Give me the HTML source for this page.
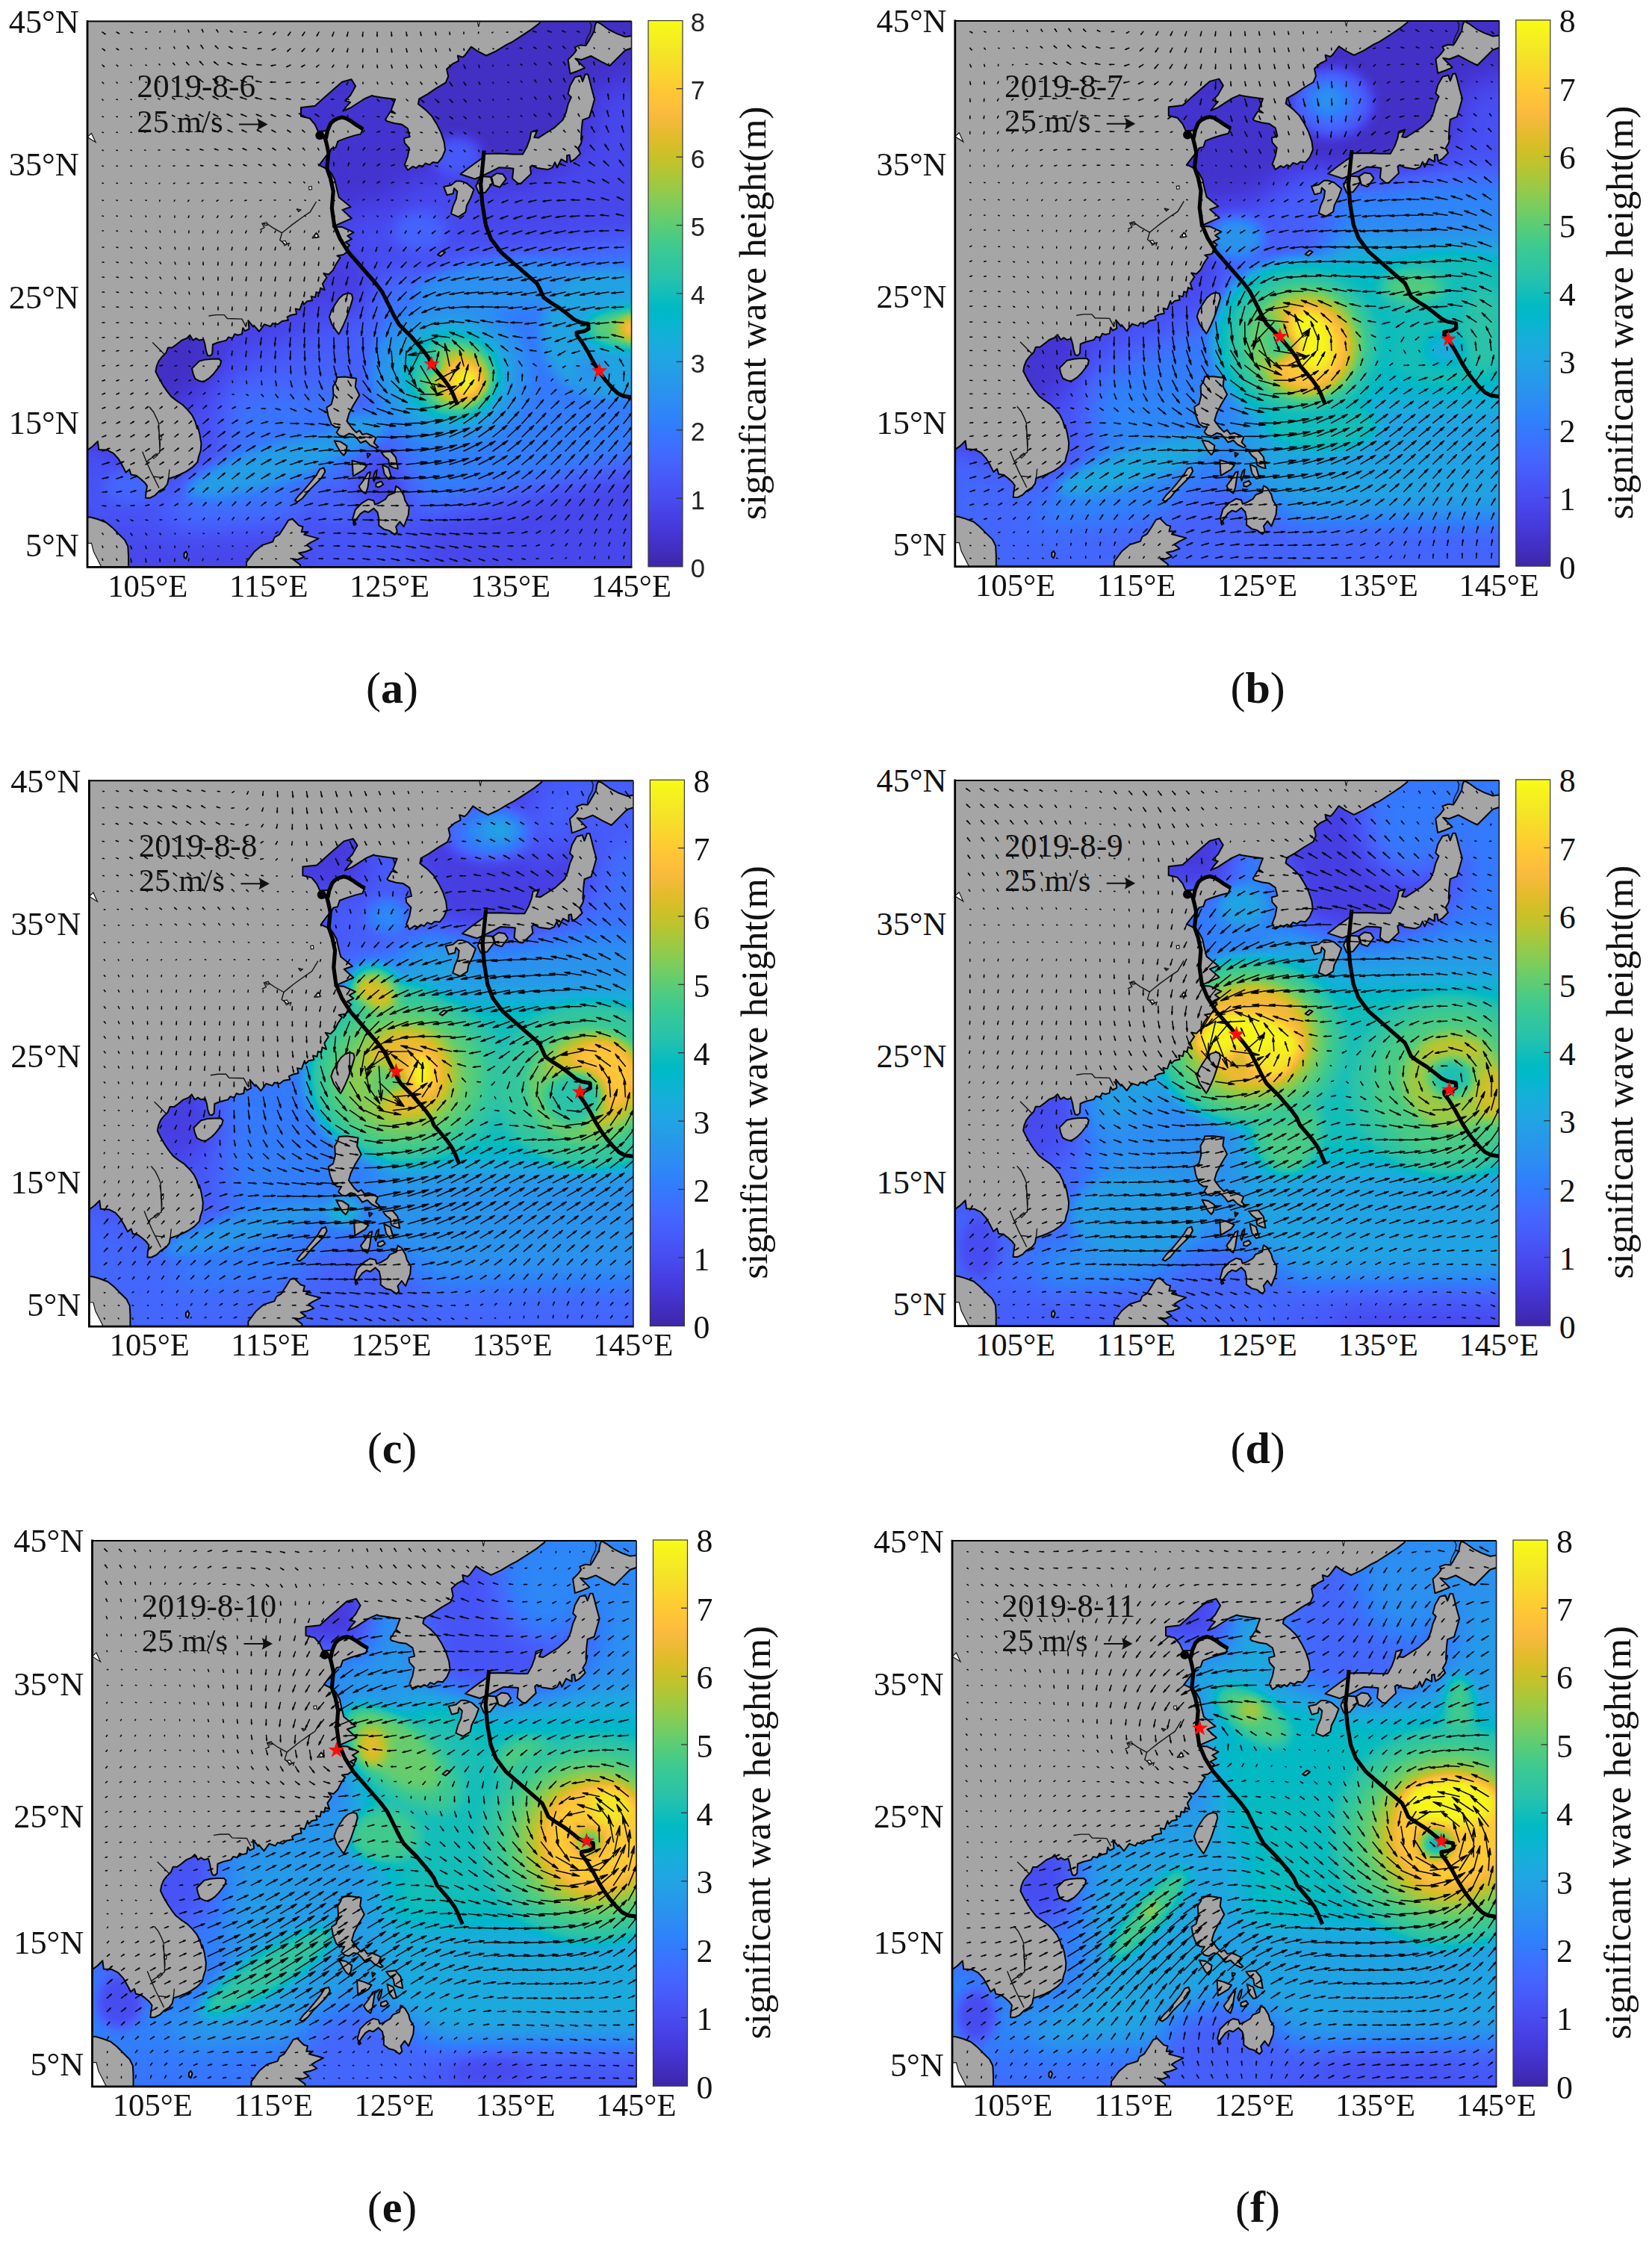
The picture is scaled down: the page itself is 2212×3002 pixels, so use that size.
<!DOCTYPE html><html><head><meta charset="utf-8"><title>Significant wave height</title>
<style>html,body{margin:0;padding:0;background:#fff}svg{display:block}.ser{font-family:"Liberation Serif","Times New Roman",serif;fill:#111}.san{font-family:"Liberation Sans",Arial,sans-serif;fill:#222}</style></head><body>
<svg width="2212" height="3002" viewBox="0 0 2212 3002">
<defs>
<filter id="cm" filterUnits="userSpaceOnUse" x="27" y="-61.4" width="908.6" height="910.8" color-interpolation-filters="sRGB">
<feComponentTransfer><feFuncR type="table" tableValues="0.2422 0.2504 0.2578 0.2647 0.2706 0.2751 0.2783 0.2803 0.2813 0.2810 0.2795 0.2760 0.2699 0.2602 0.2440 0.2206 0.1963 0.1834 0.1786 0.1764 0.1687 0.1540 0.1460 0.1380 0.1248 0.1113 0.0952 0.0689 0.0297 0.0036 0.0067 0.0433 0.0964 0.1408 0.1717 0.1938 0.2161 0.2470 0.2906 0.3406 0.3909 0.4456 0.5044 0.5616 0.6174 0.6720 0.7242 0.7738 0.8203 0.8634 0.9035 0.9393 0.9728 0.9956 0.9970 0.9952 0.9892 0.9786 0.9676 0.9610 0.9597 0.9628 0.9691 0.9769"/><feFuncG type="table" tableValues="0.1504 0.1650 0.1818 0.1978 0.2147 0.2342 0.2559 0.2782 0.3006 0.3228 0.3447 0.3667 0.3892 0.4123 0.4358 0.4603 0.4847 0.5074 0.5289 0.5499 0.5703 0.5902 0.6091 0.6276 0.6459 0.6635 0.6798 0.6948 0.7082 0.7203 0.7312 0.7411 0.7500 0.7584 0.7670 0.7758 0.7843 0.7918 0.7973 0.8008 0.8029 0.8024 0.7993 0.7942 0.7876 0.7793 0.7698 0.7598 0.7498 0.7406 0.7330 0.7288 0.7298 0.7434 0.7659 0.7893 0.8136 0.8386 0.8639 0.8890 0.9135 0.9373 0.9606 0.9839"/><feFuncB type="table" tableValues="0.6603 0.7076 0.7511 0.7952 0.8364 0.8710 0.8991 0.9221 0.9414 0.9579 0.9717 0.9829 0.9906 0.9952 0.9988 0.9973 0.9892 0.9798 0.9682 0.9520 0.9359 0.9218 0.9079 0.8973 0.8883 0.8763 0.8598 0.8394 0.8163 0.7917 0.7660 0.7394 0.7120 0.6842 0.6554 0.6251 0.5923 0.5567 0.5188 0.4789 0.4354 0.3909 0.3480 0.3045 0.2612 0.2227 0.1910 0.1646 0.1535 0.1596 0.1774 0.2100 0.2394 0.2371 0.2199 0.2028 0.1885 0.1766 0.1643 0.1537 0.1423 0.1265 0.1064 0.0805"/><feFuncA type="linear" slope="0" intercept="1"/></feComponentTransfer>
</filter>
<filter id="b0" filterUnits="userSpaceOnUse" x="27" y="-61.4" width="908.6" height="910.8" color-interpolation-filters="sRGB"><feGaussianBlur stdDeviation="20"/></filter>
<filter id="b1" filterUnits="userSpaceOnUse" x="27" y="-61.4" width="908.6" height="910.8" color-interpolation-filters="sRGB"><feGaussianBlur stdDeviation="8"/></filter>
<clipPath id="mc"><rect x="117" y="28.6" width="728.6" height="730.8"/></clipPath>
<linearGradient id="cb" x1="0" y1="1" x2="0" y2="0">
<stop offset="0.0000" stop-color="#3e26a8"/>
<stop offset="0.0159" stop-color="#402ab4"/>
<stop offset="0.0317" stop-color="#422ec0"/>
<stop offset="0.0476" stop-color="#4332cb"/>
<stop offset="0.0635" stop-color="#4537d5"/>
<stop offset="0.0794" stop-color="#463cde"/>
<stop offset="0.0952" stop-color="#4741e5"/>
<stop offset="0.1111" stop-color="#4747eb"/>
<stop offset="0.1270" stop-color="#484df0"/>
<stop offset="0.1429" stop-color="#4852f4"/>
<stop offset="0.1587" stop-color="#4758f8"/>
<stop offset="0.1746" stop-color="#465efb"/>
<stop offset="0.1905" stop-color="#4563fd"/>
<stop offset="0.2063" stop-color="#4269fe"/>
<stop offset="0.2222" stop-color="#3e6fff"/>
<stop offset="0.2381" stop-color="#3875fe"/>
<stop offset="0.2540" stop-color="#327cfc"/>
<stop offset="0.2698" stop-color="#2f81fa"/>
<stop offset="0.2857" stop-color="#2e87f7"/>
<stop offset="0.3016" stop-color="#2d8cf3"/>
<stop offset="0.3175" stop-color="#2b91ef"/>
<stop offset="0.3333" stop-color="#2797eb"/>
<stop offset="0.3492" stop-color="#259be8"/>
<stop offset="0.3651" stop-color="#23a0e5"/>
<stop offset="0.3810" stop-color="#20a5e3"/>
<stop offset="0.3968" stop-color="#1ca9df"/>
<stop offset="0.4127" stop-color="#18addb"/>
<stop offset="0.4286" stop-color="#12b1d6"/>
<stop offset="0.4444" stop-color="#08b5d0"/>
<stop offset="0.4603" stop-color="#01b8ca"/>
<stop offset="0.4762" stop-color="#02bac3"/>
<stop offset="0.4921" stop-color="#0bbdbd"/>
<stop offset="0.5079" stop-color="#19bfb6"/>
<stop offset="0.5238" stop-color="#24c1ae"/>
<stop offset="0.5397" stop-color="#2cc4a7"/>
<stop offset="0.5556" stop-color="#31c69f"/>
<stop offset="0.5714" stop-color="#37c897"/>
<stop offset="0.5873" stop-color="#3fca8e"/>
<stop offset="0.6032" stop-color="#4acb84"/>
<stop offset="0.6190" stop-color="#57cc7a"/>
<stop offset="0.6349" stop-color="#64cd6f"/>
<stop offset="0.6508" stop-color="#72cd64"/>
<stop offset="0.6667" stop-color="#81cc59"/>
<stop offset="0.6825" stop-color="#8fcb4e"/>
<stop offset="0.6984" stop-color="#9dc943"/>
<stop offset="0.7143" stop-color="#abc739"/>
<stop offset="0.7302" stop-color="#b9c431"/>
<stop offset="0.7460" stop-color="#c5c22a"/>
<stop offset="0.7619" stop-color="#d1bf27"/>
<stop offset="0.7778" stop-color="#dcbd29"/>
<stop offset="0.7937" stop-color="#e6bb2d"/>
<stop offset="0.8095" stop-color="#f0ba36"/>
<stop offset="0.8254" stop-color="#f8ba3d"/>
<stop offset="0.8413" stop-color="#febe3c"/>
<stop offset="0.8571" stop-color="#fec338"/>
<stop offset="0.8730" stop-color="#fec934"/>
<stop offset="0.8889" stop-color="#fccf30"/>
<stop offset="0.9048" stop-color="#fad62d"/>
<stop offset="0.9206" stop-color="#f7dc2a"/>
<stop offset="0.9365" stop-color="#f5e327"/>
<stop offset="0.9524" stop-color="#f5e924"/>
<stop offset="0.9683" stop-color="#f6ef20"/>
<stop offset="0.9841" stop-color="#f7f51b"/>
<stop offset="1.0000" stop-color="#f9fb15"/>
</linearGradient>
</defs>
<rect width="2212" height="3002" fill="#fff"/>
<g transform="translate(0,0)">
<g clip-path="url(#mc)">
<g filter="url(#cm)">
<rect x="27" y="-61.4" width="908.6" height="910.8" fill="#0e0e0e"/>
<g filter="url(#b0)">
<path d="M62.6,710.1 516.6,710.1 925.2,623.8 925.2,837.2 62.6,837.2Z" fill="#1d1d1d"/>
<path d="M493.9,542.1 925.2,542.1 925.2,610.2 562,691.9Z" fill="#434343"/>
<path d="M498.4,346.9 925.2,310.6 925.2,542.1 498.4,542.1Z" fill="#404040"/>
<path d="M607.4,233.4 925.2,210.7 925.2,319.6 516.6,356Z" fill="#1d1d1d"/>
<path d="M444,274.2 516.6,274.2 566.5,233.4 607.4,237.9 630.1,301.5 607.4,365 503,378.7 453,346.9Z" fill="#202020"/>
<path d="M289.6,496.7 380.4,458.1 471.2,415 507.5,428.6 507.5,542.1 289.6,551.2Z" fill="#2d2d2d"/>
<path d="M775.4,174.4 802.6,69.9 902.5,69.9 902.5,237.9 743.6,237.9Z" fill="#1d1d1d"/>
<path d="M244.2,542.1 471.2,510.3 507.5,610.2 425.8,701 198.8,710.1Z" fill="#3d3d3d"/>
<path d="M85.3,587.5 221.5,623.8 235.1,710.1 85.3,710.1Z" fill="#262626"/>
<path d="M403.1,664.7 480.3,646.5 562,678.3 562,791.8 403.1,791.8Z" fill="#262626"/>
<path d="M543.8,169.8 543.8,110.8 598.3,56.3 675.5,29.1 752.7,-7.2 902.5,-7.2 902.5,88.1 798.1,119.9 789,174.4 752.7,219.8 698.2,242.5 643.7,247 589.2,224.3Z" fill="#0a0a0a"/>
<path d="M380.4,92.6 525.7,92.6 566.5,169.8 566.5,233.4 516.6,278.8 444,278.8 421.3,201.6 380.4,169.8Z" fill="#0e0e0e"/>
<path d="M198.8,451.3 257.8,437.7 289.6,474 280.5,519.4 244.2,546.6 198.8,514.8Z" fill="#0a0a0a"/>
<path d="M280.5,442.2 362.2,396.8 453,351.4 471.2,419.5 380.4,462.6 298.7,501.2Z" fill="#1a1a1a"/>
<path d="M257.8,519.4 298.7,528.5 303.2,610.2 257.8,664.7 221.5,646.5Z" fill="#202020"/>
</g>
<g filter="url(#b1)">
<ellipse cx="362.2" cy="623.8" rx="118" ry="25" fill="#5c5c5c" transform="rotate(-17 362.2 623.8)"/>
<ellipse cx="480.3" cy="578.4" rx="40.9" ry="22.7" fill="#595959" transform="rotate(-20 480.3 578.4)"/>
<ellipse cx="176.1" cy="651" rx="36.3" ry="22.7" fill="#333333"/>
<ellipse cx="611.9" cy="208.4" rx="17.3" ry="13.6" fill="#4c4c4c"/>
<ellipse cx="611.9" cy="210.7" rx="34" ry="27.2" fill="#292929"/>
<ellipse cx="562" cy="310.6" rx="36.3" ry="27.2" fill="#303030"/>
<ellipse cx="675.5" cy="383.2" rx="118" ry="31.8" fill="#505050" transform="rotate(-5 675.5 383.2)"/>
<ellipse cx="816.2" cy="446.7" rx="90.8" ry="86.3" fill="#606060"/>
<ellipse cx="852.5" cy="439.9" rx="68.1" ry="27.2" fill="#9f9f9f"/>
<ellipse cx="866.2" cy="439.9" rx="38.6" ry="18.2" fill="#dcdcdc"/>
<ellipse cx="789" cy="496.7" rx="20.4" ry="18.2" fill="#535353"/>
<ellipse cx="602.8" cy="501.2" rx="106.7" ry="97.6" fill="#505050"/>
<ellipse cx="603.8" cy="501.7" rx="84" ry="77.2" fill="#606060"/>
<ellipse cx="605.1" cy="502.1" rx="67.2" ry="62.7" fill="#767676"/>
<ellipse cx="609.7" cy="504" rx="52.7" ry="49.9" fill="#9c9c9c"/>
<ellipse cx="615.6" cy="506.7" rx="39" ry="37.2" fill="#bfbfbf"/>
<ellipse cx="620.1" cy="508.5" rx="26.3" ry="25.4" fill="#e2e2e2"/>
<ellipse cx="624.6" cy="509.4" rx="13.6" ry="12.7" fill="#ffffff"/>
<ellipse cx="577.9" cy="489.9" rx="11.8" ry="10.9" fill="#737373"/>
<ellipse cx="453" cy="678.3" rx="27.2" ry="22.7" fill="#303030"/>
</g>
</g>
<path d="M108,20 723,20 722.7,30.7 713,38.4 700.5,46.7 685.2,56.5 678.2,59.9 664.3,68.3 651.1,74.5 639.2,68.3 630.9,62.7 623.2,73.2 619.7,76.6 612.8,74.5 614.2,81.5 605.8,85.7 598.1,92.6 600.2,102.4 596.8,110.7 584.9,117.7 572.4,126.1 561.3,132.3 559.9,139.3 569.6,146.9 578,155.3 584.9,166.4 590.5,177.6 594.7,190.1 596.1,201.2 591.9,211 586.3,217.9 579.4,217.2 575.2,220.7 569.6,218.6 565.4,223.5 561.3,221.4 557.1,224.9 552.9,222.8 545.9,227.7 541.8,220.7 545.9,209.6 548,198.5 541.8,191.5 541.1,185.2 548.7,183.1 545.9,172 537.6,166.4 527.8,165 518.1,162.3 516,160.2 522.3,149.7 529.2,151.8 523.7,147.6 529.2,133 513.9,130.9 500,128.8 498.3,127.8 488.6,132 477.5,139 469.1,144.5 459.4,148.7 463.5,143.2 469.1,136.9 462.1,134.8 469.1,127.8 476.1,115.3 470.5,106.3 458,109.7 446.8,119.5 435.7,129.2 421.8,141.8 403,143.9 403,155.7 414.8,158.5 421.8,166.8 425.9,175.9 438.5,175.2 445.4,162.6 455.2,157.8 464.9,159.2 476.1,166.1 485.8,172.4 483,179.4 474.7,181.4 463.5,184.9 452.4,189.1 449.6,197.5 444,198.8 441.3,203.7 435.7,210 427.3,221.1 438.5,226.7 443.3,231.6 448.2,240.6 451,253.1 453.8,264.3 469.5,277 458.3,281.1 470.9,292.3 445.8,303.4 458.3,304.1 473.6,311.1 465.3,315.9 470.9,320.1 462.5,324.3 468.1,328.5 462.5,332.6 465.3,336.8 459.7,341 451.4,342.4 455.6,345.2 450,353.5 445.8,361.9 440.2,367.5 433.3,366.1 437.5,371.6 431.9,380 434.7,388.3 429.1,385.6 427.7,392.5 423.5,391.1 422.1,398.1 416.6,396.7 418,402.3 411,403.6 406.8,407.8 405.4,403.6 401.3,414.8 395.7,413.4 397.1,420.4 390.1,421.7 384.5,424.5 385.9,428.7 377.6,430.1 372,434.3 365.1,432.9 362.3,437.1 353.9,434.3 347,444 340,435.7 339.2,437.6 332.3,429.2 333.6,440.4 328.1,443.2 325.3,439 323.9,447.3 318.3,448.7 314.2,447.3 311.4,452.9 305.8,451.5 303,455.7 297.5,457.1 291.9,458.5 284.9,461.3 284.2,473.8 281.4,476.6 278,475.9 275.9,469.6 274.5,461.3 272.4,454.3 266.8,455.7 262.6,452.9 258.5,455.7 254.3,448.7 250.1,452.9 243.2,455.7 236.2,461.3 230.6,465.4 225.1,465.4 222.3,472.4 216.7,478 212.5,483.5 209.7,490.5 208.4,497.5 212.5,505.8 218.1,515.6 223.7,523.9 229.2,530.9 236.2,536.4 244.5,542 251.5,549 257.1,555.9 261.3,564.3 264,574 264.5,570 267.3,581.1 269.4,593.7 268.7,603.4 265.9,611.8 264.5,618.7 257.6,625.7 249.2,631.3 240.9,635.4 233.9,638.2 225.6,641 224.2,648 220,653.5 213,657.7 207.5,663.3 200.5,666.8 194.9,666.8 195.6,659.1 197,650.7 193.5,645.9 188,641 182.4,636.8 175.4,635.4 173.3,628.5 168.5,632.6 164.3,624.3 158.7,614.5 151.8,606.9 143.4,602.7 132.3,602 130.9,590.9 123.9,597.8 117,602.7 108,602Z M108,690 117,692.5 121.1,692.5 130.9,695.3 142,699.5 150.4,706.4 158.7,714.8 167.1,723.1 171.3,731.5 172,744 172,767.7 108,768Z M330,752.7 340.5,738.7 351.1,729.9 365.1,725.5 367.7,719.4 373.9,715.9 380.9,705.3 386.2,696.5 391.4,694.8 394.9,698.3 400.2,703.6 405.5,705.3 403.7,712.3 412.5,712.3 407.2,715.9 426.5,721.1 416,726.4 410.7,729.9 417.8,735.2 409,738.7 400.2,740.4 407.2,745.7 398.5,749.2 391.4,748.3 402,756.2 402,768.5 330,768.5Z M394.9,670.2 400.2,663.2 407.2,656.2 416,645.6 423,636.9 428.3,628.1 433.6,626.3 435.3,631.6 430.1,640.4 421.3,649.1 412.5,657.9 405.5,666.7 398.5,672Z M472.2,694.8 475.7,682.5 484.5,673.7 493.2,668.5 500.3,670.2 502,675.5 507.3,673.7 516.1,668.5 519.6,663.2 528.4,659.7 530.1,650.9 535.4,654.4 540.6,663.2 542.4,670.2 547.7,679 546.8,689.5 540.6,705.3 535.4,698.3 530.1,705.3 531.9,712.3 528.4,715.9 521.3,710.6 514.3,708.8 507.3,703.6 507.3,694.8 505.5,686 500.3,680.7 493.2,686 488,684.3 482.7,687.8 477.4,694.8 473.9,700.1Z M473.1,700.9 475.7,699.7 476.6,701.8 474.3,703.2Z M246.5,741 249,738.5 251,742 249,748 246.5,746Z M586,341 592,336 596,338 590,343Z M257.1,493.3 261.3,489.1 266.8,483.5 275.2,481.4 283.5,480.7 293.3,480.5 296.1,483.5 294.7,489.1 290.5,494.7 286.3,500.2 280.7,505.8 272.4,511.4 266.8,510 261.3,507.2 258.5,500.2Z M466,392.5 470.9,393.9 472.3,399.5 469.5,409.2 466.7,417.6 463.9,425.9 459.7,435.7 455.6,444 453.5,447.5 450,442.6 444.4,434.3 440.9,424.5 443.7,416.2 448.6,407.8 454.2,399.5 459.7,394.6Z M451.3,505.3 461.8,504.6 477.1,506.7 475.7,517.8 481.3,529 472.9,542.9 467.3,554 464.5,563.8 471.5,573.5 477.1,579.1 481.3,576.3 485.4,581.9 491,580.5 498,583.3 503.5,586.1 500.7,593 506.3,598.6 503.5,600 495.2,595.8 489.6,590.2 482.6,593 478.5,587.5 472.9,581.9 467.3,580.5 460.4,584.7 454.8,583.3 450.6,579.1 454.8,572.1 449.2,572.1 443.7,568 439.5,556.8 437.4,545.7 443.7,541.5 446.5,530.4 445.8,517.8 449.9,510.9Z M447.8,590.2 456.2,591.6 464.5,597.2 463.2,605.6 460.4,609.7 456.2,605.6 452,598.6Z M471.5,616.7 481.3,619.5 491,623.6 486.8,629.2 479.9,633.4 472.9,637.6 472.2,626.4Z M491.7,606.9 495.9,608.3 492.4,612.5Z M510.5,605.6 523,604.2 530,612.5 532.8,627.8 527.2,626.4 521.6,623.6 520.2,615.3 514.7,611.1Z M511.9,622.3 520.2,626.4 524.4,640.4 520.2,641.7 514.7,634.8Z M492.4,633.4 495.9,632 493.8,643.1 492.4,652.9 489.6,661.2 484,657.1 480.6,651.5 486.8,643.1Z M502.1,632 504.9,629.2 503.5,637.6 500.7,644.5 499.4,640.4Z M503.5,647.3 510.5,644.5 513.3,648.7 507.7,652.2 503.5,651.5Z M616.5,233.3 626.2,225.7 635.9,218.7 645.7,211.8 649.2,205.9 668,205.6 687.5,206.5 700,206.5 705.6,196.5 709.7,185.3 711.1,177 719.5,174.2 715.3,183.9 720.9,184.6 730.6,178.4 741.7,171.4 753.6,160.6 757.8,150.9 760.6,139.7 764.8,130 760.6,125.8 763.4,114.7 769.7,103.5 777.3,101.4 780.1,109.1 783.6,99.4 787.1,99.4 789.1,106.3 792.6,120.2 796.1,132.8 792.6,145.3 789.1,157.1 780.1,160.6 778.7,173.1 778,187.1 780,182.5 777.9,192.3 773.8,199.2 777.2,205.5 769.6,213.2 764,216.6 762.6,207.6 759.1,208.3 759.1,217.3 751.5,213.2 745.9,224.3 743.1,217.3 739.7,224.3 733.4,227.1 719.5,225 712.5,221.5 709.7,223.6 711.1,232.6 697.2,245.9 693,245.2 686.1,238.9 687.5,225.7 681.9,225 668,224.3 656.8,230.1 645.7,235.4 635.9,239.6Z M642.9,236.1 656.8,237.1 659.6,245.2 649.9,257.7 641.5,259.1 637.3,249.4Z M658.2,236.8 665.2,232 673.5,233.3 677.7,239.6 669.4,250.7 661,248Z M616.5,242.4 624.8,245.2 634.5,253.5 630.4,264.7 624.8,275.8 623.4,284.2 613.7,290.4 603.9,286.2 606.7,275.8 610.9,266.1 612.3,256.3 608.1,252.1 606.7,259.1 598.4,261.2 595.6,253.5 594.2,250.1 603.9,248 610.9,242.4Z M798.9,29 805.2,32.5 814.9,39.5 826,45.1 837.2,49.2 853.9,47.1 853.9,61.8 837.2,67.3 828.8,75.7 820.5,84 816.3,88.2 805.2,82.6 791.2,75 778.7,79.9 770.4,78.5 782.9,91 773.1,95.2 763.4,98.7 760.6,79.9 767.6,72.9 771.7,67.3 769.7,63.2 777.3,60.4 784.3,61.1 787.1,56.9 795.4,42.3 796.8,33.9Z" fill="#a5a5a5" stroke="#050505" stroke-width="2" stroke-linejoin="round"/>
<path d="M108,727 117,727.3 122.5,727.3 125.3,738.5 130.9,749.6 136.5,760.7 108,768Z M637.5,20 644,20 640.8,36Z M117,183.5 122.5,178.5 128,190.5Z M378,323 382,322.5 384.5,327 381,329Z M353,298.5 357,297.5 358.5,301 355,302Z M421.5,314.5 425.5,313 426,318 422,318.5Z M413.5,250 417,249.5 417.5,253.5 414,254Z M213,582 216.5,583 216,589 213,588Z M204,611.5 209,607.5 211,609.5 206,614Z" fill="#fff" stroke="#111" stroke-width="1.2"/>
<path d="M789.1,27.7 791.9,33.9 790.5,42.3 786.4,49.9 784.3,56.2 784.3,60.4 M423.5,270 415.2,283.9 406.8,289.5 391.5,300.6 384.5,306.2 377.6,311.8 374.8,321.5 381.8,327.1 387.3,325.7 385.9,329.9 M377.6,311.8 365.1,304.8 358.1,299.9 351.1,299.2 353.9,304.8 348.4,307.6 M418,318.7 423.5,311.8 427,317.3 418,318.7 M397.1,279.7 402.6,281.1 399.9,283.2 397.1,279.7 M279.4,423 289.1,421.6 300.2,421.6 304.4,426.5 323.9,427.1 329.5,437.6 M204.2,458.5 220.9,475.2 M211.6,570 213.7,583.9 214.4,595.1 213.7,606.2 207.5,610.4 199.1,615.9 196.3,618.7 M190.7,604.8 196.3,618.7 201.9,631.3 207.5,642.4 213,653.5 M226.9,628.5 225.6,641 M206.1,638.2 218.6,639.6 M200,544.8 205.6,551.7 209.7,560.1 212.5,567.1 213.2,581 213.9,600.1" fill="none" stroke="#111" stroke-width="1.4"/>
<text class="ser" x="183.3" y="130.3" font-size="43.3" fill="#0b0b0b">2019-8-6</text>
<text class="ser" x="183.3" y="176.8" font-size="42.8" fill="#0b0b0b">25 m/s</text>
<path d="M320,166.5H356" stroke="#111" stroke-width="2" fill="none"/><path d="M358.5,166.5L344,158.5Q348,166.5 344,174.5Z" fill="#111"/>
<path d="M137,43l4.1,2.8m-1.1-1.1l1.1,1.1l-1.4-.6M156,43l3.5,1.9m-1-.8l1,.8l-1.2-.4M175,43l2.8,.9M195,43l1.8-.1M214,43l.8-1.1M234,43l-.2-2.1M253,43l-1.1-2.9M272,43l-1.6-3.6m.3,1.2l-.3-1.2l.7,1M292,43l-2.1-3.1m.5,1l-.5-1l.8,.8M311,43l-2.7-1.8m.7,.7l-.7-.7l.9,.4M330,43l-3.1-.2M350,43l-3.3,1.5m1.1-.3l-1.1,.3l.9-.7M369,43l-3.2,3.3m1.2-.8l-1.2,.8l.8-1.2M389,43l-3.3,4.5m1.2-1.2l-1.2,1.2l.7-1.5M408,43l-3.2,4.8m1.2-1.3l-1.2,1.3l.7-1.6M427,43l-2.8,5.1m1.1-1.4l-1.1,1.4l.5-1.7M447,43l-2.1,5.4m.9-1.5l-.9,1.5l.3-1.7M466,43l-1.4,5.6m.7-1.6l-.7,1.6l.1-1.8M486,43l-.6,5.7m.5-1.7l-.5,1.7l-.1-1.8M505,43l0,5.7m.3-1.7l-.3,1.7l-.3-1.7M524,43l.5,5.5m.2-1.7l-.2,1.7l-.5-1.6M544,43l.8,5.2m.1-1.6l-.1,1.6l-.5-1.5M563,43l.9,4.6m0-1.4l0,1.4l-.5-1.3M583,43l.7,4m0-1.2l0,1.2l-.5-1.2M602,43l.4,3.3m.1-1l-.1,1l-.3-1M621,43l0,2.4M641,43l-.5,1.6M660,43l-1.1,.9M680,43l-1.6,.2M699,43l-2-.4M718,43l-4.5-1.5m1.3,.7l-1.3-.7l1.4,.2M738,43l-4.6-1.8m1.3,.8l-1.3-.8l1.5,.3M757,43l-4.2-1.8m1.1,.8l-1.1-.8l1.3,.3M776,43l-3.3-1.3m.9,.6l-.9-.6l1.1,.2M796,43l1.2,.4M815,43l1.2,.4M835,43l1.6,2M137,65l3.3,2.6m-.8-1l.8,1l-1.1-.6M156,65l2.7,1.8m-.7-.7l.7,.7l-.9-.4M175,65l1.9,.9M195,65l1.2,.4M214,65l-.2-1.2M234,65l-1.2-2.4M253,65l-2.2-3.5m.5,1.2l-.5-1.2l.9,.9M272,65l-3-4.5m.7,1.5l-.7-1.5l1.2,1.2M292,65l-3.8-3.7m.9,1.3l-.9-1.3l1.4,.9M311,65l-4.4-2.5m1.2,1l-1.2-1l1.5,.5M330,65l-4.8-1.1m1.4,.6l-1.4-.6l1.5,.1M350,65l-4.8,.5m1.5,.1l-1.5-.1l1.4-.4M369,65l-4.7,2.2m1.5-.4l-1.5,.4l1.3-.9M389,65l-4.2,3.8m1.5-.9l-1.5,.9l1-1.4M408,65l-3.8,3.9m1.4-.9l-1.4,.9l.9-1.4M427,65l-3.1,4m1.2-1l-1.2,1l.7-1.4M447,65l-2.2,4.3m.9-1.2l-.9,1.2l.4-1.4M466,65l-1.4,4.6m.7-1.3l-.7,1.3l.1-1.4M486,65l-.5,4.8m.4-1.4l-.4,1.4l-.1-1.5M505,65l.2,4.9m.2-1.5l-.2,1.5l-.3-1.5M524,65l.8,4.9m0-1.5l0,1.5l-.5-1.4M544,65l1.1,4.7m-.1-1.5l.1,1.5l-.6-1.3M563,65l1.3,4.4m-.1-1.4l.1,1.4l-.6-1.2M583,65l1.2,3.9m-.1-1.2l.1,1.2l-.6-1.1M602,65l.9,3.2m-.1-1l.1,1l-.5-.9M621,65l.5,2.5M641,65l0,1.7M660,65l1.2,.4M680,65l-2,.4M699,65l-2.8-.9M718,65l-3.4-2m.9,.8l-.9-.8l1.1,.4M738,65l-3.5-2.7m.9,1l-.9-1l1.2,.6M757,65l-3.2-3m.8,1.1l-.8-1.1l1.1,.7M776,65l-1.3-1.5M796,65l-.7-1.2M815,65l1.2,.4M835,65l1.2,.4M137,87l2.5,2.3m-.6-.8l.6,.8l-.9-.5M156,87l1.9,1.6M175,87l1,.8M195,87l1.2,.4M214,87l-1-1.3M234,87l-2.2-2.5m.5,.9l-.5-.9l.8,.6M253,87l-3.4-3.6m.8,1.3l-.8-1.3l1.2,.9M272,87l-4.6-4.8m1.1,1.7l-1.1-1.7l1.7,1.2M292,87l-5.4-4.2m1.4,1.6l-1.4-1.6l1.9,.9M311,87l-6-3.2m1.6,1.3l-1.6-1.3l2,.6M330,87l-6.2-1.9m1.8,.9l-1.8-.9l2,.2M350,87l-6.2-.4m1.8,.5l-1.8-.5l1.9-.2M369,87l-5.9,1.1m1.8,0l-1.8,0l1.7-.7M389,87l-5.3,2.6m1.7-.5l-1.7,.5l1.4-1.1M408,87l-4.3,2.5m1.4-.5l-1.4,.5l1.1-1M427,87l-3.3,2.7m1.1-.6l-1.1,.6l.8-1M447,87l-2.2,3m.8-.8l-.8,.8l.5-1M466,87l-1.2,3.3m.6-.9l-.6,.9l.2-1.1M486,87l-.3,3.6m.3-1.1l-.3,1.1l-.1-1.1M505,87l.5,3.8m.1-1.2l-.1,1.2l-.4-1.1M524,87l1.1,4m-.1-1.3l.1,1.3l-.6-1.1M544,87l1.5,4m-.2-1.3l.2,1.3l-.7-1.1M563,87l1.7,3.8m-.3-1.2l.3,1.2l-.7-1M583,87l1.6,3.5m-.3-1.1l.3,1.1l-.7-.9M602,87l1.4,3m-.3-1l.3,1l-.6-.8M621,87l2,4.7m-.3-1.5l.3,1.5l-.9-1.3M641,87l1,3.3m-.1-1l.1,1l-.5-.9M660,87l-.1,1.8M680,87l1.2,.4M699,87l-2-1.2M718,87l-2.6-2.5m.6,.9l-.6-.9l.9,.6M738,87l-2.9-3.5m.7,1.2l-.7-1.2l1.1,.9M757,87l-2.7-4.1m.6,1.4l-.6-1.4l1,1.1M776,87l-1.1-2.2M796,87l-1.2-4.3m.1,1.4l-.1-1.4l.6,1.2M815,87l.1-1.9M835,87l1.6-3m-.7,.8l.7-.8l-.3,1M137,110l1.7,1.8M156,110l1.1,1.2M175,110l1.2,.4M195,110l1.2,.4M214,110l-1.8-1.3M234,110l-3-2.3m.8,.9l-.8-.9l1,.5M253,110l-4.3-3.4m1.1,1.3l-1.1-1.3l1.5,.8M272,110l-5.7-4.4m1.5,1.6l-1.5-1.6l2,1M292,110l-6.8-4.4m1.8,1.7l-1.8-1.7l2.3,.9M311,110l-7.3-3.6m2,1.5l-2-1.5l2.4,.7M330,110l-7.5-2.6m2.1,1.2l-2.1-1.2l2.4,.3M350,110l-7.4-1.4m2.1,.8l-2.1-.8l2.3,0M369,110l-7,0m2.1,.4l-2.1-.4l2.1-.4M389,110l-5.9,.7m1.8,.1l-1.8-.1l1.7-.5M408,110l-4.5,.8m1.4,0l-1.4,0l1.3-.5M427,110l-3.3,1m1-.1l-1,.1l.9-.5M447,110l-2.1,1.4M466,110l-1.9,3.5m.8-1l-.8,1l.4-1.2M486,110l0,2.2M505,110l.9,2.5M524,110l1.5,2.8m-.3-.9l.3,.9l-.6-.8M544,110l1.9,3m-.4-1l.4,1l-.7-.8M563,110l2.1,3m-.5-1l.5,1l-.8-.8M583,110l2.1,2.8m-.5-1l.5,1l-.8-.7M602,110l3.6,5m-.8-1.7l.8,1.7l-1.4-1.3M621,110l2.8,4.1m-.6-1.4l.6,1.4l-1.1-1.1M641,110l1.7,2.9m-.4-1l.4,1l-.7-.8M660,110l.6,1.5M680,110l1.2,.4M699,110l-1.5-1.5M718,110l-2.2-2.9m.5,1l-.5-1l.8,.7M738,110l-2.6-4.1m.5,1.4l-.5-1.4l1,1.1M757,110l-2.6-5.1m.5,1.7l-.5-1.7l1.1,1.4M776,110l-1.1-2.8M796,110l-1.4-6m.1,1.9l-.1-1.9l.8,1.7M815,110l-.3-5.8m-.2,1.8l.2-1.8l.4,1.7M835,110l1-5.4m-.6,1.6l.6-1.6l0,1.7M137,133l1,1.2M156,133l1.2,.4M175,133l1.2,.4M195,133l-1.2-.3M214,133l-2.2-1.1M234,133l-3.4-2m.9,.8l-.9-.8l1.1,.4M253,133l-4.6-2.9m1.2,1.1l-1.2-1.1l1.5,.6M272,133l-5.8-3.6m1.5,1.4l-1.5-1.4l2,.7M292,133l-7.1-4m1.9,1.6l-1.9-1.6l2.4,.8M311,133l-8.1-3.8m2.2,1.6l-2.2-1.6l2.7,.7M330,133l-8.4-3m2.3,1.4l-2.3-1.4l2.7,.4M350,133l-8.1-2.1m2.3,1.1l-2.3-1.1l2.5,.2M369,133l-6.9-1.4m2,.8l-2-.8l2.2,0M389,133l-5.6-1m1.6,.6l-1.6-.6l1.7,0M408,133l-4.3-.8m1.2,.5l-1.2-.5l1.3,0M427,133l-3-.5M447,133l-3.5-.2m1.1,.3l-1.1-.3l1.1-.2M466,133l1.2,.4M486,133l1.2,.4M505,133l2.5,2.6m-.6-.9l.6,.9l-.9-.6M524,133l3.7,3.4m-.9-1.2l.9,1.2l-1.3-.8M544,133l2.2,2M563,133l4.8,4.3m-1.2-1.6l1.2,1.6l-1.7-1M583,133l4.6,4.3m-1.1-1.6l1.1,1.6l-1.6-1M602,133l4.1,4m-1-1.4l1,1.4l-1.5-1M621,133l3.2,3.4m-.8-1.2l.8,1.2l-1.1-.8M641,133l2.1,2.4M660,133l.8,1.3M680,133l1.2,.4M699,133l-1.4-1.6M718,133l-2.3-3m.5,1l-.5-1l.9,.8M738,133l-2.8-4.4m.6,1.5l-.6-1.5l1.1,1.2M757,133l-2.9-5.6m.6,1.8l-.6-1.8l1.2,1.5M776,133l-1.3-3.2m.2,1l-.2-1l.6,.9M796,133l-1-3.5m.1,1.1l-.1-1.1l.5,1M815,133l-1.1-7.3m-.1,2.3l.1-2.3l.8,2.1M835,133l0-7.2m-.4,2.2l.4-2.2l.4,2.2M137,156l1.2,.4M156,156l1.2,.4M175,156l1.2,.4M195,156l-1.4-.3M214,156l-2.4-.9M234,156l-3.4-1.6m.9,.7l-.9-.7l1.1,.3M253,156l-4.4-2.3m1.2,.9l-1.2-.9l1.5,.4M272,156l-5.5-2.9m1.5,1.2l-1.5-1.2l1.8,.5M292,156l-6.4-3.2m1.7,1.3l-1.7-1.3l2.1,.6M311,156l-7-3.3m1.9,1.4l-1.9-1.4l2.3,.6M330,156l-7.2-3.1m2,1.3l-2-1.3l2.3,.5M350,156l-6.8-2.8m1.9,1.2l-1.9-1.2l2.2,.4M369,156l-6-2.4m1.7,1.1l-1.7-1.1l1.9,.4M389,156l-5-2.2m1.4,.9l-1.4-.9l1.6,.4M408,156l-7.5-3.9m2,1.6l-2-1.6l2.5,.7M427,156l-5.1-3.3m1.3,1.3l-1.3-1.3l1.7,.7M447,156l-2.7-2.5m.7,.9l-.7-.9l.9,.6M466,156l-.5-1.6M486,156l1.5-.6M505,156l3.1,.4M524,156l2.1,.7M544,156l2.5,1.1M563,156l2.6,1.4M583,156l4.9,3.1m-1.3-1.2l1.3,1.2l-1.6-.6M602,156l4.2,3.1m-1.1-1.2l1.1,1.2l-1.4-.7M621,156l3.2,2.7m-.8-1l.8,1l-1.1-.6M641,156l2,2.1M660,156l.6,1.1M680,156l1.2,.4M699,156l-1.8-1.4M718,156l-2.8-2.8m.7,1l-.7-1l1,.7M738,156l-3.4-4.3m.8,1.5l-.8-1.5l1.3,1.1M757,156l-1.8-2.8m.4,.9l-.4-.9l.7,.7M776,156l-1.8-3.4m.3,1.1l-.3-1.1l.7,.9M796,156l-3-7.6m.5,2.4l-.5-2.4l1.3,2.1M815,156l-2.3-8.1m.2,2.6l-.2-2.6l1.1,2.3M835,156l-1.2-8.3m-.1,2.6l.1-2.6l.8,2.4M137,177l1.2,.4M156,177l1.2,.4M175,177l1.2,.4M195,177l-1.4-.1M214,177l-2.2-.5M234,177l-3.1-1m.9,.5l-.9-.5l1,.1M253,177l-4-1.6m1.1,.7l-1.1-.7l1.3,.2M272,177l-4.9-2.1m1.3,.9l-1.3-.9l1.6,.4M292,177l-5.5-2.5m1.5,1.1l-1.5-1.1l1.8,.4M311,177l-6-2.8m1.6,1.2l-1.6-1.2l1.9,.5M330,177l-6-2.9m1.6,1.2l-1.6-1.2l2,.5M350,177l-5.7-2.9m1.5,1.2l-1.5-1.2l1.9,.5M369,177l-5.1-2.8m1.4,1.1l-1.4-1.1l1.7,.6M389,177l-4.2-2.7m1.1,1.1l-1.1-1.1l1.4,.6M408,177l-3.1-2.6m.8,.9l-.8-.9l1.1,.6M427,177l-2-2.3M447,177l-.9-2M466,177l.1-1.6M486,177l2.1-2.3M505,177l3.5-1.2m-1.1,.2l1.1-.2l-1,.6M524,177l4.5-.2m-1.4-.2l1.4,.2l-1.3,.3M544,177l5,.7m-1.5-.5l1.5,.5l-1.6,.1M563,177l2.5,.8M583,177l2.3,1M602,177l3.9,2.3m-1-.9l1,.9l-1.3-.5M621,177l2.8,2.3m-.7-.8l.7,.8l-1-.5M641,177l1.4,1.9M660,177l0,1.2M680,177l-1.4,.2M699,177l-2.6-1M718,177l-3.7-2.3m1,.9l-1-.9l1.2,.5M738,177l-2.2-1.9M757,177l-2.4-2.5m.6,.9l-.6-.9l.9,.6M776,177l-2.3-3.2m.5,1.1l-.5-1.1l.9,.8M796,177l-4.3-7.4m.9,2.5l-.9-2.5l1.7,2M815,177l-3.6-8.3m.6,2.7l-.6-2.7l1.5,2.3M835,177l-2.6-8.8m.3,2.8l-.3-2.8l1.3,2.5M137,201l1.2,.4M156,201l1.2,.4M175,201l1.2,.4M195,201l-1.2,.1M214,201l-1.9-.1M234,201l-2.7-.4M253,201l-3.4-.8m1,.4l-1-.4l1.1,.1M272,201l-4.1-1.2m1.1,.6l-1.1-.6l1.3,.1M292,201l-4.6-1.7m1.3,.8l-1.3-.8l1.5,.2M311,201l-4.9-2m1.3,.9l-1.3-.9l1.6,.3M330,201l-4.9-2.3m1.3,1l-1.3-1l1.6,.4M350,201l-4.6-2.5m1.2,1l-1.2-1l1.5,.5M369,201l-4-2.6m1.1,1l-1.1-1l1.4,.6M389,201l-3.3-2.7m.8,1l-.8-1l1.1,.6M408,201l-2.4-2.7m.6,.9l-.6-.9l.9,.7M427,201l-1.4-2.6M447,201l-.8-4.7m0,1.5l0-1.5l.5,1.4M466,201l1-4.1m-.5,1.2l.5-1.2l-.1,1.3M486,201l2.5-3.2m-.9,.8l.9-.8l-.6,1.1M505,201l3.7-2.3m-1.2,.5l1.2-.5l-1,.9M524,201l4.5-1.3m-1.4,.1l1.4-.1l-1.3,.6M544,201l4.8-.3m-1.4-.2l1.4,.2l-1.4,.3M563,201l2.3,.3M583,201l2,.7M602,201l3.1,1.9m-.8-.7l.8,.7l-1-.4M621,201l1.9,2.1M641,201l.4,2M660,201l-1.1,1.5M680,201l-2.6,.8M699,201l-3.9-.2m1.2,.3l-1.2-.3l1.2-.2M718,201l-2.5-.7M738,201l-2.9-1.3M757,201l-3.1-2m.8,.8l-.8-.8l1,.4M776,201l-6.2-5.4m1.6,2l-1.6-2l2.2,1.3M796,201l-5.8-6.6m1.4,2.3l-1.4-2.3l2.1,1.7M815,201l-5.2-7.7m1.1,2.6l-1.1-2.6l2,2M835,201l-4.3-8.5m.8,2.8l-.8-2.8l1.8,2.3M137,222l1.2,.4M156,222l1.2,.4M175,222l1.2,.4M195,222l1.2,.4M214,222l-1.5,.4M234,222l-2.1,.2M253,222l-2.7,0M272,222l-3.3-.4m1,.3l-1-.3l1-.1M292,222l-3.7-.7m1.1,.4l-1.1-.4l1.1,0M311,222l-3.9-1.1m1.1,.6l-1.1-.6l1.2,.1M330,222l-3.9-1.5m1.1,.7l-1.1-.7l1.3,.2M350,222l-3.7-1.8m1,.7l-1-.7l1.2,.3M369,222l-3.2-2m.8,.8l-.8-.8l1.1,.4M389,222l-2.5-2.2m.6,.8l-.6-.8l.9,.5M408,222l-1.8-2.3M427,222l-.9-2.3M447,222l-.2-4.4m-.2,1.3l.2-1.3l.3,1.3M466,222l1.3-4m-.6,1.1l.6-1.1l-.2,1.3M486,222l2.6-3.3m-1,.8l1-.8l-.6,1.1M505,222l3.5-2.5m-1.2,.5l1.2-.5l-.9,.9M524,222l4.1-1.5m-1.3,.2l1.3-.2l-1.1,.7M544,222l2.1-.3M563,222l3.8,.3m-1.1-.3l1.1,.3l-1.2,.1M583,222l3.1,1.1m-.9-.5l.9,.5l-1-.2M602,222l2,1.7M621,222l.6,2.1M641,222l-.5,1.1M660,222l-1.3,1M680,222l-2,.8M699,222l-2.7,.4M718,222l-3.3-.1m1,.2l-1-.2l1-.2M738,222l-3.7-.7m1.1,.4l-1.1-.4l1.1,0M757,222l-7.7-2.7m2.2,1.3l-2.2-1.3l2.5,.4M776,222l-7.8-4.1m2.1,1.7l-2.1-1.7l2.6,.8M796,222l-7.4-5.4m1.9,2l-1.9-2l2.5,1.2M815,222l-6.7-6.5m1.6,2.3l-1.6-2.3l2.4,1.6M835,222l-5.8-7.5m1.3,2.6l-1.3-2.6l2.2,1.9M137,245l1.2,.4M156,245l1.2,.4M175,245l1.2,.4M195,245l1.2,.4M214,245l-.9,.9M234,245l-1.5,.9M253,245l-2,.8M272,245l-2.5,.6M292,245l-2.8,.3M311,245l-3,0M330,245l-3-.4M350,245l-2.8-.7M369,245l-2.4-1.1M389,245l-1.9-1.3M408,245l-1.2-1.5M427,245l-.6-1.6M447,245l.1-1.6M466,245l1.5-3m-.6,.8l.6-.8l-.3,1M486,245l2.4-2.6m-.9,.6l.9-.6l-.6,.9M505,245l3.1-1.9m-1,.4l1-.4l-.8,.8M524,245l3.3-1.2m-1.1,.2l1.1-.2l-.9,.5M544,245l3.1-.3M563,245l2.6,.5M583,245l1.6,1.3M602,245l.4,2M621,245l-.5,1.2M641,245l-1.4,1.3M660,245l-4.3,2.7m1.5-.6l-1.5,.6l1.1-1.1M680,245l-5.9,2.4m1.9-.4l-1.9,.4l1.6-1.1M699,245l-7.3,1.9m2.3-.1l-2.3,.1l2.1-1M718,245l-8.4,1.1m2.6,.2l-2.6-.2l2.4-.8M738,245l-9.1,.1m2.7,.5l-2.7-.5l2.7-.5M757,245l-9.5-1.1m2.8,.9l-2.8-.9l2.9-.2M776,245l-9.5-2.4m2.7,1.3l-2.7-1.3l3,.2M796,245l-9.1-3.7m2.5,1.6l-2.5-1.6l2.9,.6M815,245l-8.3-4.9m2.2,2l-2.2-2l2.8,1M835,245l-7.3-6.1m1.8,2.2l-1.8-2.2l2.5,1.4M137,268l1.2,.4M156,268l1.2,.4M175,268l1.2,.4M195,268l1.2,.4M214,268l-.3,1.4M234,268l-.8,1.5M253,268l-1.3,1.6M272,268l-1.7,1.5M292,268l-2,1.3M311,268l-2.2,1.1M330,268l-2.2,.8M350,268l-2.1,.5M369,268l-1.8,.1M389,268l-1.4-.2M408,268l1.2,.4M427,268l1.2,.4M447,268l1.2,.4M466,268l1.3-1.3M486,268l1.9-1.1M505,268l2.2-.7M524,268l2.2-.1M544,268l1.7,.5M563,268l.9,1.2M583,268l-.2,1.9M602,268l-1.6,2.5M621,268l-1.6,1.5M641,268l-4.8,3.3m1.6-.7l-1.6,.7l1.3-1.3M660,268l-6.5,3.4m2.1-.7l-2.1,.7l1.7-1.4M680,268l-8,3.3m2.6-.5l-2.6,.5l2.2-1.4M699,268l-9.3,3m3-.4l-3,.4l2.6-1.4M718,268l-10.3,2.4m3.2-.1l-3.2,.1l3-1.3M738,268l-11,1.6m3.4,.2l-3.4-.2l3.2-1.1M757,268l-11.3,.6m3.4,.5l-3.4-.5l3.4-.8M776,268l-11.2-.6m3.3,.8l-3.3-.8l3.4-.5M796,268l-10.7-1.8m3.1,1.2l-3.1-1.2l3.3-.1M815,268l-9.9-3.1m2.8,1.5l-2.8-1.5l3.1,.4M835,268l-8.8-4.3m2.4,1.8l-2.4-1.8l2.9,.8M137,289l1.2,.4M156,289l1.2,.4M175,289l.9,.9M195,289l.6,1.4M214,289l.2,1.8M234,289l-.2,2.1M253,289l-.7,2.3M272,289l-1.1,2.3M292,289l-1.4,2.3M311,289l-1.6,2.2M330,289l-1.7,2M350,289l-1.6,1.7M369,289l-1.4,1.4M389,289l-1,1.1M408,289l1.2,.4M427,289l1.2,.4M447,289l1.2,.4M466,289l1.2,.4M486,289l1.1,.9M505,289l1.1,1.1M524,289l.8,1.4M544,289l0,1.8M563,289l-1,2.2M583,289l-2.3,2.7m.8-.7l-.8,.7l.5-.9M602,289l-3.8,3.2m1.3-.7l-1.3,.7l1-1.2M621,289l-5.4,3.6m1.8-.8l-1.8,.8l1.4-1.4M641,289l-7.1,3.9m2.3-.8l-2.3,.8l1.9-1.6M660,289l-8.7,4m2.8-.7l-2.8,.7l2.4-1.7M680,289l-10.1,4m3.3-.6l-3.3,.6l2.8-1.8M699,289l-11.4,3.9m3.6-.5l-3.6,.5l3.2-1.8M718,289l-12.3,3.5m3.9-.3l-3.9,.3l3.5-1.7M738,289l-12.9,2.9m4-.1l-4,.1l3.7-1.6M757,289l-13,2.1m4,.1l-4-.1l3.8-1.4M776,289l-12.8,1.1m3.9,.4l-3.9-.4l3.8-1M796,289l-12.2-.1m3.7,.7l-3.7-.7l3.7-.7M815,289l-11.2-1.3m3.3,1l-3.3-1l3.4-.3M835,289l-10-2.5m2.9,1.3l-2.9-1.3l3.1,.2M137,309l1.4,0M156,309l1.4,.5M175,309l1.3,1.1M195,309l1,1.6M214,309l.7,2.1M234,309l.2,2.5M253,309l-.2,2.8M272,309l-.6,3M292,309l-.9,3M311,309l-1.1,3m.5-.8l-.5,.8l.2-1M330,309l-1.2,2.9M350,309l-1.2,2.8M369,309l-1.1,2.5M389,309l-.9,2.3M408,309l-.6,2.1M427,309l-.3,1.9M447,309l-.1,1.7M466,309l.1,1.6M486,309l.1,3M505,309l-.2,3M524,309l-.8,3.1m.4-.9l-.4,.9l.1-1M544,309l-1.8,3.3m.7-.9l-.7,.9l.4-1.1M563,309l-3.1,3.5m1.1-.9l-1.1,.9l.7-1.2M583,309l-4.5,3.7m1.6-.8l-1.6,.8l1.2-1.4M602,309l-6.1,3.9m2.1-.8l-2.1,.8l1.6-1.5M621,309l-7.6,4m2.5-.8l-2.5,.8l2.1-1.6M641,309l-9.1,4.2m3-.7l-3,.7l2.5-1.8M660,309l-10.6,4.4m3.4-.7l-3.4,.7l2.9-1.9M680,309l-11.9,4.5m3.8-.7l-3.8,.7l3.3-2M699,309l-13,4.5m4.2-.6l-4.2,.6l3.6-2.1M718,309l-13.9,4.3m4.4-.5l-4.4,.5l3.9-2.1M738,309l-14.4,3.9m4.5-.3l-4.5,.3l4.1-2M757,309l-14.6,3.2m4.6-.1l-4.6,.1l4.2-1.8M776,309l-14.3,2.4m4.4,.1l-4.4-.1l4.2-1.5M796,309l-13.6,1.4m4.2,.4l-4.2-.4l4-1.2M815,309l-12.5,.2m3.8,.6l-3.8-.6l3.7-.8M835,309l-11.1-.9m3.3,.9l-3.3-.9l3.4-.3M137,331l1.8,.1M156,331l1.8,.6M175,331l1.7,1.1M195,331l1.4,1.7M214,331l1.1,2.2M234,331l.7,2.7M253,331l.2,3.1M272,331l-.2,3.5m.3-1l-.3,1l-.1-1M292,331l-.5,3.7m.4-1.1l-.4,1.1l-.1-1.1M311,331l-.8,3.8m.5-1.1l-.5,1.1l0-1.2M330,331l-.9,3.8m.5-1.1l-.5,1.1l.1-1.2M350,331l-1,3.8m.5-1.1l-.5,1.1l.1-1.2M369,331l-.9,3.7m.5-1.1l-.5,1.1l.1-1.2M389,331l-.8,3.5m.4-1l-.4,1l0-1.1M408,331l-.6,3.4m.4-1l-.4,1l0-1M427,331l-.5,3.2m.3-.9l-.3,.9l0-1M447,331l-.4,3M466,331l-.8,5.8m.6-1.7l-.6,1.7l-.1-1.8M486,331l-1.2,5.6m.7-1.6l-.7,1.6l0-1.8M505,331l-1.9,5.5m.9-1.5l-.9,1.5l.2-1.8M524,331l-2.9,5.3m1.2-1.4l-1.2,1.4l.6-1.8M544,331l-4.2,5.2m1.6-1.3l-1.6,1.3l1-1.8M563,331l-5.8,5m2-1.2l-2,1.2l1.5-1.8M583,331l-7.3,4.7m2.5-1l-2.5,1l1.9-1.8M602,331l-8.9,4.5m2.9-.8l-2.9,.8l2.4-1.8M621,331l-10.4,4.3m3.4-.7l-3.4,.7l2.9-1.9M641,331l-11.8,4.3m3.8-.6l-3.8,.6l3.3-2M660,331l-13,4.4m4.2-.6l-4.2,.6l3.7-2.1M680,331l-14.2,4.6m4.5-.6l-4.5,.6l4-2.2M699,331l-15.1,4.8m4.8-.6l-4.8,.6l4.3-2.3M718,331l-15.8,4.8m5-.5l-5,.5l4.5-2.3M738,331l-16.2,4.6m5.1-.5l-5.1,.5l4.6-2.3M757,331l-16.3,4.2m5.1-.3l-5.1,.3l4.6-2.2M776,331l-16,3.5m5-.1l-5,.1l4.6-2M796,331l-15.3,2.6m4.7,.1l-4.7-.1l4.5-1.6M815,331l-14.1,1.6m4.3,.3l-4.3-.3l4.1-1.3M835,331l-12.5,.4m3.8,.6l-3.8-.6l3.7-.8M137,351l2.1,.2M156,351l2.1,.6M175,351l2,1.1M195,351l1.7,1.7M214,351l1.4,2.2M234,351l1,2.8M253,351l.5,3.3m0-1l0,1l-.3-1M272,351l.1,3.7m.2-1.1l-.2,1.1l-.2-1.1M292,351l-.3,4.1m.3-1.2l-.3,1.2l-.1-1.2M311,351l-.6,4.3m.4-1.3l-.4,1.3l-.1-1.3M330,351l-.8,4.5m.5-1.3l-.5,1.3l0-1.4M350,351l-.9,4.6m.5-1.3l-.5,1.3l0-1.4M369,351l-.9,4.6m.5-1.3l-.5,1.3l0-1.4M389,351l-.8,4.5m.5-1.3l-.5,1.3l0-1.4M408,351l-.8,4.5m.5-1.3l-.5,1.3l0-1.4M427,351l-.7,4.4m.5-1.3l-.5,1.3l0-1.4M447,351l-.8,4.3m.5-1.2l-.5,1.2l0-1.3M466,351l-1.9,8.4m1.1-2.4l-1.1,2.4l.1-2.6M486,351l-2.6,8.2m1.3-2.3l-1.3,2.3l.3-2.6M505,351l-3.7,8m1.6-2.2l-1.6,2.2l.7-2.6M524,351l-5.2,7.7m2-2l-2,2l1.1-2.6M544,351l-6.9,7.2m2.5-1.8l-2.5,1.8l1.7-2.6M563,351l-8.7,6.4m3-1.4l-3,1.4l2.2-2.4M583,351l-10.4,5.6m3.5-1.1l-3.5,1.1l2.8-2.3M602,351l-12.1,4.9m3.9-.8l-3.9,.8l3.3-2.2M621,351l-13.5,4.4m4.3-.5l-4.3,.5l3.8-2.1M641,351l-14.8,4.2m4.7-.4l-4.7,.4l4.2-2.1M660,351l-15.8,4.2m5-.4l-5,.4l4.5-2.2M680,351l-16.7,4.4m5.3-.4l-5.3,.4l4.8-2.3M699,351l-17.5,4.7m5.5-.4l-5.5,.4l5-2.4M718,351l-18,5m5.7-.5l-5.7,.5l5.1-2.5M738,351l-18.3,5m5.8-.5l-5.8,.5l5.2-2.6M757,351l-18.3,4.8m5.8-.4l-5.8,.4l5.2-2.5M776,351l-17.9,4.3m5.6-.3l-5.6,.3l5.1-2.3M796,351l-17.1,3.5m5.3-.1l-5.3,.1l4.9-2M815,351l-15.9,2.4m4.9,.2l-4.9-.2l4.6-1.6M835,351l-14.1,1.3m4.3,.4l-4.3-.4l4.1-1.2M137,371l2.4,.2M156,371l2.4,.6M175,371l2.2,1M195,371l2,1.6M214,371l1.6,2.1M234,371l1.2,2.7M253,371l.7,3.2m0-1l0,1l-.4-.9M272,371l.3,3.8m.1-1.1l-.1,1.1l-.3-1.1M292,371l-.1,4.2m.3-1.3l-.3,1.3l-.2-1.3M311,371l-.4,4.6m.4-1.3l-.4,1.3l-.1-1.4M330,371l-.7,4.9m.5-1.4l-.5,1.4l-.1-1.5M350,371l-.8,5.1m.5-1.5l-.5,1.5l0-1.6M369,371l-.9,5.2m.6-1.5l-.6,1.5l0-1.6M389,371l-.9,5.3m.6-1.5l-.6,1.5l0-1.7M408,371l-.9,5.4m.6-1.6l-.6,1.6l0-1.7M427,371l-1,5.4m.6-1.6l-.6,1.6l0-1.7M447,371l-2.3,10.8m1.3-3.1l-1.3,3.1l.1-3.4M466,371l-2.9,10.8m1.5-3.1l-1.5,3.1l.2-3.4M486,371l-3.9,10.7m1.8-3l-1.8,3l.6-3.4M505,371l-5.4,10.5m2.2-2.9l-2.2,2.9l1-3.5M524,371l-7.3,10.2m2.8-2.6l-2.8,2.6l1.6-3.5M544,371l-9.5,9.2m3.4-2.2l-3.4,2.2l2.3-3.3M563,371l-11.7,7.9m4-1.7l-4,1.7l3-3M583,371l-13.7,6.5m4.5-1.2l-4.5,1.2l3.7-2.7M602,371l-15.4,5.1m4.9-.7l-4.9,.7l4.3-2.4M621,371l-16.7,4.1m5.2-.3l-5.2,.3l4.8-2.2M641,371l-17.7,3.6m5.5-.1l-5.5,.1l5.1-2.1M660,371l-18.4,3.5m5.7,0l-5.7,0l5.3-2.1M680,371l-19,3.7m5.9,0l-5.9,0l5.5-2.2M699,371l-19.5,4.2m6.1-.2l-6.1,.2l5.6-2.4M718,371l-19.9,4.7m6.2-.3l-6.2,.3l5.7-2.6M738,371l-20.1,5.1m6.3-.4l-6.3,.4l5.7-2.7M757,371l-20,5.1m6.3-.4l-6.3,.4l5.7-2.7M776,371l-19.6,4.8m6.2-.3l-6.2,.3l5.6-2.6M796,371l-18.7,4.1m5.9-.1l-5.9,.1l5.4-2.3M815,371l-17.4,3m5.4,.1l-5.4-.1l5.1-1.9M835,371l-15.6,1.7m4.8,.4l-4.8-.4l4.6-1.4M137,391l2.6,.2M156,391l2.6,.5M175,391l2.4,.9M195,391l2.1,1.3M214,391l1.7,1.9M234,391l1.3,2.4M253,391l.8,3M272,391l.3,3.6m.1-1.1l-.1,1.1l-.3-1.1M292,391l-.1,4.1m.3-1.2l-.3,1.2l-.2-1.2M311,391l-.4,4.6m.4-1.4l-.4,1.4l-.1-1.4M330,391l-.6,5m.5-1.5l-.5,1.5l-.1-1.5M350,391l-.8,5.4m.5-1.6l-.5,1.6l-.1-1.7M369,391l-.9,5.7m.6-1.7l-.6,1.7l-.1-1.8M389,391l-.9,5.9m.6-1.7l-.6,1.7l-.1-1.8M408,391l-1,6.1m.6-1.8l-.6,1.8l-.1-1.9M427,391l-1,6.2m.7-1.8l-.7,1.8l0-1.9M447,391l-2.5,12.8m1.5-3.7l-1.5,3.7l0-4M466,391l-3.2,13m1.7-3.7l-1.7,3.7l.2-4.1M486,391l-4.4,13.2m2.1-3.7l-2.1,3.7l.6-4.2M505,391l-6.2,13.2m2.6-3.6l-2.6,3.6l1.1-4.3M524,391l-8.5,12.6m3.3-3.3l-3.3,3.3l1.8-4.3M544,391l-11.2,11.4m4-2.8l-4,2.8l2.7-4.1M563,391l-13.9,9.5m4.7-2.1l-4.7,2.1l3.6-3.6M583,391l-16.3,7.2m5.3-1.2l-5.3,1.2l4.5-3.1M602,391l-17.9,4.9m5.6-.5l-5.6,.5l5.1-2.5M621,391l-18.8,3.2m5.8,.1l-5.8-.1l5.5-2M641,391l-19.2,2.3m5.9,.4l-5.9-.4l5.6-1.8M660,391l-19.5,2.1m6,.5l-6-.5l5.7-1.7M680,391l-19.7,2.5m6,.4l-6-.4l5.8-1.9M699,391l-19.9,3.2m6.2,.2l-6.2-.2l5.8-2.1M718,391l-20.1,4m6.3-.1l-6.3,.1l5.8-2.4M738,391l-20.3,4.7m6.4-.3l-6.4,.3l5.8-2.6M757,391l-20.3,5.1m6.4-.4l-6.4,.4l5.8-2.7M776,391l-20.1,4.9m6.3-.3l-6.3,.3l5.8-2.6M796,391l-19.4,4.2m6.1-.1l-6.1,.1l5.6-2.4M815,391l-18.1,3m5.6,.1l-5.6-.1l5.3-1.9M835,391l-16.2,1.6m4.9,.4l-4.9-.4l4.8-1.4M137,411l2.7,.1M156,411l2.6,.3M175,411l2.4,.6M195,411l2.1,1M214,411l1.7,1.5M234,411l1.3,2.1M253,411l.8,2.7M272,411l.4,3.3m.1-1l-.1,1l-.3-1M292,411l0,3.9m.2-1.2l-.2,1.2l-.2-1.2M311,411l-.4,4.4m.4-1.3l-.4,1.3l-.1-1.3M330,411l-.6,4.9m.5-1.4l-.5,1.4l-.1-1.5M350,411l-.7,5.4m.5-1.6l-.5,1.6l-.1-1.7M369,411l-.8,5.8m.6-1.7l-.6,1.7l-.1-1.8M389,411l-.8,6.2m.6-1.8l-.6,1.8l-.1-1.9M408,411l-1.7,13.1m1.2-3.8l-1.2,3.8l-.2-4M427,411l-1.7,13.7m1.3-4l-1.3,4l-.3-4.2M447,411l-1,7.1m.7-2.1l-.7,2.1l-.1-2.2M466,411l-1.3,7.4m.8-2.2l-.8,2.2l0-2.3M486,411l-3.8,15.4m2-4.4l-2,4.4l.3-4.8M505,411l-5.7,15.7m2.6-4.4l-2.6,4.4l.8-5M524,411l-8.4,15.3m3.4-4.1l-3.4,4.1l1.6-5.1M544,411l-11.8,14m4.3-3.5l-4.3,3.5l2.7-4.9M563,411l-15.3,11.4m5.2-2.5l-5.2,2.5l3.9-4.3M583,411l-18.1,7.7m5.9-1.3l-5.9,1.3l5-3.4M602,411l-19.4,4m6.1-.1l-6.1,.1l5.6-2.3M621,411l-19.5,1.4m5.9,.7l-5.9-.7l5.8-1.5M641,411l-19,.1m5.7,1.1l-5.7-1.1l5.7-1.1M660,411l-18.6-.1m5.6,1.1l-5.6-1.1l5.6-1M680,411l-18.3,.6m5.5,.9l-5.5-.9l5.4-1.2M699,411l-18.2,1.7m5.5,.5l-5.5-.5l5.4-1.5M718,411l-18.3,3m5.7,.1l-5.7-.1l5.3-1.9M738,411l-18.5,4.1m5.8-.2l-5.8,.2l5.3-2.3M757,411l-18.9,4.9m5.9-.4l-5.9,.4l5.4-2.5M776,411l-19.2,4.8m6-.4l-6,.4l5.5-2.5M796,411l-19,4m5.9-.1l-5.9,.1l5.5-2.3M815,411l-17.9,2.4m5.5,.3l-5.5-.3l5.2-1.7M835,411l-15.9,.7m4.8,.7l-4.8-.7l4.7-1.1M137,432l2.8-.1M156,432l2.7,0M175,432l2.5,.3M195,432l2.2,.6M214,432l1.7,1.1M234,432l1.3,1.6M253,432l.8,2.2M272,432l.4,2.8M292,432l0,3.5m.2-1l-.2,1l-.2-1M311,432l-.4,4.1m.3-1.2l-.3,1.2l-.1-1.3M330,432l-.6,4.7m.4-1.4l-.4,1.4l-.1-1.4M350,432l-.7,5.3m.5-1.5l-.5,1.5l-.1-1.6M369,432l-.7,5.8m.5-1.7l-.5,1.7l-.1-1.8M389,432l-1.3,12.6m1.1-3.7l-1.1,3.7l-.3-3.9M408,432l-1.2,13.5m1.1-4l-1.1,4l-.4-4.1M427,432l-1,14.4m1.1-4.3l-1.1,4.3l-.5-4.4M447,432l-.5,7.7m.6-2.3l-.6,2.3l-.3-2.3M466,432l-1.4,16.3m1.3-4.8l-1.3,4.8l-.5-5M486,432l-2.2,17.3m1.7-5.1l-1.7,5.1l-.3-5.3M505,432l-4,18.1m2.2-5.2l-2.2,5.2l.2-5.7M524,432l-6.9,18.4m3.1-5.1l-3.1,5.1l1-5.9M544,432l-11.3,17.5m4.4-4.6l-4.4,4.6l2.4-5.9M563,432l-16.6,14.2m5.8-3.3l-5.8,3.3l4.2-5.2M583,432l-20.4,8.1m6.6-1.3l-6.6,1.3l5.7-3.6M602,432l-21,1.9m6.4,.6l-6.4-.6l6.2-1.8M621,432l-19.5-1.9m5.8,1.7l-5.8-1.7l6-.5M641,432l-17.8-3.2m5.1,2l-5.1-2l5.5,0M660,432l-16.4-3m4.8,1.8l-4.8-1.8l5.1,0M680,432l-15.7-1.8m4.6,1.4l-4.6-1.4l4.8-.4M699,432l-15.3-.1m4.6,.9l-4.6-.9l4.6-.8M718,432l-15.3,1.8m4.7,.3l-4.7-.3l4.5-1.4M738,432l-15.8,3.6m4.9-.2l-4.9,.2l4.5-2M757,432l-16.6,4.9m5.3-.5l-5.3,.5l4.7-2.4M776,432l-17.8,5.2m5.6-.6l-5.6,.6l5-2.6M796,432l-18.6,4m5.8-.1l-5.8,.1l5.4-2.2M815,432l-18,1.5m5.5,.6l-5.5-.6l5.3-1.5M835,432l-15.6-.9m4.6,1.2l-4.6-1.2l4.7-.6M137,452l2.9-.3M156,452l2.8-.3M175,452l2.5-.1M195,452l2.2,.2M214,452l1.7,.6M234,452l1.3,1.1M253,452l1.5,3.3m-.3-1.1l.3,1.1l-.6-.9M272,452l.3,2.3M292,452l-.1,2.9M311,452l-.4,3.6m.3-1.1l-.3,1.1l-.1-1.1M330,452l-1.2,8.6m.8-2.5l-.8,2.5l-.1-2.7M350,452l-1.3,9.9m1-2.9l-1,2.9l-.2-3.1M369,452l-1.2,11.2m1-3.3l-1,3.3l-.3-3.4M389,452l-1,12.4m1-3.7l-1,3.7l-.4-3.8M408,452l-.6,13.6m.9-4l-.9,4l-.6-4.1M427,452l-.1,14.7m.9-4.4l-.9,4.4l-.8-4.4M447,452l.3,15.9m.8-4.8l-.8,4.8l-1-4.7M466,452l.4,17.2m.9-5.2l-.9,5.2l-1.1-5.1M486,452l.1,18.7m1-5.6l-1,5.6l-1.1-5.6M505,452l-1,20.2m1.4-6l-1.4,6l-.9-6.1M524,452l-3.6,21.7m2.3-6.3l-2.3,6.3l-.2-6.7M544,452l-8.9,22.6m3.9-6.3l-3.9,6.3l1.4-7.3M563,452l-17.9,19.5m6.5-4.8l-6.5,4.8l4.3-6.9M583,452l-25.2,8.2m8-1l-8,1l7.1-3.9M602,452l-23.5-3m6.9,2.3l-6.9-2.3l7.2-.4M621,452l-18.8-7.3m5.2,3.3l-5.2-3.3l6.1,1.1M641,452l-15.6-7.7m4.2,3.2l-4.2-3.2l5.1,1.4M660,452l-13.6-6.5m3.7,2.7l-3.7-2.7l4.5,1.2M680,452l-12.6-4.5m3.5,2.1l-3.5-2.1l4,.6M699,452l-12.1-2.1m3.5,1.3l-3.5-1.3l3.7,0M718,452l-12,.5m3.6,.5l-3.6-.5l3.6-.8M738,452l-12.5,3.2m3.9-.2l-3.9,.2l3.6-1.7M757,452l-13.9,5.6m4.5-.9l-4.5,.9l3.8-2.5M776,452l-15.8,6m5.1-.9l-5.1,.9l4.4-2.7M796,452l-16.2,2.9m5,0l-5,0l4.7-1.8M815,452l-16.3-.4m4.9,1.1l-4.9-1.1l4.9-.8M835,452l-16-3.9m4.6,2.1l-4.6-2.1l5,.3M137,470l3-.5M156,470l2.8-.6M175,470l2.6-.5M195,470l2.2-.3M214,470l1.7,.1M234,470l2.5,1M253,470l1.5,2.1M272,470l.6,3.3m0-1l0,1l-.4-1M292,470l-.2,4.6m.3-1.4l-.3,1.4l-.2-1.4M311,470l-.8,6m.6-1.8l-.6,1.8l-.1-1.9M330,470l-1.1,7.5m.7-2.2l-.7,2.2l-.1-2.3M350,470l-1.1,8.9m.8-2.6l-.8,2.6l-.2-2.7M369,470l-.9,10.3m.9-3l-.9,3l-.3-3.1M389,470l-.5,11.7m.8-3.5l-.8,3.5l-.5-3.5M408,470l.2,13m.7-3.9l-.7,3.9l-.8-3.9M427,470l.9,14.3m.5-4.3l-.5,4.3l-1.1-4.2M447,470l1.7,15.7m.4-4.8l-.4,4.8l-1.4-4.6M466,470l2.4,17.2m.2-5.3l-.2,5.3l-1.7-5M486,470l3,19m.2-5.9l-.2,5.9l-2-5.5M505,470l3,20.9m.3-6.5l-.3,6.5l-2.1-6.1M524,470l2,23.7m.8-7.2l-.8,7.2l-1.9-7M544,470l-1.8,27.9m2.1-8.3l-2.1,8.3l-1-8.5M563,470l-15.5,31.2m6.4-8.5l-6.4,8.5l2.9-10.2M583,470l-36.5,5.4m11.3,.5l-11.3-.5l10.6-3.7M602,470l-23.6-14.1m6.3,5.6l-6.3-5.6l7.9,2.9M621,470l-15.4-14.5m3.8,5.2l-3.8-5.2l5.4,3.5M641,470l-11.8-12.3m2.8,4.4l-2.8-4.4l4.2,3M660,470l-10.1-9.8m2.5,3.5l-2.5-3.5l3.6,2.4M680,470l-9.2-7.1m2.4,2.6l-2.4-2.6l3.2,1.6M699,470l-8.7-4.2m2.4,1.7l-2.4-1.7l2.9,.8M718,470l-8.5-1m2.5,.8l-2.5-.8l2.6-.2M738,470l-8.7,2.5m2.7-.3l-2.7,.3l2.5-1.3M757,470l-9.7,5.7m3.2-1.2l-3.2,1.2l2.6-2.3M776,470l-10.3,3.1m3.3-.4l-3.3,.4l2.9-1.5M796,470l-10.8,.2m3.3,.6l-3.3-.6l3.2-.7M815,470l-11.1-3.1m3.1,1.5l-3.1-1.5l3.5,.3M835,470l-11.1-6.5m3,2.6l-3-2.6l3.7,1.3M137,490l3.1-.8M156,490l2.9-.9M175,490l2.6-.9M195,490l2.3-.8M214,490l3.6-1.2m-1.1,.1l1.1-.1l-1,.6M234,490l2.6-.4M253,490l1.6,.5M272,490l1.2,.4M292,490l0,1.5M311,490l-.4,4.4m.4-1.3l-.4,1.3l-.1-1.3M330,490l-.6,5.8m.5-1.7l-.5,1.7l-.1-1.8M350,490l-.6,7.4m.6-2.2l-.6,2.2l-.2-2.2M369,490l-.2,8.9m.6-2.6l-.6,2.6l-.4-2.7M389,490l.5,10.3m.4-3.1l-.4,3.1l-.7-3.1M408,490l1.4,11.8m.3-3.6l-.3,3.6l-1.1-3.5M427,490l2.5,13.2m0-4.1l0,4.1l-1.5-3.8M447,490l3.7,14.6m-.3-4.6l.3,4.6l-2-4.2M466,490l5.1,16.1m-.6-5.1l.6,5.1l-2.5-4.5M486,490l6.6,17.9m-1-5.7l1,5.7l-3-5M505,490l8.2,19.7m-1.3-6.4l1.3,6.4l-3.6-5.4M524,490l10.1,22.3m-1.8-7.3l1.8,7.3l-4.3-6.1M544,490l13.2,27m-2.4-8.8l2.4,8.8l-5.5-7.3M563,490l22.7,38.3m-4.6-12.8l4.6,12.8l-9-10.2M583,490l4.5-18.9m-2.4,5.4l2.4-5.4l-.3,5.9M602,490l-6.4-30m.2,9.4l-.2-9.4l3.6,8.6M621,490l-5.7-21.1m.5,6.7l-.5-6.7l2.9,6M641,490l-5.2-16.4m.6,5.2l-.6-5.2l2.5,4.6M660,490l-5-12.8m.8,4.1l-.8-4.1l2.2,3.6M680,490l-4.8-9.7m.9,3.2l-.9-3.2l2,2.6M699,490l-4.5-6.5m1,2.2l-1-2.2l1.7,1.7M718,490l-4-3.1m1,1.2l-1-1.2l1.4,.7M738,490l-3.4,.8m1.1-.1l-1.1,.1l1-.4M757,490l-3.4,2.3m1.1-.5l-1.1,.5l.9-.9M776,490l-4.1-.2m1.2,.3l-1.2-.3l1.2-.2M796,490l-4.7-3m1.3,1.2l-1.3-1.2l1.6,.6M815,490l-5.2-6.1m1.2,2.1l-1.2-2.1l1.9,1.5M835,490l-5.4-9.4m1.1,3.1l-1.1-3.1l2.2,2.5M137,510l3.3-1.1m-1,.1l1-.1l-.9,.5M156,510l3.1-1.3m-1,.2l1-.2l-.9,.6M175,510l2.8-1.4M195,510l2.5-1.4M214,510l2-1.3M234,510l3.2-2m-1.1,.4l1.1-.4l-.8,.8M253,510l2.3-1.2M272,510l1.2,.4M292,510l.9,1M311,510l.5,2.3M330,510l.4,3.8m.1-1.1l-.1,1.1l-.3-1.1M350,510l.7,5.3m.1-1.6l-.1,1.6l-.5-1.5M369,510l1.2,6.8m0-2.1l0,2.1l-.8-2M389,510l2.1,8.3m-.2-2.6l.2,2.6l-1.1-2.4M408,510l3.3,9.8m-.4-3.1l.4,3.1l-1.5-2.8M427,510l4.7,11.2m-.8-3.6l.8,3.6l-2.1-3.1M447,510l6.4,12.6m-1.2-4.1l1.2,4.1l-2.6-3.4M466,510l4.2,7m-.9-2.3l.9,2.3l-1.6-1.8M486,510l10.6,15.2m-2.3-5.2l2.3,5.2l-4.1-4M505,510l13.4,16.2m-3.1-5.6l3.1,5.6l-5-4.1M524,510l17.2,16.9m-4.2-6.1l4.2,6.1l-6.1-4.1M544,510l23.5,16.2m-6.1-6.2l6.1,6.2l-8-3.5M563,510l33.8,8.1m-9.7-4.3l9.7,4.3l-10.6-.5M583,510l32.1-16.9m-10.6,3.2l10.6-3.2l-8.7,6.9M602,510l14.3-24.9m-5.7,6.7l5.7-6.7l-2.9,8.3M621,510l6-21.7m-3,6.2l3-6.2l-.6,6.8M641,510l2.6-18m-1.8,5.2l1.8-5.2l.2,5.6M660,510l1.1-14.8m-1.2,4.4l1.2-4.4l.5,4.5M680,510l.4-11.9m-.8,3.5l.8-3.5l.5,3.6M699,510l.4-9m-.6,2.7l.6-2.7l.4,2.7M718,510l.9-5.9m-.6,1.7l.6-1.7l.1,1.8M738,510l2.3-2.6m-.8,.6l.8-.6l-.5,.9M757,510l3.4-1.2m-1.1,.2l1.1-.2l-.9,.6M776,510l2.5-3.7m-1,1l1-1l-.5,1.2M796,510l1.7-6.4m-.9,1.8l.9-1.8l-.1,2M815,510l1.1-9.4m-.9,2.8l.9-2.8l.2,2.9M835,510l.6-12.4m-.9,3.7l.9-3.7l.5,3.8M137,528l3.5-1.4m-1.1,.2l1.1-.2l-1,.6M156,528l3.4-1.6m-1.1,.3l1.1-.3l-.9,.7M175,528l3.2-1.8m-1.1,.4l1.1-.4l-.9,.7M195,528l2.9-1.9m-1,.4l1-.4l-.8,.7M214,528l2.5-1.9M234,528l4.2-3.5m-1.5,.8l1.5-.8l-1.1,1.3M253,528l3.4-3m-1.2,.7l1.2-.7l-.9,1.1M272,528l2.8-2.1m-1,.5l1-.5l-.7,.8M292,528l2.3-1.1M311,528l2.1,.1M330,528l2.2,1.5M350,528l2.6,2.9m-.6-1l.6,1l-.9-.7M369,528l3.3,4.5m-.7-1.5l.7,1.5l-1.2-1.1M389,528l4.4,5.9m-1-2l1,2l-1.7-1.5M408,528l5.8,7.4m-1.3-2.5l1.3,2.5l-2.2-1.9M427,528l7.5,8.8m-1.7-3.1l1.7,3.1l-2.7-2.2M447,528l4.7,5m-1.1-1.8l1.1,1.8l-1.7-1.2M466,528l5.9,5.5m-1.4-2l1.4,2l-2.1-1.3M486,528l14.4,11.8m-3.7-4.4l3.7,4.4l-5-2.7M505,528l17.6,12m-4.6-4.6l4.6,4.6l-6-2.6M524,528l21.4,11m-5.8-4.5l5.8,4.5l-7-2.1M544,528l26.1,7.7m-7.4-3.8l7.4,3.8l-8.3-.8M563,528l30,0m-9-1.7l9,1.7l-9,1.7M583,528l28-11.3m-9.1,1.8l9.1-1.8l-7.8,5M602,528l20.3-18.2m-7.1,4.3l7.1-4.3l-5.1,6.6M621,528l13.5-19.2m-5.1,5l5.1-5l-3,6.5M641,528l9.2-17.8m-3.8,4.8l3.8-4.8l-1.8,5.9M660,528l6.8-15.8m-2.9,4.3l2.9-4.3l-1.1,5.1M680,528l5.5-13.6m-2.4,3.8l2.4-3.8l-.9,4.4M699,528l5-11.2m-2.2,3.1l2.2-3.1l-.9,3.7M718,528l5.4-8.8m-2.1,2.3l2.1-2.3l-1.1,3M738,528l6.8-6.5m-2.4,1.6l2.4-1.6l-1.7,2.3M757,528l9.7-4.7m-3.2,.8l3.2-.8l-2.6,2M776,528l8.8-7m-3,1.6l3-1.6l-2.2,2.6M796,528l7.8-9.7m-2.9,2.5l2.9-2.5l-1.8,3.3M815,528l7-12.5m-2.8,3.3l2.8-3.3l-1.4,4.1M835,528l6.3-15.3m-2.7,4.2l2.7-4.2l-1,4.9M137,547l3.9-1.6m-1.3,.3l1.3-.3l-1.1,.7M156,547l3.9-2m-1.3,.4l1.3-.4l-1.1,.8M175,547l3.7-2.3m-1.2,.5l1.2-.5l-1,.9M195,547l3.5-2.5m-1.2,.5l1.2-.5l-.9,.9M214,547l3.2-2.6m-1.1,.6l1.1-.6l-.8,1M234,547l2.9-2.5m-1,.6l1-.6l-.7,.9M253,547l5.2-4.7m-1.8,1.1l1.8-1.1l-1.3,1.7M272,547l4.7-4.1m-1.6,1l1.6-1l-1.2,1.5M292,547l4.4-3.3m-1.5,.7l1.5-.7l-1.1,1.2M311,547l4.4-2.2m-1.4,.4l1.4-.4l-1.2,.9M330,547l4.6-1m-1.5,0l1.5,0l-1.3,.6M350,547l5.2,.3m-1.6-.4l1.6,.4l-1.6,.2M369,547l6.2,1.8m-1.7-.9l1.7,.9l-1.9-.2M389,547l7.4,3.2m-2-1.4l2,1.4l-2.4-.5M408,547l9,4.6m-2.4-1.9l2.4,1.9l-3-.9M427,547l10.9,5.8m-2.9-2.4l2.9,2.4l-3.6-1.1M447,547l6.5,3.5m-1.8-1.4l1.8,1.4l-2.1-.7M466,547l7.7,3.9m-2.1-1.6l2.1,1.6l-2.5-.7M486,547l18.2,8.1m-5-3.5l5,3.5l-5.9-1.4M505,547l21.2,7.7m-5.9-3.5l5.9,3.5l-6.8-1.1M524,547l24.3,6m-7-3.2l7,3.2l-7.6-.4M544,547l27.3,2.5m-8-2.3l8,2.3l-8.3,.8M563,547l28.8-3.3m-8.8-.7l8.8,.7l-8.5,2.6M583,547l27.4-9.9m-8.8,1.4l8.8-1.4l-7.6,4.5M602,547l23.2-14.9m-7.8,3.1l7.8-3.1l-6.1,5.8M621,547l18.5-17m-6.5,4.1l6.5-4.1l-4.6,6.2M641,547l14.7-17.1m-5.4,4.3l5.4-4.3l-3.4,6M660,547l12-16.2m-4.5,4.2l4.5-4.2l-2.7,5.6M680,547l10.3-14.9m-3.9,3.9l3.9-3.9l-2.3,5M699,547l9.5-13.3m-3.6,3.4l3.6-3.4l-2.1,4.5M718,547l9.6-11.6m-3.5,2.9l3.5-2.9l-2.2,4M738,547l10.5-10.2m-3.7,2.5l3.7-2.5l-2.6,3.7M757,547l12.2-9.5m-4.2,2.1l4.2-2.1l-3.1,3.5M776,547l14.5-10.3m-4.9,2.3l4.9-2.3l-3.8,3.9M796,547l13.9-12.8m-4.9,3l4.9-3l-3.5,4.6M815,547l12.9-15.4m-4.7,3.9l4.7-3.9l-3,5.4M835,547l10.8-16.7m-4.2,4.4l4.2-4.4l-2.3,5.6M137,567l4.4-1.9m-1.4,.3l1.4-.3l-1.2,.8M156,567l4.5-2.3m-1.5,.4l1.5-.4l-1.2,.9M175,567l4.4-2.7m-1.5,.5l1.5-.5l-1.2,1.1M195,567l4.3-3m-1.5,.7l1.5-.7l-1.1,1.1M214,567l4.1-3.2m-1.4,.7l1.4-.7l-1,1.2M234,567l3.9-3.3m-1.4,.8l1.4-.8l-1,1.2M253,567l3.7-3.3m-1.3,.8l1.3-.8l-.9,1.2M272,567l7.2-6.2m-2.5,1.5l2.5-1.5l-1.8,2.3M292,567l7.1-5.6m-2.5,1.3l2.5-1.3l-1.8,2.1M311,567l7.3-4.8m-2.5,1l2.5-1l-1.9,1.9M330,567l7.8-3.7m-2.5,.7l2.5-.7l-2.1,1.6M350,567l8.6-2.6m-2.7,.3l2.7-.3l-2.4,1.3M369,567l9.7-1.3m-3-.2l3,.2l-2.8,.9M389,567l11.1,.1m-3.3-.7l3.3,.7l-3.3,.6M408,567l12.8,1.4m-3.8-1.1l3.8,1.1l-3.9,.3M427,567l14.8,2.5m-4.3-1.6l4.3,1.6l-4.6,.1M447,567l8.5,1.7m-2.4-1l2.4,1l-2.6,0M466,567l9.7,2m-2.8-1.2l2.8,1.2l-3-.1M486,567l21.9,4.2m-6.3-2.5l6.3,2.5l-6.8,0M505,567l24.5,3.6m-7.2-2.5l7.2,2.5l-7.6,.3M524,567l26.9,1.9m-8-2.1l8,2.1l-8.2,1M544,567l28.7-1.1m-8.7-1.3l8.7,1.3l-8.5,2M563,567l29.2-5.2m-9.1-.1l9.1,.1l-8.5,3.2M583,567l28.1-9.5m-9,1.3l9-1.3l-7.9,4.5M602,567l25.5-13.1m-8.4,2.5l8.4-2.5l-6.9,5.4M621,567l22.2-15.3m-7.5,3.3l7.5-3.3l-5.8,5.9M641,567l19.1-16.2m-6.6,3.8l6.6-3.8l-4.8,6M660,567l16.5-16.2m-5.9,3.9l5.9-3.9l-4,5.8M680,567l14.7-15.6m-5.3,3.9l5.3-3.9l-3.5,5.5M699,567l13.5-14.8m-4.9,3.7l4.9-3.7l-3.2,5.2M718,567l13-13.8m-4.7,3.4l4.7-3.4l-3.1,4.9M738,567l13.2-13.1m-4.7,3.2l4.7-3.2l-3.2,4.7M757,567l13.9-12.8m-4.9,3l4.9-3l-3.4,4.6M776,567l14.6-13.2m-5.1,3.1l5.1-3.1l-3.6,4.8M796,567l14.7-14.3m-5.2,3.5l5.2-3.5l-3.6,5.1M815,567l13.7-15.4m-5,3.8l5-3.8l-3.2,5.4M835,567l12.1-15.4m-4.5,3.9l4.5-3.9l-2.7,5.3M137,585l4.8-1.9m-1.6,.3l1.6-.3l-1.3,.9M156,585l4.9-2.4m-1.6,.4l1.6-.4l-1.3,1M175,585l4.9-2.9m-1.6,.6l1.6-.6l-1.3,1.1M195,585l4.9-3.3m-1.7,.7l1.7-.7l-1.3,1.3M214,585l4.8-3.6m-1.6,.8l1.6-.8l-1.2,1.3M234,585l4.7-3.8m-1.6,.9l1.6-.9l-1.2,1.4M253,585l4.6-3.9m-1.6,.9l1.6-.9l-1.2,1.4M272,585l9.2-7.7m-3.2,1.8l3.2-1.8l-2.3,2.8M292,585l9.4-7.3m-3.2,1.7l3.2-1.7l-2.4,2.7M311,585l9.7-6.7m-3.3,1.5l3.3-1.5l-2.5,2.6M330,585l10.4-5.9m-3.4,1.2l3.4-1.2l-2.8,2.4M350,585l11.3-4.9m-3.7,.8l3.7-.8l-3.1,2.1M369,585l12.5-3.7m-4,.4l4-.4l-3.5,1.8M389,585l14-2.5m-4.3-.1l4.3,.1l-4.1,1.5M408,585l15.8-1.3m-4.8-.5l4.8,.5l-4.7,1.3M427,585l17.7-.2m-5.3-1l5.3,1l-5.3,1.1M447,585l19.9,.7m-5.9-1.3l5.9,1.3l-6,.9M466,585l22.1,1.2m-6.6-1.6l6.6,1.6l-6.7,.9M486,585l12.2,.7m-3.6-.9l3.6,.9l-3.7,.5M505,585l26.6,.8m-7.9-1.7l7.9,1.7l-8,1.3M524,585l28.5-.6m-8.6-1.4l8.6,1.4l-8.5,1.8M544,585l29.5-2.9m-9-.8l9,.8l-8.7,2.6M563,585l29.7-5.9m-9.2,.1l9.2-.1l-8.6,3.5M583,585l28.7-9.1m-9.1,1.1l9.1-1.1l-8.1,4.4M602,585l26.7-11.9m-8.7,2l8.7-2l-7.3,5.1M621,585l24.1-13.9m-8,2.8l8-2.8l-6.4,5.5M641,585l21.4-15m-7.3,3.3l7.3-3.3l-5.6,5.7M660,585l19-15.5m-6.6,3.6l6.6-3.6l-4.8,5.7M680,585l17.1-15.5m-6,3.7l6-3.7l-4.3,5.6M699,585l15.7-15.2m-5.6,3.7l5.6-3.7l-3.8,5.4M718,585l14.8-14.7m-5.3,3.6l5.3-3.6l-3.6,5.3M738,585l14.4-14.3m-5.1,3.5l5.1-3.5l-3.5,5.1M757,585l14.4-14.2m-5.1,3.4l5.1-3.4l-3.5,5.1M776,585l14.4-14.3m-5.1,3.5l5.1-3.5l-3.5,5.1M796,585l14.1-14.7m-5.1,3.6l5.1-3.6l-3.4,5.2M815,585l13.3-14.9m-4.8,3.7l4.8-3.7l-3.1,5.2M835,585l12.2-14.6m-4.5,3.7l4.5-3.7l-2.8,5.1M137,604l9.9-3.7m-3.2,.5l3.2-.5l-2.7,1.7M156,604l5.1-2.3m-1.7,.4l1.7-.4l-1.4,1M175,604l5.2-2.8m-1.7,.6l1.7-.6l-1.4,1.1M195,604l5.2-3.3m-1.7,.7l1.7-.7l-1.4,1.3M214,604l5.2-3.7m-1.8,.8l1.8-.8l-1.3,1.4M234,604l5.2-4m-1.8,.9l1.8-.9l-1.3,1.5M253,604l5.2-4.2m-1.8,1l1.8-1l-1.3,1.5M272,604l10.4-8.5m-3.6,2l3.6-2l-2.6,3.1M292,604l10.7-8.4m-3.7,1.9l3.7-1.9l-2.7,3.1M311,604l11.2-8m-3.8,1.8l3.8-1.8l-2.9,3M330,604l11.9-7.3m-4,1.5l4-1.5l-3.2,2.9M350,604l12.9-6.5m-4.2,1.2l4.2-1.2l-3.5,2.7M369,604l14.2-5.4m-4.6,.8l4.6-.8l-4,2.4M389,604l15.8-4.3m-5,.4l5-.4l-4.5,2.2M408,604l17.5-3.2m-5.4,0l5.4,0l-5.1,2M427,604l19.4-2.2m-5.9-.5l5.9,.5l-5.7,1.8M447,604l21.4-1.3m-6.5-.8l6.5,.8l-6.4,1.6M466,604l23.5-.8m-7.1-1.1l7.1,1.1l-7,1.6M486,604l25.4-.6m-7.7-1.3l7.7,1.3l-7.6,1.6M505,604l27.2-1m-8.2-1.3l8.2,1.3l-8.1,1.8M524,604l28.6-1.9m-8.7-1l8.7,1l-8.5,2.2M544,604l29.4-3.6m-9-.6l9,.6l-8.6,2.8M563,604l29.3-5.8m-9.1,.1l9.1-.1l-8.5,3.4M583,604l28.3-8.1m-9,.8l9-.8l-8,4.1M602,604l26.6-10.3m-8.6,1.6l8.6-1.6l-7.4,4.6M621,604l24.4-12m-8,2.2l8-2.2l-6.6,5M641,604l22.1-13.3m-7.4,2.7l7.4-2.7l-5.9,5.2M660,604l19.8-14m-6.7,3.1l6.7-3.1l-5.1,5.3M680,604l17.9-14.4m-6.2,3.3l6.2-3.3l-4.5,5.3M699,604l16.3-14.4m-5.7,3.4l5.7-3.4l-4.1,5.3M718,604l15.1-14.4m-5.4,3.5l5.4-3.5l-3.7,5.2M738,604l14.3-14.3m-5.1,3.5l5.1-3.5l-3.5,5.1M757,604l13.8-14.2m-5,3.5l5-3.5l-3.3,5.1M776,604l13.4-14.3m-4.8,3.5l4.8-3.5l-3.2,5M796,604l12.9-14.3m-4.7,3.6l4.7-3.6l-3.1,5M815,604l12.3-14.2m-4.5,3.5l4.5-3.5l-2.9,4.9M835,604l11.4-13.5m-4.2,3.4l4.2-3.4l-2.6,4.7M137,622l9.4-3m-3,.4l3-.4l-2.6,1.4M156,622l9.8-4m-3.2,.6l3.2-.6l-2.7,1.8M175,622l5-2.5m-1.6,.5l1.6-.5l-1.4,1M195,622l5-3m-1.7,.6l1.7-.6l-1.3,1.2M214,622l5.1-3.4m-1.7,.7l1.7-.7l-1.3,1.3M234,622l5.1-3.8m-1.7,.8l1.7-.8l-1.3,1.4M253,622l5.1-4.1m-1.8,.9l1.8-.9l-1.3,1.5M272,622l10.3-8.5m-3.6,1.9l3.6-1.9l-2.6,3.1M292,622l10.7-8.5m-3.7,1.9l3.7-1.9l-2.7,3.2M311,622l11.2-8.3m-3.8,1.9l3.8-1.9l-2.9,3.1M330,622l12-7.9m-4,1.7l4-1.7l-3.2,3M350,622l13-7.2m-4.3,1.4l4.3-1.4l-3.5,2.9M369,622l14.3-6.3m-4.7,1.1l4.7-1.1l-3.9,2.7M389,622l15.9-5.3m-5.1,.7l5.1-.7l-4.5,2.5M408,622l17.6-4.3m-5.5,.3l5.5-.3l-5,2.3M427,622l19.4-3.3m-6-.1l6,.1l-5.6,2.1M447,622l21.3-2.4m-6.5-.5l6.5,.5l-6.2,1.9M466,622l23.1-1.8m-7-.8l7,.8l-6.8,1.9M486,622l12.4-.8m-3.8-.5l3.8,.5l-3.7,.9M505,622l26.3-1.6m-8-1l8,1l-7.8,2M524,622l13.7-1.1m-4.2-.4l4.2,.4l-4,1.1M544,622l28-3.3m-8.6-.6l8.6,.6l-8.2,2.6M563,622l27.8-4.8m-8.6-.1l8.6,.1l-8.1,3M583,622l26.9-6.6m-8.4,.4l8.4-.4l-7.7,3.5M602,622l25.3-8.3m-8.1,1l8.1-1l-7.1,3.9M621,622l23.4-9.8m-7.6,1.6l7.6-1.6l-6.5,4.3M641,622l21.3-11m-7,2.1l7-2.1l-5.8,4.5M660,622l19.2-11.9m-6.4,2.5l6.4-2.5l-5.1,4.7M680,622l17.2-12.5m-5.9,2.8l5.9-2.8l-4.5,4.7M699,622l15.6-12.9m-5.4,3l5.4-3l-3.9,4.8M718,622l14.2-13.1m-5,3.1l5-3.1l-3.5,4.7M738,622l13.2-13.3m-4.7,3.2l4.7-3.2l-3.2,4.7M757,622l12.5-13.4m-4.5,3.3l4.5-3.3l-3,4.7M776,622l11.9-13.4m-4.3,3.3l4.3-3.3l-2.8,4.7M796,622l11.3-13.3m-4.2,3.4l4.2-3.4l-2.6,4.6M815,622l10.7-13m-3.9,3.3l3.9-3.3l-2.5,4.5M835,622l10-12.2m-3.7,3.1l3.7-3.1l-2.3,4.2M137,641l8.2-2m-2.6,.1l2.6-.1l-2.3,1.1M156,641l8.5-2.8m-2.7,.4l2.7-.4l-2.4,1.3M175,641l8.7-3.7m-2.8,.6l2.8-.6l-2.4,1.6M195,641l4.4-2.4m-1.5,.5l1.5-.5l-1.2,1M214,641l4.4-2.8m-1.5,.6l1.5-.6l-1.2,1.1M234,641l8.8-6.4m-3,1.4l3-1.4l-2.3,2.4M253,641l8.8-7.1m-3,1.6l3-1.6l-2.2,2.6M272,641l8.9-7.6m-3.1,1.8l3.1-1.8l-2.3,2.8M292,641l9.3-7.8m-3.2,1.8l3.2-1.8l-2.3,2.9M311,641l9.8-7.8m-3.4,1.8l3.4-1.8l-2.5,2.9M330,641l10.6-7.5m-3.6,1.6l3.6-1.6l-2.7,2.9M350,641l11.6-7m-3.9,1.4l3.9-1.4l-3.1,2.8M369,641l12.9-6.3m-4.2,1.1l4.2-1.1l-3.5,2.6M389,641l14.4-5.4m-4.6,.8l4.6-.8l-4,2.4M408,641l16-4.4m-5.1,.4l5.1-.4l-4.6,2.2M427,641l8.9-1.7m-2.8,0l2.8,0l-2.6,1M447,641l19.6-2.6m-6-.3l6,.3l-5.7,1.9M466,641l21.3-2m-6.5-.6l6.5,.6l-6.3,1.8M486,641l22.9-1.6m-6.9-.8l6.9,.8l-6.8,1.8M505,641l24.1-1.5m-7.3-.9l7.3,.9l-7.2,1.8M524,641l25-1.8m-7.6-.9l7.6,.9l-7.4,2M544,641l25.4-2.5m-7.8-.7l7.8,.7l-7.5,2.2M563,641l25.3-3.5m-7.8-.4l7.8,.4l-7.4,2.5M583,641l24.6-4.7m-7.7,0l7.7,0l-7.1,2.8M602,641l23.2-6.1m-7.3,.5l7.3-.5l-6.6,3.1M621,641l21.5-7.4m-6.9,1l6.9-1l-6,3.4M641,641l19.6-8.5m-6.4,1.4l6.4-1.4l-5.4,3.7M660,641l17.6-9.5m-5.8,1.8l5.8-1.8l-4.8,3.8M680,641l15.8-10.3m-5.3,2.2l5.3-2.2l-4.2,4M699,641l14.1-10.9m-4.9,2.5l4.9-2.5l-3.6,4.1M718,641l12.7-11.4m-4.5,2.7l4.5-2.7l-3.2,4.1M738,641l11.6-11.7m-4.2,2.9l4.2-2.9l-2.8,4.2M757,641l10.8-12m-3.9,3l3.9-3l-2.5,4.2M776,641l10.1-12.1m-3.7,3.1l3.7-3.1l-2.3,4.2M796,641l9.4-11.9m-3.5,3l3.5-3l-2.1,4.1M815,641l8.8-11.5m-3.3,2.9l3.3-2.9l-2,4M835,641l8.3-10.8m-3.1,2.8l3.1-2.8l-1.9,3.7M137,659l6.5-.6m-2-.2l2,.2l-1.9,.6M156,659l6.8-1.3m-2.1,0l2.1,0l-2,.8M175,659l6.9-2.1m-2.2,.2l2.2-.2l-1.9,1M195,659l6.8-3m-2.2,.5l2.2-.5l-1.9,1.3M214,659l6.7-3.9m-2.2,.8l2.2-.8l-1.8,1.6M234,659l6.6-4.7m-2.3,1l2.3-1l-1.7,1.8M253,659l6.6-5.5m-2.3,1.3l2.3-1.3l-1.7,2M272,659l6.7-6m-2.3,1.4l2.3-1.4l-1.7,2.2M292,659l6.9-6.4m-2.4,1.5l2.4-1.5l-1.7,2.3M311,659l7.4-6.5m-2.6,1.5l2.6-1.5l-1.8,2.4M330,659l8.1-6.4m-2.8,1.5l2.8-1.5l-2.1,2.4M350,659l9.1-6.1m-3.1,1.3l3.1-1.3l-2.4,2.3M369,659l10.4-5.5m-3.4,1.1l3.4-1.1l-2.8,2.2M389,659l11.8-4.8m-3.8,.8l3.8-.8l-3.3,2.1M408,659l6.7-2m-2.1,.2l2.1-.2l-1.9,1M427,659l15.1-3.1m-4.7,.1l4.7-.1l-4.4,1.8M447,659l16.9-2.3m-5.2-.3l5.2,.3l-4.9,1.6M466,659l18.5-1.6m-5.6-.6l5.6,.6l-5.5,1.5M486,659l20-1.1m-6.1-.8l6.1,.8l-5.9,1.5M505,659l21.2-.8m-6.4-1l6.4,1l-6.3,1.5M524,659l22-.9m-6.7-1l6.7,1l-6.5,1.5M544,659l22.4-1.3m-6.8-.9l6.8,.9l-6.6,1.7M563,659l22.3-1.9m-6.8-.7l6.8,.7l-6.6,1.9M583,659l21.7-2.8m-6.7-.4l6.7,.4l-6.3,2.1M602,659l20.7-3.8m-6.4,0l6.4,0l-6,2.3M621,659l19.3-4.9m-6.1,.4l6.1-.4l-5.5,2.6M641,659l17.5-6m-5.6,.8l5.6-.8l-4.9,2.8M660,659l15.8-7m-5.1,1.2l5.1-1.2l-4.3,3M680,659l14-7.9m-4.7,1.6l4.7-1.6l-3.8,3.2M699,659l12.5-8.7m-4.2,1.9l4.2-1.9l-3.2,3.3M718,659l11.1-9.4m-3.9,2.2l3.9-2.2l-2.8,3.4M738,659l10-9.9m-3.6,2.4l3.6-2.4l-2.4,3.5M757,659l9-10.3m-3.3,2.6l3.3-2.6l-2.1,3.6M776,659l8.2-10.4m-3.1,2.7l3.1-2.7l-1.9,3.6M796,659l7.6-10.4m-2.9,2.7l2.9-2.7l-1.7,3.5M815,659l7.1-10m-2.7,2.6l2.7-2.6l-1.6,3.4M835,659l6.7-9.5m-2.6,2.5l2.6-2.5l-1.5,3.2M137,677l4.8,.8m-1.4-.5l1.4,.5l-1.5,0M156,677l4.9,.3m-1.4-.4l1.4,.4l-1.5,.2M175,677l4.9-.3m-1.5-.2l1.5,.2l-1.4,.4M195,677l4.7-1.1m-1.5,.1l1.5-.1l-1.4,.6M214,677l4.5-1.9m-1.5,.3l1.5-.3l-1.2,.8M234,677l4.3-2.7m-1.4,.6l1.4-.6l-1.1,1.1M253,677l4.1-3.5m-1.4,.8l1.4-.8l-1,1.3M272,677l4.1-4.1m-1.5,1l1.5-1l-1,1.5M292,677l4.3-4.6m-1.5,1.1l1.5-1.1l-1,1.6M311,677l4.7-4.9m-1.7,1.2l1.7-1.2l-1.1,1.7M330,677l5.3-4.9m-1.9,1.2l1.9-1.2l-1.3,1.8M350,677l6.3-4.8m-2.2,1.1l2.2-1.1l-1.6,1.8M369,677l7.5-4.4m-2.5,.9l2.5-.9l-2,1.7M389,677l8.9-3.8m-2.9,.6l2.9-.6l-2.4,1.7M408,677l10.5-3.1m-3.3,.3l3.3-.3l-3,1.5M427,677l12.1-2.4m-3.8,0l3.8,0l-3.5,1.4M447,677l13.8-1.6m-4.2-.3l4.2,.3l-4.1,1.3M466,677l15.4-.9m-4.7-.6l4.7,.6l-4.6,1.1M486,677l8.4-.2m-2.5-.4l2.5,.4l-2.5,.5M505,677l9,0m-2.7-.5l2.7,.5l-2.7,.5M524,677l9.4,.1m-2.8-.6l2.8,.6l-2.8,.5M544,677l9.6,0m-2.9-.6l2.9,.6l-2.9,.5M563,677l19.2-.4m-5.8-1l5.8,1l-5.7,1.2M583,677l18.7-1m-5.7-.8l5.7,.8l-5.6,1.4M602,677l17.9-1.8m-5.5-.5l5.5,.5l-5.3,1.5M621,677l16.7-2.7m-5.1-.2l5.1,.2l-4.8,1.7M641,677l15.2-3.6m-4.8,.2l4.8-.2l-4.4,2M660,677l13.7-4.6m-4.4,.6l4.4-.6l-3.8,2.2M680,677l12.1-5.6m-3.9,1l3.9-1l-3.3,2.4M699,677l10.6-6.4m-3.5,1.3l3.5-1.3l-2.8,2.5M718,677l9.3-7.2m-3.2,1.6l3.2-1.6l-2.4,2.7M738,677l8.1-7.9m-2.9,1.9l2.9-1.9l-2,2.8M757,677l7.1-8.4m-2.6,2.1l2.6-2.1l-1.7,2.9M776,677l6.4-8.7m-2.4,2.2l2.4-2.2l-1.4,3M796,677l5.9-8.8m-2.3,2.3l2.3-2.3l-1.3,3M815,677l5.5-8.6m-2.1,2.3l2.1-2.3l-1.2,2.9M835,677l5.3-8.2m-2,2.2l2-2.2l-1.1,2.8M137,696l3.2,2.2m-.8-.8l.8,.8l-1.1-.5M156,696l3.2,1.9m-.9-.8l.9,.8l-1.1-.4M175,696l3.1,1.4m-.9-.6l.9,.6l-1-.2M195,696l2.9,.8M214,696l2.6,0M234,696l2.2-.7M253,696l2-1.5M272,696l1.9-2.2M292,696l2-2.7m-.7,.7l.7-.7l-.4,.9M311,696l2.3-3.1m-.9,.8l.9-.8l-.5,1.1M330,696l2.9-3.3m-1,.8l1-.8l-.7,1.2M350,696l3.7-3.3m-1.3,.8l1.3-.8l-.9,1.2M369,696l4.9-3.1m-1.6,.7l1.6-.7l-1.3,1.2M389,696l3.1-1.4m-1,.2l1-.2l-.9,.6M408,696l7.8-2.2m-2.5,.2l2.5-.2l-2.2,1.1M427,696l9.4-1.5m-2.9-.1l2.9,.1l-2.7,1M447,696l11.1-.9m-3.4-.4l3.4,.4l-3.3,.9M466,696l12.6-.2m-3.8-.7l3.8,.7l-3.8,.8M486,696l14.1,.4m-4.2-.9l4.2,.9l-4.2,.7M505,696l15.2,.9m-4.5-1.1l4.5,1.1l-4.6,.6M524,696l8,.6m-2.4-.6l2.4,.6l-2.4,.3M544,696l8.2,.6m-2.4-.6l2.4,.6l-2.5,.3M563,696l16.5,1m-4.9-1.2l4.9,1.2l-5,.6M583,696l16.1,.6m-4.8-1.1l4.8,1.1l-4.9,.7M602,696l15.3,.1m-4.6-.9l4.6,.9l-4.6,.9M621,696l14.2-.7m-4.3-.6l4.3,.6l-4.2,1M641,696l13-1.5m-4-.3l4,.3l-3.8,1.2M660,696l11.5-2.4m-3.6,.1l3.6-.1l-3.3,1.4M680,696l10.1-3.3m-3.2,.4l3.2-.4l-2.8,1.6M699,696l8.7-4.2m-2.8,.8l2.8-.8l-2.4,1.8M718,696l7.4-5.1m-2.5,1.1l2.5-1.1l-1.9,2M738,696l6.3-5.9m-2.2,1.4l2.2-1.4l-1.6,2.1M757,696l5.5-6.5m-2,1.6l2-1.6l-1.3,2.3M776,696l4.8-6.9m-1.8,1.8l1.8-1.8l-1,2.4M796,696l4.3-7.2m-1.7,1.9l1.7-1.9l-.9,2.4M815,696l4.1-7.2m-1.6,1.9l1.6-1.9l-.8,2.4M835,696l3.9-6.9m-1.6,1.8l1.6-1.8l-.8,2.3M137,714l1.1,1.7M156,714l1,1.6M175,714l1.9,2.9m-.4-1l.4,1l-.7-.8M195,714l1.6,2.4M214,714l1.2,1.8M234,714l.8,1.1M253,714l1.2,.4M272,714l1.2,.4M292,714l1.2,.4M311,714l.6-1.5M330,714l1.1-1.8M350,714l1.9-2M369,714l3-2m-1,.4l1-.4l-.8,.8M389,714l2.1-.9M408,714l2.9-.7M427,714l7.3-.9m-2.2-.2l2.2,.2l-2.1,.7M447,714l8.9-.3m-2.7-.4l2.7,.4l-2.7,.6M466,714l10.5,.4m-3.1-.7l3.1,.7l-3.2,.5M486,714l11.8,1m-3.5-1l3.5,1l-3.6,.4M505,714l12.9,1.5m-3.8-1.2l3.8,1.2l-4,.3M524,714l13.7,1.9m-4-1.3l4,1.3l-4.2,.2M544,714l14.2,2.1m-4.1-1.4l4.1,1.4l-4.4,.2M563,714l14.2,2.1m-4.1-1.4l4.1,1.4l-4.4,.2M583,714l13.9,1.9m-4-1.4l4,1.4l-4.3,.2M602,714l13.2,1.6m-3.9-1.2l3.9,1.2l-4,.3M621,714l12.2,1.1m-3.6-1l3.6,1l-3.7,.4M641,714l11,.4m-3.3-.7l3.3,.7l-3.3,.5M660,714l9.6-.4m-2.9-.4l2.9,.4l-2.9,.7M680,714l8.3-1.3m-2.6-.1l2.6,.1l-2.4,.9M699,714l6.9-2.2m-2.2,.3l2.2-.3l-2,1.1M718,714l5.7-3.1m-1.9,.6l1.9-.6l-1.5,1.3M738,714l4.7-3.9m-1.6,.9l1.6-.9l-1.2,1.4M757,714l3.9-4.7m-1.4,1.2l1.4-1.2l-.9,1.6M776,714l3.3-5.2m-1.3,1.4l1.3-1.4l-.7,1.8M796,714l2.9-5.6m-1.2,1.5l1.2-1.5l-.6,1.9M815,714l2.8-5.8m-1.2,1.6l1.2-1.6l-.5,1.9M835,714l2.7-5.7m-1.1,1.5l1.1-1.5l-.5,1.9M137,731l.8,2.1M156,731l.7,2.1M175,731l1.3,4m-.2-1.3l.2,1.3l-.6-1.1M195,731l.9,3.6m-.1-1.1l.1,1.1l-.5-1M214,731l.5,3.1M234,731l.1,2.5M253,731l-.3,1.8M272,731l-.5,1.1M292,731l1.2,.4M311,731l1.2,.4M330,731l1.2,.4M350,731l1.2,.4M369,731l1.2,.4M389,731l1.6-.5M408,731l2.3-.4M427,731l6-.4m-1.8-.2l1.8,.2l-1.8,.5M447,731l7.6,.1m-2.3-.5l2.3,.5l-2.3,.4M466,731l9,.7m-2.7-.7l2.7,.7l-2.7,.3M486,731l10.3,1.2m-3-1l3,1l-3.2,.2M505,731l11.4,1.8m-3.3-1.2l3.3,1.2l-3.5,.1M524,731l12.1,2.3m-3.5-1.4l3.5,1.4l-3.8,0M544,731l12.5,2.6m-3.6-1.5l3.6,1.5l-3.9-.1M563,731l12.6,2.8m-3.6-1.6l3.6,1.6l-3.9-.1M583,731l12.2,2.8m-3.5-1.5l3.5,1.5l-3.8-.2M602,731l11.5,2.6m-3.3-1.5l3.3,1.5l-3.6-.1M621,731l10.6,2.3m-3-1.3l3,1.3l-3.3-.1M641,731l9.4,1.8m-2.7-1.1l2.7,1.1l-2.9,0M660,731l8.1,1.1m-2.4-.8l2.4,.8l-2.5,.1M680,731l6.8,.3m-2-.5l2,.5l-2.1,.3M699,731l5.5-.5m-1.7-.2l1.7,.2l-1.6,.5M718,731l4.3-1.4m-1.4,.2l1.4-.2l-1.2,.7M738,731l3.4-2.3m-1.1,.5l1.1-.5l-.9,.9M757,731l2.6-3.1m-1,.8l1-.8l-.6,1.1M776,731l2.1-3.7m-.8,1l.8-1l-.4,1.2M796,731l1.8-4.2m-.8,1.2l.8-1.2l-.3,1.4M815,731l1.6-4.5m-.7,1.3l.7-1.3l-.2,1.5M835,731l1.7-4.6m-.8,1.3l.8-1.3l-.2,1.5M137,748l.6,2.3M156,748l.6,2.4M175,748l1,4.8m0-1.5l0,1.5l-.6-1.4M195,748l.7,4.6m.1-1.4l-.1,1.4l-.5-1.3M214,748l.3,4.2m.2-1.3l-.2,1.3l-.3-1.3M234,748l-.2,3.7m.3-1.1l-.3,1.1l-.2-1.1M253,748l-.6,3.1M272,748l-.8,2.4M292,748l-.9,1.7M311,748l-.8,1M330,748l1.2,.4M350,748l1.2,.4M369,748l1.2,.4M389,748l1.2-.2M408,748l3.8-.3m-1.2-.1l1.2,.1l-1.1,.3M427,748l5.2-.1m-1.6-.3l1.6,.3l-1.6,.3M447,748l6.6,.3m-2-.5l2,.5l-2,.3M466,748l8,.8m-2.4-.7l2.4,.7l-2.4,.2M486,748l9.2,1.3m-2.7-.9l2.7,.9l-2.8,.1M505,748l10.2,1.9m-3-1.1l3,1.1l-3.2,0M524,748l10.9,2.4m-3.1-1.3l3.1,1.3l-3.4-.1M544,748l11.2,2.9m-3.2-1.5l3.2,1.5l-3.5-.2M563,748l11.2,3.2m-3.2-1.6l3.2,1.6l-3.5-.3M583,748l10.8,3.4m-3-1.6l3,1.6l-3.4-.4M602,748l10.1,3.4m-2.8-1.6l2.8,1.6l-3.2-.5M621,748l9.1,3.3m-2.6-1.5l2.6,1.5l-2.9-.5M641,748l8,2.9m-2.2-1.3l2.2,1.3l-2.6-.4M660,748l6.7,2.4m-1.9-1.1l1.9,1.1l-2.1-.3M680,748l5.4,1.7m-1.5-.8l1.5,.8l-1.7-.2M699,748l4.1,1m-1.2-.5l1.2,.5l-1.3-.1M718,748l3,.1M738,748l2.1-.7M757,748l1.4-1.5M776,748l.9-2.3M796,748l.6-2.9M815,748l.6-3.3m-.4,1l.4-1l0,1M835,748l.7-3.5m-.4,1l.4-1l0,1.1" fill="none" stroke="#050505" stroke-width="1.55" stroke-linecap="round" stroke-linejoin="round"/>
<path d="M612.7,542.1 609.4,534.6 606.6,527.6 602.4,519.2 595.4,509.5 587.1,499.7 578.7,490 574.6,480.3 567.6,470.5 559.2,460.8 550.9,451 542.5,442.7 534.2,434.3 528.6,424.6 523,413.4 517.5,402.3 511.9,391.1 503.5,380 466.7,337.8 455.3,319.6 447.6,301.5 444.4,278.8 446.2,256.1 442.6,239.2 437.8,225.3 439.2,211.4 439.9,204.4 437.8,194.7 435.7,186.3 433.6,182.4 428,181.4" fill="none" stroke="#000" stroke-width="5.2" stroke-linejoin="round" stroke-linecap="butt"/>
<path d="M436.4,185.6 438.5,175.2 442.6,165.4 446.8,161.3 452.4,158.5 458,157.1 463.5,158.5 470.5,162.6 477.5,167.5 486.1,172.7" fill="none" stroke="#000" stroke-width="5.2" stroke-linejoin="round" stroke-linecap="butt"/>
<path d="M846.1,531.8 834.9,530.4 826.6,526.2 818.2,517.8 809.9,508.1 802.9,498.4 795.9,487.2 787.6,471.9 779.2,458 772.3,448.8 772,445.2 782,443.5 788.1,440.2 787.6,433.5 776.4,431.5 768.1,427.3 759.7,420.4 748.6,412 737.5,405.1 727.7,398.1 723.5,388.4 719.4,380 670.9,337.8 657.3,319.6 650.5,301.5 646,274.2 643.7,247 646,224.3 648.2,201.6" fill="none" stroke="#000" stroke-width="5.2" stroke-linejoin="round" stroke-linecap="butt"/>
<circle cx="428.3" cy="181.3" r="6" fill="#000"/>
<path d="M577.9,476.3 580.5,484 588.6,484.1 582.2,489 584.5,496.7 577.9,492.1 571.2,496.7 573.6,489 567.1,484.1 575.2,484Z" fill="#ff0d0d"/>
<path d="M802.6,485.4 805.2,493 813.3,493.2 806.9,498.1 809.2,505.8 802.6,501.2 796,505.8 798.3,498.1 791.9,493.2 800,493Z" fill="#ff0d0d"/>
</g>
<path d="M117,27.2V759.4H846.4" fill="none" stroke="#000" stroke-width="2.8"/>
<path d="M117,28.6H845.6" fill="none" stroke="#000" stroke-width="2"/>
<path d="M845.6,28.6V759.4" fill="none" stroke="#1a1a30" stroke-width="1.6"/>
<text class="ser" x="105.8" y="44.1" font-size="44.3" text-anchor="end">45°N</text>
<text class="ser" x="105.8" y="235.3" font-size="44.3" text-anchor="end">35°N</text>
<text class="ser" x="105.8" y="412.7" font-size="44.3" text-anchor="end">25°N</text>
<text class="ser" x="105.8" y="581.3" font-size="44.3" text-anchor="end">15°N</text>
<text class="ser" x="105.8" y="745.0" font-size="44.3" text-anchor="end">5°N</text>
<text class="ser" x="197.8" y="798.8" font-size="42.7" text-anchor="middle">105°E</text>
<text class="ser" x="359.7" y="798.8" font-size="42.7" text-anchor="middle">115°E</text>
<text class="ser" x="521.6" y="798.8" font-size="42.7" text-anchor="middle">125°E</text>
<text class="ser" x="683.5" y="798.8" font-size="42.7" text-anchor="middle">135°E</text>
<text class="ser" x="845.4" y="798.8" font-size="42.7" text-anchor="middle">145°E</text>
<rect x="868" y="27.6" width="46" height="731.2" fill="url(#cb)" stroke="#3a3a3a" stroke-width="1.2"/>
<text class="san" x="924.8" y="772.9" font-size="34.6">0</text>
<path d="M905.5,667.2H914" stroke="#333" stroke-width="1.3"/>
<text class="san" x="924.8" y="681.5" font-size="34.6">1</text>
<path d="M905.5,575.8H914" stroke="#333" stroke-width="1.3"/>
<text class="san" x="924.8" y="590.1" font-size="34.6">2</text>
<path d="M905.5,484.4H914" stroke="#333" stroke-width="1.3"/>
<text class="san" x="924.8" y="498.7" font-size="34.6">3</text>
<path d="M905.5,393.0H914" stroke="#333" stroke-width="1.3"/>
<text class="san" x="924.8" y="407.3" font-size="34.6">4</text>
<path d="M905.5,301.6H914" stroke="#333" stroke-width="1.3"/>
<text class="san" x="924.8" y="315.9" font-size="34.6">5</text>
<path d="M905.5,210.2H914" stroke="#333" stroke-width="1.3"/>
<text class="san" x="924.8" y="224.5" font-size="34.6">6</text>
<path d="M905.5,118.8H914" stroke="#333" stroke-width="1.3"/>
<text class="san" x="924.8" y="133.1" font-size="34.6">7</text>
<text class="san" x="924.8" y="41.7" font-size="34.6">8</text>
<text class="ser" transform="translate(1024.6,419.3) rotate(-90)" font-size="51.4" text-anchor="middle">significant wave height(m)</text>
</g>
<g transform="translate(1161.8,-0.7)">
<g clip-path="url(#mc)">
<g filter="url(#cm)">
<rect x="27" y="-61.4" width="908.6" height="910.8" fill="#0e0e0e"/>
<g filter="url(#b0)">
<path d="M62.6,710.1 925.2,710.1 925.2,837.2 62.6,837.2Z" fill="#333333"/>
<path d="M493.9,519.4 925.2,519.4 925.2,701 493.9,701Z" fill="#606060"/>
<path d="M484.8,310.6 925.2,310.6 925.2,542.1 484.8,542.1Z" fill="#767676"/>
<path d="M584.7,233.4 925.2,233.4 925.2,328.7 584.7,328.7Z" fill="#494949"/>
<path d="M444,274.2 516.6,274.2 566.5,233.4 607.4,237.9 630.1,301.5 607.4,365 503,378.7 453,346.9Z" fill="#2d2d2d"/>
<path d="M289.6,496.7 380.4,458.1 471.2,415 507.5,428.6 507.5,542.1 289.6,551.2Z" fill="#404040"/>
<path d="M775.4,174.4 802.6,69.9 902.5,69.9 902.5,237.9 743.6,237.9Z" fill="#232323"/>
<path d="M244.2,542.1 471.2,510.3 507.5,610.2 425.8,701 198.8,710.1Z" fill="#494949"/>
<path d="M85.3,587.5 221.5,623.8 235.1,710.1 85.3,710.1Z" fill="#333333"/>
<path d="M403.1,664.7 480.3,646.5 562,678.3 562,791.8 403.1,791.8Z" fill="#303030"/>
<path d="M543.8,169.8 543.8,110.8 598.3,56.3 675.5,29.1 752.7,-7.2 902.5,-7.2 902.5,88.1 798.1,119.9 789,174.4 752.7,219.8 698.2,242.5 643.7,247 589.2,224.3Z" fill="#0b0b0b"/>
<path d="M380.4,92.6 525.7,92.6 566.5,169.8 566.5,233.4 516.6,278.8 444,278.8 421.3,201.6 380.4,169.8Z" fill="#0d0d0d"/>
<path d="M198.8,451.3 257.8,437.7 289.6,474 280.5,519.4 244.2,546.6 198.8,514.8Z" fill="#101010"/>
<path d="M280.5,442.2 362.2,396.8 453,351.4 471.2,419.5 380.4,462.6 298.7,501.2Z" fill="#232323"/>
<path d="M257.8,519.4 298.7,528.5 303.2,610.2 257.8,664.7 221.5,646.5Z" fill="#262626"/>
</g>
<g filter="url(#b1)">
<ellipse cx="621" cy="138" rx="54.5" ry="45.4" fill="#303030"/>
<ellipse cx="618.7" cy="135.8" rx="31.8" ry="27.2" fill="#434343"/>
<ellipse cx="616.5" cy="133.5" rx="17.3" ry="15.4" fill="#535353"/>
<ellipse cx="493.9" cy="319.6" rx="36.3" ry="27.2" fill="#535353"/>
<ellipse cx="362.2" cy="623.8" rx="113.5" ry="22.7" fill="#666666" transform="rotate(-17 362.2 623.8)"/>
<ellipse cx="607.4" cy="569.3" rx="77.2" ry="36.3" fill="#808080"/>
<ellipse cx="779.9" cy="428.6" rx="118" ry="90.8" fill="#808080"/>
<ellipse cx="730" cy="385.5" rx="40" ry="20.9" fill="#9c9c9c"/>
<ellipse cx="825.3" cy="442.2" rx="27.2" ry="54.5" fill="#898989"/>
<ellipse cx="773.5" cy="469.4" rx="23.6" ry="18.2" fill="#666666"/>
<ellipse cx="582.4" cy="458.1" rx="120.3" ry="111.2" fill="#7c7c7c"/>
<ellipse cx="583.3" cy="458.6" rx="99" ry="91.7" fill="#8c8c8c"/>
<ellipse cx="584.7" cy="459.5" rx="81.7" ry="78.1" fill="#9f9f9f"/>
<ellipse cx="587.4" cy="462.6" rx="66.3" ry="68.1" fill="#bfbfbf"/>
<ellipse cx="589.7" cy="467.2" rx="52.7" ry="55.4" fill="#dcdcdc"/>
<ellipse cx="595.1" cy="456.7" rx="27.2" ry="42.7" fill="#fcfcfc" transform="rotate(-15 595.1 456.7)"/>
<ellipse cx="543.8" cy="455.8" rx="18.2" ry="31.8" fill="#999999"/>
<ellipse cx="564.3" cy="464.9" rx="9.1" ry="8.2" fill="#6c6c6c"/>
</g>
</g>
<path d="M108,20 723,20 722.7,30.7 713,38.4 700.5,46.7 685.2,56.5 678.2,59.9 664.3,68.3 651.1,74.5 639.2,68.3 630.9,62.7 623.2,73.2 619.7,76.6 612.8,74.5 614.2,81.5 605.8,85.7 598.1,92.6 600.2,102.4 596.8,110.7 584.9,117.7 572.4,126.1 561.3,132.3 559.9,139.3 569.6,146.9 578,155.3 584.9,166.4 590.5,177.6 594.7,190.1 596.1,201.2 591.9,211 586.3,217.9 579.4,217.2 575.2,220.7 569.6,218.6 565.4,223.5 561.3,221.4 557.1,224.9 552.9,222.8 545.9,227.7 541.8,220.7 545.9,209.6 548,198.5 541.8,191.5 541.1,185.2 548.7,183.1 545.9,172 537.6,166.4 527.8,165 518.1,162.3 516,160.2 522.3,149.7 529.2,151.8 523.7,147.6 529.2,133 513.9,130.9 500,128.8 498.3,127.8 488.6,132 477.5,139 469.1,144.5 459.4,148.7 463.5,143.2 469.1,136.9 462.1,134.8 469.1,127.8 476.1,115.3 470.5,106.3 458,109.7 446.8,119.5 435.7,129.2 421.8,141.8 403,143.9 403,155.7 414.8,158.5 421.8,166.8 425.9,175.9 438.5,175.2 445.4,162.6 455.2,157.8 464.9,159.2 476.1,166.1 485.8,172.4 483,179.4 474.7,181.4 463.5,184.9 452.4,189.1 449.6,197.5 444,198.8 441.3,203.7 435.7,210 427.3,221.1 438.5,226.7 443.3,231.6 448.2,240.6 451,253.1 453.8,264.3 469.5,277 458.3,281.1 470.9,292.3 445.8,303.4 458.3,304.1 473.6,311.1 465.3,315.9 470.9,320.1 462.5,324.3 468.1,328.5 462.5,332.6 465.3,336.8 459.7,341 451.4,342.4 455.6,345.2 450,353.5 445.8,361.9 440.2,367.5 433.3,366.1 437.5,371.6 431.9,380 434.7,388.3 429.1,385.6 427.7,392.5 423.5,391.1 422.1,398.1 416.6,396.7 418,402.3 411,403.6 406.8,407.8 405.4,403.6 401.3,414.8 395.7,413.4 397.1,420.4 390.1,421.7 384.5,424.5 385.9,428.7 377.6,430.1 372,434.3 365.1,432.9 362.3,437.1 353.9,434.3 347,444 340,435.7 339.2,437.6 332.3,429.2 333.6,440.4 328.1,443.2 325.3,439 323.9,447.3 318.3,448.7 314.2,447.3 311.4,452.9 305.8,451.5 303,455.7 297.5,457.1 291.9,458.5 284.9,461.3 284.2,473.8 281.4,476.6 278,475.9 275.9,469.6 274.5,461.3 272.4,454.3 266.8,455.7 262.6,452.9 258.5,455.7 254.3,448.7 250.1,452.9 243.2,455.7 236.2,461.3 230.6,465.4 225.1,465.4 222.3,472.4 216.7,478 212.5,483.5 209.7,490.5 208.4,497.5 212.5,505.8 218.1,515.6 223.7,523.9 229.2,530.9 236.2,536.4 244.5,542 251.5,549 257.1,555.9 261.3,564.3 264,574 264.5,570 267.3,581.1 269.4,593.7 268.7,603.4 265.9,611.8 264.5,618.7 257.6,625.7 249.2,631.3 240.9,635.4 233.9,638.2 225.6,641 224.2,648 220,653.5 213,657.7 207.5,663.3 200.5,666.8 194.9,666.8 195.6,659.1 197,650.7 193.5,645.9 188,641 182.4,636.8 175.4,635.4 173.3,628.5 168.5,632.6 164.3,624.3 158.7,614.5 151.8,606.9 143.4,602.7 132.3,602 130.9,590.9 123.9,597.8 117,602.7 108,602Z M108,690 117,692.5 121.1,692.5 130.9,695.3 142,699.5 150.4,706.4 158.7,714.8 167.1,723.1 171.3,731.5 172,744 172,767.7 108,768Z M330,752.7 340.5,738.7 351.1,729.9 365.1,725.5 367.7,719.4 373.9,715.9 380.9,705.3 386.2,696.5 391.4,694.8 394.9,698.3 400.2,703.6 405.5,705.3 403.7,712.3 412.5,712.3 407.2,715.9 426.5,721.1 416,726.4 410.7,729.9 417.8,735.2 409,738.7 400.2,740.4 407.2,745.7 398.5,749.2 391.4,748.3 402,756.2 402,768.5 330,768.5Z M394.9,670.2 400.2,663.2 407.2,656.2 416,645.6 423,636.9 428.3,628.1 433.6,626.3 435.3,631.6 430.1,640.4 421.3,649.1 412.5,657.9 405.5,666.7 398.5,672Z M472.2,694.8 475.7,682.5 484.5,673.7 493.2,668.5 500.3,670.2 502,675.5 507.3,673.7 516.1,668.5 519.6,663.2 528.4,659.7 530.1,650.9 535.4,654.4 540.6,663.2 542.4,670.2 547.7,679 546.8,689.5 540.6,705.3 535.4,698.3 530.1,705.3 531.9,712.3 528.4,715.9 521.3,710.6 514.3,708.8 507.3,703.6 507.3,694.8 505.5,686 500.3,680.7 493.2,686 488,684.3 482.7,687.8 477.4,694.8 473.9,700.1Z M473.1,700.9 475.7,699.7 476.6,701.8 474.3,703.2Z M246.5,741 249,738.5 251,742 249,748 246.5,746Z M586,341 592,336 596,338 590,343Z M257.1,493.3 261.3,489.1 266.8,483.5 275.2,481.4 283.5,480.7 293.3,480.5 296.1,483.5 294.7,489.1 290.5,494.7 286.3,500.2 280.7,505.8 272.4,511.4 266.8,510 261.3,507.2 258.5,500.2Z M466,392.5 470.9,393.9 472.3,399.5 469.5,409.2 466.7,417.6 463.9,425.9 459.7,435.7 455.6,444 453.5,447.5 450,442.6 444.4,434.3 440.9,424.5 443.7,416.2 448.6,407.8 454.2,399.5 459.7,394.6Z M451.3,505.3 461.8,504.6 477.1,506.7 475.7,517.8 481.3,529 472.9,542.9 467.3,554 464.5,563.8 471.5,573.5 477.1,579.1 481.3,576.3 485.4,581.9 491,580.5 498,583.3 503.5,586.1 500.7,593 506.3,598.6 503.5,600 495.2,595.8 489.6,590.2 482.6,593 478.5,587.5 472.9,581.9 467.3,580.5 460.4,584.7 454.8,583.3 450.6,579.1 454.8,572.1 449.2,572.1 443.7,568 439.5,556.8 437.4,545.7 443.7,541.5 446.5,530.4 445.8,517.8 449.9,510.9Z M447.8,590.2 456.2,591.6 464.5,597.2 463.2,605.6 460.4,609.7 456.2,605.6 452,598.6Z M471.5,616.7 481.3,619.5 491,623.6 486.8,629.2 479.9,633.4 472.9,637.6 472.2,626.4Z M491.7,606.9 495.9,608.3 492.4,612.5Z M510.5,605.6 523,604.2 530,612.5 532.8,627.8 527.2,626.4 521.6,623.6 520.2,615.3 514.7,611.1Z M511.9,622.3 520.2,626.4 524.4,640.4 520.2,641.7 514.7,634.8Z M492.4,633.4 495.9,632 493.8,643.1 492.4,652.9 489.6,661.2 484,657.1 480.6,651.5 486.8,643.1Z M502.1,632 504.9,629.2 503.5,637.6 500.7,644.5 499.4,640.4Z M503.5,647.3 510.5,644.5 513.3,648.7 507.7,652.2 503.5,651.5Z M616.5,233.3 626.2,225.7 635.9,218.7 645.7,211.8 649.2,205.9 668,205.6 687.5,206.5 700,206.5 705.6,196.5 709.7,185.3 711.1,177 719.5,174.2 715.3,183.9 720.9,184.6 730.6,178.4 741.7,171.4 753.6,160.6 757.8,150.9 760.6,139.7 764.8,130 760.6,125.8 763.4,114.7 769.7,103.5 777.3,101.4 780.1,109.1 783.6,99.4 787.1,99.4 789.1,106.3 792.6,120.2 796.1,132.8 792.6,145.3 789.1,157.1 780.1,160.6 778.7,173.1 778,187.1 780,182.5 777.9,192.3 773.8,199.2 777.2,205.5 769.6,213.2 764,216.6 762.6,207.6 759.1,208.3 759.1,217.3 751.5,213.2 745.9,224.3 743.1,217.3 739.7,224.3 733.4,227.1 719.5,225 712.5,221.5 709.7,223.6 711.1,232.6 697.2,245.9 693,245.2 686.1,238.9 687.5,225.7 681.9,225 668,224.3 656.8,230.1 645.7,235.4 635.9,239.6Z M642.9,236.1 656.8,237.1 659.6,245.2 649.9,257.7 641.5,259.1 637.3,249.4Z M658.2,236.8 665.2,232 673.5,233.3 677.7,239.6 669.4,250.7 661,248Z M616.5,242.4 624.8,245.2 634.5,253.5 630.4,264.7 624.8,275.8 623.4,284.2 613.7,290.4 603.9,286.2 606.7,275.8 610.9,266.1 612.3,256.3 608.1,252.1 606.7,259.1 598.4,261.2 595.6,253.5 594.2,250.1 603.9,248 610.9,242.4Z M798.9,29 805.2,32.5 814.9,39.5 826,45.1 837.2,49.2 853.9,47.1 853.9,61.8 837.2,67.3 828.8,75.7 820.5,84 816.3,88.2 805.2,82.6 791.2,75 778.7,79.9 770.4,78.5 782.9,91 773.1,95.2 763.4,98.7 760.6,79.9 767.6,72.9 771.7,67.3 769.7,63.2 777.3,60.4 784.3,61.1 787.1,56.9 795.4,42.3 796.8,33.9Z" fill="#a5a5a5" stroke="#050505" stroke-width="2" stroke-linejoin="round"/>
<path d="M108,727 117,727.3 122.5,727.3 125.3,738.5 130.9,749.6 136.5,760.7 108,768Z M637.5,20 644,20 640.8,36Z M117,183.5 122.5,178.5 128,190.5Z M378,323 382,322.5 384.5,327 381,329Z M353,298.5 357,297.5 358.5,301 355,302Z M421.5,314.5 425.5,313 426,318 422,318.5Z M413.5,250 417,249.5 417.5,253.5 414,254Z M213,582 216.5,583 216,589 213,588Z M204,611.5 209,607.5 211,609.5 206,614Z" fill="#fff" stroke="#111" stroke-width="1.2"/>
<path d="M789.1,27.7 791.9,33.9 790.5,42.3 786.4,49.9 784.3,56.2 784.3,60.4 M423.5,270 415.2,283.9 406.8,289.5 391.5,300.6 384.5,306.2 377.6,311.8 374.8,321.5 381.8,327.1 387.3,325.7 385.9,329.9 M377.6,311.8 365.1,304.8 358.1,299.9 351.1,299.2 353.9,304.8 348.4,307.6 M418,318.7 423.5,311.8 427,317.3 418,318.7 M397.1,279.7 402.6,281.1 399.9,283.2 397.1,279.7 M279.4,423 289.1,421.6 300.2,421.6 304.4,426.5 323.9,427.1 329.5,437.6 M204.2,458.5 220.9,475.2 M211.6,570 213.7,583.9 214.4,595.1 213.7,606.2 207.5,610.4 199.1,615.9 196.3,618.7 M190.7,604.8 196.3,618.7 201.9,631.3 207.5,642.4 213,653.5 M226.9,628.5 225.6,641 M206.1,638.2 218.6,639.6 M200,544.8 205.6,551.7 209.7,560.1 212.5,567.1 213.2,581 213.9,600.1" fill="none" stroke="#111" stroke-width="1.4"/>
<text class="ser" x="183.3" y="130.3" font-size="43.3" fill="#0b0b0b">2019-8-7</text>
<text class="ser" x="183.3" y="176.8" font-size="42.8" fill="#0b0b0b">25 m/s</text>
<path d="M320,166.5H356" stroke="#111" stroke-width="2" fill="none"/><path d="M358.5,166.5L344,158.5Q348,166.5 344,174.5Z" fill="#111"/>
<path d="M137,43l3.1,1.6m-.8-.7l.8,.7l-1-.3M156,43l2.3,.6M175,43l1.3-.3M195,43l.3-1.2M214,43l-.8-2.1M234,43l-1.8-2.9m.4,1l-.4-1l.7,.8M253,43l-2.5-3.5m.6,1.2l-.6-1.2l1,.9M272,43l-2.8-3.9m.6,1.3l-.6-1.3l1.1,1M292,43l-3.1-3.2m.8,1.1l-.8-1.1l1.1,.8M311,43l-3.5-1.7m.9,.7l-.9-.7l1.1,.3M330,43l-3.6,.1m1.1,.2l-1.1-.2l1.1-.2M350,43l-3.4,2m1.1-.4l-1.1,.4l.9-.8M369,43l-3.1,3.8m1.1-1l-1.1,1l.7-1.3M389,43l-2.9,5m1.1-1.3l-1.1,1.3l.6-1.7M408,43l-2.6,5.3m1.1-1.4l-1.1,1.4l.5-1.7M427,43l-2.1,5.6m.9-1.6l-.9,1.6l.3-1.8M447,43l-1.4,5.7m.7-1.6l-.7,1.6l.1-1.8M466,43l-.7,5.8m.5-1.7l-.5,1.7l-.1-1.8M486,43l0,5.7m.3-1.7l-.3,1.7l-.3-1.7M505,43l.5,5.4m.2-1.7l-.2,1.7l-.4-1.6M524,43l.8,5m.1-1.5l-.1,1.5l-.5-1.5M544,43l.9,4.5m0-1.4l0,1.4l-.5-1.3M563,43l.8,3.8m0-1.2l0,1.2l-.4-1.1M583,43l.5,3M602,43l0,2.1M621,43l-.5,1.3M641,43l1.2,.4M660,43l-1.6-.2M680,43l-2-.7M699,43l-2.2-1.1M718,43l-4.6-2.6m1.2,1l-1.2-1l1.5,.5M738,43l-4.2-2.6m1.1,1l-1.1-1l1.4,.5M757,43l-3.4-2.1m.9,.8l-.9-.8l1.1,.4M776,43l-2.2-1.3M796,43l1.2,.4M815,43l1.2,.4M835,43l3.2,2.7m-.8-1l.8,1l-1.1-.6M137,65l2.3,2.7m-.5-.9l.5,.9l-.8-.7M156,65l1.5,1.8M175,65l1.2,.4M195,65l1.2,.4M214,65l-1.7-1.1M234,65l-2.7-2.1m.7,.8l-.7-.8l.9,.5M253,65l-3.6-3m.9,1.1l-.9-1.1l1.2,.7M272,65l-4.1-3.8m1,1.4l-1-1.4l1.5,.9M292,65l-4.7-2.8m1.2,1.1l-1.2-1.1l1.6,.6M311,65l-5-1.5m1.4,.7l-1.4-.7l1.6,.2M330,65l-5,.2m1.5,.2l-1.5-.2l1.5-.3M350,65l-4.8,2m1.6-.3l-1.6,.3l1.3-.9M369,65l-4.4,3.8m1.5-.9l-1.5,.9l1.1-1.4M389,65l-3.7,5.5m1.4-1.5l-1.4,1.5l.8-1.9M408,65l-3.1,5.6m1.2-1.5l-1.2,1.5l.6-1.9M427,65l-2.3,5.7m1-1.6l-1,1.6l.4-1.9M447,65l-1.4,5.9m.8-1.7l-.8,1.7l.1-1.9M466,65l-.6,6.1m.5-1.8l-.5,1.8l-.2-1.9M486,65l.2,6.1m.3-1.8l-.3,1.8l-.4-1.8M505,65l.7,6m.1-1.8l-.1,1.8l-.6-1.8M524,65l1.1,5.8m0-1.8l0,1.8l-.7-1.7M544,65l1.2,5.4m-.1-1.7l.1,1.7l-.7-1.5M563,65l1.2,4.8m-.1-1.5l.1,1.5l-.6-1.4M583,65l.9,4.1m0-1.3l0,1.3l-.5-1.2M602,65l.5,3.4m.1-1l-.1,1l-.3-1M621,65l0,2.6M641,65l-.6,1.7M660,65l-1.1,1M680,65l-3.1,.6M699,65l-3.7-.4m1.1,.3l-1.1-.3l1.1-.1M718,65l-3.9-1.2m1.1,.6l-1.1-.6l1.2,.1M738,65l-3.6-1.5m1,.7l-1-.7l1.2,.2M757,65l-3-1.4m.8,.6l-.8-.6l1,.3M776,65l1.2,.4M796,65l1.2,.4M815,65l1.2,.4M835,65l1.4,1.1M137,87l1.5,3.5m-.3-1.1l.3,1.1l-.7-1M156,87l.7,2.7M175,87l-.2,1.8M195,87l-1.3,.8M214,87l-2.4-.3M234,87l-3.5-1.3m1,.6l-1-.6l1.1,.2M253,87l-4.5-2.4m1.2,1l-1.2-1l1.5,.4M272,87l-5.5-3.3m1.5,1.3l-1.5-1.3l1.9,.7M292,87l-6.1-2.5m1.7,1.1l-1.7-1.1l2,.4M311,87l-6.4-1.3m1.8,.7l-1.8-.7l2,0M330,87l-6.3,.2m1.9,.3l-1.9-.3l1.9-.4M350,87l-6,1.9m1.9-.2l-1.9,.2l1.7-.9M369,87l-5.5,3.6m1.8-.8l-1.8,.8l1.4-1.4M389,87l-4.7,5.3m1.7-1.3l-1.7,1.3l1.1-1.8M408,87l-3.5,5.3m1.4-1.4l-1.4,1.4l.8-1.8M427,87l-2.4,5.4m1-1.5l-1,1.5l.4-1.8M447,87l-1.4,5.7m.7-1.6l-.7,1.6l.1-1.8M466,87l-.4,5.9m.5-1.8l-.5,1.8l-.2-1.8M486,87l.4,6.1m.2-1.8l-.2,1.8l-.5-1.8M505,87l1,6.2m.1-1.9l-.1,1.9l-.6-1.8M524,87l1.4,6.1m-.1-1.9l.1,1.9l-.8-1.7M544,87l1.5,5.8m-.1-1.8l.1,1.8l-.8-1.7M563,87l1.5,5.5m-.1-1.7l.1,1.7l-.8-1.6M583,87l1.2,4.9m-.1-1.5l.1,1.5l-.6-1.4M602,87l.8,4.2m0-1.3l0,1.3l-.5-1.2M621,87l.5,7m.2-2.1l-.2,2.1l-.6-2.1M641,87l-.6,5.4m.5-1.6l-.5,1.6l-.1-1.6M660,87l-1.7,3.8m.7-1l-.7,1l.3-1.2M680,87l-2.6,2.3m.9-.5l-.9,.5l.7-.8M699,87l-3.3,1m1-.1l-1,.1l.9-.5M718,87l-3.6,0m1.1,.2l-1.1-.2l1.1-.2M738,87l-3.5-.7m1,.4l-1-.4l1.1,0M757,87l-3-1M776,87l1.2,.4M796,87l1.2,.4M815,87l1.2,.4M835,87l2.2,1.5M137,110l.8,3.9m0-1.2l0,1.2l-.5-1.1M156,110l.1,3.2m.2-1l-.2,1l-.2-1M175,110l-.8,2.4M195,110l-1.8,1.5M214,110l-2.9,.6M234,110l-4.1-.4m1.2,.4l-1.2-.4l1.2-.1M253,110l-5.2-1.4m1.5,.7l-1.5-.7l1.6,.1M272,110l-6.4-2.2m1.8,1l-1.8-1l2.1,.3M292,110l-7.3-2.1m2.1,1.1l-2.1-1.1l2.3,.2M311,110l-7.5-1.1m2.2,.8l-2.2-.8l2.3-.1M330,110l-7.5,.2m2.3,.4l-2.3-.4l2.2-.5M350,110l-7.1,1.6m2.2-.1l-2.2,.1l2-.9M369,110l-6.4,3.1m2.1-.6l-2.1,.6l1.7-1.3M389,110l-5.2,4m1.8-.9l-1.8,.9l1.3-1.5M408,110l-3.7,4.3m1.4-1.1l-1.4,1.1l.9-1.5M427,110l-2.4,4.6m1-1.2l-1,1.2l.5-1.5M447,110l-1.2,5m.6-1.4l-.6,1.4l.1-1.6M466,110l-.4,10.6m.7-3.2l-.7,3.2l-.5-3.2M486,110l.6,5.6m.1-1.7l-.1,1.7l-.5-1.6M505,110l1.3,5.8m0-1.8l0,1.8l-.7-1.7M524,110l1.7,5.9m-.2-1.9l.2,1.9l-.8-1.7M544,110l1.8,5.9m-.2-1.9l.2,1.9l-.9-1.7M563,110l1.7,5.7m-.2-1.8l.2,1.8l-.8-1.6M583,110l1.4,5.3m-.1-1.7l.1,1.7l-.7-1.5M602,110l2,9.5m-.1-3l.1,3l-1.1-2.7M621,110l.9,8.2m.2-2.5l-.2,2.5l-.7-2.4M641,110l-.4,6.7m.5-2l-.5,2l-.3-2M660,110l-1.5,5.2m.8-1.5l-.8,1.5l.2-1.6M680,110l-2.6,3.6m1-.9l-1,.9l.6-1.2M699,110l-3.4,2.1m1.1-.5l-1.1,.5l.9-.8M718,110l-3.8,.9m1.2,0l-1.2,0l1.1-.5M738,110l-3.8-.1m1.1,.3l-1.1-.3l1.2-.2M757,110l-3.5-.8m1,.4l-1-.4l1.1,0M776,110l-1.4-.5M796,110l-1.7-1M815,110l1.2,.4M835,110l1.2,.4M137,133l.3,3.9m.1-1.2l-.1,1.2l-.3-1.1M156,133l-.3,3.4m.3-1l-.3,1l-.1-1M175,133l-1.2,2.8M195,133l-2.1,2M214,133l-3.2,1.2m1-.2l-1,.2l.9-.5M234,133l-4.2,.3m1.3,.2l-1.3-.2l1.3-.3M253,133l-5.3-.5m1.6,.5l-1.6-.5l1.6-.2M272,133l-6.4-1.1m1.9,.7l-1.9-.7l2,0M292,133l-7.4-1.4m2.1,.8l-2.1-.8l2.3,0M311,133l-8.2-1m2.4,.8l-2.4-.8l2.5-.2M330,133l-8.2,0m2.5,.5l-2.5-.5l2.5-.5M350,133l-7.7,1.2m2.4,.1l-2.4-.1l2.2-.8M369,133l-6.3,2.1m2-.3l-2,.3l1.8-1M389,133l-4.9,2.6m1.6-.5l-1.6,.5l1.3-1.1M408,133l-3.5,3.1m1.2-.7l-1.2,.7l.9-1.1M427,133l-2.2,3.5m.8-.9l-.8,.9l.4-1.2M447,133l-1.9,7.9m1-2.2l-1,2.2l.1-2.5M466,133l0,4.4m.2-1.3l-.2,1.3l-.3-1.3M486,133l.9,4.8m0-1.5l0,1.5l-.5-1.4M505,133l2.9,10.3m-.3-3.3l.3,3.3l-1.5-2.9M524,133l3.6,10.8m-.5-3.4l.5,3.4l-1.7-3M544,133l1.9,5.5m-.3-1.8l.3,1.8l-.9-1.5M563,133l3.6,10.9m-.5-3.5l.5,3.5l-1.7-3.1M583,133l2.9,10.5m-.3-3.3l.3,3.3l-1.5-3M602,133l1.9,9.7m0-3l0,3l-1.1-2.8M621,133l.7,8.6m.3-2.6l-.3,2.6l-.7-2.6M641,133l-.6,7.3m.6-2.2l-.6,2.2l-.2-2.2M660,133l-1.9,5.9m.9-1.7l-.9,1.7l.2-1.9M680,133l-3,4.3m1.2-1.1l-1.2,1.1l.7-1.5M699,133l-3.9,2.8m1.3-.6l-1.3,.6l1-1.1M718,133l-4.5,1.4m1.4-.2l-1.4,.2l1.3-.7M738,133l-4.7,.1m1.4,.2l-1.4-.2l1.4-.3M757,133l-4.4-.8m1.3,.5l-1.3-.5l1.4,0M776,133l-1.9-.7M796,133l-1.5-.9M815,133l-1.8-1.7M835,133l-.5-1.2M137,156l0,3.5m.2-1.1l-.2,1.1l-.2-1.1M156,156l-.6,3.3m.4-.9l-.4,.9l0-1M175,156l-1.3,2.8M195,156l-2.2,2.2M214,156l-3.1,1.5m1-.3l-1,.3l.8-.6M234,156l-4.1,.8m1.3,0l-1.3,0l1.2-.5M253,156l-5,.1m1.5,.2l-1.5-.2l1.5-.3M272,156l-5.9-.4m1.7,.5l-1.7-.5l1.8-.2M292,156l-6.6-.7m1.9,.6l-1.9-.6l2-.2M311,156l-7-.6m2.1,.6l-2.1-.6l2.1-.2M330,156l-6.9-.2m2.1,.4l-2.1-.4l2.1-.3M350,156l-6.4,.4m1.9,.2l-1.9-.2l1.9-.5M369,156l-5.4,.9m1.7,0l-1.7,0l1.6-.6M389,156l-4.2,1.4m1.3-.2l-1.3,.2l1.2-.7M408,156l-6,3.7m2-.8l-2,.8l1.6-1.5M427,156l-3.5,4.6m1.3-1.2l-1.3,1.2l.8-1.6M447,156l-1.3,5.6m.7-1.6l-.7,1.6l.1-1.8M466,156l.5,6.6m.2-2l-.2,2l-.5-1.9M486,156l2,7.5m-.2-2.4l.2,2.4l-1-2.1M505,156l3.1,8.4m-.4-2.7l.4,2.7l-1.4-2.4M524,156l1.8,4.6m-.3-1.5l.3,1.5l-.8-1.3M544,156l1.9,4.8m-.3-1.5l.3,1.5l-.8-1.3M563,156l1.7,4.9m-.2-1.6l.2,1.6l-.8-1.4M583,156l2.5,9.7m-.2-3l.2,3l-1.3-2.8M602,156l1.4,9.2m.1-2.8l-.1,2.8l-1-2.7M621,156l.1,8.4m.4-2.5l-.4,2.5l-.5-2.5M641,156l-1.3,7.3m.8-2.1l-.8,2.1l0-2.3M660,156l-2.7,6m1.2-1.6l-1.2,1.6l.5-2M680,156l-4,4.5m1.4-1.1l-1.4,1.1l.9-1.6M699,156l-4.9,3m1.7-.6l-1.7,.6l1.3-1.2M718,156l-5.6,1.5m1.8-.1l-1.8,.1l1.6-.8M738,156l-5.9,.1m1.8,.3l-1.8-.3l1.8-.4M757,156l-2.9-.6M776,156l-2.6-1M796,156l-4.4-2.6m1.2,1l-1.2-1l1.5,.5M815,156l-3.4-2.9m.8,1.1l-.8-1.1l1.2,.7M835,156l-2.2-2.8m.5,1l-.5-1l.8,.7M137,177l-.1,2.9M156,177l-.6,2.9M175,177l-1.2,2.6M195,177l-2,2.2M214,177l-2.8,1.7m.9-.3l-.9,.3l.8-.7M234,177l-3.7,1.1m1.2-.1l-1.2,.1l1-.5M253,177l-4.5,.5m1.4,.1l-1.4-.1l1.3-.4M272,177l-5.1,.1m1.5,.3l-1.5-.3l1.5-.3M292,177l-5.6-.3m1.7,.4l-1.7-.4l1.7-.2M311,177l-5.8-.4m1.7,.4l-1.7-.4l1.8-.2M330,177l-5.7-.3m1.7,.4l-1.7-.4l1.7-.2M350,177l-5.2-.1m1.6,.3l-1.6-.3l1.6-.3M369,177l-4.5,.2m1.3,.2l-1.3-.2l1.3-.3M389,177l-3.5,.5m1.1,0l-1.1,0l1-.3M408,177l-2.4,.9M427,177l-1.4,1.3M447,177l-.4,1.7M466,177l.4,2.2M486,177l2.2,5.4m-.3-1.8l.3,1.8l-1-1.5M505,177l3,6.4m-.5-2.1l.5,2.1l-1.3-1.8M524,177l3.3,7.3m-.6-2.4l.6,2.4l-1.4-2M544,177l3.2,7.9m-.5-2.6l.5,2.6l-1.4-2.2M563,177l1.3,4.2m-.2-1.3l.2,1.3l-.6-1.2M583,177l.9,4.2m0-1.3l0,1.3l-.5-1.2M602,177l.5,8.2m.3-2.5l-.3,2.5l-.6-2.4M621,177l-1,7.7m.7-2.2l-.7,2.2l-.1-2.4M641,177l-2.5,6.8m1.1-1.9l-1.1,1.9l.4-2.2M660,177l-4,5.7m1.5-1.5l-1.5,1.5l.9-1.9M680,177l-5.3,4.4m1.8-1l-1.8,1l1.3-1.6M699,177l-6.3,2.9m2.1-.5l-2.1,.5l1.7-1.2M718,177l-7.1,1.4m2.2,0l-2.2,0l2-.8M738,177l-3.7,0m1.1,.2l-1.1-.2l1.1-.2M757,177l-3.7-.7m1.1,.4l-1.1-.4l1.1,0M776,177l-3.5-1.3m1,.6l-1-.6l1.1,.2M796,177l-6.1-3.5m1.6,1.4l-1.6-1.4l2,.7M815,177l-5.1-4.1m1.3,1.5l-1.3-1.5l1.8,.9M835,177l-3.9-4.3m.9,1.5l-.9-1.5l1.4,1.1M137,201l0,2.1M156,201l-.4,2.2M175,201l-1,2.2M195,201l-1.6,2M214,201l-2.3,1.7M234,201l-3,1.2m1-.2l-1,.2l.8-.5M253,201l-3.7,.8m1.2,0l-1.2,0l1.1-.5M272,201l-4.2,.4m1.3,.1l-1.3-.1l1.2-.4M292,201l-4.6,0m1.4,.3l-1.4-.3l1.4-.3M311,201l-4.7-.2m1.4,.3l-1.4-.3l1.4-.2M330,201l-4.6-.4m1.3,.4l-1.3-.4l1.4-.1M350,201l-4.1-.4m1.2,.4l-1.2-.4l1.3-.1M369,201l-3.5-.3m1,.3l-1-.3l1.1-.1M389,201l-2.7-.2M408,201l-1.8,.1M427,201l1.2,.4M447,201l-.3,1.5M466,201l1,2.4M486,201l2,3.4m-.4-1.1l.4,1.1l-.8-.9M505,201l2.5,4.3m-.5-1.4l.5,1.4l-1-1.2M524,201l2.6,5.2m-.5-1.7l.5,1.7l-1.1-1.4M544,201l2.2,6m-.3-1.9l.3,1.9l-1-1.7M563,201l.7,3.3m0-1l0,1l-.4-.9M583,201l.2,3.4m.1-1l-.1,1l-.2-1M602,201l-1,6.9m.7-2l-.7,2l-.1-2.1M621,201l-2.6,6.6m1.2-1.8l-1.2,1.8l.4-2.1M641,201l-4.2,6m1.6-1.5l-1.6,1.5l.9-2M660,201l-5.8,5.1m2-1.2l-2,1.2l1.4-1.8M680,201l-7.1,3.9m2.4-.8l-2.4,.8l1.9-1.6M699,201l-8.3,2.6m2.6-.3l-2.6,.3l2.3-1.2M718,201l-4.5,.6m1.4,.1l-1.4-.1l1.3-.4M738,201l-4.7-.2m1.4,.3l-1.4-.3l1.4-.2M757,201l-4.7-.9m1.4,.5l-1.4-.5l1.5,0M776,201l-8.9-3.2m2.5,1.5l-2.5-1.5l2.9,.4M796,201l-8.1-4.3m2.2,1.8l-2.2-1.8l2.7,.8M815,201l-7.1-5.2m1.8,2l-1.8-2l2.4,1.2M835,201l-5.8-5.7m1.4,2l-1.4-2l2.1,1.4M137,222l.2,1.3M156,222l-.1,1.5M175,222l-.6,1.7M195,222l-1.2,1.7M214,222l-1.8,1.5M234,222l-2.4,1.3M253,222l-2.9,1M272,222l-3.4,.6m1,0l-1,0l1-.4M292,222l-3.7,.3m1.1,.1l-1.1-.1l1.1-.3M311,222l-3.7,0m1.1,.2l-1.1-.2l1.1-.2M330,222l-3.6-.3m1.1,.3l-1.1-.3l1.1-.1M350,222l-3.3-.4m1,.3l-1-.3l1-.1M369,222l-2.7-.5M389,222l-2.1-.5M408,222l-1.4-.3M427,222l1.2,.4M447,222l1.2,.4M466,222l.8,1M486,222l1.5,1.9M505,222l1.7,2.7m-.3-.9l.3,.9l-.7-.7M524,222l1.5,3.6m-.2-1.2l.2,1.2l-.6-1M544,222l.4,2.2M563,222l-.1,4.9m.3-1.5l-.3,1.5l-.2-1.5M583,222l-1.4,5.3m.7-1.5l-.7,1.5l.1-1.7M602,222l-2.9,5.5m1.2-1.5l-1.2,1.5l.6-1.8M621,222l-4.6,5.4m1.7-1.4l-1.7,1.4l1.1-1.9M641,222l-3.1,2.5m1.1-.6l-1.1,.6l.8-.9M660,222l-3.9,2.2m1.3-.4l-1.3,.4l1-.9M680,222l-4.6,1.7m1.5-.2l-1.5,.2l1.3-.8M699,222l-5.2,1.1m1.6,0l-1.6,0l1.5-.6M718,222l-5.5,.4m1.7,.2l-1.7-.2l1.6-.4M738,222l-5.7-.3m1.7,.4l-1.7-.4l1.7-.2M757,222l-11.4-2.1m3.3,1.3l-3.3-1.3l3.5,0M776,222l-10.9-3.6m3.1,1.7l-3.1-1.7l3.5,.4M796,222l-10.1-4.9m2.7,2l-2.7-2l3.3,.9M815,222l-8.9-6m2.3,2.3l-2.3-2.3l3,1.3M835,222l-7.6-6.8m1.9,2.5l-1.9-2.5l2.7,1.6M137,245l1.2,.4M156,245l1.2,.4M175,245l1.2,.4M195,245l-.6,1.3M214,245l-1.1,1.3M234,245l-1.7,1.3M253,245l-2.2,1.1M272,245l-2.5,.8M292,245l-2.8,.6M311,245l-2.9,.3M330,245l-2.8,0M350,245l-2.5-.2M369,245l-2.1-.3M389,245l-1.6-.4M408,245l1.2,.4M427,245l1.2,.4M447,245l1.2,.4M466,245l1.2,.4M486,245l1.2,.4M505,245l.4,1.7M524,245l-.1,2.4M544,245l-1,3.1m.5-.9l-.5,.9l.1-1M563,245l-2.3,3.6m.9-1l-.9,1l.5-1.2M583,245l-3.7,4m1.3-1l-1.3,1l.9-1.4M602,245l-5.4,4.2m1.9-1l-1.9,1l1.4-1.6M621,245l-3.5,2.1m1.2-.4l-1.2,.4l.9-.8M641,245l-4.4,2m1.4-.4l-1.4,.4l1.2-.9M660,245l-10.4,3.5m3.3-.5l-3.3,.5l2.9-1.6M680,245l-11.7,2.8m3.7-.2l-3.7,.2l3.4-1.5M699,245l-12.8,1.8m3.9,.2l-3.9-.2l3.7-1.3M718,245l-13.5,.6m4.1,.6l-4.1-.6l4-1M738,245l-13.8-.8m4.1,1l-4.1-1l4.2-.6M757,245l-13.7-2.2m4,1.4l-4-1.4l4.2-.1M776,245l-13.1-3.7m3.7,1.9l-3.7-1.9l4.2,.4M796,245l-12.2-5.1m3.4,2.2l-3.4-2.2l4,.8M815,245l-10.9-6.4m2.9,2.5l-2.9-2.5l3.6,1.3M835,245l-9.5-7.4m2.4,2.8l-2.4-2.8l3.3,1.7M137,268l1.2,.4M156,268l1.2,.4M175,268l1.2,.4M195,268l1.2,.4M214,268l-.5,1.2M234,268l-1,1.3M253,268l-1.4,1.2M272,268l-1.8,1.1M292,268l-2,1M311,268l-2.1,.8M330,268l-2.1,.5M350,268l-1.9,.3M369,268l-1.6,.2M389,268l-1.3,0M408,268l1.2,.4M427,268l1.2,.4M447,268l1.2,.4M466,268l1.2,.4M486,268l-.9,1.1M505,268l-1.5,1.5M524,268l-2.4,2M544,268l-3.7,2.4m1.2-.5l-1.2,.5l1-.9M563,268l-5.2,2.8m1.7-.5l-1.7,.5l1.4-1.1M583,268l-6.8,3.1m2.2-.5l-2.2,.5l1.9-1.3M602,268l-8.6,3.2m2.7-.5l-2.7,.5l2.4-1.5M621,268l-5.1,1.6m1.6-.2l-1.6,.2l1.4-.8M641,268l-11.8,3m3.7-.2l-3.7,.2l3.4-1.6M660,268l-13.3,2.7m4.1-.1l-4.1,.1l3.8-1.6M680,268l-14.6,2.2m4.5,.2l-4.5-.2l4.2-1.5M699,268l-15.6,1.5m4.8,.4l-4.8-.4l4.6-1.3M718,268l-16.3,.5m4.9,.8l-4.9-.8l4.9-1.1M738,268l-16.6-.7m5,1.2l-5-1.2l5-.7M757,268l-16.5-2.1m4.8,1.6l-4.8-1.6l5.1-.3M776,268l-15.9-3.6m4.6,2l-4.6-2l5,.2M796,268l-14.8-5m4.1,2.4l-4.1-2.4l4.7,.7M815,268l-13.3-6.4m3.6,2.7l-3.6-2.7l4.4,1.2M835,268l-11.6-7.7m3,3l-3-3l3.9,1.6M137,289l1.4-.8M156,289l1.2-.2M175,289l1.2,.4M195,289l1.2,.4M214,289l1.2,.4M234,289l-.4,1.3M253,289l-.8,1.5M272,289l-1.2,1.5M292,289l-1.4,1.5M311,289l-1.6,1.3M330,289l-1.6,1.2M350,289l-1.5,1.1M369,289l-1.3,.9M389,289l-1.1,.8M408,289l1.2,.4M427,289l1.2,.4M447,289l1.2,.4M466,289l-1,.9M486,289l-2.7,2.1m.9-.5l-.9,.5l.7-.8M505,289l-3.7,2.3m1.3-.5l-1.3,.5l1-.9M524,289l-5.2,2.5m1.7-.4l-1.7,.4l1.4-1M544,289l-6.8,2.6m2.2-.4l-2.2,.4l1.9-1.2M563,289l-8.6,2.6m2.7-.3l-2.7,.3l2.4-1.3M583,289l-10.3,2.5m3.2-.2l-3.2,.2l3-1.3M602,289l-12,2.4m3.7,0l-3.7,0l3.5-1.4M621,289l-13.6,2.3m4.2,.1l-4.2-.1l4-1.5M641,289l-15.2,2.2m4.7,.2l-4.7-.2l4.4-1.5M660,289l-16.6,2.1m5.1,.3l-5.1-.3l4.8-1.6M680,289l-17.8,1.9m5.4,.5l-5.4-.5l5.2-1.6M699,289l-18.8,1.4m5.7,.6l-5.7-.6l5.5-1.5M718,289l-19.4,.7m5.9,.9l-5.9-.9l5.8-1.3M738,289l-19.7-.3m5.9,1.2l-5.9-1.2l5.9-1M757,289l-19.5-1.5m5.8,1.6l-5.8-1.6l5.9-.7M776,289l-18.9-3m5.5,2l-5.5-2l5.8-.2M796,289l-17.7-4.6m5.1,2.4l-5.1-2.4l5.6,.4M815,289l-16-6.1m4.5,2.8l-4.5-2.8l5.2,.9M835,289l-14-7.5m3.8,3l-3.8-3l4.6,1.4M137,309l1.7-1.1M156,309l1.6-.5M175,309l1.3,.1M195,309l1.2,.4M214,309l1.2,.4M234,309l.1,1.4M253,309l-.3,1.7M272,309l-.7,1.9M292,309l-1,2M311,309l-1.2,2M330,309l-1.2,1.9M350,309l-1.2,1.9M369,309l-1.1,1.8M389,309l-1.1,1.8M408,309l-1,1.7M427,309l-1,1.7M447,309l-1.2,1.8M466,309l-1.6,1.9M486,309l-4.5,3.8m1.6-.9l-1.6,.9l1.1-1.4M505,309l-6.1,3.8m2-.8l-2,.8l1.6-1.5M524,309l-8,3.7m2.6-.6l-2.6,.6l2.2-1.6M544,309l-10.1,3.3m3.2-.4l-3.2,.4l2.8-1.6M563,309l-12,2.7m3.8-.1l-3.8,.1l3.4-1.5M583,309l-13.8,2.2m4.3,.1l-4.3-.1l4-1.4M602,309l-15.5,1.8m4.7,.3l-4.7-.3l4.5-1.4M621,309l-17,1.6m5.2,.5l-5.2-.5l5-1.4M641,309l-18.4,1.6m5.6,.6l-5.6-.6l5.4-1.5M660,309l-19.7,1.6m6,.6l-6-.6l5.8-1.6M680,309l-20.8,1.6m6.3,.7l-6.3-.7l6.1-1.7M699,309l-21.7,1.5m6.6,.8l-6.6-.8l6.4-1.7M718,309l-22.3,1.1m6.7,.9l-6.7-.9l6.6-1.6M738,309l-22.5,.3m6.8,1.2l-6.8-1.2l6.7-1.4M757,309l-22.3-.8m6.6,1.5l-6.6-1.5l6.7-1M776,309l-21.6-2.2m6.3,1.9l-6.3-1.9l6.6-.6M796,309l-20.3-3.9m5.9,2.3l-5.9-2.3l6.3,0M815,309l-18.5-5.6m5.2,2.7l-5.2-2.7l5.9,.6M835,309l-16.3-7.1m4.5,3.1l-4.5-3.1l5.3,1.2M137,331l2.1-1.2M156,331l2-.6M175,331l1.7,0M195,331l1.4,.6M214,331l.9,1.1M234,331l.5,1.6M253,331l0,2M272,331l-.3,2.3M292,331l-.6,2.6M311,331l-.8,2.7M330,331l-1,2.8M350,331l-1,2.9M369,331l-1,2.9M389,331l-1,3M408,331l-1,3M427,331l-1.2,3.1m.5-.9l-.5,.9l.2-1M447,331l-1.6,3.2m.6-.9l-.6,.9l.3-1M466,331l-4.3,6.6m1.7-1.7l-1.7,1.7l.9-2.2M486,331l-6,6.6m2.2-1.6l-2.2,1.6l1.4-2.3M505,331l-8.2,6.4m2.8-1.4l-2.8,1.4l2.1-2.4M524,331l-10.7,5.8m3.5-1.1l-3.5,1.1l2.9-2.3M544,331l-13.1,4.6m4.2-.6l-4.2,.6l3.7-2.1M563,331l-15.3,3.3m4.8-.1l-4.8,.1l4.4-1.9M583,331l-17.1,2m5.2,.4l-5.2-.4l5-1.6M602,331l-18.5,1.2m5.6,.7l-5.6-.7l5.5-1.4M621,331l-19.7,.8m6,.9l-6-.9l5.9-1.4M641,331l-20.7,.8m6.3,1l-6.3-1l6.2-1.4M660,331l-21.7,1m6.6,.9l-6.6-.9l6.4-1.5M680,331l-22.6,1.4m6.9,.9l-6.9-.9l6.7-1.7M699,331l-23.4,1.6m7.1,.8l-7.1-.8l6.9-1.8M718,331l-24,1.6m7.3,.9l-7.3-.9l7.1-1.8M738,331l-24.3,1.1m7.4,1l-7.4-1l7.2-1.7M757,331l-24.2,.2m7.3,1.3l-7.3-1.3l7.2-1.4M776,331l-23.5-1.3m7,1.7l-7-1.7l7.1-1M796,331l-22.1-3m6.5,2.2l-6.5-2.2l6.8-.4M815,331l-20.1-4.9m5.8,2.6l-5.8-2.6l6.3,.3M835,331l-17.7-6.6m4.9,3l-4.9-3l5.7,1M137,351l2.4-1.2M156,351l2.3-.6M175,351l2,0M195,351l1.6,.6M214,351l1.2,1.2M234,351l.7,1.8M253,351l.3,2.3M272,351l-.1,2.7M292,351l-.4,3.1M311,351l-.6,3.4m.4-1l-.4,1l0-1.1M330,351l-.7,3.6m.4-1.1l-.4,1.1l0-1.1M350,351l-.8,3.8m.5-1.1l-.5,1.1l0-1.2M369,351l-.8,4m.5-1.2l-.5,1.2l0-1.2M389,351l-.8,4.2m.5-1.2l-.5,1.2l0-1.3M408,351l-.9,4.3m.5-1.2l-.5,1.2l0-1.4M427,351l-1.1,4.5m.6-1.3l-.6,1.3l.1-1.4M447,351l-1.6,4.7m.7-1.3l-.7,1.3l.2-1.5M466,351l-4.6,9.8m1.9-2.7l-1.9,2.7l.8-3.2M486,351l-6.7,9.9m2.6-2.6l-2.6,2.6l1.5-3.4M505,351l-9.5,9.6m3.4-2.4l-3.4,2.4l2.3-3.4M524,351l-12.5,8.4m4.2-1.8l-4.2,1.8l3.3-3.2M544,351l-15.4,6.4m5-1l-5,1l4.3-2.8M563,351l-17.8,4m5.6-.2l-5.6,.2l5.1-2.2M583,351l-19.3,1.9m5.9,.5l-5.9-.5l5.7-1.7M602,351l-20.2,.4m6.1,1l-6.1-1l6-1.3M621,351l-20.7-.3m6.2,1.3l-6.2-1.3l6.2-1.1M641,351l-21.1-.3m6.3,1.3l-6.3-1.3l6.3-1.1M660,351l-21.6,.3m6.5,1.1l-6.5-1.1l6.5-1.3M680,351l-22.2,1.1m6.7,.9l-6.7-.9l6.6-1.6M699,351l-22.9,1.8m7,.8l-7-.8l6.8-1.8M718,351l-23.5,2.2m7.2,.7l-7.2-.7l6.9-2M738,351l-24.1,2m7.3,.8l-7.3-.8l7.1-2M757,351l-24.2,1.2m7.3,1l-7.3-1l7.2-1.7M776,351l-23.7-.4m7.1,1.5l-7.1-1.5l7.1-1.2M796,351l-22.4-2.3m6.6,2l-6.6-2l6.8-.6M815,351l-20.3-4.4m5.8,2.5l-5.8-2.5l6.3,.2M835,351l-17.6-6.2m4.9,2.9l-4.9-2.9l5.6,.9M137,371l2.6-1M156,371l2.5-.5M175,371l2.2,.1M195,371l1.8,.7M214,371l1.4,1.3M234,371l.9,2M253,371l.5,2.6M272,371l.1,3.1M292,371l-.2,3.6m.3-1.1l-.3,1.1l-.1-1.1M311,371l-.4,4m.4-1.2l-.4,1.2l-.1-1.2M330,371l-.6,4.4m.4-1.3l-.4,1.3l-.1-1.4M350,371l-.6,4.7m.5-1.4l-.5,1.4l-.1-1.5M369,371l-.6,5m.5-1.5l-.5,1.5l-.1-1.5M389,371l-.6,5.3m.5-1.6l-.5,1.6l-.1-1.6M408,371l-.7,5.7m.5-1.7l-.5,1.7l-.1-1.7M427,371l-.9,6m.6-1.8l-.6,1.8l-.1-1.9M447,371l-2.6,12.8m1.5-3.7l-1.5,3.7l0-4M466,371l-4.1,13.5m2-3.8l-2,3.8l.5-4.3M486,371l-6.6,14m2.8-3.8l-2.8,3.8l1.2-4.6M505,371l-9.9,13.7m3.8-3.5l-3.8,3.5l2.2-4.7M524,371l-13.9,12m4.9-2.8l-4.9,2.8l3.5-4.4M544,371l-17.7,8.9m5.8-1.7l-5.8,1.7l4.8-3.7M563,371l-20.2,4.9m6.4-.3l-6.4,.3l5.8-2.6M583,371l-21.2,1.3m6.4,.8l-6.4-.8l6.3-1.6M602,371l-21-1.1m6.2,1.5l-6.2-1.5l6.4-.9M621,371l-20.5-2m6,1.8l-6-1.8l6.3-.6M641,371l-20.1-1.7m5.9,1.7l-5.9-1.7l6.1-.6M660,371l-20-.7m6,1.4l-6-1.4l6-.9M680,371l-20.2,.6m6.1,1l-6.1-1l6-1.3M699,371l-20.7,2m6.3,.6l-6.3-.6l6.1-1.8M718,371l-21.6,3m6.6,.3l-6.6-.3l6.3-2.1M738,371l-22.5,3.3m6.9,.3l-6.9-.3l6.6-2.3M757,371l-23.3,2.5m7.1,.6l-7.1-.6l6.8-2.1M776,371l-23.3,.7m7,1.1l-7-1.1l7-1.5M796,371l-22.2-1.9m6.5,1.8l-6.5-1.8l6.8-.7M815,371l-19.8-4.3m5.7,2.4l-5.7-2.4l6.2,.2M835,371l-16.8-6.3m4.7,2.9l-4.7-2.9l5.4,.9M137,391l2.8-.8M156,391l2.6-.3M175,391l2.3,.2M195,391l1.9,.8M214,391l1.5,1.5M234,391l1,2.1M253,391l.6,2.8M272,391l.2,3.4m.1-1l-.1,1l-.2-1M292,391l-.1,4m.3-1.2l-.3,1.2l-.2-1.2M311,391l-.3,4.5m.4-1.3l-.4,1.3l-.2-1.4M330,391l-.4,5m.4-1.5l-.4,1.5l-.2-1.5M350,391l-.4,5.5m.4-1.6l-.4,1.6l-.2-1.7M369,391l-.4,5.9m.4-1.8l-.4,1.8l-.2-1.8M389,391l-.3,6.4m.5-1.9l-.5,1.9l-.3-1.9M408,391l-.3,6.9m.5-2l-.5,2l-.3-2.1M427,391l-.4,7.4m.5-2.2l-.5,2.2l-.3-2.2M447,391l-1.4,16m1.3-4.7l-1.3,4.7l-.5-4.9M466,391l-2.8,17.3m1.8-5l-1.8,5l-.1-5.4M486,391l-5.4,18.5m2.7-5.3l-2.7,5.3l.6-5.9M505,391l-9.4,18.8m3.9-5.1l-3.9,5.1l1.8-6.2M524,391l-15,17.2m5.5-4.3l-5.5,4.3l3.5-6M544,391l-20.7,12.5m6.9-2.6l-6.9,2.6l5.5-4.9M563,391l-23.9,5.5m7.5-.3l-7.5,.3l6.8-3M583,391l-23.6-.5m7,1.5l-7-1.5l7.1-1.2M602,391l-21.6-3.7m6.3,2.3l-6.3-2.3l6.7-.1M621,391l-19.6-4.5m5.6,2.5l-5.6-2.5l6.1,.2M641,391l-18.3-3.7m5.3,2.1l-5.3-2.1l5.7,.1M660,391l-17.6-2m5.2,1.6l-5.2-1.6l5.4-.4M680,391l-17.4,.1m5.2,1l-5.2-1l5.2-1M699,391l-17.8,2.3m5.5,.3l-5.5-.3l5.2-1.7M718,391l-18.8,4.2m5.9-.2l-5.9,.2l5.4-2.3M738,391l-20.5,5.2m6.5-.4l-6.5,.4l5.9-2.7M757,391l-22.6,4.7m7-.1l-7,.1l6.5-2.7M776,391l-23.7,1.9m7.2,.8l-7.2-.8l7-1.9M796,391l-22.7-1.9m6.7,1.9l-6.7-1.9l6.9-.7M815,391l-19.6-5.2m5.6,2.7l-5.6-2.7l6.2,.4M835,391l-15.8-7.2m4.3,3.1l-4.3-3.1l5.2,1.2M137,411l2.8-.5M156,411l2.6-.1M175,411l2.3,.4M195,411l1.9,.9M214,411l1.4,1.5M234,411l1,2.2M253,411l.6,2.9M272,411l.2,3.6m.1-1.1l-.1,1.1l-.3-1.1M292,411l-.1,4.2m.3-1.3l-.3,1.3l-.2-1.3M311,411l-.2,4.9m.3-1.4l-.3,1.4l-.2-1.5M330,411l-.3,5.5m.4-1.6l-.4,1.6l-.2-1.7M350,411l-.2,6.1m.4-1.8l-.4,1.8l-.3-1.8M369,411l-.1,6.6m.4-2l-.4,2l-.3-2M389,411l.1,7.2m.4-2.2l-.4,2.2l-.4-2.2M408,411l.5,15.7m.8-4.7l-.8,4.7l-1-4.7M427,411l.7,17.1m.8-5.2l-.8,5.2l-1.2-5.1M447,411l.2,9.4m.5-2.8l-.5,2.8l-.6-2.8M466,411l-.2,10.4m.6-3.1l-.6,3.1l-.5-3.1M486,411l-2.5,23m2.1-6.8l-2.1,6.8l-.6-7.1M505,411l-6.8,24.9m3.5-7.1l-3.5,7.1l.6-7.9M524,411l-14.7,24.9m5.8-6.6l-5.8,6.6l3-8.3M544,411l-25.3,18.4m8.6-4.1l-8.6,4.1l6.5-7M563,411l-30,4.8m9.3,.3l-9.3-.3l8.7-3.2M583,411l-26.3-5.1m7.6,3l-7.6-3l8.2,0M602,411l-21.3-8.3m5.9,3.7l-5.9-3.7l6.9,1.3M621,411l-17.8-8m4.9,3.4l-4.9-3.4l5.8,1.4M641,411l-15.7-6.1m4.4,2.7l-4.4-2.7l5,.9M660,411l-14.5-3.6m4.2,1.9l-4.2-1.9l4.6,.2M680,411l-14.1-.6m4.2,1l-4.2-1l4.3-.6M699,411l-14.3,2.5m4.4,.1l-4.4-.1l4.1-1.6M718,411l-15.3,5.7m4.9-.8l-4.9,.8l4.3-2.6M738,411l-17.6,7.9m5.7-1.4l-5.7,1.4l4.8-3.4M757,411l-18.3,4.7m5.8-.4l-5.8,.4l5.2-2.4M776,411l-18.8,.9m5.7,.8l-5.7-.8l5.6-1.4M796,411l-19-3.1m5.5,2l-5.5-2l5.9-.1M815,411l-18.9-7.4m5.3,3.3l-5.3-3.3l6.1,1.1M835,411l-14.8-9.2m3.9,3.6l-3.9-3.6l5,1.9M137,432l2.8-.2M156,432l2.6,.1M175,432l2.3,.5M195,432l1.9,1M214,432l1.4,1.6M234,432l.9,2.2M253,432l.5,2.9M272,432l.2,3.6m.2-1.1l-.2,1.1l-.3-1.1M292,432l-.1,4.4m.3-1.3l-.3,1.3l-.2-1.3M311,432l-.2,5.1m.4-1.5l-.4,1.5l-.2-1.5M330,432l-.2,5.8m.4-1.7l-.4,1.7l-.3-1.7M350,432l-.1,6.5m.4-1.9l-.4,1.9l-.3-1.9M369,432l.1,7.1m.4-2.1l-.4,2.1l-.4-2.1M389,432l.9,15.6m.6-4.7l-.6,4.7l-1.2-4.6M408,432l1.7,17m.5-5.2l-.5,5.2l-1.5-5M427,432l2.4,18.6m.3-5.7l-.3,5.7l-1.8-5.5M447,432l1.5,10.3m.1-3.2l-.1,3.2l-1-3M466,432l3.2,23m.4-7.1l-.4,7.1l-2.3-6.7M486,432l2.6,26.3m.7-8l-.7,8l-2.3-7.7M505,432l.2,30.6m1.7-9.2l-1.7,9.2l-1.8-9.2M524,432l-7.7,36.4m4.4-10.5l-4.4,10.5l.2-11.4M544,432l-30.2,32.1m10.9-7.9l-10.9,7.9l7.2-11.4M563,432l-41.7-3.8m12.3,3.5l-12.3-3.5l12.7-1.2M583,432l-26-16.2m6.9,6.3l-6.9-6.3l8.7,3.4M602,432l-17.8-15.2m4.5,5.6l-4.5-5.6l6.2,3.5M621,432l-13.9-12.1m3.5,4.4l-3.5-4.4l4.9,2.9M641,432l-11.9-8.8m3.1,3.3l-3.1-3.3l4.1,2M660,432l-10.8-5.3m2.9,2.2l-2.9-2.2l3.5,1M680,432l-10.1-1.6m3,1l-3-1l3.1-.1M699,432l-9.9,2.5m3.1-.2l-3.1,.2l2.8-1.3M718,432l-10.3,7m3.5-1.5l-3.5,1.5l2.7-2.7M738,432l-11.2,6m3.7-1.2l-3.7,1.2l3-2.4M757,432l-12,2.8m3.8-.2l-3.8,.2l3.4-1.5M776,432l-12.6-.8m3.7,.9l-3.7-.9l3.8-.5M796,432l-12.9-4.7m3.6,2.1l-3.6-2.1l4.1,.7M815,432l-13-8.7m3.4,3.4l-3.4-3.4l4.4,1.9M835,432l-12.4-12.3m3,4.4l-3-4.4l4.4,3M137,452l2.8,0M156,452l2.6,.2M175,452l2.2,.5M195,452l1.8,1M214,452l1.3,1.5M234,452l.9,2.2M253,452l.9,5.7m.1-1.8l-.1,1.8l-.6-1.7M272,452l.1,3.6m.2-1.1l-.2,1.1l-.2-1.1M292,452l-.1,4.4m.3-1.3l-.3,1.3l-.2-1.3M311,452l-.2,5.1m.4-1.5l-.4,1.5l-.2-1.5M330,452l-.3,11.8m.8-3.5l-.8,3.5l-.6-3.5M350,452l.1,13.2m.7-4l-.7,4l-.8-4M369,452l.8,14.7m.6-4.5l-.6,4.5l-1.1-4.4M389,452l1.8,16.1m.4-4.9l-.4,4.9l-1.4-4.7M408,452l2.9,17.6m.1-5.5l-.1,5.5l-1.9-5.1M427,452l4.3,19.3m-.2-6l.2,6l-2.4-5.5M447,452l5.8,21.2m-.5-6.7l.5,6.7l-2.9-6M466,452l7.4,23.5m-.9-7.5l.9,7.5l-3.6-6.6M486,452l9.2,26.7m-1.2-8.5l1.2,8.5l-4.3-7.5M505,452l11.5,31.3m-1.7-10.1l1.7,10.1l-5.2-8.7M524,452l15.4,40.5m-2.3-13l2.3,13l-6.9-11.3M544,452l7.9,19.3m-1.3-6.2l1.3,6.2l-3.5-5.3M563,452l-5.7-17.3m.7,5.5l-.7-5.5l2.7,4.9M583,452l-11.1-30.3m1.6,9.7l-1.6-9.7l5.1,8.4M602,452l-8.7-21.1m1.4,6.8l-1.4-6.8l3.8,5.8M621,452l-7.5-15.4m1.4,5.1l-1.4-5.1l3.1,4.2M641,452l-6.8-10.9m1.4,3.7l-1.4-3.7l2.7,2.9M660,452l-6.2-6.9m1.5,2.4l-1.5-2.4l2.3,1.7M680,452l-5.6-2.8m1.5,1.2l-1.5-1.2l1.8,.5M699,452l-4.8,1.5m1.5-.2l-1.5,.2l1.4-.7M718,452l-3.7,6.3m1.5-1.7l-1.5,1.7l.8-2.1M738,452l-4.7,3.9m1.6-.9l-1.6,.9l1.2-1.4M757,452l-5.5,.9m1.7,.1l-1.7-.1l1.6-.6M776,452l-6.2-2.6m1.7,1.1l-1.7-1.1l2,.4M796,452l-6.7-6.3m1.6,2.3l-1.6-2.3l2.4,1.5M815,452l-7-10.1m1.5,3.4l-1.5-3.4l2.7,2.6M835,452l-7.1-14m1.3,4.6l-1.3-4.6l2.9,3.8M137,470l2.8,.2M156,470l2.6,.3M175,470l2.2,.5M195,470l1.7,.9M214,470l1.3,1.4M234,470l1.6,4m-.3-1.3l.3,1.3l-.7-1.1M253,470l.8,5.3m.1-1.6l-.1,1.6l-.5-1.5M272,470l.1,6.8m.3-2l-.3,2l-.4-2M292,470l-.2,8.3m.5-2.5l-.5,2.5l-.4-2.5M311,470l-.3,9.9m.7-3l-.7,3l-.5-3M330,470l-.1,11.5m.7-3.4l-.7,3.4l-.6-3.4M350,470l.5,13m.6-3.9l-.6,3.9l-.9-3.9M369,470l1.4,14.5m.4-4.4l-.4,4.4l-1.2-4.3M389,470l2.6,16m.1-4.9l-.1,4.9l-1.7-4.7M408,470l4.2,17.5m-.3-5.5l.3,5.5l-2.2-5M427,470l6,18.9m-.7-6l.7,6l-2.9-5.3M447,470l8.2,20.5m-1.3-6.6l1.3,6.6l-3.6-5.7M466,470l10.9,22.3m-2-7.3l2,7.3l-4.6-6.1M486,470l14.5,24.2m-3-8.1l3,8.1l-5.7-6.4M505,470l20,25.8m-4.5-8.9l4.5,8.9l-7.5-6.6M524,470l30.3,25.3m-7.7-9.3l7.7,9.3l-10.5-5.9M544,470l43,7.2m-12.5-4.6l12.5,4.6l-13.3,.3M563,470l29.6-29.4m-10.6,7.1l10.6-7.1l-7.2,10.5M583,470l8.5-28.2m-4.2,8l4.2-8l-.9,8.9M602,470l1.8-21.5m-1.8,6.4l1.8-6.4l.7,6.6M621,470l-.6-16.3m-.7,4.9l.7-4.9l1.1,4.9M641,470l-1.6-12m-.2,3.7l.2-3.7l1.2,3.5M660,470l-1.8-8m.1,2.5l-.1-2.5l1,2.3M680,470l-1.3-4.2m.2,1.3l-.2-1.3l.6,1.2M699,470l1.2,.4M718,470l2.2,3.8m-.4-1.3l.4,1.3l-.9-1M738,470l1.5,1.8M757,470l.5-1.1M776,470l-.3-4.4m-.2,1.3l.2-1.3l.3,1.3M796,470l-.9-7.9m-.2,2.4l.2-2.4l.7,2.3M815,470l-1.4-11.6m-.2,3.5l.2-3.5l1.1,3.4M835,470l-1.7-15.1m-.4,4.6l.4-4.6l1.4,4.4M137,490l2.8,.3M156,490l2.5,.3M175,490l2.2,.5M195,490l1.7,.7M214,490l2.5,2.3m-.6-.8l.6,.8l-.9-.5M234,490l1.6,3.3m-.3-1.1l.3,1.1l-.7-.9M253,490l.8,4.5m0-1.4l0,1.4l-.5-1.3M272,490l.1,3M292,490l0,3.7m.2-1.1l-.2,1.1l-.2-1.1M311,490l0,9m.5-2.7l-.5,2.7l-.5-2.7M330,490l.3,10.6m.5-3.2l-.5,3.2l-.7-3.2M350,490l1.1,12.2m.4-3.7l-.4,3.7l-1-3.6M369,490l2.2,13.7m.1-4.2l-.1,4.2l-1.4-4M389,490l3.7,15.1m-.3-4.7l.3,4.7l-2-4.3M408,490l5.6,16.4m-.7-5.2l.7,5.2l-2.6-4.6M427,490l7.8,17.7m-1.3-5.7l1.3,5.7l-3.4-4.8M447,490l10.6,18.7m-2.1-6.2l2.1,6.2l-4.2-5M466,490l13.9,19.6m-3.1-6.7l3.1,6.7l-5.3-5.1M486,490l18.1,19.8m-4.3-7l4.3,7l-6.6-4.9M505,490l23.5,18.3m-6-6.8l6,6.8l-8.1-4.1M524,490l30.2,13m-8.3-5.6l8.3,5.6l-9.8-2.2M544,490l34.3,.6m-10.3-2.1l10.3,2.1l-10.3,1.8M563,490l28.3-13.7m-9.3,2.5l9.3-2.5l-7.7,5.7M583,490l17.5-19m-6.3,4.7l6.3-4.7l-4.2,6.7M602,490l10.1-18m-4.1,4.8l4.1-4.8l-2,6M621,490l6-15.2m-2.7,4.2l2.7-4.2l-.9,4.9M641,490l3.8-12.1m-1.8,3.4l1.8-3.4l-.5,3.8M660,490l2.9-9m-1.4,2.5l1.4-2.5l-.4,2.9M680,490l3-5.9m-1.2,1.6l1.2-1.6l-.6,1.9M699,490l4.1-3m-1.4,.7l1.4-.7l-1.1,1.1M718,490l6.5-.4m-2-.2l2,.2l-1.9,.5M738,490l8.1-.6m-2.5-.3l2.5,.3l-2.4,.6M757,490l7-3.4m-2.3,.6l2.3-.6l-1.9,1.4M776,490l6.1-6.5m-2.2,1.6l2.2-1.6l-1.5,2.3M796,490l5.3-9.9m-2.2,2.7l2.2-2.7l-1,3.3M815,490l4.7-13.2m-2.2,3.7l2.2-3.7l-.6,4.2M835,490l3.5-13.8m-1.9,4l1.9-4l-.3,4.4M137,510l2.9,.3M156,510l2.6,.2M175,510l2.2,.2M195,510l1.8,.4M214,510l1.4,.7M234,510l2,2.3M253,510l1.3,3.3m-.2-1.1l.2,1.1l-.6-.9M272,510l.4,2.3M292,510l.6,6m.1-1.8l-.1,1.8l-.5-1.8M311,510l.8,7.5m.2-2.3l-.2,2.3l-.7-2.2M330,510l1.3,9m.1-2.8l-.1,2.8l-.9-2.6M350,510l2.2,10.6m-.1-3.3l.1,3.3l-1.3-3M369,510l3.5,12m-.4-3.8l.4,3.8l-1.7-3.4M389,510l5.2,13.4m-.8-4.3l.8,4.3l-2.3-3.7M408,510l7.3,14.6m-1.4-4.8l1.4,4.8l-3-3.9M427,510l9.8,15.5m-2.1-5.2l2.1,5.2l-3.8-4.1M447,510l12.7,16.1m-2.9-5.6l2.9,5.6l-4.7-4.1M466,510l8,8.1m-2-2.9l2,2.9l-2.9-2M486,510l20,15.3m-5.1-5.7l5.1,5.7l-6.9-3.5M505,510l24.1,12.7m-6.5-5.2l6.5,5.2l-7.9-2.4M524,510l27.7,7.5m-7.9-3.8l7.9,3.8l-8.7-.7M544,510l28.8-.3m-8.7-1.6l8.7,1.6l-8.6,1.7M563,510l25.9-8.2m-8.2,1l8.2-1l-7.3,3.9M583,510l20.3-12.9m-6.8,2.7l6.8-2.7l-5.4,5M602,510l14.9-14.1m-5.3,3.4l5.3-3.4l-3.7,5.1M621,510l11-13.4m-4.1,3.4l4.1-3.4l-2.5,4.6M641,510l8.5-11.7m-3.2,3l3.2-3l-1.9,4M660,510l7.2-9.6m-2.7,2.5l2.7-2.5l-1.6,3.3M680,510l6.8-7.5m-2.5,1.9l2.5-1.9l-1.6,2.6M699,510l7.5-5.6m-2.6,1.2l2.6-1.2l-1.9,2.1M718,510l9.1-4.2m-3,.7l3-.7l-2.5,1.8M738,510l11.5-4m-3.7,.5l3.7-.5l-3.2,1.9M757,510l13.5-5.9m-4.4,1l4.4-1l-3.7,2.5M776,510l12.4-8.9m-4.2,2l4.2-2l-3.2,3.4M796,510l11.4-12m-4.1,2.9l4.1-2.9l-2.7,4.2M815,510l9-12.9m-3.4,3.4l3.4-3.4l-2,4.4M835,510l6.9-11.6m-2.7,3.1l2.7-3.1l-1.4,3.9M137,528l3.1,.1M156,528l2.8,0M175,528l2.5-.1M195,528l2.1,0M214,528l1.8,.2M234,528l2.8,.9M253,528l2.3,1.8M272,528l2,2.9m-.4-1l.4,1l-.8-.8M292,528l1.9,4.2m-.3-1.4l.3,1.4l-.8-1.1M311,528l2.2,5.6m-.4-1.8l.4,1.8l-1-1.5M330,528l2.9,7m-.5-2.3l.5,2.3l-1.3-1.9M350,528l4,8.4m-.7-2.8l.7,2.8l-1.7-2.3M369,528l5.4,9.8m-1.1-3.3l1.1,3.3l-2.2-2.6M389,528l7.3,11.1m-1.6-3.7l1.6,3.7l-2.8-2.9M408,528l9.5,12.1m-2.2-4.2l2.2,4.2l-3.5-3.1M427,528l12,12.8m-2.9-4.5l2.9,4.5l-4.3-3.2M447,528l7.4,6.6m-1.9-2.4l1.9,2.4l-2.6-1.5M466,528l9,6.4m-2.3-2.4l2.3,2.4l-3.1-1.4M486,528l21.3,11.6m-5.7-4.7l5.7,4.7l-7.1-2.3M505,528l24.4,9m-6.8-4.1l6.8,4.1l-7.8-1.3M524,528l26.6,4.7m-7.7-2.9l7.7,2.9l-8.2,.1M544,528l27-.8m-8.1-1.3l8.1,1.3l-8.1,1.8M563,528l25.2-6.1m-7.9,.4l7.9-.4l-7.2,3.3M583,528l21.8-9.9m-7.1,1.7l7.1-1.7l-6,4.2M602,528l18-11.7m-6.1,2.5l6.1-2.5l-4.7,4.5M621,528l14.7-12m-5.1,2.8l5.1-2.8l-3.7,4.5M641,528l12.3-11.4m-4.3,2.7l4.3-2.7l-3,4.1M660,528l10.7-10.3m-3.8,2.5l3.8-2.5l-2.6,3.7M680,528l10-8.9m-3.5,2.1l3.5-2.1l-2.5,3.3M699,528l10.1-7.7m-3.5,1.7l3.5-1.7l-2.6,2.9M718,528l10.9-6.9m-3.7,1.5l3.7-1.5l-2.9,2.7M738,528l12.1-6.9m-4,1.4l4-1.4l-3.2,2.8M757,528l13.1-7.9m-4.4,1.6l4.4-1.6l-3.5,3.1M776,528l13.1-9.5m-4.5,2.1l4.5-2.1l-3.4,3.6M796,528l11.9-10.8m-4.2,2.6l4.2-2.6l-3,3.9M815,528l10.2-11m-3.7,2.7l3.7-2.7l-2.4,3.9M835,528l8.8-10.2m-3.2,2.6l3.2-2.6l-2,3.6M137,547l3.4-.1m-1-.2l1,.2l-1,.2M156,547l3.2-.4m-1-.1l1,.1l-.9,.3M175,547l3-.5M195,547l2.7-.6M214,547l2.4-.5M234,547l2.1-.3M253,547l3.9,0m-1.2-.2l1.2,.2l-1.2,.2M272,547l3.8,.8m-1.1-.5l1.1,.5l-1.2,0M292,547l3.9,1.9m-1.1-.8l1.1,.8l-1.3-.3M311,547l4.4,3.1m-1.1-1.2l1.1,1.2l-1.5-.7M330,547l5.3,4.4m-1.3-1.6l1.3,1.6l-1.8-1M350,547l6.5,5.8m-1.6-2.1l1.6,2.1l-2.3-1.4M369,547l8.1,7m-2-2.6l2,2.6l-2.8-1.6M389,547l10,8.2m-2.5-3l2.5,3l-3.5-1.9M408,547l12.3,9.1m-3.2-3.4l3.2,3.4l-4.2-2M427,547l14.8,9.7m-3.9-3.7l3.9,3.7l-5-2.1M447,547l8.8,4.9m-2.3-2l2.3,2l-2.9-1M466,547l10.2,4.7m-2.8-2l2.8,2l-3.3-.8M486,547l23.1,8.1m-6.5-3.7l6.5,3.7l-7.4-1.1M505,547l25.5,5.9m-7.3-3.2l7.3,3.2l-8-.3M524,547l27,2.4m-7.9-2.3l7.9,2.3l-8.2,.8M544,547l27.1-1.6m-8.2-1.1l8.2,1.1l-8,2M563,547l25.9-5.5m-8.1,.2l8.1-.2l-7.5,3.1M583,547l23.5-8.6m-7.6,1.2l7.6-1.2l-6.6,3.9M602,547l20.7-10.6m-6.8,2l6.8-2l-5.6,4.3M621,547l18-11.4m-6.1,2.4l6.1-2.4l-4.8,4.5M641,547l15.8-11.5m-5.4,2.5l5.4-2.5l-4.1,4.3M660,547l14.2-11.1m-4.9,2.5l4.9-2.5l-3.6,4.1M680,547l13.1-10.4m-4.5,2.4l4.5-2.4l-3.4,3.9M699,547l12.7-9.7m-4.4,2.2l4.4-2.2l-3.3,3.6M718,547l12.8-9.2m-4.4,2l4.4-2l-3.3,3.5M738,547l13.1-9.2m-4.5,2l4.5-2l-3.4,3.5M757,547l13.3-9.5m-4.5,2.1l4.5-2.1l-3.5,3.6M776,547l13.1-10.1m-4.5,2.3l4.5-2.3l-3.4,3.8M796,547l12.3-10.5m-4.3,2.5l4.3-2.5l-3.1,3.9M815,547l11.3-10.4m-4,2.5l4-2.5l-2.8,3.8M835,547l10.2-9.6m-3.6,2.3l3.6-2.3l-2.5,3.5M137,567l3.8-.5m-1.2-.1l1.2,.1l-1.1,.4M156,567l3.8-.8m-1.2,0l1.2,0l-1.1,.5M175,567l3.6-1.1m-1.2,.1l1.2-.1l-1,.5M195,567l3.5-1.3m-1.1,.2l1.1-.2l-1,.6M214,567l3.3-1.4m-1.1,.2l1.1-.2l-.9,.6M234,567l3.2-1.3m-1,.2l1-.2l-.9,.6M253,567l3.1-1.2m-1,.2l1-.2l-.9,.5M272,567l6.3-1.7m-2,.2l2-.2l-1.8,.9M292,567l6.7-.9m-2.1-.1l2.1,.1l-2,.6M311,567l7.4,.1m-2.2-.4l2.2,.4l-2.2,.4M330,567l8.4,1.2m-2.5-.8l2.5,.8l-2.6,.1M350,567l9.8,2.4m-2.8-1.3l2.8,1.3l-3.1-.2M369,567l11.5,3.5m-3.2-1.7l3.2,1.7l-3.6-.4M389,567l13.5,4.6m-3.8-2.1l3.8,2.1l-4.3-.6M408,567l15.8,5.4m-4.4-2.5l4.4,2.5l-5-.7M427,567l18.2,5.9m-5.1-2.8l5.1,2.8l-5.8-.7M447,567l10.4,3m-2.9-1.5l2.9,1.5l-3.3-.3M466,567l11.6,2.8m-3.3-1.5l3.3,1.5l-3.6-.2M486,567l25.5,4.4m-7.4-2.8l7.4,2.8l-7.9,.1M505,567l27.4,2.6m-8.1-2.4l8.1,2.4l-8.4,.8M524,567l28.5,.2m-8.5-1.7l8.5,1.7l-8.6,1.6M544,567l28.5-2.8m-8.7-.8l8.7,.8l-8.4,2.5M563,567l27.6-5.8m-8.6,.2l8.6-.2l-7.9,3.3M583,567l25.9-8.3m-8.2,1l8.2-1l-7.3,4M602,567l23.7-10.2m-7.7,1.7l7.7-1.7l-6.5,4.4M621,567l21.4-11.4m-7.1,2.2l7.1-2.2l-5.8,4.6M641,567l19.3-11.9m-6.5,2.5l6.5-2.5l-5.1,4.7M660,567l17.6-12m-6,2.6l6-2.6l-4.6,4.6M680,567l16.3-11.8m-5.6,2.6l5.6-2.6l-4.2,4.5M699,567l15.4-11.6m-5.3,2.6l5.3-2.6l-4,4.3M718,567l14.9-11.3m-5.1,2.5l5.1-2.5l-3.8,4.2M738,567l14.6-11.2m-5,2.5l5-2.5l-3.7,4.2M757,567l14.2-11.2m-4.9,2.5l4.9-2.5l-3.6,4.2M776,567l13.8-11.2m-4.8,2.6l4.8-2.6l-3.5,4.1M796,567l13.1-11m-4.6,2.6l4.6-2.6l-3.3,4.1M815,567l12.3-10.5m-4.3,2.5l4.3-2.5l-3.1,3.9M835,567l11.4-9.7m-4,2.3l4-2.3l-2.9,3.6M137,585l4.3-.8m-1.3,0l1.3,0l-1.2,.5M156,585l4.3-1.3m-1.4,.1l1.4-.1l-1.2,.6M175,585l4.2-1.6m-1.4,.2l1.4-.2l-1.2,.7M195,585l4.2-1.9m-1.4,.3l1.4-.3l-1.1,.8M214,585l4.1-2.1m-1.4,.4l1.4-.4l-1.1,.9M234,585l4.1-2.2m-1.4,.4l1.4-.4l-1.1,.9M253,585l4.1-2.2m-1.4,.4l1.4-.4l-1.1,.9M272,585l8.6-4m-2.8,.7l2.8-.7l-2.3,1.7M292,585l9.2-3.4m-2.9,.5l2.9-.5l-2.6,1.5M311,585l10-2.7m-3.2,.2l3.2-.2l-2.9,1.4M330,585l11.2-1.7m-3.5-.1l3.5,.1l-3.3,1.2M350,585l12.7-.7m-3.9-.5l3.9,.5l-3.8,.9M369,585l14.5,.3m-4.3-.9l4.3,.9l-4.4,.7M389,585l16.5,1.2m-4.9-1.3l4.9,1.3l-5,.6M408,585l18.7,2m-5.5-1.7l5.5,1.7l-5.7,.5M427,585l21.1,2.5m-6.2-2l6.2,2l-6.5,.4M447,585l23.4,2.7m-6.9-2.1l6.9,2.1l-7.2,.5M466,585l25.6,2.3m-7.5-2.2l7.5,2.2l-7.8,.8M486,585l13.8,.7m-4.1-1l4.1,1l-4.2,.6M505,585l29,.1m-8.7-1.7l8.7,1.7l-8.7,1.6M524,585l29.9-1.7m-9.1-1.2l9.1,1.2l-8.9,2.2M544,585l30-4m-9.2-.5l9.2,.5l-8.8,2.9M563,585l29.1-6.3m-9.1,.2l9.1-.2l-8.4,3.6M583,585l27.7-8.4m-8.8,1l8.8-1l-7.8,4.1M602,585l25.8-10.2m-8.3,1.6l8.3-1.6l-7.2,4.5M621,585l23.7-11.4m-7.8,2.1l7.8-2.1l-6.5,4.8M641,585l21.7-12.2m-7.2,2.4l7.2-2.4l-5.8,4.9M660,585l19.9-12.6m-6.7,2.7l6.7-2.7l-5.2,4.9M680,585l18.4-12.8m-6.2,2.8l6.2-2.8l-4.8,4.9M699,585l17.2-12.8m-5.9,2.9l5.9-2.9l-4.4,4.8M718,585l16.2-12.7m-5.6,2.9l5.6-2.9l-4.1,4.7M738,585l15.5-12.6m-5.4,2.9l5.4-2.9l-3.9,4.7M757,585l14.9-12.4m-5.2,2.9l5.2-2.9l-3.7,4.6M776,585l14.2-12.1m-4.9,2.8l4.9-2.8l-3.6,4.4M796,585l13.5-11.7m-4.7,2.7l4.7-2.7l-3.4,4.3M815,585l12.7-11m-4.4,2.6l4.4-2.6l-3.2,4M835,585l11.9-9.9m-4.1,2.3l4.1-2.3l-3,3.7M137,604l8.9-2.2m-2.8,.2l2.8-.2l-2.6,1.2M156,604l4.6-1.6m-1.5,.2l1.5-.2l-1.3,.7M175,604l4.6-2m-1.5,.3l1.5-.3l-1.3,.9M195,604l4.6-2.4m-1.5,.5l1.5-.5l-1.3,1M214,604l4.7-2.7m-1.6,.5l1.6-.5l-1.2,1.1M234,604l4.7-2.9m-1.6,.6l1.6-.6l-1.3,1.1M253,604l4.9-3m-1.6,.6l1.6-.6l-1.3,1.2M272,604l10.2-5.9m-3.4,1.2l3.4-1.2l-2.7,2.3M292,604l10.9-5.6m-3.6,1l3.6-1l-3,2.3M311,604l11.9-5m-3.9,.8l3.9-.8l-3.3,2.2M330,604l13.2-4.3m-4.2,.5l4.2-.5l-3.7,2M350,604l14.7-3.4m-4.6,.2l4.6-.2l-4.2,1.9M369,604l16.5-2.5m-5.1-.2l5.1,.2l-4.8,1.7M389,604l18.5-1.6m-5.7-.6l5.7,.6l-5.5,1.5M408,604l20.7-.9m-6.3-.9l6.3,.9l-6.2,1.4M427,604l22.9-.3m-6.9-1.2l6.9,1.2l-6.8,1.4M447,604l25-.1m-7.5-1.4l7.5,1.4l-7.5,1.4M466,604l26.9-.2m-8.1-1.5l8.1,1.5l-8.1,1.6M486,604l28.5-.8m-8.6-1.4l8.6,1.4l-8.5,1.9M505,604l29.7-1.8m-9-1.2l9,1.2l-8.8,2.2M524,604l30.4-3.1m-9.3-.8l9.3,.8l-8.9,2.7M544,604l30.4-4.7m-9.4-.3l9.4,.3l-8.9,3.2M563,604l29.7-6.5m-9.3,.3l9.3-.3l-8.5,3.6M583,604l28.3-8.3m-9,.9l9-.9l-8,4.1M602,604l26.6-9.8m-8.5,1.4l8.5-1.4l-7.4,4.5M621,604l24.6-11m-8,1.9l8-1.9l-6.8,4.7M641,604l22.7-12m-7.5,2.3l7.5-2.3l-6.1,4.9M660,604l20.8-12.6m-7,2.6l7-2.6l-5.5,5M680,604l19.1-13m-6.5,2.8l6.5-2.8l-5,5M699,604l17.7-13.2m-6.1,3l6.1-3l-4.5,5M718,604l16.5-13.3m-5.7,3l5.7-3l-4.2,4.9M738,604l15.5-13.2m-5.4,3.1l5.4-3.1l-3.9,4.8M757,604l14.6-13m-5.1,3.1l5.1-3.1l-3.6,4.7M776,604l13.8-12.6m-4.9,3l4.9-3l-3.4,4.6M796,604l13.1-12.1m-4.6,2.9l4.6-2.9l-3.2,4.4M815,604l12.3-11.2m-4.3,2.7l4.3-2.7l-3.1,4.1M835,604l11.5-10m-4,2.3l4-2.3l-2.9,3.7M137,622l8.7-2.5m-2.8,.2l2.8-.2l-2.5,1.2M156,622l9-3.5m-2.9,.5l2.9-.5l-2.5,1.6M175,622l4.6-2.2m-1.5,.4l1.5-.4l-1.3,.9M195,622l4.7-2.7m-1.6,.5l1.6-.5l-1.2,1.1M214,622l4.7-3m-1.6,.6l1.6-.6l-1.2,1.2M234,622l4.8-3.3m-1.6,.7l1.6-.7l-1.3,1.3M253,622l5-3.5m-1.7,.8l1.7-.8l-1.3,1.3M272,622l10.6-7.1m-3.6,1.5l3.6-1.5l-2.8,2.7M292,622l11.4-7m-3.8,1.5l3.8-1.5l-3,2.7M311,622l12.4-6.6m-4.1,1.3l4.1-1.3l-3.3,2.7M330,622l13.7-6.1m-4.5,1l4.5-1l-3.8,2.6M350,622l15.3-5.4m-4.9,.7l4.9-.7l-4.3,2.5M369,622l17-4.6m-5.4,.4l5.4-.4l-4.8,2.3M389,622l19-3.7m-5.9,0l5.9,0l-5.5,2.2M408,622l21-3m-6.5-.3l6.5,.3l-6.1,2.1M427,622l23-2.4m-7-.6l7,.6l-6.8,2M447,622l24.9-2m-7.6-.8l7.6,.8l-7.4,2M466,622l26.6-1.9m-8.1-.9l8.1,.9l-7.9,2.1M486,622l14-1.1m-4.3-.5l4.3,.5l-4.1,1.1M505,622l29-2.8m-8.8-.8l8.8,.8l-8.5,2.5M524,622l14.7-1.9m-4.5-.3l4.5,.3l-4.3,1.4M544,622l29.3-4.9m-9.1-.2l9.1,.2l-8.5,3.1M563,622l28.7-6.2m-9,.2l9-.2l-8.2,3.5M583,622l27.5-7.6m-8.7,.7l8.7-.7l-7.8,3.8M602,622l25.8-8.9m-8.3,1.2l8.3-1.2l-7.2,4.1M621,622l24-10.1m-7.8,1.7l7.8-1.7l-6.6,4.4M641,622l22-11.1m-7.2,2.1l7.2-2.1l-6,4.6M660,622l20.1-11.8m-6.7,2.4l6.7-2.4l-5.4,4.7M680,622l18.3-12.4m-6.2,2.7l6.2-2.7l-4.8,4.8M699,622l16.8-12.8m-5.8,2.9l5.8-2.9l-4.3,4.8M718,622l15.4-13m-5.4,3l5.4-3l-3.9,4.8M738,622l14.3-13m-5,3.1l5-3.1l-3.5,4.7M757,622l13.4-12.9m-4.7,3.1l4.7-3.1l-3.3,4.6M776,622l12.6-12.6m-4.5,3.1l4.5-3.1l-3.1,4.5M796,622l11.7-11.9m-4.2,2.9l4.2-2.9l-2.8,4.2M815,622l11-11m-3.9,2.7l3.9-2.7l-2.7,3.9M835,622l10.3-9.9m-3.7,2.4l3.7-2.4l-2.5,3.5M137,641l7.9-2.4m-2.5,.3l2.5-.3l-2.2,1.2M156,641l8.1-3.3m-2.6,.5l2.6-.5l-2.2,1.5M175,641l8.3-4.3m-2.7,.8l2.7-.8l-2.2,1.8M195,641l4.2-2.6m-1.4,.5l1.4-.5l-1.1,1M214,641l4.3-3m-1.5,.7l1.5-.7l-1.1,1.2M234,641l8.7-6.8m-3,1.5l3-1.5l-2.2,2.5M253,641l9.1-7.3m-3.1,1.7l3.1-1.7l-2.3,2.7M272,641l9.6-7.6m-3.3,1.7l3.3-1.7l-2.5,2.8M292,641l10.4-7.6m-3.5,1.7l3.5-1.7l-2.7,2.9M311,641l11.4-7.4m-3.8,1.6l3.8-1.6l-3,2.9M330,641l12.6-7m-4.2,1.4l4.2-1.4l-3.4,2.8M350,641l14.2-6.5m-4.6,1.1l4.6-1.1l-3.9,2.7M369,641l15.9-5.8m-5.1,.8l5.1-.8l-4.4,2.6M389,641l17.7-5m-5.6,.5l5.6-.5l-5,2.5M408,641l19.6-4.2m-6.1,.2l6.1-.2l-5.6,2.4M427,641l10.7-1.8m-3.3-.1l3.3,.1l-3.1,1.1M447,641l23.2-3.1m-7.1-.4l7.1,.4l-6.8,2.2M466,641l24.8-2.8m-7.6-.6l7.6,.6l-7.3,2.3M486,641l26-2.8m-7.9-.6l7.9,.6l-7.6,2.3M505,641l26.7-3.1m-8.2-.6l8.2,.6l-7.8,2.5M524,641l27.1-3.7m-8.3-.4l8.3,.4l-7.9,2.6M544,641l26.9-4.5m-8.3-.2l8.3,.2l-7.8,2.9M563,641l26.2-5.4m-8.2,.1l8.2-.1l-7.6,3.1M583,641l25.1-6.5m-7.9,.5l7.9-.5l-7.2,3.4M602,641l23.7-7.6m-7.5,.9l7.5-.9l-6.7,3.6M621,641l22-8.7m-7.1,1.3l7.1-1.3l-6.1,3.9M641,641l20.1-9.6m-6.6,1.7l6.6-1.7l-5.5,4M660,641l18.2-10.5m-6.1,2.1l6.1-2.1l-4.9,4.2M680,641l16.5-11.2m-5.6,2.4l5.6-2.4l-4.3,4.3M699,641l14.9-11.8m-5.1,2.7l5.1-2.7l-3.8,4.4M718,641l13.5-12.1m-4.7,2.9l4.7-2.9l-3.4,4.4M738,641l12.4-12.3m-4.4,3l4.4-3l-3,4.4M757,641l11.3-12.3m-4.1,3l4.1-3l-2.7,4.3M776,641l10.4-12m-3.8,3l3.8-3l-2.5,4.2M796,641l9.7-11.4m-3.6,2.9l3.6-2.9l-2.3,4M815,641l9.1-10.6m-3.3,2.7l3.3-2.7l-2.1,3.7M835,641l8.6-9.6m-3.1,2.4l3.1-2.4l-2,3.4M137,659l6.4-2m-2,.2l2-.2l-1.8,1M156,659l6.6-2.8m-2.1,.5l2.1-.5l-1.8,1.2M175,659l6.7-3.7m-2.2,.7l2.2-.7l-1.8,1.5M195,659l6.7-4.6m-2.3,1l2.3-1l-1.8,1.8M214,659l6.8-5.5m-2.4,1.3l2.4-1.3l-1.7,2M234,659l6.9-6.3m-2.4,1.5l2.4-1.5l-1.7,2.3M253,659l7.2-6.9m-2.5,1.7l2.5-1.7l-1.8,2.5M272,659l7.6-7.3m-2.7,1.8l2.7-1.8l-1.9,2.6M292,659l8.3-7.5m-2.9,1.8l2.9-1.8l-2.1,2.7M311,659l9.2-7.5m-3.2,1.7l3.2-1.7l-2.3,2.8M330,659l10.4-7.2m-3.5,1.6l3.5-1.6l-2.7,2.8M350,659l11.8-6.8m-3.9,1.4l3.9-1.4l-3.2,2.7M369,659l13.4-6.2m-4.4,1.1l4.4-1.1l-3.7,2.6M389,659l15.1-5.5m-4.9,.8l4.9-.8l-4.2,2.5M408,659l8.5-2.4m-2.7,.2l2.7-.2l-2.4,1.2M427,659l18.7-4.1m-5.8,.2l5.8-.2l-5.4,2.3M447,659l20.3-3.5m-6.3-.1l6.3,.1l-5.9,2.2M466,659l21.8-3.1m-6.7-.3l6.7,.3l-6.4,2.2M486,659l22.9-2.9m-7-.4l7,.4l-6.7,2.2M505,659l23.6-2.9m-7.2-.5l7.2,.5l-6.9,2.2M524,659l23.8-3.2m-7.3-.4l7.3,.4l-7,2.3M544,659l23.6-3.7m-7.3-.3l7.3,.3l-6.9,2.4M563,659l23-4.3m-7.2,0l7.2,0l-6.7,2.6M583,659l22-5.2m-6.9,.3l6.9-.3l-6.3,2.8M602,659l20.6-6.1m-6.5,.7l6.5-.7l-5.8,3M621,659l19.1-7.1m-6.1,1l6.1-1l-5.3,3.2M641,659l17.4-8m-5.7,1.4l5.7-1.4l-4.8,3.4M660,659l15.6-8.9m-5.2,1.8l5.2-1.8l-4.2,3.6M680,659l14-9.7m-4.7,2.1l4.7-2.1l-3.6,3.7M699,659l12.4-10.4m-4.3,2.4l4.3-2.4l-3.1,3.8M718,659l11-10.9m-3.9,2.6l3.9-2.6l-2.7,3.9M738,659l9.9-11.2m-3.6,2.8l3.6-2.8l-2.3,3.9M757,659l8.9-11.3m-3.3,2.9l3.3-2.9l-2,3.9M776,659l8.2-11.2m-3.1,2.9l3.1-2.9l-1.8,3.8M796,659l7.6-10.7m-2.9,2.8l2.9-2.8l-1.7,3.7M815,659l7.1-10.1m-2.7,2.6l2.7-2.6l-1.6,3.4M835,659l6.8-9.2m-2.6,2.4l2.6-2.4l-1.5,3.2M137,677l4.8-1.3m-1.5,.1l1.5-.1l-1.4,.7M156,677l4.9-2m-1.6,.3l1.6-.3l-1.4,.9M175,677l4.9-2.8m-1.6,.6l1.6-.6l-1.3,1.1M195,677l4.8-3.7m-1.6,.8l1.6-.8l-1.2,1.4M214,677l4.7-4.5m-1.7,1.1l1.7-1.1l-1.2,1.6M234,677l4.7-5.3m-1.7,1.3l1.7-1.3l-1.1,1.9M253,677l4.8-6m-1.8,1.5l1.8-1.5l-1.1,2.1M272,677l5.2-6.5m-1.9,1.7l1.9-1.7l-1.2,2.2M292,677l5.7-6.8m-2.1,1.7l2.1-1.7l-1.3,2.4M311,677l6.5-7m-2.4,1.7l2.4-1.7l-1.6,2.5M330,677l7.6-6.9m-2.7,1.6l2.7-1.6l-1.9,2.5M350,677l8.9-6.6m-3,1.5l3-1.5l-2.3,2.5M369,677l10.4-6.1m-3.5,1.2l3.5-1.2l-2.8,2.4M389,677l12-5.5m-3.9,1l3.9-1l-3.3,2.3M408,677l13.7-4.8m-4.4,.7l4.4-.7l-3.8,2.2M427,677l15.4-4.1m-4.9,.4l4.9-.4l-4.4,2.1M447,677l17-3.5m-5.3,.1l5.3-.1l-4.9,2M466,677l18.3-3m-5.7-.2l5.7,.2l-5.3,1.9M486,677l9.7-1.3m-3-.2l3,.2l-2.8,.9M505,677l10-1.2m-3.1-.2l3.1,.2l-2.9,.9M524,677l10.2-1.2m-3.1-.2l3.1,.2l-3,1M544,677l10.1-1.4m-3.1-.2l3.1,.2l-3,1M563,677l19.7-3.2m-6.1-.2l6.1,.2l-5.7,2.1M583,677l18.7-3.8m-5.8,.1l5.8-.1l-5.4,2.2M602,677l17.5-4.6m-5.5,.4l5.5-.4l-5,2.4M621,677l16-5.5m-5.1,.7l5.1-.7l-4.5,2.6M641,677l14.5-6.4m-4.7,1.1l4.7-1.1l-4,2.7M660,677l12.9-7.3m-4.3,1.5l4.3-1.5l-3.4,2.9M680,677l11.3-8.2m-3.9,1.8l3.9-1.8l-2.9,3.1M699,677l9.8-8.9m-3.5,2.1l3.5-2.1l-2.4,3.2M718,677l8.6-9.6m-3.1,2.4l3.1-2.4l-2,3.4M738,677l7.5-10m-2.8,2.6l2.8-2.6l-1.7,3.4M757,677l6.7-10.3m-2.6,2.7l2.6-2.7l-1.4,3.5M776,677l6.1-10.3m-2.4,2.7l2.4-2.7l-1.2,3.4M796,677l5.6-10.1m-2.3,2.7l2.3-2.7l-1.1,3.3M815,677l5.3-9.6m-2.1,2.6l2.1-2.6l-1.1,3.2M835,677l5.2-8.9m-2.1,2.4l2.1-2.4l-1,3M137,696l3.4-.6m-1,0l1,0l-1,.4M156,696l3.3-1.1m-1.1,.1l1.1-.1l-.9,.5M175,696l3.2-1.7m-1.1,.3l1.1-.3l-.9,.7M195,696l3-2.5m-1,.6l1-.6l-.8,.9M214,696l2.8-3.3m-1,.8l1-.8l-.6,1.1M234,696l2.7-4.1m-1,1.1l1-1.1l-.6,1.4M253,696l2.7-4.8m-1.1,1.3l1.1-1.3l-.5,1.6M272,696l2.9-5.4m-1.2,1.5l1.2-1.5l-.5,1.8M292,696l3.3-5.9m-1.3,1.6l1.3-1.6l-.7,1.9M311,696l4-6.1m-1.5,1.6l1.5-1.6l-.8,2.1M330,696l4.9-6.2m-1.8,1.6l1.8-1.6l-1.1,2.1M350,696l6.1-6m-2.2,1.5l2.2-1.5l-1.5,2.2M369,696l7.5-5.7m-2.6,1.3l2.6-1.3l-1.9,2.1M389,696l4.5-2.6m-1.5,.5l1.5-.5l-1.2,1M408,696l10.7-4.6m-3.5,.8l3.5-.8l-2.9,2M427,696l12.3-4m-3.9,.5l3.9-.5l-3.5,1.9M447,696l13.8-3.4m-4.3,.2l4.3-.2l-4,1.8M466,696l15.1-2.8m-4.7,0l4.7,0l-4.4,1.7M486,696l16.2-2.3m-5-.2l5,.2l-4.7,1.6M505,696l16.8-2m-5.2-.4l5.2,.4l-4.9,1.6M524,696l8.6-.9m-2.6-.2l2.6,.2l-2.5,.8M544,696l8.5-.9m-2.6-.2l2.6,.2l-2.5,.8M563,696l16.6-2.2m-5.1-.3l5.1,.3l-4.9,1.6M583,696l15.8-2.6m-4.9-.1l4.9,.1l-4.6,1.7M602,696l14.6-3.2m-4.6,.1l4.6-.1l-4.2,1.8M621,696l13.3-4m-4.2,.4l4.2-.4l-3.8,1.9M641,696l11.8-4.8m-3.8,.8l3.8-.8l-3.3,2.1M660,696l10.3-5.7m-3.4,1.1l3.4-1.1l-2.8,2.3M680,696l8.9-6.6m-3,1.5l3-1.5l-2.3,2.5M699,696l7.6-7.4m-2.7,1.8l2.7-1.8l-1.8,2.7M718,696l6.4-8.2m-2.4,2.1l2.4-2.1l-1.5,2.8M738,696l5.4-8.8m-2.1,2.3l2.1-2.3l-1.1,2.9M757,696l4.7-9.2m-1.9,2.5l1.9-2.5l-.9,3M776,696l4.2-9.4m-1.8,2.6l1.8-2.6l-.7,3.1M796,696l3.9-9.4m-1.7,2.6l1.7-2.6l-.6,3M815,696l3.8-9.1m-1.6,2.5l1.6-2.5l-.6,2.9M835,696l3.7-8.6m-1.6,2.4l1.6-2.4l-.6,2.8M137,714l1.2,.4M156,714l1.2,.4M175,714l2-.7M195,714l1.7-1.3M214,714l1.4-2M234,714l1.2-2.8M253,714l1.1-3.5m-.5,1l.5-1l-.1,1.1M272,714l1.1-4.2m-.6,1.2l.6-1.2l-.1,1.3M292,714l1.4-4.7m-.7,1.3l.7-1.3l-.2,1.5M311,714l2-5.1m-.9,1.4l.9-1.4l-.3,1.7M330,714l2.9-5.3m-1.2,1.4l1.2-1.4l-.6,1.8M350,714l4-5.3m-1.5,1.4l1.5-1.4l-.9,1.8M369,714l5.3-5.2m-1.9,1.3l1.9-1.3l-1.3,1.9M389,714l3.4-2.4m-1.1,.5l1.1-.5l-.9,.9M408,714l4.1-2.2m-1.4,.4l1.4-.4l-1.1,.9M427,714l9.8-3.8m-3.2,.6l3.2-.6l-2.7,1.7M447,714l11.2-3.2m-3.5,.3l3.5-.3l-3.2,1.6M466,714l12.5-2.6m-3.9,.1l3.9-.1l-3.6,1.5M486,714l13.5-2m-4.2-.2l4.2,.2l-3.9,1.4M505,714l14.2-1.6m-4.3-.3l4.3,.3l-4.2,1.3M524,714l14.5-1.3m-4.4-.4l4.4,.4l-4.3,1.2M544,714l14.4-1.2m-4.4-.5l4.4,.5l-4.3,1.2M563,714l14-1.3m-4.3-.4l4.3,.4l-4.1,1.2M583,714l13.2-1.5m-4.1-.3l4.1,.3l-3.9,1.2M602,714l12.2-2m-3.8-.1l3.8,.1l-3.5,1.3M621,714l10.9-2.6m-3.4,.2l3.4-.2l-3.1,1.4M641,714l9.6-3.3m-3.1,.5l3.1-.5l-2.7,1.5M660,714l8.2-4.2m-2.7,.8l2.7-.8l-2.2,1.7M680,714l6.8-5.1m-2.3,1.1l2.3-1.1l-1.8,1.9M699,714l5.6-5.9m-2,1.5l2-1.5l-1.3,2.1M718,714l4.5-6.7m-1.7,1.8l1.7-1.8l-1,2.3M738,714l3.6-7.5m-1.5,2l1.5-2l-.7,2.4M757,714l3-8m-1.4,2.2l1.4-2.2l-.4,2.6M776,714l2.6-8.4m-1.3,2.4l1.3-2.4l-.3,2.7M796,714l2.4-8.5m-1.2,2.4l1.2-2.4l-.2,2.7M815,714l2.4-8.4m-1.2,2.4l1.2-2.4l-.2,2.7M835,714l2.5-8.1m-1.2,2.3l1.2-2.3l-.3,2.6M137,731l1.2,.4M156,731l1.2,.4M175,731l1.4,.3M195,731l1.2,.4M214,731l1.2,.4M234,731l.3-1.6M253,731l.2-2.3M272,731l.2-3.1M292,731l.4-3.7m-.3,1.1l.3-1.1l.1,1.1M311,731l.9-4.2m-.5,1.2l.5-1.2l0,1.3M330,731l1.6-4.5m-.7,1.3l.7-1.3l-.2,1.4M350,731l1.3-2.3M369,731l1.9-2.3M389,731l2.6-2.2m-.9,.5l.9-.5l-.7,.8M408,731l3.3-2m-1.1,.4l1.1-.4l-.9,.8M427,731l8.1-3.6m-2.6,.6l2.6-.6l-2.2,1.5M447,731l9.5-3m-3,.4l3-.4l-2.7,1.4M466,731l10.7-2.4m-3.3,.1l3.3-.1l-3.1,1.3M486,731l11.6-1.8m-3.6-.1l3.6,.1l-3.4,1.2M505,731l12.3-1.3m-3.8-.3l3.8,.3l-3.6,1.1M524,731l12.6-.9m-3.8-.4l3.8,.4l-3.7,1M544,731l12.5-.6m-3.8-.5l3.8,.5l-3.7,.9M563,731l12.1-.6m-3.7-.5l3.7,.5l-3.6,.9M583,731l11.3-.7m-3.4-.4l3.4,.4l-3.4,.8M602,731l10.3-1m-3.2-.3l3.2,.3l-3,.9M621,731l9.1-1.4m-2.8-.1l2.8,.1l-2.7,.9M641,731l7.8-2.1m-2.5,.2l2.5-.2l-2.2,1.1M660,731l6.4-2.8m-2.1,.5l2.1-.5l-1.8,1.2M680,731l5.1-3.6m-1.8,.8l1.8-.8l-1.3,1.4M699,731l4-4.5m-1.4,1.1l1.4-1.1l-.9,1.6M718,731l3-5.4m-1.2,1.4l1.2-1.4l-.6,1.8M738,731l2.2-6.1m-1,1.7l1-1.7l-.3,2M757,731l1.7-6.8m-.9,1.9l.9-1.9l-.1,2.1M776,731l1.3-7.3m-.8,2.1l.8-2.1l0,2.3M796,731l1.2-7.6m-.8,2.2l.8-2.2l.1,2.3M815,731l1.3-7.6m-.8,2.2l.8-2.2l0,2.4M835,731l1.5-7.4m-.9,2.1l.9-2.1l0,2.3M137,748l1.2,.4M156,748l1.2,.4M175,748l1.1,1.2M195,748l1.2,.4M214,748l1.2,.4M234,748l1.2,.4M253,748l1.2,.4M272,748l-.3-1.8M292,748l-.1-2.5M311,748l.3-3.1M330,748l.9-3.6m-.5,1l.5-1l-.1,1.1M350,748l.9-1.9M369,748l1.5-2M389,748l2.1-2M408,748l5.6-3.7m-1.9,.8l1.9-.8l-1.5,1.4M427,748l6.9-3.3m-2.3,.6l2.3-.6l-1.9,1.4M447,748l8.2-2.8m-2.6,.4l2.6-.4l-2.3,1.3M466,748l9.3-2.3m-2.9,.2l2.9-.2l-2.7,1.2M486,748l10.2-1.7m-3.2-.1l3.2,.1l-3,1.1M505,748l10.8-1.1m-3.3-.3l3.3,.3l-3.2,.9M524,748l11-.6m-3.3-.5l3.3,.5l-3.3,.8M544,748l10.9-.2m-3.3-.6l3.3,.6l-3.3,.7M563,748l10.5,0m-3.1-.6l3.1,.6l-3.1,.6M583,748l9.7,.1m-2.9-.6l2.9,.6l-2.9,.5M602,748l8.7,0m-2.6-.5l2.6,.5l-2.6,.5M621,748l7.5-.3m-2.3-.3l2.3,.3l-2.2,.5M641,748l6.2-.8m-1.9-.1l1.9,.1l-1.8,.6M660,748l4.9-1.4m-1.6,.2l1.6-.2l-1.4,.7M680,748l3.6-2.2m-1.2,.4l1.2-.4l-1,.9M699,748l2.5-3m-.9,.8l.9-.8l-.6,1M718,748l1.6-3.9m-.7,1.1l.7-1.1l-.3,1.3M738,748l.9-4.7m-.5,1.4l.5-1.4l0,1.5M757,748l.4-5.4m-.4,1.6l.4-1.6l.2,1.6M776,748l.2-6m-.4,1.8l.4-1.8l.3,1.8M796,748l.2-6.4m-.4,1.9l.4-1.9l.3,1.9M815,748l.3-6.7m-.5,2l.5-2l.3,2M835,748l.6-6.6m-.6,2l.6-2l.2,2" fill="none" stroke="#050505" stroke-width="1.55" stroke-linecap="round" stroke-linejoin="round"/>
<path d="M612.7,542.1 609.4,534.6 606.6,527.6 602.4,519.2 595.4,509.5 587.1,499.7 578.7,490 574.6,480.3 567.6,470.5 559.2,460.8 550.9,451 542.5,442.7 534.2,434.3 528.6,424.6 523,413.4 517.5,402.3 511.9,391.1 503.5,380 466.7,337.8 455.3,319.6 447.6,301.5 444.4,278.8 446.2,256.1 442.6,239.2 437.8,225.3 439.2,211.4 439.9,204.4 437.8,194.7 435.7,186.3 433.6,182.4 428,181.4" fill="none" stroke="#000" stroke-width="5.2" stroke-linejoin="round" stroke-linecap="butt"/>
<path d="M436.4,185.6 438.5,175.2 442.6,165.4 446.8,161.3 452.4,158.5 458,157.1 463.5,158.5 470.5,162.6 477.5,167.5 486.1,172.7" fill="none" stroke="#000" stroke-width="5.2" stroke-linejoin="round" stroke-linecap="butt"/>
<path d="M846.1,531.8 834.9,530.4 826.6,526.2 818.2,517.8 809.9,508.1 802.9,498.4 795.9,487.2 787.6,471.9 779.2,458 772.3,448.8 772,445.2 782,443.5 788.1,440.2 787.6,433.5 776.4,431.5 768.1,427.3 759.7,420.4 748.6,412 737.5,405.1 727.7,398.1 723.5,388.4 719.4,380 670.9,337.8 657.3,319.6 650.5,301.5 646,274.2 643.7,247 646,224.3 648.2,201.6" fill="none" stroke="#000" stroke-width="5.2" stroke-linejoin="round" stroke-linecap="butt"/>
<circle cx="428.3" cy="181.3" r="6" fill="#000"/>
<path d="M552,440 554.6,447.6 562.7,447.8 556.3,452.7 558.6,460.4 552,455.8 545.4,460.4 547.7,452.7 541.3,447.8 549.4,447.6Z" fill="#ff0d0d"/>
<path d="M777.6,443.6 780.3,451.3 788.4,451.4 781.9,456.3 784.3,464.1 777.6,459.4 771,464.1 773.4,456.3 766.9,451.4 775,451.3Z" fill="#ff0d0d"/>
</g>
<path d="M117,27.2V759.4H846.4" fill="none" stroke="#000" stroke-width="2.8"/>
<path d="M117,28.6H845.6" fill="none" stroke="#000" stroke-width="2"/>
<path d="M845.6,28.6V759.4" fill="none" stroke="#1a1a30" stroke-width="1.6"/>
<text class="ser" x="105.8" y="44.1" font-size="44.3" text-anchor="end">45°N</text>
<text class="ser" x="105.8" y="235.3" font-size="44.3" text-anchor="end">35°N</text>
<text class="ser" x="105.8" y="412.7" font-size="44.3" text-anchor="end">25°N</text>
<text class="ser" x="105.8" y="581.3" font-size="44.3" text-anchor="end">15°N</text>
<text class="ser" x="105.8" y="745.0" font-size="44.3" text-anchor="end">5°N</text>
<text class="ser" x="197.8" y="798.8" font-size="42.7" text-anchor="middle">105°E</text>
<text class="ser" x="359.7" y="798.8" font-size="42.7" text-anchor="middle">115°E</text>
<text class="ser" x="521.6" y="798.8" font-size="42.7" text-anchor="middle">125°E</text>
<text class="ser" x="683.5" y="798.8" font-size="42.7" text-anchor="middle">135°E</text>
<text class="ser" x="845.4" y="798.8" font-size="42.7" text-anchor="middle">145°E</text>
<rect x="868" y="27.6" width="46" height="731.2" fill="url(#cb)" stroke="#3a3a3a" stroke-width="1.2"/>
<text class="ser" x="926" y="775.3" font-size="43.8">0</text>
<path d="M905.5,667.2H914" stroke="#333" stroke-width="1.3"/>
<text class="ser" x="926" y="683.9" font-size="43.8">1</text>
<path d="M905.5,575.8H914" stroke="#333" stroke-width="1.3"/>
<text class="ser" x="926" y="592.5" font-size="43.8">2</text>
<path d="M905.5,484.4H914" stroke="#333" stroke-width="1.3"/>
<text class="ser" x="926" y="501.1" font-size="43.8">3</text>
<path d="M905.5,393.0H914" stroke="#333" stroke-width="1.3"/>
<text class="ser" x="926" y="409.7" font-size="43.8">4</text>
<path d="M905.5,301.6H914" stroke="#333" stroke-width="1.3"/>
<text class="ser" x="926" y="318.3" font-size="43.8">5</text>
<path d="M905.5,210.2H914" stroke="#333" stroke-width="1.3"/>
<text class="ser" x="926" y="226.9" font-size="43.8">6</text>
<path d="M905.5,118.8H914" stroke="#333" stroke-width="1.3"/>
<text class="ser" x="926" y="135.5" font-size="43.8">7</text>
<text class="ser" x="926" y="44.1" font-size="43.8">8</text>
<text class="ser" transform="translate(1024.6,419.3) rotate(-90)" font-size="51.4" text-anchor="middle">significant wave height(m)</text>
</g>
<g transform="translate(2.4,1016.7)">
<g clip-path="url(#mc)">
<g filter="url(#cm)">
<rect x="27" y="-61.4" width="908.6" height="910.8" fill="#1d1d1d"/>
<g filter="url(#b0)">
<path d="M62.6,701 925.2,701 925.2,837.2 62.6,837.2Z" fill="#333333"/>
<path d="M493.9,519.4 925.2,519.4 925.2,701 493.9,701Z" fill="#535353"/>
<path d="M471.2,301.5 925.2,301.5 925.2,542.1 471.2,542.1Z" fill="#808080"/>
<path d="M584.7,233.4 925.2,233.4 925.2,319.6 584.7,319.6Z" fill="#535353"/>
<path d="M444,274.2 516.6,274.2 566.5,233.4 607.4,237.9 630.1,301.5 607.4,365 503,378.7 453,346.9Z" fill="#606060"/>
<path d="M289.6,496.7 380.4,458.1 471.2,415 507.5,428.6 507.5,542.1 289.6,551.2Z" fill="#404040"/>
<path d="M775.4,174.4 802.6,69.9 902.5,69.9 902.5,237.9 743.6,237.9Z" fill="#393939"/>
<path d="M244.2,542.1 471.2,510.3 507.5,610.2 425.8,701 198.8,710.1Z" fill="#434343"/>
<path d="M85.3,587.5 221.5,623.8 235.1,710.1 85.3,710.1Z" fill="#333333"/>
<path d="M403.1,664.7 480.3,646.5 562,678.3 562,791.8 403.1,791.8Z" fill="#303030"/>
<path d="M543.8,169.8 543.8,110.8 598.3,56.3 675.5,29.1 752.7,-7.2 902.5,-7.2 902.5,88.1 798.1,119.9 789,174.4 752.7,219.8 698.2,242.5 643.7,247 589.2,224.3Z" fill="#161616"/>
<path d="M698.2,47.2 752.7,-7.2 902.5,-7.2 902.5,88.1 789,110.8 698.2,138Z" fill="#2d2d2d"/>
<path d="M380.4,92.6 525.7,92.6 566.5,169.8 566.5,233.4 516.6,278.8 444,278.8 421.3,201.6 380.4,169.8Z" fill="#2d2d2d"/>
<path d="M380.4,92.6 489.4,92.6 489.4,169.8 457.6,183.4 425.8,174.4 380.4,169.8Z" fill="#131313"/>
<path d="M198.8,451.3 257.8,437.7 289.6,474 280.5,519.4 244.2,546.6 198.8,514.8Z" fill="#161616"/>
<path d="M280.5,442.2 362.2,396.8 453,351.4 471.2,419.5 380.4,462.6 298.7,501.2Z" fill="#404040"/>
<path d="M257.8,519.4 298.7,528.5 303.2,610.2 257.8,664.7 221.5,646.5Z" fill="#292929"/>
</g>
<g filter="url(#b1)">
<ellipse cx="652.8" cy="97.2" rx="59" ry="38.6" fill="#393939"/>
<ellipse cx="659.6" cy="96.3" rx="38.6" ry="25" fill="#4c4c4c"/>
<ellipse cx="666.4" cy="94.9" rx="21.8" ry="13.6" fill="#606060"/>
<ellipse cx="516.6" cy="210.7" rx="27.2" ry="22.7" fill="#494949"/>
<ellipse cx="538.4" cy="346.9" rx="68.1" ry="45.4" fill="#acacac"/>
<ellipse cx="498.4" cy="315.1" rx="34" ry="38.6" fill="#a6a6a6"/>
<ellipse cx="491.6" cy="315.1" rx="17.3" ry="21.8" fill="#cfcfcf"/>
<ellipse cx="325.9" cy="628.3" rx="113.5" ry="20.4" fill="#565656" transform="rotate(-15 325.9 628.3)"/>
<ellipse cx="457.6" cy="605.6" rx="22.7" ry="18.2" fill="#707070"/>
<ellipse cx="434.9" cy="428.6" rx="18.2" ry="27.2" fill="#595959"/>
<ellipse cx="789" cy="437.7" rx="124.8" ry="111.2" fill="#8f8f8f"/>
<ellipse cx="785.4" cy="437.7" rx="81.7" ry="77.2" fill="#a6a6a6"/>
<ellipse cx="794.4" cy="430.9" rx="62.7" ry="59.9" fill="#c6c6c6"/>
<ellipse cx="804.9" cy="421.8" rx="43.1" ry="44.5" fill="#dcdcdc"/>
<ellipse cx="766.3" cy="452.2" rx="40" ry="36.3" fill="#898989"/>
<ellipse cx="539.3" cy="424" rx="131.7" ry="118" fill="#8c8c8c"/>
<ellipse cx="539.3" cy="424" rx="108" ry="97.6" fill="#9c9c9c"/>
<ellipse cx="537.9" cy="425" rx="81.7" ry="76.3" fill="#acacac"/>
<ellipse cx="542.9" cy="420.4" rx="58.1" ry="58.1" fill="#cccccc"/>
<ellipse cx="562" cy="419.5" rx="16.3" ry="24.5" fill="#fcfcfc"/>
<ellipse cx="506.6" cy="430.9" rx="19.1" ry="28.1" fill="#a3a3a3"/>
<ellipse cx="529.3" cy="432.2" rx="10.9" ry="10" fill="#939393"/>
<ellipse cx="506.1" cy="316.9" rx="21.8" ry="18.2" fill="#c6c6c6"/>
</g>
</g>
<path d="M108,20 723,20 722.7,30.7 713,38.4 700.5,46.7 685.2,56.5 678.2,59.9 664.3,68.3 651.1,74.5 639.2,68.3 630.9,62.7 623.2,73.2 619.7,76.6 612.8,74.5 614.2,81.5 605.8,85.7 598.1,92.6 600.2,102.4 596.8,110.7 584.9,117.7 572.4,126.1 561.3,132.3 559.9,139.3 569.6,146.9 578,155.3 584.9,166.4 590.5,177.6 594.7,190.1 596.1,201.2 591.9,211 586.3,217.9 579.4,217.2 575.2,220.7 569.6,218.6 565.4,223.5 561.3,221.4 557.1,224.9 552.9,222.8 545.9,227.7 541.8,220.7 545.9,209.6 548,198.5 541.8,191.5 541.1,185.2 548.7,183.1 545.9,172 537.6,166.4 527.8,165 518.1,162.3 516,160.2 522.3,149.7 529.2,151.8 523.7,147.6 529.2,133 513.9,130.9 500,128.8 498.3,127.8 488.6,132 477.5,139 469.1,144.5 459.4,148.7 463.5,143.2 469.1,136.9 462.1,134.8 469.1,127.8 476.1,115.3 470.5,106.3 458,109.7 446.8,119.5 435.7,129.2 421.8,141.8 403,143.9 403,155.7 414.8,158.5 421.8,166.8 425.9,175.9 438.5,175.2 445.4,162.6 455.2,157.8 464.9,159.2 476.1,166.1 485.8,172.4 483,179.4 474.7,181.4 463.5,184.9 452.4,189.1 449.6,197.5 444,198.8 441.3,203.7 435.7,210 427.3,221.1 438.5,226.7 443.3,231.6 448.2,240.6 451,253.1 453.8,264.3 469.5,277 458.3,281.1 470.9,292.3 445.8,303.4 458.3,304.1 473.6,311.1 465.3,315.9 470.9,320.1 462.5,324.3 468.1,328.5 462.5,332.6 465.3,336.8 459.7,341 451.4,342.4 455.6,345.2 450,353.5 445.8,361.9 440.2,367.5 433.3,366.1 437.5,371.6 431.9,380 434.7,388.3 429.1,385.6 427.7,392.5 423.5,391.1 422.1,398.1 416.6,396.7 418,402.3 411,403.6 406.8,407.8 405.4,403.6 401.3,414.8 395.7,413.4 397.1,420.4 390.1,421.7 384.5,424.5 385.9,428.7 377.6,430.1 372,434.3 365.1,432.9 362.3,437.1 353.9,434.3 347,444 340,435.7 339.2,437.6 332.3,429.2 333.6,440.4 328.1,443.2 325.3,439 323.9,447.3 318.3,448.7 314.2,447.3 311.4,452.9 305.8,451.5 303,455.7 297.5,457.1 291.9,458.5 284.9,461.3 284.2,473.8 281.4,476.6 278,475.9 275.9,469.6 274.5,461.3 272.4,454.3 266.8,455.7 262.6,452.9 258.5,455.7 254.3,448.7 250.1,452.9 243.2,455.7 236.2,461.3 230.6,465.4 225.1,465.4 222.3,472.4 216.7,478 212.5,483.5 209.7,490.5 208.4,497.5 212.5,505.8 218.1,515.6 223.7,523.9 229.2,530.9 236.2,536.4 244.5,542 251.5,549 257.1,555.9 261.3,564.3 264,574 264.5,570 267.3,581.1 269.4,593.7 268.7,603.4 265.9,611.8 264.5,618.7 257.6,625.7 249.2,631.3 240.9,635.4 233.9,638.2 225.6,641 224.2,648 220,653.5 213,657.7 207.5,663.3 200.5,666.8 194.9,666.8 195.6,659.1 197,650.7 193.5,645.9 188,641 182.4,636.8 175.4,635.4 173.3,628.5 168.5,632.6 164.3,624.3 158.7,614.5 151.8,606.9 143.4,602.7 132.3,602 130.9,590.9 123.9,597.8 117,602.7 108,602Z M108,690 117,692.5 121.1,692.5 130.9,695.3 142,699.5 150.4,706.4 158.7,714.8 167.1,723.1 171.3,731.5 172,744 172,767.7 108,768Z M330,752.7 340.5,738.7 351.1,729.9 365.1,725.5 367.7,719.4 373.9,715.9 380.9,705.3 386.2,696.5 391.4,694.8 394.9,698.3 400.2,703.6 405.5,705.3 403.7,712.3 412.5,712.3 407.2,715.9 426.5,721.1 416,726.4 410.7,729.9 417.8,735.2 409,738.7 400.2,740.4 407.2,745.7 398.5,749.2 391.4,748.3 402,756.2 402,768.5 330,768.5Z M394.9,670.2 400.2,663.2 407.2,656.2 416,645.6 423,636.9 428.3,628.1 433.6,626.3 435.3,631.6 430.1,640.4 421.3,649.1 412.5,657.9 405.5,666.7 398.5,672Z M472.2,694.8 475.7,682.5 484.5,673.7 493.2,668.5 500.3,670.2 502,675.5 507.3,673.7 516.1,668.5 519.6,663.2 528.4,659.7 530.1,650.9 535.4,654.4 540.6,663.2 542.4,670.2 547.7,679 546.8,689.5 540.6,705.3 535.4,698.3 530.1,705.3 531.9,712.3 528.4,715.9 521.3,710.6 514.3,708.8 507.3,703.6 507.3,694.8 505.5,686 500.3,680.7 493.2,686 488,684.3 482.7,687.8 477.4,694.8 473.9,700.1Z M473.1,700.9 475.7,699.7 476.6,701.8 474.3,703.2Z M246.5,741 249,738.5 251,742 249,748 246.5,746Z M586,341 592,336 596,338 590,343Z M257.1,493.3 261.3,489.1 266.8,483.5 275.2,481.4 283.5,480.7 293.3,480.5 296.1,483.5 294.7,489.1 290.5,494.7 286.3,500.2 280.7,505.8 272.4,511.4 266.8,510 261.3,507.2 258.5,500.2Z M466,392.5 470.9,393.9 472.3,399.5 469.5,409.2 466.7,417.6 463.9,425.9 459.7,435.7 455.6,444 453.5,447.5 450,442.6 444.4,434.3 440.9,424.5 443.7,416.2 448.6,407.8 454.2,399.5 459.7,394.6Z M451.3,505.3 461.8,504.6 477.1,506.7 475.7,517.8 481.3,529 472.9,542.9 467.3,554 464.5,563.8 471.5,573.5 477.1,579.1 481.3,576.3 485.4,581.9 491,580.5 498,583.3 503.5,586.1 500.7,593 506.3,598.6 503.5,600 495.2,595.8 489.6,590.2 482.6,593 478.5,587.5 472.9,581.9 467.3,580.5 460.4,584.7 454.8,583.3 450.6,579.1 454.8,572.1 449.2,572.1 443.7,568 439.5,556.8 437.4,545.7 443.7,541.5 446.5,530.4 445.8,517.8 449.9,510.9Z M447.8,590.2 456.2,591.6 464.5,597.2 463.2,605.6 460.4,609.7 456.2,605.6 452,598.6Z M471.5,616.7 481.3,619.5 491,623.6 486.8,629.2 479.9,633.4 472.9,637.6 472.2,626.4Z M491.7,606.9 495.9,608.3 492.4,612.5Z M510.5,605.6 523,604.2 530,612.5 532.8,627.8 527.2,626.4 521.6,623.6 520.2,615.3 514.7,611.1Z M511.9,622.3 520.2,626.4 524.4,640.4 520.2,641.7 514.7,634.8Z M492.4,633.4 495.9,632 493.8,643.1 492.4,652.9 489.6,661.2 484,657.1 480.6,651.5 486.8,643.1Z M502.1,632 504.9,629.2 503.5,637.6 500.7,644.5 499.4,640.4Z M503.5,647.3 510.5,644.5 513.3,648.7 507.7,652.2 503.5,651.5Z M616.5,233.3 626.2,225.7 635.9,218.7 645.7,211.8 649.2,205.9 668,205.6 687.5,206.5 700,206.5 705.6,196.5 709.7,185.3 711.1,177 719.5,174.2 715.3,183.9 720.9,184.6 730.6,178.4 741.7,171.4 753.6,160.6 757.8,150.9 760.6,139.7 764.8,130 760.6,125.8 763.4,114.7 769.7,103.5 777.3,101.4 780.1,109.1 783.6,99.4 787.1,99.4 789.1,106.3 792.6,120.2 796.1,132.8 792.6,145.3 789.1,157.1 780.1,160.6 778.7,173.1 778,187.1 780,182.5 777.9,192.3 773.8,199.2 777.2,205.5 769.6,213.2 764,216.6 762.6,207.6 759.1,208.3 759.1,217.3 751.5,213.2 745.9,224.3 743.1,217.3 739.7,224.3 733.4,227.1 719.5,225 712.5,221.5 709.7,223.6 711.1,232.6 697.2,245.9 693,245.2 686.1,238.9 687.5,225.7 681.9,225 668,224.3 656.8,230.1 645.7,235.4 635.9,239.6Z M642.9,236.1 656.8,237.1 659.6,245.2 649.9,257.7 641.5,259.1 637.3,249.4Z M658.2,236.8 665.2,232 673.5,233.3 677.7,239.6 669.4,250.7 661,248Z M616.5,242.4 624.8,245.2 634.5,253.5 630.4,264.7 624.8,275.8 623.4,284.2 613.7,290.4 603.9,286.2 606.7,275.8 610.9,266.1 612.3,256.3 608.1,252.1 606.7,259.1 598.4,261.2 595.6,253.5 594.2,250.1 603.9,248 610.9,242.4Z M798.9,29 805.2,32.5 814.9,39.5 826,45.1 837.2,49.2 853.9,47.1 853.9,61.8 837.2,67.3 828.8,75.7 820.5,84 816.3,88.2 805.2,82.6 791.2,75 778.7,79.9 770.4,78.5 782.9,91 773.1,95.2 763.4,98.7 760.6,79.9 767.6,72.9 771.7,67.3 769.7,63.2 777.3,60.4 784.3,61.1 787.1,56.9 795.4,42.3 796.8,33.9Z" fill="#a5a5a5" stroke="#050505" stroke-width="2" stroke-linejoin="round"/>
<path d="M108,727 117,727.3 122.5,727.3 125.3,738.5 130.9,749.6 136.5,760.7 108,768Z M637.5,20 644,20 640.8,36Z M117,183.5 122.5,178.5 128,190.5Z M378,323 382,322.5 384.5,327 381,329Z M353,298.5 357,297.5 358.5,301 355,302Z M421.5,314.5 425.5,313 426,318 422,318.5Z M413.5,250 417,249.5 417.5,253.5 414,254Z M213,582 216.5,583 216,589 213,588Z M204,611.5 209,607.5 211,609.5 206,614Z" fill="#fff" stroke="#111" stroke-width="1.2"/>
<path d="M789.1,27.7 791.9,33.9 790.5,42.3 786.4,49.9 784.3,56.2 784.3,60.4 M423.5,270 415.2,283.9 406.8,289.5 391.5,300.6 384.5,306.2 377.6,311.8 374.8,321.5 381.8,327.1 387.3,325.7 385.9,329.9 M377.6,311.8 365.1,304.8 358.1,299.9 351.1,299.2 353.9,304.8 348.4,307.6 M418,318.7 423.5,311.8 427,317.3 418,318.7 M397.1,279.7 402.6,281.1 399.9,283.2 397.1,279.7 M279.4,423 289.1,421.6 300.2,421.6 304.4,426.5 323.9,427.1 329.5,437.6 M204.2,458.5 220.9,475.2 M211.6,570 213.7,583.9 214.4,595.1 213.7,606.2 207.5,610.4 199.1,615.9 196.3,618.7 M190.7,604.8 196.3,618.7 201.9,631.3 207.5,642.4 213,653.5 M226.9,628.5 225.6,641 M206.1,638.2 218.6,639.6 M200,544.8 205.6,551.7 209.7,560.1 212.5,567.1 213.2,581 213.9,600.1" fill="none" stroke="#111" stroke-width="1.4"/>
<text class="ser" x="183.3" y="130.3" font-size="43.3" fill="#0b0b0b">2019-8-8</text>
<text class="ser" x="183.3" y="176.8" font-size="42.8" fill="#0b0b0b">25 m/s</text>
<path d="M320,166.5H356" stroke="#111" stroke-width="2" fill="none"/><path d="M358.5,166.5L344,158.5Q348,166.5 344,174.5Z" fill="#111"/>
<path d="M137,43l-1.6-.3M156,43l-2.7-.9M175,43l-3.6-1.4m1,.6l-1-.6l1.2,.2M195,43l-4.4-1.7m1.2,.7l-1.2-.7l1.4,.2M214,43l-4.9-1.8m1.4,.8l-1.4-.8l1.6,.3M234,43l-5.1-1.8m1.4,.8l-1.4-.8l1.6,.3M253,43l-4.8-1.7m1.4,.8l-1.4-.8l1.6,.2M272,43l-4.1-1.5m1.1,.7l-1.1-.7l1.3,.2M292,43l-3.2-.2m1,.3l-1-.3l1-.1M311,43l-2.5,1.7M330,43l-1.6,3.7m.7-1l-.7,1l.3-1.2M350,43l-.6,5.6m.5-1.6l-.5,1.6l-.1-1.7M369,43l.4,7.3m.3-2.2l-.3,2.2l-.5-2.2M389,43l1,8.1m.2-2.5l-.2,2.5l-.8-2.4M408,43l1.3,7.9m0-2.5l0,2.5l-.9-2.3M427,43l1.8,7.5m-.1-2.4l.1,2.4l-1-2.2M447,43l2.1,7m-.2-2.2l.2,2.2l-1-2M466,43l2.2,6.3m-.3-2l.3,2l-1-1.8M486,43l2.2,5.5m-.3-1.8l.3,1.8l-1-1.5M505,43l1.9,4.6m-.3-1.5l.3,1.5l-.8-1.3M524,43l1.5,3.7m-.2-1.2l.2,1.2l-.7-1M544,43l1,2.7M563,43l.3,1.8M583,43l1.2,.4M602,43l1.2,.4M621,43l-1.4,0M641,43l-1.7-.3M660,43l-1.8-.4M680,43l-1.7-.2M699,43l-1.4,.1M718,43l-1.7,1.3M738,43l-.4,2.6M757,43l1.2,4m-.1-1.3l.1,1.3l-.6-1.1M776,43l2.8,5.4m-.5-1.8l.5,1.8l-1.1-1.5M796,43l2.2,3.4m-.5-1.1l.5,1.1l-.8-.9M815,43l2.8,4m-.6-1.4l.6,1.4l-1.1-1M835,43l6.6,9m-1.5-3.1l1.5,3.1l-2.5-2.3M137,65l-2-.2M156,65l-3-1M175,65l-3.9-1.6m1.1,.7l-1.1-.7l1.2,.3M195,65l-4.6-2.1m1.3,.9l-1.3-.9l1.5,.4M214,65l-5.1-2.5m1.4,1l-1.4-1l1.7,.5M234,65l-5.3-2.7m1.4,1.1l-1.4-1.1l1.7,.5M253,65l-5.2-2.9m1.4,1.2l-1.4-1.2l1.7,.6M272,65l-4.7-3m1.2,1.2l-1.2-1.2l1.6,.6M292,65l-4.2-1.4m1.2,.7l-1.2-.7l1.3,.2M311,65l-3.4,.5m1,0l-1,0l1-.3M330,65l-2.5,2.6m.9-.6l-.9,.6l.6-.9M350,65l-1.5,4.6m.7-1.3l-.7,1.3l.2-1.5M369,65l-.4,6.4m.5-1.9l-.5,1.9l-.2-1.9M389,65l.5,7.9m.3-2.4l-.3,2.4l-.6-2.4M408,65l1.2,7.6m.1-2.4l-.1,2.4l-.8-2.2M427,65l1.8,7.3m-.1-2.3l.1,2.3l-1-2.1M447,65l2.2,6.8m-.3-2.2l.3,2.2l-1.1-1.9M466,65l2.5,6.3m-.4-2l.4,2l-1.1-1.7M486,65l2.4,5.6m-.4-1.8l.4,1.8l-1-1.5M505,65l2.2,4.8m-.4-1.6l.4,1.6l-.9-1.3M524,65l1.8,4m-.3-1.3l.3,1.3l-.8-1.1M544,65l1.2,3m-.2-1l.2,1l-.5-.8M563,65l.5,2.1M583,65l-.2,1.3M602,65l1.2,.4M621,65l-1.4-.1M641,65l-1.8-.5M660,65l-2-.8M680,65l-3.9-1.6m1.1,.7l-1.1-.7l1.3,.3M699,65l-3.4-1.3m1,.6l-1-.6l1.1,.2M718,65l-2.6-.6M738,65l-1.4,.4M757,65l0,1.6M776,65l.7,1.5M796,65l1.4,2.2M815,65l2,2.9m-.4-1l.4,1l-.8-.7M835,65l2.4,3.4m-.5-1.2l.5,1.2l-.9-.9M137,87l-2.2-.3M156,87l-3.1-1.1m.9,.5l-.9-.5l1,.1M175,87l-3.9-1.8m1.1,.8l-1.1-.8l1.3,.3M195,87l-4.6-2.4m1.2,1l-1.2-1l1.5,.5M214,87l-5.1-3m1.4,1.2l-1.4-1.2l1.7,.6M234,87l-5.4-3.4m1.4,1.3l-1.4-1.3l1.8,.7M253,87l-5.5-3.8m1.4,1.4l-1.4-1.4l1.9,.8M272,87l-5.5-4m1.4,1.5l-1.4-1.5l1.9,.9M292,87l-5-2.5m1.4,1l-1.4-1l1.6,.5M311,87l-4.2-.6m1.2,.4l-1.2-.4l1.3-.1M330,87l-3.3,1.4m1.1-.2l-1.1,.2l.9-.6M350,87l-2.3,3.4m.9-.9l-.9,.9l.5-1.1M369,87l-1.2,5.3m.7-1.5l-.7,1.5l.1-1.7M389,87l-.2,6.9m.5-2.1l-.5,2.1l-.3-2.1M408,87l.9,6.7m.1-2.1l-.1,2.1l-.7-2M427,87l1.7,6.5m-.1-2.1l.1,2.1l-.9-1.9M447,87l2.3,6.3m-.3-2l.3,2l-1-1.8M466,87l2.5,5.9m-.4-1.9l.4,1.9l-1.1-1.6M486,87l2.5,5.4m-.4-1.8l.4,1.8l-1.1-1.5M505,87l2.3,4.7m-.4-1.5l.4,1.5l-.9-1.3M524,87l1.8,4m-.3-1.3l.3,1.3l-.8-1.1M544,87l1.2,3.2m-.2-1l.2,1l-.5-.9M563,87l.4,2.3M583,87l-.3,1.4M602,87l1.2,.4M621,87l-3.2-.3m1,.3l-1-.3l1-.1M641,87l-4.2-1.4m1.2,.7l-1.2-.7l1.3,.2M660,87l-4.7-2.3m1.3,.9l-1.3-.9l1.5,.4M680,87l-4.8-2.7m1.3,1.1l-1.3-1.1l1.6,.5M699,87l-4.5-2.8m1.2,1.1l-1.2-1.1l1.5,.6M718,87l-3.8-2.5m1,1l-1-1l1.3,.5M738,87l-2.8-1.8m.7,.7l-.7-.7l.9,.4M757,87l-1.5-.8M776,87l1.2,.4M796,87l1,1.7M815,87l1.1,1.5M835,87l2.9,4.3m-.6-1.5l.6,1.5l-1.1-1.1M137,110l-2.2-.3M156,110l-3-1.1m.8,.5l-.8-.5l1,.2M175,110l-3.8-1.9m1,.8l-1-.8l1.2,.4M195,110l-4.4-2.7m1.2,1l-1.2-1l1.5,.5M214,110l-4.9-3.3m1.3,1.3l-1.3-1.3l1.7,.7M234,110l-5.3-3.8m1.4,1.4l-1.4-1.4l1.8,.8M253,110l-5.6-4.1m1.4,1.6l-1.4-1.6l1.9,.9M272,110l-5.8-4.3m1.5,1.6l-1.5-1.6l2,1M292,110l-5.7-3.5m1.5,1.4l-1.5-1.4l1.9,.7M311,110l-5-1.8m1.4,.8l-1.4-.8l1.6,.3M330,110l-4.1,.1m1.2,.2l-1.2-.2l1.2-.3M350,110l-3.1,2m1.1-.4l-1.1,.4l.8-.8M369,110l-2.1,3.9m.8-1.1l-.8,1.1l.4-1.3M389,110l-.7,4.9m.5-1.4l-.5,1.4l-.1-1.5M408,110l.7,5.2m.1-1.6l-.1,1.6l-.5-1.5M427,110l1.6,5.3m-.2-1.7l.2,1.7l-.8-1.5M447,110l2.2,5.3m-.4-1.7l.4,1.7l-1-1.5M466,110l4.9,10.3m-.9-3.4l.9,3.4l-2.1-2.8M486,110l2.4,4.9m-.5-1.6l.5,1.6l-1-1.3M505,110l2.1,4.4m-.4-1.4l.4,1.4l-.9-1.2M524,110l1.6,3.8m-.3-1.2l.3,1.2l-.7-1.1M544,110l.9,3.1m-.1-1l.1,1l-.5-.9M563,110l.1,2.3M583,110l-.7,1.4M602,110l-2.9,1.2M621,110l-4.3-.4m1.3,.4l-1.3-.4l1.3-.1M641,110l-5.3-1.8m1.5,.8l-1.5-.8l1.7,.2M660,110l-6-2.9m1.6,1.2l-1.6-1.2l2,.5M680,110l-6.2-3.8m1.7,1.5l-1.7-1.5l2.1,.8M699,110l-6.1-4.2m1.6,1.6l-1.6-1.6l2.1,.9M718,110l-5.5-4.3m1.4,1.6l-1.4-1.6l1.9,1M738,110l-4.6-4m1.2,1.5l-1.2-1.5l1.6,.9M757,110l-3.5-3.4m.9,1.2l-.9-1.2l1.2,.8M776,110l-1.1-1.2M796,110l-1.1-1.3M815,110l1.2,.4M835,110l.8,1.2M137,133l-2-.4M156,133l-2.7-1.1M175,133l-3.4-1.9m.9,.8l-.9-.8l1.1,.4M195,133l-4-2.7m1.1,1l-1.1-1l1.4,.6M214,133l-4.5-3.3m1.2,1.2l-1.2-1.2l1.5,.7M234,133l-4.9-3.8m1.2,1.4l-1.2-1.4l1.7,.9M253,133l-5.1-4.1m1.3,1.5l-1.3-1.5l1.8,.9M272,133l-5.3-4.1m1.4,1.5l-1.4-1.5l1.8,.9M292,133l-5.5-3.7m1.4,1.4l-1.4-1.4l1.8,.8M311,133l-5.4-2.7m1.5,1.1l-1.5-1.1l1.8,.5M330,133l-4.7-1m1.4,.6l-1.4-.6l1.5,0M350,133l-3.6,.8m1.1,0l-1.1,0l1-.4M369,133l-2,2.1M389,133l-.5,3M408,133l.7,3.6m0-1.1l0,1.1l-.4-1M427,133l1.6,4m-.2-1.3l.2,1.3l-.7-1.1M447,133l4.1,8.4m-.8-2.8l.8,2.8l-1.7-2.3M466,133l2.3,4.3m-.4-1.4l.4,1.4l-.9-1.2M486,133l2.2,4.2m-.4-1.4l.4,1.4l-.9-1.1M505,133l3.6,7.9m-.6-2.6l.6,2.6l-1.5-2.2M524,133l2.4,7m-.3-2.2l.3,2.2l-1.1-2M544,133l.4,2.9M563,133l-.9,4.5m.5-1.3l-.5,1.3l0-1.4M583,133l-2.6,2.9m1-.7l-1,.7l.6-1M602,133l-4.3,1.3m1.4-.1l-1.4,.1l1.2-.6M621,133l-5.8-.4m1.7,.4l-1.7-.4l1.7-.2M641,133l-6.9-1.9m2,1l-2-1l2.2,.2M660,133l-7.7-3.3m2.1,1.4l-2.1-1.4l2.5,.6M680,133l-8-4.4m2.2,1.8l-2.2-1.8l2.7,.9M699,133l-8-5.2m2.1,2l-2.1-2l2.7,1.1M718,133l-7.5-5.7m1.9,2.1l-1.9-2.1l2.6,1.3M738,133l-6.7-5.8m1.7,2.1l-1.7-2.1l2.3,1.4M757,133l-5.6-5.5m1.4,2l-1.4-2l2,1.3M776,133l-2.2-2.5m.5,.9l-.5-.9l.8,.6M796,133l-1.6-2M815,133l-2.2-3m.5,1l-.5-1l.8,.8M835,133l-1.3-1.8M137,156l-1.7-.3M156,156l-2.3-1M175,156l-2.9-1.7m.8,.7l-.8-.7l1,.4M195,156l-3.5-2.4m.9,.9l-.9-.9l1.2,.5M214,156l-3.9-3.1m1,1.1l-1-1.1l1.4,.7M234,156l-4.3-3.6m1.1,1.3l-1.1-1.3l1.5,.8M253,156l-4.5-3.9m1.1,1.4l-1.1-1.4l1.6,.9M272,156l-4.5-3.9m1.1,1.4l-1.1-1.4l1.6,.9M292,156l-4.4-3.6m1.1,1.3l-1.1-1.3l1.5,.8M311,156l-4.1-2.9m1.1,1.1l-1.1-1.1l1.4,.6M330,156l-3.5-1.8m.9,.7l-.9-.7l1.1,.3M350,156l-2.5-.6M369,156l-1.3,.5M389,156l-.2,1.4M408,156l1.6,4.4m-.2-1.4l.2,1.4l-.7-1.2M427,156l2.9,5.5m-.6-1.8l.6,1.8l-1.2-1.5M447,156l3.7,6.4m-.7-2.1l.7,2.1l-1.5-1.7M466,156l3.8,6.9m-.8-2.3l.8,2.3l-1.5-1.9M486,156l3.4,7.1m-.6-2.3l.6,2.3l-1.4-1.9M505,156l2.4,7m-.3-2.2l.3,2.2l-1.1-2M524,156l.5,3.2m0-1l0,1l-.3-.9M544,156l-.3,2.8M563,156l-1.2,2.2M583,156l-4.3,3.1m1.5-.7l-1.5,.7l1.1-1.2M602,156l-6.1,1.6m1.9-.1l-1.9,.1l1.7-.8M621,156l-7.6-.1m2.3,.5l-2.3-.5l2.3-.4M641,156l-8.9-1.7m2.6,1l-2.6-1l2.8,0M660,156l-9.7-3.2m2.7,1.5l-2.7-1.5l3.1,.4M680,156l-10.1-4.6m2.8,2l-2.8-2l3.3,.8M699,156l-10.1-5.7m2.7,2.3l-2.7-2.3l3.4,1.1M718,156l-9.7-6.5m2.5,2.5l-2.5-2.5l3.3,1.4M738,156l-8.9-7m2.3,2.6l-2.3-2.6l3.1,1.6M757,156l-3.9-3.5m1,1.3l-1-1.3l1.4,.8M776,156l-3.3-3.4m.8,1.2l-.8-1.2l1.2,.8M796,156l-5.4-6.3m1.3,2.2l-1.3-2.2l2,1.6M815,156l-4.2-5.4m1,1.9l-1-1.9l1.6,1.4M835,156l-3.3-4.4m.7,1.5l-.7-1.5l1.2,1.1M137,177l-1.2-.2M156,177l-1.8-.7M175,177l-2.4-1.4M195,177l-2.9-2m.7,.8l-.7-.8l1,.4M214,177l-3.3-2.6m.8,1l-.8-1l1.1,.6M234,177l-3.5-3.1m.9,1.1l-.9-1.1l1.2,.7M253,177l-3.7-3.5m.9,1.2l-.9-1.2l1.3,.8M272,177l-3.6-3.6m.9,1.3l-.9-1.3l1.3,.9M292,177l-3.4-3.4m.8,1.2l-.8-1.2l1.2,.8M311,177l-3-2.9m.7,1l-.7-1l1.1,.7M330,177l-2.4-2.2m.6,.8l-.6-.8l.8,.5M350,177l-1.6-1.3M369,177l1.2,.4M389,177l1.2,.4M408,177l.8,1.2M427,177l1.3,1.9M447,177l1.5,2.4M466,177l1.4,2.8M486,177l2.2,6.2m-.3-2l.3,2l-1-1.7M505,177l1,6.3m.1-2l-.1,2l-.7-1.8M524,177l-.6,6.1m.5-1.8l-.5,1.8l-.2-1.9M544,177l-2.4,5.5m1-1.5l-1,1.5l.4-1.8M563,177l-2.2,2.3M583,177l-3.2,1.7m1.1-.3l-1.1,.3l.9-.7M602,177l-8.2,2m2.6-.1l-2.6,.1l2.3-1.1M621,177l-9.8,.5m3,.4l-3-.4l2.9-.7M641,177l-11.1-1.1m3.3,1l-3.3-1l3.4-.3M660,177l-11.9-2.7m3.4,1.5l-3.4-1.5l3.7,.1M680,177l-12.4-4.2m3.5,2l-3.5-2l4,.6M699,177l-12.4-5.6m3.4,2.4l-3.4-2.4l4,1M718,177l-11.9-6.7m3.2,2.7l-3.2-2.7l4,1.3M738,177l-5.6-3.7m1.5,1.4l-1.5-1.4l1.9,.8M757,177l-5-4m1.3,1.5l-1.3-1.5l1.7,.9M776,177l-4.4-4m1.1,1.5l-1.1-1.5l1.5,1M796,177l-7.5-7.8m1.8,2.8l-1.8-2.8l2.7,1.9M815,177l-6.2-7.3m1.4,2.5l-1.4-2.5l2.3,1.8M835,177l-5.1-6.5m1.1,2.2l-1.1-2.2l1.9,1.7M137,201l1.2,.4M156,201l-1.2-.3M175,201l-1.7-.8M195,201l-2.1-1.4M214,201l-2.5-1.9M234,201l-2.7-2.4m.7,.9l-.7-.9l1,.6M253,201l-2.8-2.7m.7,1l-.7-1l1,.7M272,201l-2.8-2.9m.7,1l-.7-1l1,.7M292,201l-2.5-2.9m.6,1l-.6-1l.9,.7M311,201l-2.1-2.6m.5,.9l-.5-.9l.8,.7M330,201l-1.6-2.2M350,201l-.9-1.6M369,201l1.2,.4M389,201l1.2,.4M408,201l1.2,.4M427,201l1,1.3M447,201l2,3.9m-.4-1.3l.4,1.3l-.8-1M466,201l1.5,4.9m-.2-1.5l.2,1.5l-.7-1.4M486,201l.4,5.6m.2-1.7l-.2,1.7l-.5-1.7M505,201l-1,6m.7-1.7l-.7,1.7l0-1.9M524,201l-2.9,6m1.2-1.6l-1.2,1.6l.5-2M544,201l-4.9,5.7m1.8-1.4l-1.8,1.4l1.1-2M563,201l-3.5,2.5m1.2-.6l-1.2,.6l.9-1M583,201l-4.5,2m1.5-.4l-1.5,.4l1.2-.9M602,201l-10.9,2.9m3.4-.2l-3.4,.2l3.1-1.5M621,201l-12.5,1.5m3.8,.3l-3.8-.3l3.7-1.1M641,201l-13.8-.1m4.1,.8l-4.1-.8l4.1-.8M660,201l-14.6-1.7m4.3,1.3l-4.3-1.3l4.5-.3M680,201l-15-3.3m4.3,1.8l-4.3-1.8l4.7,.1M699,201l-15-4.8m4.2,2.3l-4.2-2.3l4.8,.6M718,201l-7.3-3.1m2,1.3l-2-1.3l2.4,.5M738,201l-6.8-3.6m1.8,1.5l-1.8-1.5l2.3,.7M757,201l-6.3-4m1.6,1.6l-1.6-1.6l2.1,.9M776,201l-11.2-8.6m2.9,3.2l-2.9-3.2l3.8,1.9M796,201l-9.7-8.7m2.4,3.2l-2.4-3.2l3.4,2.1M815,201l-8.2-8.6m2,3l-2-3l3,2.1M835,201l-6.9-8.1m1.6,2.8l-1.6-2.8l2.5,2M137,222l1.2,.4M156,222l1.2,.4M175,222l1.2,.4M195,222l-1.5-.6M214,222l-1.8-1.1M234,222l-2.1-1.5M253,222l-2.1-1.9M272,222l-2.1-2.1M292,222l-1.8-2.2M311,222l-1.5-2M330,222l-1-1.8M350,222l-.5-1.3M369,222l1.2,.4M389,222l1.2,.4M408,222l1.2,.4M427,222l.6,1.2M447,222l.8,3.8m0-1.2l0,1.2l-.4-1.1M466,222l-.2,4.8m.3-1.4l-.3,1.4l-.2-1.5M486,222l-1.6,5.7m.8-1.6l-.8,1.6l.2-1.8M505,222l-3.4,6.2m1.4-1.7l-1.4,1.7l.7-2.1M524,222l-5.4,6.4m2-1.6l-2,1.6l1.3-2.2M544,222l-3.8,3.1m1.3-.7l-1.3,.7l1-1.2M563,222l-9.8,5.7m3.3-1.2l-3.3,1.2l2.6-2.3M583,222l-11.9,4.9m3.9-.8l-3.9,.8l3.3-2.2M602,222l-13.8,3.9m4.4-.4l-4.4,.4l3.9-2M621,222l-15.4,2.6m4.8,.1l-4.8-.1l4.5-1.7M641,222l-8.3,.6m2.5,.3l-2.5-.3l2.5-.7M660,222l-8.7-.2m2.6,.5l-2.6-.5l2.6-.5M680,222l-8.9-.9m2.6,.8l-2.6-.8l2.7-.2M699,222l-8.9-1.7m2.6,1l-2.6-1l2.8,0M718,222l-8.6-2.5m2.4,1.2l-2.4-1.2l2.7,.3M738,222l-8.2-3.2m2.3,1.4l-2.3-1.4l2.6,.5M757,222l-15.1-7.4m4.1,3.1l-4.1-3.1l4.9,1.4M776,222l-13.6-8.3m3.6,3.3l-3.6-3.3l4.5,1.7M796,222l-11.9-8.8m3.1,3.3l-3.1-3.3l4.1,2M815,222l-10.3-9.1m2.6,3.3l-2.6-3.3l3.6,2.1M835,222l-8.7-8.9m2.1,3.2l-2.1-3.2l3.1,2.2M137,245l1.2,.4M156,245l1.2,.4M175,245l1.2,.4M195,245l1.2,.4M214,245l-1.2-.1M234,245l-1.5-.4M253,245l-1.5-.7M272,245l-1.5-1M292,245l-1.3-1.1M311,245l-1-1.1M330,245l1.2,.4M350,245l1.2,.4M369,245l1.2,.4M389,245l1.2,.4M408,245l1.2,.4M427,245l0,1.6M447,245l-.4,2.2M466,245l-2.3,5.6m1-1.5l-1,1.5l.4-1.8M486,245l-4.1,6.4m1.6-1.7l-1.6,1.7l.9-2.2M505,245l-6.3,7m2.3-1.7l-2.3,1.7l1.5-2.4M524,245l-8.6,7.2m3-1.7l-3,1.7l2.2-2.6M544,245l-11.1,7.1m3.7-1.5l-3.7,1.5l2.9-2.8M563,245l-13.4,6.7m4.4-1.2l-4.4,1.2l3.6-2.8M583,245l-15.5,6m5-.9l-5,.9l4.3-2.7M602,245l-17.4,5.1m5.5-.5l-5.5,.5l4.9-2.5M621,245l-9.4,2m2.9-.1l-2.9,.1l2.7-1.1M641,245l-10,1.4m3.1,.2l-3.1-.2l2.9-1M660,245l-20.6,1.4m6.3,.8l-6.3-.8l6.1-1.6M680,245l-20.9-.1m6.3,1.2l-6.3-1.2l6.3-1.2M699,245l-20.8-1.6m6.2,1.7l-6.2-1.7l6.3-.7M718,245l-20.3-3.2m5.9,2.1l-5.9-2.1l6.3-.2M738,245l-19.4-4.7m5.6,2.5l-5.6-2.5l6.1,.3M757,245l-18.2-6.1m5.1,2.9l-5.1-2.9l5.8,.8M776,245l-16.6-7.4m4.6,3.2l-4.6-3.2l5.4,1.3M796,245l-14.7-8.3m3.9,3.3l-3.9-3.3l4.9,1.6M815,245l-12.8-8.9m3.3,3.4l-3.3-3.4l4.4,1.9M835,245l-11-9.1m2.8,3.4l-2.8-3.4l3.8,2.1M137,268l1,1.4M156,268l.5,1.4M175,268l0,1.4M195,268l-.4,1.2M214,268l-.7,1M234,268l-1,.8M253,268l-1.1,.5M272,268l1.2,.4M292,268l1.2,.4M311,268l1.2,.4M330,268l1.2,.4M350,268l1.2,.4M369,268l1.2,.4M389,268l-.1,1.3M408,268l-.3,1.9M427,268l-.7,2.5M447,268l-1.4,3.1m.6-.8l-.6,.8l.2-1M466,268l-4.7,7.1m1.8-1.9l-1.8,1.9l1-2.4M486,268l-7,7.9m2.6-2l-2.6,2l1.7-2.8M505,268l-9.6,8.4m3.4-2l-3.4,2l2.4-3.1M524,268l-12.4,8.4m4.2-1.8l-4.2,1.8l3.2-3.2M544,268l-15,8.2m5-1.6l-5,1.6l4-3.3M563,268l-17.5,7.8m5.7-1.3l-5.7,1.3l4.8-3.3M583,268l-19.5,7m6.2-1l-6.2,1l5.4-3.2M602,268l-21.1,6.1m6.7-.6l-6.7,.6l6-3M621,268l-11.2,2.6m3.5-.1l-3.5,.1l3.2-1.4M641,268l-23.3,4.3m7.2,.1l-7.2-.1l6.8-2.6M660,268l-23.9,3.2m7.4,.4l-7.4-.4l7-2.3M680,268l-24.2,2m7.4,.8l-7.4-.8l7.1-2M699,268l-24,.6m7.2,1.2l-7.2-1.2l7.2-1.6M718,268l-23.5-.9m7,1.6l-7-1.6l7.1-1.1M738,268l-22.6-2.5m6.6,2l-6.6-2l6.9-.5M757,268l-21.4-4.1m6.2,2.5l-6.2-2.5l6.6,0M776,268l-19.8-5.7m5.6,2.8l-5.6-2.8l6.3,.6M796,268l-18-7.2m5,3.2l-5-3.2l5.8,1.1M815,268l-15.8-8.2m4.3,3.4l-4.3-3.4l5.2,1.6M835,268l-13.5-8.9m3.6,3.4l-3.6-3.4l4.6,1.9M137,289l1.4,1.8M156,289l.9,2M175,289l.4,2.1M195,289l0,2.1M214,289l-.4,2M234,289l-.7,1.9M253,289l-.8,1.7M272,289l-.8,1.6M292,289l-.8,1.4M311,289l-.6,1.4M330,289l-.4,1.5M350,289l-.3,1.7M369,289l-.2,2M389,289l-.3,2.5M408,289l-.7,3M427,289l-1.3,3.6m.6-1l-.6,1l.2-1.2M447,289l-2.2,4.2m.9-1.1l-.9,1.1l.4-1.4M466,289l-3.4,4.7m1.3-1.2l-1.3,1.2l.8-1.6M486,289l-9.7,10m3.5-2.5l-3.5,2.5l2.3-3.6M505,289l-12.8,10.2m4.4-2.3l-4.4,2.3l3.3-3.8M524,289l-15.9,10m5.3-2.1l-5.3,2.1l4.2-3.9M544,289l-18.7,9.4m6.1-1.7l-6.1,1.7l5.1-3.9M563,289l-20.9,8.4m6.8-1.3l-6.8,1.3l5.8-3.7M583,289l-22.7,7.5m7.2-1l-7.2,1l6.4-3.6M602,289l-24.1,6.8m7.6-.7l-7.6,.7l6.8-3.4M621,289l-25.1,6.1m7.9-.4l-7.9,.4l7.2-3.3M641,289l-25.8,5.5m8-.2l-8,.2l7.4-3.1M660,289l-26.2,4.8m8.1,.1l-8.1-.1l7.6-2.9M680,289l-26.4,4m8.1,.3l-8.1-.3l7.7-2.7M699,289l-26.3,2.9m8,.6l-8-.6l7.7-2.4M718,289l-25.8,1.5m7.8,1l-7.8-1l7.7-1.9M738,289l-25-.1m7.5,1.4l-7.5-1.4l7.5-1.4M757,289l-23.8-1.9m7,1.9l-7-1.9l7.2-.8M776,289l-22.2-3.8m6.4,2.4l-6.4-2.4l6.9-.1M796,289l-20.3-5.6m5.8,2.8l-5.8-2.8l6.4,.5M815,289l-18.1-7.3m5,3.2l-5-3.2l5.8,1.1M835,289l-15.6-8.4m4.2,3.4l-4.2-3.4l5.2,1.6M137,309l1.6,2.1M156,309l1.1,2.4M175,309l.6,2.7M195,309l.2,2.8M214,309l-.2,2.9M234,309l-.5,2.8M253,309l-.7,2.8M272,309l-.7,2.7M292,309l-.7,2.6M311,309l-.5,2.6M330,309l-.4,2.7M350,309l-.3,2.9M369,309l-.3,3.3m.3-1l-.3,1l-.1-1M389,309l-.5,3.7m.3-1.1l-.3,1.1l-.1-1.1M408,309l-.9,4.3m.5-1.2l-.5,1.2l0-1.3M427,309l-1.6,4.9m.8-1.4l-.8,1.4l.2-1.6M447,309l-2.6,5.5m1.1-1.5l-1.1,1.5l.5-1.8M466,309l-4.1,6m1.6-1.6l-1.6,1.6l.9-2M486,309l-11.6,12.6m4.2-3.1l-4.2,3.1l2.8-4.4M505,309l-15.3,12.5m5.3-2.9l-5.3,2.9l3.9-4.6M524,309l-18.7,11.6m6.3-2.4l-6.3,2.4l5-4.6M544,309l-21.5,10.1m7-1.8l-7,1.8l5.9-4.3M563,309l-23.5,8.6m7.5-1.3l-7.5,1.3l6.5-3.9M583,309l-24.7,7.5m7.8-.8l-7.8,.8l7-3.7M602,309l-25.6,6.8m8.1-.6l-8.1,.6l7.3-3.5M621,309l-26.1,6.4m8.2-.4l-8.2,.4l7.5-3.4M641,309l-26.4,6.2m8.3-.3l-8.3,.3l7.6-3.4M660,309l-26.6,6m8.3-.3l-8.3,.3l7.6-3.3M680,309l-26.7,5.6m8.3-.2l-8.3,.2l7.7-3.2M699,309l-26.6,4.9m8.3,0l-8.3,0l7.7-3M718,309l-26.3,3.8m8.1,.4l-8.1-.4l7.7-2.6M738,309l-25.7,2.3m7.8,.8l-7.8-.8l7.6-2.1M757,309l-24.7,.3m7.4,1.3l-7.4-1.3l7.4-1.5M776,309l-23.3-1.9m6.9,1.9l-6.9-1.9l7.1-.7M796,309l-21.3-4.2m6.2,2.5l-6.2-2.5l6.6,0M815,309l-19-6.3m5.3,3l-5.3-3l6.1,.8M835,309l-16.4-7.9m4.5,3.3l-4.5-3.3l5.4,1.4M137,331l1.8,2.3M156,331l1.3,2.8M175,331l.7,3.1m0-1l0,1l-.4-.9M195,331l.3,3.4m.1-1l-.1,1l-.3-1M214,331l-.1,3.6m.2-1.1l-.2,1.1l-.2-1.1M234,331l-.4,3.7m.3-1.1l-.3,1.1l-.1-1.1M253,331l-.6,3.8m.4-1.1l-.4,1.1l0-1.2M272,331l-.6,3.8m.4-1.1l-.4,1.1l0-1.2M292,331l-.6,3.8m.4-1.1l-.4,1.1l0-1.2M311,331l-.5,3.9m.4-1.1l-.4,1.1l-.1-1.2M330,331l-.3,4m.3-1.2l-.3,1.2l-.1-1.2M350,331l-.2,4.3m.3-1.3l-.3,1.3l-.2-1.3M369,331l-.2,4.6m.3-1.4l-.3,1.4l-.2-1.4M389,331l-.4,5.1m.4-1.5l-.4,1.5l-.2-1.6M408,331l-.8,5.8m.6-1.7l-.6,1.7l-.1-1.8M427,331l-1.5,6.5m.8-1.9l-.8,1.9l.1-2M447,331l-2.7,7.2m1.2-2l-1.2,2l.4-2.3M466,331l-8.6,15.6m3.5-4.2l-3.5,4.2l1.7-5.2M486,331l-12.8,16.2m4.8-4.1l-4.8,4.1l2.9-5.6M505,331l-17.3,15.6m6.1-3.7l-6.1,3.7l4.3-5.7M524,331l-21.3,13.4m7.2-2.8l-7.2,2.8l5.6-5.2M544,331l-24.1,10.6m7.8-1.8l-7.8,1.8l6.6-4.6M563,331l-25.4,8.1m8.1-1l-8.1,1l7.2-3.9M583,331l-25.7,6.4m8.1-.5l-8.1,.5l7.3-3.4M602,331l-25.6,5.8m8-.3l-8,.3l7.3-3.2M621,331l-25.3,5.9m7.9-.3l-7.9,.3l7.3-3.2M641,331l-25.1,6.3m7.9-.5l-7.9,.5l7.2-3.3M660,331l-25,6.8m7.9-.6l-7.9,.6l7.1-3.5M680,331l-25,7.1m7.9-.7l-7.9,.7l7.1-3.5M699,331l-25,7m7.9-.7l-7.9,.7l7.1-3.5M718,331l-25,6.3m7.9-.5l-7.9,.5l7.1-3.3M738,331l-24.8,4.9m7.7-.1l-7.7,.1l7.2-2.9M757,331l-24.3,2.8m7.4,.6l-7.4-.6l7.1-2.2M776,331l-23.2,.1m7,1.3l-7-1.3l7-1.3M796,331l-21.4-2.9m6.2,2.1l-6.2-2.1l6.6-.4M815,331l-18.9-5.5m5.4,2.7l-5.4-2.7l6,.6M835,331l-16.2-7.7m4.4,3.2l-4.4-3.2l5.3,1.4M137,351l1.8,2.4M156,351l1.3,2.9M175,351l.8,3.4m0-1.1l0,1.1l-.4-1M195,351l.3,3.8m.1-1.1l-.1,1.1l-.3-1.1M214,351l-.1,4.1m.3-1.2l-.3,1.2l-.2-1.2M234,351l-.4,4.3m.4-1.3l-.4,1.3l-.1-1.3M253,351l-.6,4.5m.4-1.3l-.4,1.3l-.1-1.4M272,351l-.6,4.6m.5-1.3l-.5,1.3l-.1-1.4M292,351l-.6,4.7m.4-1.4l-.4,1.4l-.1-1.5M311,351l-.4,4.9m.4-1.4l-.4,1.4l-.1-1.5M330,351l-.3,5.1m.4-1.5l-.4,1.5l-.2-1.5M350,351l-.1,5.4m.3-1.6l-.3,1.6l-.3-1.6M369,351l0,5.8m.3-1.7l-.3,1.7l-.3-1.7M389,351l0,6.3m.4-1.9l-.4,1.9l-.3-1.9M408,351l-.4,7.1m.5-2.1l-.5,2.1l-.3-2.1M427,351l-1,7.9m.8-2.3l-.8,2.3l-.1-2.4M447,351l-2.2,8.9m1.2-2.5l-1.2,2.5l.1-2.8M466,351l-7.9,19.6m3.5-5.4l-3.5,5.4l1.3-6.3M486,351l-12.9,20.5m5-5.4l-5,5.4l2.7-6.9M505,351l-18.9,19.4m6.8-4.7l-6.8,4.7l4.6-6.9M524,351l-24.2,15.5m8.1-3.3l-8.1,3.3l6.4-6M544,351l-27,10.3m8.7-1.6l-8.7,1.6l7.5-4.6M563,351l-27.1,6.1m8.5-.3l-8.5,.3l7.8-3.4M583,351l-25.8,4m8,.3l-8-.3l7.5-2.7M602,351l-24.4,3.7m7.5,.3l-7.5-.3l7.1-2.5M621,351l-23.3,4.5m7.2,0l-7.2,0l6.7-2.7M641,351l-22.5,5.7m7.1-.4l-7.1,.4l6.4-3M660,351l-22.1,7.1m7-.9l-7,.9l6.2-3.4M680,351l-22,8.2m7.1-1.2l-7.1,1.2l6.1-3.7M699,351l-22.2,8.8m7.2-1.4l-7.2,1.4l6.2-3.9M718,351l-22.7,8.8m7.3-1.3l-7.3,1.3l6.3-3.9M738,351l-23.2,7.6m7.4-1l-7.4,1l6.5-3.6M757,351l-23.5,5.2m7.4-.2l-7.4,.2l6.8-2.9M776,351l-23,1.8m7,.8l-7-.8l6.8-1.9M796,351l-21.4-2m6.3,1.8l-6.3-1.8l6.5-.6M815,351l-18.7-5.4m5.3,2.7l-5.3-2.7l5.9,.6M835,351l-15.6-8m4.2,3.3l-4.2-3.3l5.1,1.5M137,371l1.7,2.4M156,371l1.2,2.9M175,371l.7,3.4m0-1.1l0,1.1l-.4-1M195,371l.2,3.9m.2-1.2l-.2,1.2l-.3-1.2M214,371l-.2,4.3m.3-1.3l-.3,1.3l-.2-1.3M234,371l-.5,4.7m.4-1.4l-.4,1.4l-.1-1.4M253,371l-.6,4.9m.5-1.4l-.5,1.4l-.1-1.5M272,371l-.7,5.2m.5-1.5l-.5,1.5l-.1-1.6M292,371l-.6,5.4m.5-1.6l-.5,1.6l-.1-1.7M311,371l-.4,5.6m.4-1.7l-.4,1.7l-.2-1.7M330,371l-.1,5.9m.4-1.8l-.4,1.8l-.3-1.8M350,371l.1,6.2m.3-1.9l-.3,1.9l-.4-1.9M369,371l.4,6.7m.3-2l-.3,2l-.5-2M389,371l.4,7.3m.3-2.2l-.3,2.2l-.6-2.2M408,371l.3,8.2m.4-2.5l-.4,2.5l-.6-2.4M427,371l-.1,9.2m.6-2.8l-.6,2.8l-.5-2.8M447,371l-2,21m1.8-6.2l-1.8,6.2l-.6-6.4M466,371l-5.5,23.8m3-6.8l-3,6.8l.3-7.5M486,371l-11.3,26.1m4.9-7.2l-4.9,7.2l1.9-8.5M505,371l-19.9,25.3m7.4-6.5l-7.4,6.5l4.5-8.7M524,371l-28.6,18.6m9.6-4l-9.6,4l7.5-7.2M544,371l-31.5,8.4m9.9-.7l-9.9,.7l9-4.3M563,371l-28.8,1.7m8.7,1.1l-8.7-1.1l8.5-2.1M583,371l-25-.3m7.5,1.5l-7.5-1.5l7.5-1.3M602,371l-22.2,.4m6.7,1.1l-6.7-1.1l6.6-1.4M621,371l-20.3,2.3m6.2,.5l-6.2-.5l6-1.8M641,371l-19.1,4.6m6-.3l-6,.3l5.5-2.5M660,371l-18.5,6.9m5.9-1l-5.9,1l5.2-3.1M680,371l-18.4,9m6-1.7l-6,1.7l5-3.8M699,371l-18.8,10.7m6.3-2.1l-6.3,2.1l5-4.3M718,371l-19.9,11.5m6.6-2.3l-6.6,2.3l5.3-4.6M738,371l-21.6,10.9m7.1-2l-7.1,2l5.9-4.5M757,371l-23.3,8.2m7.5-1.1l-7.5,1.1l6.5-3.8M776,371l-23.9,3.5m7.4,.3l-7.4-.3l7-2.4M796,371l-22.3-1.9m6.6,1.8l-6.6-1.8l6.8-.7M815,371l-19.1-6.3m5.4,3l-5.4-3l6.1,.8M835,371l-15.2-9.3m4,3.7l-4-3.7l5.1,1.9M137,391l1.6,2.2M156,391l1.1,2.7M175,391l.5,3.3m0-1l0,1l-.3-1M195,391l.1,3.8m.2-1.2l-.2,1.2l-.2-1.1M214,391l-.3,4.3m.3-1.3l-.3,1.3l-.2-1.3M234,391l-.6,4.8m.4-1.4l-.4,1.4l-.1-1.5M253,391l-.7,5.1m.5-1.5l-.5,1.5l-.1-1.6M272,391l-.7,5.5m.5-1.6l-.5,1.6l-.1-1.7M292,391l-.5,5.8m.5-1.7l-.5,1.7l-.2-1.8M311,391l-.3,6.1m.4-1.8l-.4,1.8l-.3-1.9M330,391l0,6.4m.4-1.9l-.4,1.9l-.4-1.9M350,391l.4,6.8m.3-2.1l-.3,2.1l-.5-2M369,391l.8,7.4m.2-2.3l-.2,2.3l-.7-2.2M389,391l1.1,8m.1-2.5l-.1,2.5l-.8-2.3M408,391l1.3,8.9m.1-2.7l-.1,2.7l-.9-2.6M427,391l1.3,10.1m.2-3.1l-.2,3.1l-1-3M447,391l1.7,23.3m.8-7.1l-.8,7.1l-1.8-6.9M466,391l-.4,27.5m1.7-8.2l-1.7,8.2l-1.4-8.3M486,391l-5.5,32.6m3.5-9.5l-3.5,9.5l-.2-10.1M505,391l-17.3,36.1m7.2-9.8l-7.2,9.8l3.1-11.8M524,391l-37.2,25.4m12.6-5.5l-12.6,5.5l9.7-9.7M544,391l-38.9,.6m11.7,2l-11.7-2l11.6-2.4M563,391l-28.6-7.6m8.1,3.9l-8.1-3.9l9,.7M583,391l-21.9-6.9m6.2,3.3l-6.2-3.3l7,.8M602,391l-18.2-3.9m5.2,2.2l-5.2-2.2l5.7,.1M621,391l-16.2-.5m4.8,1.1l-4.8-1.1l4.9-.8M641,391l-14.9,3m4.7-.1l-4.7,.1l4.3-1.8M660,391l-14.3,6.4m4.6-1.1l-4.6,1.1l3.9-2.7M680,391l-14.1,9.6m4.8-2.1l-4.8,2.1l3.7-3.7M699,391l-14.6,12.5m5.1-2.9l-5.1,2.9l3.7-4.6M718,391l-16.3,14.7m5.7-3.5l-5.7,3.5l4.1-5.3M738,391l-19.6,15.3m6.7-3.5l-6.7,3.5l5-5.7M757,391l-24,12.5m7.9-2.4l-7.9,2.4l6.5-5.1M776,391l-26.8,5.2m8.3,0l-8.3,0l7.7-3.1M796,391l-24.9-3.2m7.3,2.4l-7.3-2.4l7.7-.5M815,391l-20-9.1m5.5,3.9l-5.5-3.9l6.5,1.6M835,391l-14.8-12m3.8,4.4l-3.8-4.4l5.1,2.7M137,411l1.4,1.8M156,411l.9,2.4M175,411l.3,3M195,411l-.1,3.6m.2-1.1l-.2,1.1l-.2-1.1M214,411l-.4,4.1m.4-1.2l-.4,1.2l-.1-1.3M234,411l-.7,4.6m.5-1.3l-.5,1.3l-.1-1.4M253,411l-.8,5.1m.5-1.5l-.5,1.5l-.1-1.6M272,411l-.7,5.5m.5-1.6l-.5,1.6l-.1-1.7M292,411l-.5,5.9m.5-1.7l-.5,1.7l-.2-1.8M311,411l-.2,6.3m.4-1.9l-.4,1.9l-.3-1.9M330,411l.2,6.7m.3-2l-.3,2l-.5-2M350,411l.8,7.1m.2-2.2l-.2,2.2l-.6-2.1M369,411l1.3,7.6m0-2.4l0,2.4l-.8-2.2M389,411l1.9,8.3m-.1-2.6l.1,2.6l-1-2.4M408,411l4.8,18.3m-.4-5.8l.4,5.8l-2.5-5.2M427,411l5.8,20.6m-.6-6.5l.6,6.5l-2.9-5.9M447,411l3.3,11.9m-.3-3.8l.3,3.8l-1.7-3.4M466,411l3.5,14.2m-.3-4.5l.3,4.5l-1.9-4.1M486,411l6.9,35.6m0-11.1l0,11.1l-4.1-10.3M505,411l3.1,45.9m1.7-13.9l-1.7,13.9l-3.5-13.6M524,411l-9.4,16.6m3.8-4.4l-3.8,4.4l1.9-5.5M544,411l-22.2-15.8m5.8,6l-5.8-6l7.6,3.5M563,411l-19.2-21.3m4.6,7.5l-4.6-7.5l7,5.3M583,411l-14.3-13.8m3.5,5l-3.5-5l5.1,3.3M602,411l-12.1-8.1m3.2,3.1l-3.2-3.1l4.1,1.7M621,411l-10.8-3.2m3.1,1.6l-3.1-1.6l3.4,.3M641,411l-10,1.3m3.1,.2l-3.1-.2l2.9-.9M660,411l-9.3,5.5m3.1-1.1l-3.1,1.1l2.5-2.2M680,411l-9,9.6m3.2-2.4l-3.2,2.4l2.1-3.4M699,411l-9.2,13.8m3.5-3.6l-3.5,3.6l2-4.7M718,411l-10.7,18m4.2-4.8l-4.2,4.8l2.2-6M738,411l-15.1,21.5m5.8-5.6l-5.8,5.6l3.3-7.3M757,411l-19.6,15.1m6.8-3.4l-6.8,3.4l5-5.7M776,411l-22.3,3.9m6.9,.1l-6.9-.1l6.5-2.4M796,411l-24.7-7.6m7,3.7l-7-3.7l7.8,.9M815,411l-20.2-14.9m5.2,5.6l-5.2-5.6l6.9,3.3M835,411l-13.3-16.2m3.1,5.6l-3.1-5.6l4.9,4.1M137,432l1.2,1.4M156,432l.6,2M175,432l.1,2.6M195,432l-.3,3.2M214,432l-.6,3.8m.4-1.1l-.4,1.1l0-1.2M234,432l-.8,4.3m.5-1.3l-.5,1.3l0-1.3M253,432l-.9,4.9m.5-1.4l-.5,1.4l0-1.5M272,432l-.8,5.4m.5-1.6l-.5,1.6l-.1-1.7M292,432l-.5,5.8m.5-1.7l-.5,1.7l-.2-1.8M311,432l-.1,6.3m.4-1.9l-.4,1.9l-.3-1.9M330,432l.4,6.7m.2-2l-.2,2l-.5-2M350,432l1.1,7.1m.1-2.2l-.1,2.2l-.7-2.1M369,432l1.8,7.6m-.1-2.4l.1,2.4l-1-2.2M389,432l5.3,16.4m-.7-5.2l.7,5.2l-2.5-4.6M408,432l7,17.8m-1.1-5.7l1.1,5.7l-3.1-4.9M427,432l9,19.6m-1.6-6.4l1.6,6.4l-3.8-5.4M447,432l5.7,11m-1.1-3.6l1.1,3.6l-2.3-3M466,432l14.6,25.2m-2.9-8.4l2.9,8.4l-5.8-6.7M486,432l20.2,29.1m-4.4-9.9l4.4,9.9l-7.7-7.6M505,432l33.1,31.7m-8.1-11.4l8.1,11.4l-11.7-7.6M524,432l26.2,3.5m-7.6-2.5l7.6,2.5l-8,.4M544,432l13.5-28.9m-5.7,7.9l5.7-7.9l-2.4,9.5M563,432l.4-26m-1.6,7.8l1.6-7.8l1.4,7.8M583,432l-3.4-17m0,5.3l0-5.3l2,4.9M602,432l-4.5-10.5m.8,3.4l-.8-3.4l2,2.9M621,432l-4.8-5.2m1.1,1.8l-1.1-1.8l1.7,1.3M641,432l-4.5-.3m1.3,.4l-1.3-.4l1.4-.2M660,432l-4,4.3m1.4-1.1l-1.4,1.1l.9-1.5M680,432l-3.2,8.9m1.5-2.5l-1.5,2.5l.5-2.8M699,432l-2.4,13.8m1.5-4l-1.5,4l-.1-4.3M718,432l-2,19.7m1.7-5.8l-1.7,5.8l-.5-6M738,432l-3.6,21.4m2.3-6.2l-2.3,6.2l-.2-6.6M757,432l-6.4,10.9m2.5-2.9l-2.5,2.9l1.3-3.6M776,432l-9.2-.3m2.7,.6l-2.7-.6l2.8-.4M796,432l-12-11.8m2.9,4.2l-2.9-4.2l4.3,2.9M815,432l-14.6-23.1m3.1,7.8l-3.1-7.8l5.7,6.1M835,432l-8.9-21.1m1.5,6.8l-1.5-6.8l3.9,5.8M137,452l.9,.9M156,452l.4,1.5M175,452l-.1,2M195,452l-.5,2.6M214,452l-.8,3.3m.4-.9l-.4,.9l.1-1M234,452l-1,3.9m.5-1.1l-.5,1.1l.1-1.2M253,452l-2,8.9m1.1-2.6l-1.1,2.6l.1-2.8M272,452l-.9,5m.5-1.5l-.5,1.5l0-1.6M292,452l-.5,5.5m.5-1.6l-.5,1.6l-.2-1.7M311,452l0,6m.3-1.8l-.3,1.8l-.3-1.8M330,452l1.3,12.9m.4-3.9l-.4,3.9l-1.1-3.8M350,452l2.8,13.7m-.1-4.3l.1,4.3l-1.6-3.9M369,452l4.6,14.5m-.6-4.6l.6,4.6l-2.2-4.1M389,452l6.7,15.4m-1.1-5l1.1,5l-2.9-4.2M408,452l9,16.4m-1.8-5.4l1.8,5.4l-3.6-4.4M427,452l11.6,17.5m-2.5-5.9l2.5,5.9l-4.5-4.6M447,452l14.9,18.6m-3.4-6.4l3.4,6.4l-5.5-4.7M466,452l19.2,19.5m-4.7-6.9l4.7,6.9l-6.9-4.8M486,452l25.4,18.8m-6.5-7.1l6.5,7.1l-8.7-4.2M505,452l33.5,12.8m-9.3-5.7l9.3,5.7l-10.8-1.9M524,452l37-3.6m-11.3-1l11.3,1l-10.9,3.2M544,452l25.6-18.5m-8.7,4.1l8.7-4.1l-6.6,7M563,452l12.9-19.8m-5,5.2l5-5.2l-2.7,6.7M583,452l6-15.7m-2.7,4.4l2.7-4.4l-.9,5.1M602,452l2.6-10.9m-1.4,3.1l1.4-3.1l-.2,3.4M621,452l1.2-6.3m-.7,1.8l.7-1.8l0,1.9M641,452l.8-1.8M660,452l1.4,2.6M680,452l2.6,7m-.4-2.3l.4,2.3l-1.2-2M699,452l4.8,11.7m-.8-3.8l.8,3.8l-2.1-3.2M718,452l8.1,17.1m-1.5-5.6l1.5,5.6l-3.4-4.7M738,452l9.9,16.7m-2-5.6l2,5.6l-3.9-4.4M757,452l7.1,6.3m-1.8-2.3l1.8,2.3l-2.5-1.5M776,452l4.1-4.8m-1.5,1.2l1.5-1.2l-1,1.7M796,452l1.1-16.1m-1.2,4.8l1.2-4.8l.6,4.9M815,452l-1.9-27.2m-1,8.3l1-8.3l2.1,8.1M835,452l-1.4-24.1m-.9,7.3l.9-7.3l1.8,7.1M137,470l1.2,.4M156,470l1.2,.4M175,470l-.3,1.4M195,470l-.7,2M214,470l-1,2.7M234,470l-2.3,6.6m1.1-1.8l-1.1,1.8l.3-2.1M253,470l-2.2,7.8m1.1-2.2l-1.1,2.2l.2-2.5M272,470l-1.8,9m1-2.6l-1,2.6l0-2.8M292,470l-1,10.1m.9-3l-.9,3l-.3-3.1M311,470l.2,11.1m.6-3.3l-.6,3.3l-.7-3.3M330,470l1.7,11.9m.2-3.7l-.2,3.7l-1.2-3.5M350,470l3.4,12.7m-.3-4l.3,4l-1.8-3.6M369,470l5.5,13.4m-.9-4.3l.9,4.3l-2.4-3.7M389,470l7.8,14.1m-1.5-4.7l1.5,4.7l-3.1-3.8M408,470l10.4,14.6m-2.3-5l2.3,5l-3.9-3.8M427,470l13.3,15m-3.1-5.3l3.1,5.3l-4.8-3.7M447,470l16.7,15.1m-4.2-5.5l4.2,5.5l-5.9-3.6M466,470l20.8,14.4m-5.4-5.5l5.4,5.5l-7.1-3.1M486,470l25.4,11.9m-7-5l7,5l-8.3-2.1M505,470l29.4,5.9m-8.5-3.4l8.5,3.4l-9.2-.1M524,470l29.8-3.4m-9.1-.7l9.1,.7l-8.7,2.7M544,470l24.5-11.4m-8,2l8-2l-6.7,4.8M563,470l17.2-14.4m-6,3.3l6-3.3l-4.3,5.3M583,470l11.4-13.3m-4.2,3.3l4.2-3.3l-2.7,4.6M602,470l7.8-10.4m-2.9,2.7l2.9-2.7l-1.7,3.6M621,470l5.9-6.8m-2.2,1.7l2.2-1.7l-1.4,2.4M641,470l5.3-3.1m-1.8,.6l1.8-.6l-1.4,1.2M660,470l5.8,.7m-1.7-.5l1.7,.5l-1.8,.1M680,470l7.4,4.4m-2-1.8l2,1.8l-2.5-.9M699,470l10.2,8m-2.6-3l2.6,3l-3.5-1.8M718,470l14.9,11.2m-3.8-4.2l3.8,4.2l-5.1-2.5M738,470l22,12m-5.9-4.9l5.9,4.9l-7.3-2.4M757,470l19.2,1.8m-5.7-1.6l5.7,1.6l-5.9,.6M776,470l16.1-9.1m-5.4,1.8l5.4-1.8l-4.3,3.6M796,470l12.9-20.1m-5,5.3l5-5.3l-2.7,6.8M815,470l9.1-28.1m-4.3,7.9l4.3-7.9l-1.1,8.9M835,470l5.6-23.6m-3,6.8l3-6.8l-.3,7.4M137,490l1.2,.4M156,490l1.2,.4M175,490l1.2,.4M195,490l-.8,1.2M214,490l-2.1,3.7m.8-1l-.8,1l.4-1.2M234,490l-2.3,5m1-1.4l-1,1.4l.4-1.6M253,490l-2.1,6.2m1-1.7l-1,1.7l.3-2M272,490l-.8,3.7m.4-1.1l-.4,1.1l0-1.2M292,490l-.3,4.3m.3-1.3l-.3,1.3l-.2-1.3M311,490l.7,9.6m.3-2.9l-.3,2.9l-.8-2.8M330,490l2.4,10.5m-.1-3.3l.1,3.3l-1.3-3M350,490l4.3,11.2m-.7-3.6l.7,3.6l-1.9-3.1M369,490l6.5,11.8m-1.3-3.9l1.3,3.9l-2.6-3.2M389,490l9,12.1m-2-4.2l2,4.2l-3.4-3.1M408,490l11.7,12.3m-2.8-4.4l2.8,4.4l-4.2-3M427,490l14.6,12.1m-3.7-4.5l3.7,4.5l-5.1-2.8M447,490l17.8,11.4m-4.7-4.4l4.7,4.4l-6-2.4M466,490l21.2,9.9m-5.8-4.2l5.8,4.2l-6.9-1.8M486,490l24.3,7.1m-6.9-3.5l6.9,3.5l-7.7-.7M505,490l26.4,2.4m-7.8-2.2l7.8,2.2l-8,.8M524,490l26.1-3.4m-8-.5l8,.5l-7.6,2.5M544,490l23.3-8.3m-7.5,1.2l7.5-1.2l-6.5,3.8M563,490l19-11m-6.3,2.2l6.3-2.2l-5.1,4.4M583,490l15-11.2m-5.1,2.5l5.1-2.5l-3.8,4.2M602,490l11.9-9.7m-4.1,2.2l4.1-2.2l-3,3.6M621,490l10.1-7.4m-3.5,1.6l3.5-1.6l-2.6,2.8M641,490l9.5-4.6m-3.1,.8l3.1-.8l-2.6,1.9M660,490l9.9-1.7m-3.1-.1l3.1,.1l-2.9,1.1M680,490l11.5,1m-3.4-1l3.4,1l-3.5,.3M699,490l14.2,3.3m-4.1-1.8l4.1,1.8l-4.5-.2M718,490l18.4,4.4m-5.3-2.4l5.3,2.4l-5.8-.3M738,490l24,3m-7-2.3l7,2.3l-7.4,.5M757,490l29.3-3.3m-9-.7l9,.7l-8.6,2.7M776,490l28.8-13.8m-9.4,2.5l9.4-2.5l-7.8,5.8M796,490l22.3-21.2m-7.9,5.1l7.9-5.1l-5.5,7.6M815,490l15.4-22.5m-5.9,5.9l5.9-5.9l-3.3,7.6M835,490l11-20.9m-4.5,5.7l4.5-5.7l-2.1,6.9M137,510l1.2,.4M156,510l1.2,.4M175,510l1.2,.4M195,510l1.2,.4M214,510l-.9,.9M234,510l-1.9,3m.7-.8l-.7,.8l.4-1M253,510l-1.5,4.3m.7-1.2l-.7,1.2l.2-1.4M272,510l-.4,2.7M292,510l.3,6.6m.3-2l-.3,2l-.5-2M311,510l1.7,7.7m-.1-2.4l.1,2.4l-1-2.2M330,510l3.5,8.5m-.6-2.8l.6,2.8l-1.5-2.4M350,510l5.6,9.2m-1.2-3.1l1.2,3.1l-2.2-2.4M369,510l7.9,9.7m-1.8-3.4l1.8,3.4l-2.9-2.4M389,510l10.5,9.9m-2.6-3.6l2.6,3.6l-3.7-2.4M408,510l13.2,9.7m-3.4-3.7l3.4,3.7l-4.5-2.2M427,510l16,9.2m-4.3-3.7l4.3,3.7l-5.3-1.8M447,510l18.8,8.1m-5.2-3.5l5.2,3.5l-6.1-1.4M466,510l10.7,3.2m-3-1.6l3,1.6l-3.4-.3M486,510l23.7,3.7m-6.9-2.5l6.9,2.5l-7.3,.2M505,510l24.9,.2m-7.5-1.5l7.5,1.5l-7.5,1.4M524,510l24.7-3.8m-7.6-.3l7.6,.3l-7.2,2.5M544,510l22.9-7.3m-7.3,.9l7.3-.9l-6.5,3.5M563,510l20.3-9.4m-6.6,1.7l6.6-1.7l-5.5,4M583,510l17.5-10.1m-5.8,2l5.8-2l-4.7,4M602,510l15.2-9.6m-5.1,2l5.1-2l-4,3.7M621,510l13.7-8.2m-4.6,1.7l4.6-1.7l-3.6,3.2M641,510l13.1-6.3m-4.3,1.2l4.3-1.2l-3.6,2.6M660,510l13.4-4.3m-4.3,.5l4.3-.5l-3.8,2.1M680,510l14.6-2.5m-4.5-.1l4.5,.1l-4.2,1.6M699,510l16.8-1.2m-5.1-.6l5.1,.6l-5,1.3M718,510l19.8-1.1m-6-.8l6,.8l-5.9,1.4M738,510l23.1-2.8m-7.1-.5l7.1,.5l-6.8,2.1M757,510l25.3-6.8m-8,.6l8-.6l-7.2,3.5M776,510l25-12.1m-8.2,2.2l8.2-2.2l-6.8,5.1M796,510l21.8-16.3m-7.5,3.7l7.5-3.7l-5.6,6.1M815,510l17.7-18.1m-6.3,4.4l6.3-4.4l-4.3,6.4M835,510l14.2-18.1m-5.3,4.6l5.3-4.6l-3.2,6.2M137,528l.5-1.5M156,528l.1-1.3M175,528l1.2,.4M195,528l1.2,.4M214,528l1.2,.4M234,528l-.9,1M253,528l-.4,2.2M272,528l.5,3.4m.1-1l-.1,1l-.3-1M292,528l1.7,4.5m-.3-1.4l.3,1.4l-.8-1.2M311,528l3.3,5.5m-.7-1.8l.7,1.8l-1.3-1.5M330,528l5.2,6.4m-1.2-2.2l1.2,2.2l-1.9-1.6M350,528l7.4,7m-1.8-2.5l1.8,2.5l-2.6-1.7M369,528l9.8,7.4m-2.5-2.8l2.5,2.8l-3.4-1.7M389,528l12.3,7.5m-3.3-3l3.3,3l-4.1-1.5M408,528l15,7.2m-4.1-3l4.1,3l-4.9-1.3M427,528l17.6,6.5m-4.9-3l4.9,3l-5.6-1M447,528l10,2.7m-2.9-1.4l2.9,1.4l-3.2-.2M466,528l11.1,1.8m-3.2-1.2l3.2,1.2l-3.4,.1M486,528l24,1.3m-7.1-1.8l7.1,1.8l-7.3,1M505,528l25-1.4m-7.6-1l7.6,1l-7.4,1.9M524,528l24.7-4.5m-7.7,0l7.7,0l-7.2,2.8M544,528l23.5-7.3m-7.5,.8l7.5-.8l-6.6,3.5M563,528l21.7-9.2m-7,1.5l7-1.5l-6,4M583,528l19.7-10.1m-6.5,1.9l6.5-1.9l-5.3,4.1M602,528l17.9-10m-5.9,2l5.9-2l-4.8,4M621,528l16.6-9.3m-5.5,1.8l5.5-1.8l-4.4,3.7M641,528l16-8.1m-5.3,1.5l5.3-1.5l-4.3,3.3M660,528l16.1-6.8m-5.2,1.1l5.2-1.1l-4.5,3M680,528l17-5.6m-5.4,.7l5.4-.7l-4.8,2.6M699,528l18.5-4.8m-5.8,.4l5.8-.4l-5.3,2.5M718,528l20.5-4.9m-6.4,.3l6.4-.3l-5.9,2.6M738,528l22.4-6.2m-7.1,.6l7.1-.6l-6.4,3.1M757,528l23.5-8.7m-7.5,1.3l7.5-1.3l-6.5,3.9M776,528l23.1-11.7m-7.6,2.2l7.6-2.2l-6.3,4.8M796,528l21.2-14.3m-7.2,3.1l7.2-3.1l-5.5,5.5M815,528l18.5-15.7m-6.4,3.7l6.4-3.7l-4.7,5.8M835,528l15.7-16m-5.6,3.9l5.6-3.9l-3.8,5.7M137,547l.8-2.1M156,547l.5-2M175,547l.3-1.8M195,547l.2-1.5M214,547l1.2,.4M234,547l1.2,.4M253,547l1.4-.1M272,547l2.4,1M292,547l3.8,2.1m-1-.8l1,.8l-1.3-.4M311,547l5.6,3.1m-1.5-1.2l1.5,1.2l-1.9-.6M330,547l7.6,3.9m-2.1-1.6l2.1,1.6l-2.5-.7M350,547l9.9,4.5m-2.7-1.9l2.7,1.9l-3.2-.8M369,547l12.3,4.9m-3.4-2.2l3.4,2.2l-4-.8M389,547l14.8,5m-4.2-2.3l4.2,2.3l-4.7-.6M408,547l17.3,4.7m-4.9-2.4l4.9,2.4l-5.5-.4M427,547l19.7,4m-5.7-2.3l5.7,2.3l-6.1-.1M447,547l11,1.4m-3.2-1l3.2,1l-3.4,.2M466,547l11.9,.6m-3.5-.9l3.5,.9l-3.6,.5M486,547l25.1-.8m-7.6-1.2l7.6,1.2l-7.5,1.7M505,547l25.8-3.1m-7.9-.5l7.9,.5l-7.6,2.4M524,547l25.7-5.5m-8,.2l8-.2l-7.4,3.1M544,547l24.8-7.8m-7.9,.9l7.9-.9l-7,3.7M563,547l23.4-9.5m-7.6,1.5l7.6-1.5l-6.5,4.2M583,547l21.8-10.5m-7.1,1.9l7.1-1.9l-5.9,4.4M602,547l20.3-10.8m-6.7,2.1l6.7-2.1l-5.5,4.4M621,547l19.2-10.5m-6.3,2.1l6.3-2.1l-5.1,4.2M641,547l18.5-9.9m-6.1,1.9l6.1-1.9l-5,4M660,547l18.4-9m-6,1.7l6-1.7l-5,3.8M680,547l18.9-8.3m-6.1,1.4l6.1-1.4l-5.2,3.6M699,547l19.8-7.8m-6.4,1.2l6.4-1.2l-5.5,3.5M718,547l20.9-7.9m-6.7,1.2l6.7-1.2l-5.8,3.6M738,547l22-8.7m-7.1,1.4l7.1-1.4l-6.1,3.9M757,547l22.4-10.1m-7.3,1.8l7.3-1.8l-6.2,4.3M776,547l22-11.8m-7.3,2.3l7.3-2.3l-5.9,4.8M796,547l20.7-13.3m-7,2.8l7-2.8l-5.4,5.2M815,547l18.7-14.2m-6.4,3.2l6.4-3.2l-4.8,5.3M835,547l16.5-14.5m-5.8,3.4l5.8-3.4l-4.1,5.3M137,567l1.4-2.7M156,567l1.2-2.7M175,567l1.1-2.6M195,567l1.1-2.4M214,567l1.2-2.1M234,567l1.5-1.8M253,567l2-1.3M272,567l5.2-1.7m-1.7,.2l1.7-.2l-1.5,.8M292,567l6.8-.7m-2.1-.2l2.1,.2l-2,.6M311,567l8.7,.2m-2.6-.6l2.6,.6l-2.6,.4M330,567l10.9,1m-3.2-.9l3.2,.9l-3.3,.3M350,567l13.2,1.7m-3.9-1.3l3.9,1.3l-4,.2M369,567l15.6,2.1m-4.6-1.5l4.6,1.5l-4.8,.3M389,567l18,2.2m-5.3-1.7l5.3,1.7l-5.5,.4M408,567l20.3,1.9m-6-1.7l6,1.7l-6.2,.6M427,567l22.5,1.3m-6.7-1.7l6.7,1.7l-6.8,.9M447,567l12.2,.1m-3.6-.7l3.6,.7l-3.7,.6M466,567l12.9-.5m-3.9-.6l3.9,.6l-3.8,.9M486,567l26.9-2.8m-8.2-.7l8.2,.7l-7.9,2.4M505,567l27.3-4.7m-8.5-.2l8.5,.2l-7.9,3M524,567l27.2-6.5m-8.5,.4l8.5-.4l-7.8,3.5M544,567l26.4-8.3m-8.4,1l8.4-1l-7.5,4M563,567l25.2-9.9m-8.1,1.5l8.1-1.5l-7,4.4M583,567l23.8-10.9m-7.7,1.9l7.7-1.9l-6.5,4.6M602,567l22.4-11.5m-7.4,2.2l7.4-2.2l-6.1,4.7M621,567l21.2-11.6m-7,2.3l7-2.3l-5.7,4.7M641,567l20.4-11.3m-6.8,2.2l6.8-2.2l-5.5,4.6M660,567l20-10.9m-6.6,2.1l6.6-2.1l-5.4,4.4M680,567l20-10.4m-6.6,2l6.6-2l-5.4,4.3M699,567l20.4-10.1m-6.7,1.9l6.7-1.9l-5.5,4.2M718,567l20.9-10.1m-6.8,1.9l6.8-1.9l-5.7,4.2M738,567l21.2-10.5m-7,1.9l7-1.9l-5.8,4.4M757,567l21.3-11.2m-7,2.1l7-2.1l-5.8,4.6M776,567l20.8-12m-6.9,2.4l6.9-2.4l-5.6,4.8M796,567l19.8-12.7m-6.7,2.7l6.7-2.7l-5.2,4.9M815,567l18.3-13.1m-6.2,2.9l6.2-2.9l-4.7,5M835,567l16.4-13.1m-5.7,3l5.7-3l-4.2,4.9M137,585l1.9-3.1m-.8,.8l.8-.8l-.4,1M156,585l1.9-3.2m-.7,.9l.7-.9l-.4,1.1M175,585l1.9-3.3m-.8,.9l.8-.9l-.4,1.1M195,585l2-3.2m-.8,.8l.8-.8l-.4,1.1M214,585l2.3-3m-.8,.8l.8-.8l-.5,1M234,585l2.7-2.8m-1,.7l1-.7l-.6,1M253,585l3.2-2.4m-1.1,.5l1.1-.5l-.8,.9M272,585l7.9-4m-2.6,.7l2.6-.7l-2.1,1.6M292,585l9.6-3.1m-3.1,.4l3.1-.4l-2.7,1.5M311,585l11.7-2.2m-3.6,0l3.6,0l-3.4,1.3M330,585l13.9-1.4m-4.2-.4l4.2,.4l-4.1,1.2M350,585l16.2-.8m-4.9-.7l4.9,.7l-4.8,1.2M369,585l18.5-.3m-5.6-1l5.6,1l-5.5,1.2M389,585l20.8-.2m-6.3-1.1l6.3,1.1l-6.2,1.2M408,585l23-.3m-6.9-1.2l6.9,1.2l-6.9,1.4M427,585l24.9-.7m-7.5-1.2l7.5,1.2l-7.4,1.6M447,585l26.5-1.5m-8-1l8,1l-7.9,2M466,585l27.6-2.7m-8.4-.8l8.4,.8l-8.1,2.4M486,585l14.1-2m-4.4-.2l4.4,.2l-4.1,1.4M505,585l28.5-5.6m-8.9,.1l8.9-.1l-8.2,3.3M524,585l28.1-7.2m-8.8,.6l8.8-.6l-8,3.8M544,585l27.4-8.7m-8.7,1l8.7-1l-7.7,4.2M563,585l26.2-10m-8.4,1.5l8.4-1.5l-7.3,4.5M583,585l24.7-11m-8,1.9l8-1.9l-6.8,4.7M602,585l23.3-11.7m-7.7,2.2l7.7-2.2l-6.3,4.8M621,585l22-12m-7.3,2.3l7.3-2.3l-5.9,4.8M641,585l21-12m-7,2.4l7-2.4l-5.6,4.8M660,585l20.3-11.8m-6.8,2.4l6.8-2.4l-5.4,4.7M680,585l20-11.5m-6.6,2.3l6.6-2.3l-5.3,4.6M699,585l19.9-11.3m-6.6,2.3l6.6-2.3l-5.3,4.5M718,585l19.9-11.2m-6.6,2.2l6.6-2.2l-5.3,4.5M738,585l19.9-11.3m-6.6,2.3l6.6-2.3l-5.3,4.5M757,585l19.7-11.5m-6.6,2.3l6.6-2.3l-5.3,4.6M776,585l19.2-11.8m-6.4,2.4l6.4-2.4l-5.1,4.6M796,585l18.3-12m-6.2,2.6l6.2-2.6l-4.8,4.6M815,585l17-12m-5.8,2.6l5.8-2.6l-4.4,4.6M835,585l15.3-11.6m-5.3,2.6l5.3-2.6l-3.9,4.4M137,604l4.8-6.6m-1.8,1.7l1.8-1.7l-1.1,2.2M156,604l2.5-3.5m-.9,.9l.9-.9l-.5,1.2M175,604l2.6-3.7m-1,1l1-1l-.6,1.3M195,604l2.8-3.7m-1,1l1-1l-.6,1.3M214,604l3.1-3.7m-1.1,.9l1.1-.9l-.7,1.3M234,604l3.6-3.5m-1.3,.8l1.3-.8l-.9,1.3M253,604l4.3-3.2m-1.5,.7l1.5-.7l-1.1,1.2M272,604l10.1-5.8m-3.4,1.2l3.4-1.2l-2.7,2.3M292,604l11.9-5m-3.9,.8l3.9-.8l-3.3,2.2M311,604l14-4.2m-4.4,.5l4.4-.5l-4,2.1M330,604l16.2-3.5m-5.1,.1l5.1-.1l-4.7,2M350,604l18.5-2.8m-5.7-.2l5.7,.2l-5.4,1.9M369,604l20.8-2.3m-6.4-.5l6.4,.5l-6.1,1.9M389,604l22.9-2m-7-.7l7,.7l-6.8,1.9M408,604l24.9-1.9m-7.6-.8l7.6,.8l-7.4,2M427,604l26.5-2.2m-8.1-.9l8.1,.9l-7.8,2.2M447,604l27.8-2.8m-8.5-.8l8.5,.8l-8.2,2.4M466,604l28.6-3.6m-8.8-.6l8.8,.6l-8.4,2.7M486,604l29-4.7m-9-.2l9,.2l-8.4,3.1M505,604l28.9-5.9m-9,.1l9-.1l-8.3,3.4M524,604l28.3-7.2m-8.9,.6l8.9-.6l-8.1,3.8M544,604l27.3-8.5m-8.7,1l8.7-1l-7.7,4.1M563,604l26.1-9.6m-8.4,1.4l8.4-1.4l-7.3,4.4M583,604l24.7-10.5m-8,1.7l8-1.7l-6.8,4.6M602,604l23.1-11.3m-7.6,2.1l7.6-2.1l-6.3,4.7M621,604l21.7-11.7m-7.2,2.3l7.2-2.3l-5.8,4.7M641,604l20.5-11.9m-6.8,2.4l6.8-2.4l-5.5,4.7M660,604l19.5-11.9m-6.5,2.5l6.5-2.5l-5.2,4.7M680,604l18.9-11.8m-6.3,2.5l6.3-2.5l-5,4.6M699,604l18.4-11.6m-6.2,2.4l6.2-2.4l-4.9,4.5M718,604l18.2-11.5m-6.1,2.4l6.1-2.4l-4.8,4.5M738,604l17.9-11.4m-6,2.4l6-2.4l-4.7,4.4M757,604l17.6-11.3m-5.9,2.4l5.9-2.4l-4.6,4.4M776,604l17.1-11.3m-5.8,2.4l5.8-2.4l-4.5,4.3M796,604l16.2-11m-5.5,2.4l5.5-2.4l-4.2,4.2M815,604l15-10.6m-5.1,2.3l5.1-2.3l-3.9,4M835,604l13.7-10.2m-4.7,2.3l4.7-2.3l-3.5,3.8M137,622l5.3-6.4m-2,1.6l2-1.6l-1.2,2.2M156,622l5.5-7.1m-2.1,1.8l2.1-1.8l-1.3,2.4M175,622l2.9-3.8m-1.1,1l1.1-1l-.7,1.3M195,622l3.2-4m-1.2,1l1.2-1l-.7,1.4M214,622l3.6-4m-1.3,1l1.3-1l-.9,1.4M234,622l4.1-3.9m-1.5,.9l1.5-.9l-1,1.4M253,622l4.8-3.7m-1.7,.8l1.7-.8l-1.2,1.4M272,622l11.2-7m-3.8,1.4l3.8-1.4l-3,2.7M292,622l13.1-6.3m-4.3,1.1l4.3-1.1l-3.6,2.6M311,622l15.2-5.6m-4.9,.8l4.9-.8l-4.2,2.5M330,622l17.3-4.8m-5.5,.5l5.5-.5l-4.9,2.4M350,622l19.5-4.1m-6.1,.1l6.1-.1l-5.6,2.3M369,622l21.7-3.5m-6.7-.2l6.7,.2l-6.3,2.3M389,622l23.7-3.1m-7.3-.4l7.3,.4l-6.9,2.3M408,622l25.4-2.9m-7.8-.6l7.8,.6l-7.5,2.3M427,622l26.9-2.9m-8.2-.7l8.2,.7l-7.9,2.4M447,622l27.9-3.2m-8.5-.6l8.5,.6l-8.2,2.6M466,622l28.4-3.8m-8.8-.5l8.8,.5l-8.3,2.8M486,622l14.3-2.3m-4.4-.1l4.4,.1l-4.1,1.5M505,622l28.2-5.6m-8.8,.1l8.8-.1l-8.1,3.3M524,622l13.7-3.3m-4.3,.2l4.3-.2l-3.9,1.8M544,622l26.2-7.7m-8.3,.8l8.3-.8l-7.4,3.8M563,622l24.8-8.7m-8,1.2l8-1.2l-7,4M583,622l23.3-9.6m-7.5,1.6l7.5-1.6l-6.4,4.2M602,622l21.8-10.3m-7.1,1.9l7.1-1.9l-5.9,4.3M621,622l20.4-10.8m-6.7,2.1l6.7-2.1l-5.5,4.4M641,622l19-11.2m-6.3,2.3l6.3-2.3l-5.1,4.4M660,622l17.9-11.4m-6,2.4l6-2.4l-4.7,4.4M680,622l17-11.4m-5.7,2.4l5.7-2.4l-4.5,4.4M699,622l16.4-11.3m-5.6,2.5l5.6-2.5l-4.3,4.3M718,622l15.9-11.2m-5.4,2.4l5.4-2.4l-4.1,4.3M738,622l15.5-11m-5.3,2.4l5.3-2.4l-4,4.2M757,622l15-10.7m-5.1,2.3l5.1-2.3l-3.9,4.1M776,622l14.4-10.3m-4.9,2.3l4.9-2.3l-3.7,3.9M796,622l13.7-9.9m-4.7,2.2l4.7-2.2l-3.5,3.7M815,622l12.8-9.3m-4.4,2.1l4.4-2.1l-3.3,3.5M835,622l11.7-8.7m-4,2l4-2l-3,3.3M137,641l5.2-5.7m-1.9,1.4l1.9-1.4l-1.2,2M156,641l5.4-6.5m-2,1.6l2-1.6l-1.3,2.3M175,641l5.8-7.1m-2.1,1.8l2.1-1.8l-1.3,2.5M195,641l3.2-3.8m-1.2,1l1.2-1l-.7,1.3M214,641l3.5-3.9m-1.3,1l1.3-1l-.8,1.4M234,641l8.1-7.9m-2.9,1.9l2.9-1.9l-2,2.8M253,641l9.5-7.7m-3.3,1.8l3.3-1.8l-2.4,2.8M272,641l11.1-7.3m-3.7,1.6l3.7-1.6l-2.9,2.8M292,641l12.9-6.7m-4.2,1.3l4.2-1.3l-3.5,2.7M311,641l14.8-6m-4.8,1l4.8-1l-4.1,2.7M330,641l16.9-5.3m-5.4,.6l5.4-.6l-4.8,2.6M350,641l19-4.6m-6,.3l6-.3l-5.4,2.5M369,641l21-3.9m-6.5,0l6.5,0l-6.1,2.4M389,641l22.9-3.4m-7-.3l7,.3l-6.7,2.3M408,641l24.4-3m-7.5-.5l7.5,.5l-7.2,2.3M427,641l12.8-1.4m-3.9-.3l3.9,.3l-3.8,1.2M447,641l26.5-3m-8.1-.6l8.1,.6l-7.8,2.4M466,641l26.9-3.3m-8.2-.5l8.2,.5l-7.9,2.5M486,641l26.8-3.9m-8.3-.4l8.3,.4l-7.8,2.7M505,641l26.3-4.6m-8.1-.1l8.1,.1l-7.6,2.9M524,641l25.4-5.5m-7.9,.2l7.9-.2l-7.3,3.1M544,641l24.1-6.4m-7.6,.6l7.6-.6l-6.9,3.3M563,641l22.6-7.3m-7.2,.9l7.2-.9l-6.4,3.5M583,641l21.1-8.2m-6.8,1.3l6.8-1.3l-5.8,3.7M602,641l19.5-9m-6.3,1.6l6.3-1.6l-5.3,3.8M621,641l17.9-9.6m-5.9,1.8l5.9-1.8l-4.8,3.9M641,641l16.6-10m-5.5,2.1l5.5-2.1l-4.4,4M660,641l15.4-10.3m-5.2,2.2l5.2-2.2l-4,4M680,641l14.5-10.5m-4.9,2.3l4.9-2.3l-3.8,4M699,641l13.8-10.5m-4.7,2.4l4.7-2.4l-3.5,3.9M718,641l13.2-10.4m-4.6,2.4l4.6-2.4l-3.4,3.9M738,641l12.8-10.1m-4.4,2.3l4.4-2.3l-3.2,3.8M757,641l12.3-9.8m-4.3,2.2l4.3-2.2l-3.1,3.6M776,641l11.9-9.3m-4.1,2.1l4.1-2.1l-3,3.5M796,641l11.3-8.8m-3.9,2l3.9-2l-2.9,3.3M815,641l10.6-8.1m-3.7,1.8l3.7-1.8l-2.7,3M835,641l9.8-7.4m-3.4,1.7l3.4-1.7l-2.5,2.8M137,659l4.5-4.5m-1.6,1.1l1.6-1.1l-1.1,1.6M156,659l4.6-5.3m-1.7,1.3l1.7-1.3l-1.1,1.9M175,659l4.9-6.1m-1.8,1.5l1.8-1.5l-1.1,2.1M195,659l5.4-6.6m-2,1.7l2-1.7l-1.2,2.3M214,659l6.1-7m-2.2,1.8l2.2-1.8l-1.4,2.5M234,659l7-7.2m-2.5,1.8l2.5-1.8l-1.7,2.6M253,659l8.2-7.1m-2.9,1.7l2.9-1.7l-2.1,2.6M272,659l9.7-6.8m-3.3,1.5l3.3-1.5l-2.5,2.6M292,659l11.4-6.4m-3.8,1.3l3.8-1.3l-3,2.6M311,659l13.2-5.8m-4.3,1l4.3-1l-3.6,2.5M330,659l15.1-5.1m-4.8,.7l4.8-.7l-4.3,2.4M350,659l17.1-4.3m-5.4,.3l5.4-.3l-4.9,2.3M369,659l18.9-3.6m-5.9,0l5.9,0l-5.5,2.2M389,659l20.6-3m-6.4-.3l6.4,.3l-6,2.1M408,659l11-1.3m-3.4-.3l3.4,.3l-3.2,1M427,659l23.1-2.2m-7.1-.7l7.1,.7l-6.8,2M447,659l23.8-2.1m-7.3-.7l7.3,.7l-7,2M466,659l24.1-2.3m-7.4-.7l7.4,.7l-7.1,2.1M486,659l23.9-2.6m-7.3-.6l7.3,.6l-7,2.2M505,659l23.4-3.2m-7.2-.4l7.2,.4l-6.8,2.3M524,659l22.4-3.9m-6.9-.1l6.9,.1l-6.5,2.4M544,659l21.2-4.7m-6.6,.2l6.6-.2l-6.1,2.6M563,659l19.7-5.6m-6.2,.5l6.2-.5l-5.6,2.8M583,659l18.1-6.4m-5.8,.9l5.8-.9l-5.1,3M602,659l16.6-7.2m-5.4,1.2l5.4-1.2l-4.6,3.1M621,659l15.1-7.9m-5,1.5l5-1.5l-4.1,3.2M641,659l13.7-8.5m-4.6,1.8l4.6-1.8l-3.6,3.3M660,659l12.6-9m-4.3,2l4.3-2l-3.3,3.4M680,659l11.7-9.3m-4,2.1l4-2.1l-3,3.4M699,659l11-9.4m-3.8,2.2l3.8-2.2l-2.8,3.4M718,659l10.5-9.4m-3.7,2.2l3.7-2.2l-2.6,3.4M738,659l10.1-9.2m-3.6,2.2l3.6-2.2l-2.5,3.3M757,659l9.8-8.8m-3.4,2.1l3.4-2.1l-2.4,3.2M776,659l9.5-8.3m-3.3,2l3.3-2l-2.4,3M796,659l9.1-7.7m-3.2,1.8l3.2-1.8l-2.3,2.8M815,659l8.7-7m-3,1.6l3-1.6l-2.2,2.6M835,659l8.1-6.3m-2.8,1.4l2.8-1.4l-2.1,2.4M137,677l3.5-2.9m-1.2,.7l1.2-.7l-.9,1.1M156,677l3.5-3.8m-1.3,.9l1.3-.9l-.8,1.3M175,677l3.7-4.5m-1.4,1.2l1.4-1.2l-.8,1.6M195,677l4-5.2m-1.5,1.3l1.5-1.3l-.9,1.8M214,677l4.5-5.7m-1.7,1.4l1.7-1.4l-1,2M234,677l5.3-6m-1.9,1.5l1.9-1.5l-1.3,2.1M253,677l6.3-6m-2.2,1.4l2.2-1.4l-1.6,2.2M272,677l7.6-5.9m-2.6,1.3l2.6-1.3l-1.9,2.2M292,677l9.1-5.5m-3,1.1l3-1.1l-2.4,2.2M311,677l10.8-5m-3.5,.9l3.5-.9l-2.9,2.1M330,677l12.5-4.3m-4,.6l4-.6l-3.5,2M350,677l14.3-3.6m-4.5,.3l4.5-.3l-4.1,1.9M369,677l16-2.9m-5-.1l5,.1l-4.6,1.8M389,677l17.5-2.2m-5.4-.3l5.4,.3l-5.1,1.7M408,677l18.8-1.6m-5.7-.6l5.7,.6l-5.6,1.5M427,677l19.8-1.2m-6-.8l6,.8l-5.9,1.5M447,677l20.4-.9m-6.2-.9l6.2,.9l-6.1,1.4M466,677l20.6-.9m-6.2-.9l6.2,.9l-6.1,1.4M486,677l10.2-.5m-3.1-.4l3.1,.4l-3,.7M505,677l9.9-.7m-3-.3l3,.3l-2.9,.8M524,677l9.5-1m-2.9-.2l2.9,.2l-2.8,.8M544,677l8.9-1.4m-2.7-.1l2.7,.1l-2.6,.9M563,677l16.3-3.5m-5.1,.1l5.1-.1l-4.7,2M583,677l14.9-4.4m-4.7,.5l4.7-.5l-4.2,2.2M602,677l13.4-5.3m-4.3,.8l4.3-.8l-3.7,2.3M621,677l12-6.1m-3.9,1.1l3.9-1.1l-3.2,2.5M641,677l10.7-6.8m-3.6,1.4l3.6-1.4l-2.8,2.6M660,677l9.7-7.4m-3.3,1.7l3.3-1.7l-2.5,2.8M680,677l8.9-7.8m-3.1,1.8l3.1-1.8l-2.2,2.8M699,677l8.3-8.1m-2.9,2l2.9-2l-2,2.9M718,677l7.9-8.2m-2.8,2l2.8-2l-1.9,2.9M738,677l7.6-8.1m-2.7,2l2.7-2l-1.8,2.9M757,677l7.5-7.8m-2.7,1.9l2.7-1.9l-1.8,2.8M776,677l7.4-7.3m-2.6,1.8l2.6-1.8l-1.8,2.6M796,677l7.2-6.8m-2.5,1.6l2.5-1.6l-1.8,2.4M815,677l7-6.1m-2.4,1.4l2.4-1.4l-1.7,2.2M835,677l6.6-5.3m-2.3,1.2l2.3-1.2l-1.7,2M137,696l2.6-1.2M156,696l2.5-2M175,696l2.4-2.8m-.9,.7l.9-.7l-.6,1M195,696l2.6-3.5m-1,.9l1-.9l-.6,1.2M214,696l2.9-4.1m-1.1,1.1l1.1-1.1l-.6,1.4M234,696l3.5-4.5m-1.3,1.1l1.3-1.1l-.8,1.5M253,696l4.3-4.6m-1.6,1.1l1.6-1.1l-1,1.6M272,696l5.4-4.6m-1.9,1.1l1.9-1.1l-1.4,1.7M292,696l6.7-4.4m-2.3,.9l2.3-.9l-1.8,1.7M311,696l8.2-3.9m-2.7,.7l2.7-.7l-2.2,1.6M330,696l9.7-3.4m-3.1,.5l3.1-.5l-2.7,1.6M350,696l11.3-2.7m-3.6,.2l3.6-.2l-3.3,1.4M369,696l12.9-1.9m-4-.2l4,.2l-3.8,1.3M389,696l7.1-.6m-2.2-.2l2.2,.2l-2.1,.6M408,696l15.5-.5m-4.7-.7l4.7,.7l-4.6,1M427,696l16.3,0m-4.9-.9l4.9,.9l-4.9,.9M447,696l16.9,.4m-5-1.1l5,1.1l-5.1,.8M466,696l17,.6m-5.1-1.1l5.1,1.1l-5.1,.8M486,696l16.8,.5m-5-1.1l5,1.1l-5.1,.8M505,696l16.3,.3m-4.9-1l4.9,1l-4.9,.8M524,696l7.7-.1m-2.3-.4l2.3,.4l-2.3,.5M544,696l7.1-.4m-2.2-.3l2.2,.3l-2.1,.5M563,696l13-1.5m-4-.3l4,.3l-3.8,1.2M583,696l11.6-2.3m-3.6,0l3.6,0l-3.3,1.4M602,696l10.2-3.2m-3.2,.4l3.2-.4l-2.9,1.5M621,696l8.9-4.1m-2.9,.7l2.9-.7l-2.5,1.7M641,696l7.8-4.9m-2.6,1l2.6-1l-2.1,1.9M660,696l6.9-5.6m-2.4,1.3l2.4-1.3l-1.7,2.1M680,696l6.2-6.2m-2.2,1.5l2.2-1.5l-1.5,2.2M699,696l5.7-6.6m-2.1,1.7l2.1-1.7l-1.3,2.3M718,696l5.5-6.8m-2,1.7l2-1.7l-1.3,2.4M738,696l5.4-6.9m-2,1.8l2-1.8l-1.2,2.4M757,696l5.4-6.7m-2,1.7l2-1.7l-1.2,2.3M776,696l5.5-6.3m-2,1.6l2-1.6l-1.3,2.2M796,696l5.5-5.8m-2,1.4l2-1.4l-1.3,2.1M815,696l5.5-5.1m-1.9,1.2l1.9-1.2l-1.4,1.8M835,696l5.3-4.3m-1.8,1l1.8-1l-1.4,1.6M137,714l1.2,.4M156,714l1.2,.4M175,714l1.5-1.1M195,714l1.5-1.8M214,714l1.6-2.4M234,714l2-2.9m-.8,.8l.8-.8l-.4,1M253,714l2.7-3.2m-1,.8l1-.8l-.6,1.1M272,714l3.6-3.3m-1.3,.8l1.3-.8l-.9,1.2M292,714l4.7-3.2m-1.6,.7l1.6-.7l-1.2,1.2M311,714l5.9-2.9m-1.9,.5l1.9-.5l-1.6,1.2M330,714l7.3-2.4m-2.3,.3l2.3-.3l-2.1,1.1M350,714l8.8-1.8m-2.7,0l2.7,0l-2.5,1M369,714l10.2-1.1m-3.1-.3l3.1,.3l-3,.9M389,714l5.7-.2m-1.7-.3l1.7,.3l-1.7,.4M408,714l6.2,.2m-1.9-.4l1.9,.4l-1.9,.3M427,714l13.3,1m-3.9-1.1l3.9,1.1l-4,.5M447,714l13.7,1.5m-4-1.2l4,1.2l-4.2,.3M466,714l13.8,1.8m-4-1.3l4,1.3l-4.3,.2M486,714l13.6,1.9m-4-1.4l4,1.4l-4.2,.2M505,714l13.1,1.9m-3.8-1.3l3.8,1.3l-4,.2M524,714l12.2,1.6m-3.6-1.2l3.6,1.2l-3.8,.2M544,714l11.1,1.1m-3.3-1l3.3,1l-3.4,.3M563,714l9.9,.4m-2.9-.7l2.9,.7l-3,.4M583,714l8.6-.3m-2.6-.4l2.6,.4l-2.6,.6M602,714l7.4-1.2m-2.3-.1l2.3,.1l-2.1,.8M621,714l6.2-2.1m-2,.3l2-.3l-1.7,1M641,714l5.2-3m-1.7,.6l1.7-.6l-1.4,1.2M660,714l4.4-3.8m-1.5,.9l1.5-.9l-1.1,1.4M680,714l3.8-4.5m-1.4,1.1l1.4-1.1l-.9,1.6M699,714l3.5-5.1m-1.3,1.3l1.3-1.3l-.8,1.7M718,714l3.4-5.5m-1.3,1.4l1.3-1.4l-.7,1.8M738,714l3.4-5.6m-1.3,1.5l1.3-1.5l-.7,1.9M757,714l3.6-5.6m-1.4,1.5l1.4-1.5l-.8,1.9M776,714l3.8-5.3m-1.5,1.4l1.5-1.4l-.8,1.8M796,714l4.1-4.9m-1.5,1.2l1.5-1.2l-.9,1.7M815,714l4.2-4.3m-1.5,1l1.5-1l-1,1.5M835,714l4.3-3.5m-1.5,.8l1.5-.8l-1.1,1.3M137,731l.8,1M156,731l1.2,.4M175,731l1.2,.4M195,731l1.2,.4M214,731l.9-1M234,731l1.1-1.6M253,731l1.6-2M272,731l2.3-2.2m-.8,.5l.8-.5l-.6,.8M292,731l3.3-2.2m-1.1,.5l1.1-.5l-.9,.9M311,731l4.4-2m-1.4,.4l1.4-.4l-1.2,.9M330,731l5.7-1.7m-1.8,.2l1.8-.2l-1.6,.8M350,731l3.5-.6m-1.1,0l1.1,0l-1,.4M369,731l4.1-.2m-1.2-.2l1.2,.2l-1.2,.3M389,731l4.7,.1m-1.4-.3l1.4,.3l-1.4,.2M408,731l5.1,.5m-1.5-.4l1.5,.4l-1.6,.2M427,731l11,1.6m-3.2-1.1l3.2,1.1l-3.4,.1M447,731l11.4,2.2m-3.3-1.3l3.3,1.3l-3.5,0M466,731l11.4,2.7m-3.3-1.4l3.3,1.4l-3.6-.1M486,731l11.2,2.9m-3.2-1.5l3.2,1.5l-3.5-.2M505,731l10.6,3m-3-1.5l3,1.5l-3.4-.3M524,731l9.8,2.8m-2.8-1.4l2.8,1.4l-3.1-.3M544,731l8.7,2.5m-2.5-1.2l2.5,1.2l-2.8-.2M563,731l7.6,2m-2.2-1l2.2,1l-2.4-.2M583,731l6.3,1.3m-1.8-.7l1.8,.7l-2,0M602,731l5.1,.4m-1.5-.4l1.5,.4l-1.6,.2M621,731l4.1-.5m-1.2-.1l1.2,.1l-1.2,.4M641,731l3.1-1.4m-1,.2l1-.2l-.9,.6M660,731l2.4-2.3m-.9,.5l.9-.5l-.6,.8M680,731l2-3.1m-.8,.8l.8-.8l-.4,1M699,731l1.7-3.7m-.7,1l.7-1l-.3,1.2M718,731l1.7-4.2m-.8,1.2l.8-1.2l-.3,1.4M738,731l1.9-4.5m-.8,1.2l.8-1.2l-.3,1.5M757,731l2.2-4.6m-.9,1.3l.9-1.3l-.4,1.5M776,731l2.6-4.5m-1,1.2l1-1.2l-.5,1.5M796,731l3-4.1m-1.1,1.1l1.1-1.1l-.7,1.4M815,731l3.3-3.6m-1.2,.9l1.2-.9l-.8,1.3M835,731l3.5-2.9m-1.2,.7l1.2-.7l-.9,1.1M137,748l.8,1.6M156,748l.6,1.3M175,748l.8,1.8M195,748l1.2,.4M214,748l1.2,.4M234,748l1.2,.4M253,748l.9-.9M272,748l1.5-1.2M292,748l2.3-1.3M311,748l3.3-1.3m-1.1,.2l1.1-.2l-.9,.6M330,748l4.4-1.1m-1.4,.1l1.4-.1l-1.3,.6M350,748l2.8-.3M369,748l3.3,0m-1-.2l1,.2l-1,.2M389,748l3.9,.3m-1.1-.3l1.1,.3l-1.2,.1M408,748l8.5,1.3m-2.5-.9l2.5,.9l-2.6,.1M427,748l9.2,2m-2.6-1.1l2.6,1.1l-2.9-.1M447,748l9.5,2.7m-2.7-1.3l2.7,1.3l-3-.3M466,748l9.5,3.2m-2.7-1.5l2.7,1.5l-3-.4M486,748l9.2,3.6m-2.5-1.6l2.5,1.6l-3-.6M505,748l8.6,3.8m-2.4-1.6l2.4,1.6l-2.8-.7M524,748l7.7,3.8m-2.1-1.6l2.1,1.6l-2.5-.7M544,748l6.7,3.6m-1.8-1.5l1.8,1.5l-2.2-.7M563,748l5.6,3.2m-1.5-1.3l1.5,1.3l-1.9-.6M583,748l4.4,2.6m-1.2-1l1.2,1l-1.5-.5M602,748l3.2,1.9m-.9-.8l.9,.8l-1.1-.4M621,748l2.2,1.1M641,748l1.4,.2M660,748l1.2,.4M680,748l.4-1.6M699,748l.2-2.4M718,748l.3-3M738,748l.6-3.4m-.4,1l.4-1l0,1.1M757,748l1.1-3.6m-.5,1l.5-1l-.1,1.1M776,748l1.6-3.6m-.7,1l.7-1l-.3,1.2M796,748l2.1-3.4m-.8,.9l.8-.9l-.5,1.1M815,748l2.6-2.9m-1,.7l1-.7l-.6,1M835,748l3-2.3m-1,.5l1-.5l-.8,.9" fill="none" stroke="#050505" stroke-width="1.55" stroke-linecap="round" stroke-linejoin="round"/>
<path d="M612.7,542.1 609.4,534.6 606.6,527.6 602.4,519.2 595.4,509.5 587.1,499.7 578.7,490 574.6,480.3 567.6,470.5 559.2,460.8 550.9,451 542.5,442.7 534.2,434.3 528.6,424.6 523,413.4 517.5,402.3 511.9,391.1 503.5,380 466.7,337.8 455.3,319.6 447.6,301.5 444.4,278.8 446.2,256.1 442.6,239.2 437.8,225.3 439.2,211.4 439.9,204.4 437.8,194.7 435.7,186.3 433.6,182.4 428,181.4" fill="none" stroke="#000" stroke-width="5.2" stroke-linejoin="round" stroke-linecap="butt"/>
<path d="M436.4,185.6 438.5,175.2 442.6,165.4 446.8,161.3 452.4,158.5 458,157.1 463.5,158.5 470.5,162.6 477.5,167.5 486.1,172.7" fill="none" stroke="#000" stroke-width="5.2" stroke-linejoin="round" stroke-linecap="butt"/>
<path d="M846.1,531.8 834.9,530.4 826.6,526.2 818.2,517.8 809.9,508.1 802.9,498.4 795.9,487.2 787.6,471.9 779.2,458 772.3,448.8 772,445.2 782,443.5 788.1,440.2 787.6,433.5 776.4,431.5 768.1,427.3 759.7,420.4 748.6,412 737.5,405.1 727.7,398.1 723.5,388.4 719.4,380 670.9,337.8 657.3,319.6 650.5,301.5 646,274.2 643.7,247 646,224.3 648.2,201.6" fill="none" stroke="#000" stroke-width="5.2" stroke-linejoin="round" stroke-linecap="butt"/>
<circle cx="428.3" cy="181.3" r="6" fill="#000"/>
<path d="M527.9,406.8 530.6,414.5 538.7,414.7 532.2,419.5 534.6,427.3 527.9,422.6 521.3,427.3 523.7,419.5 517.2,414.7 525.3,414.5Z" fill="#ff0d0d"/>
<path d="M774,434.1 776.6,441.7 784.7,441.9 778.3,446.8 780.6,454.5 774,449.9 767.4,454.5 769.7,446.8 763.3,441.9 771.4,441.7Z" fill="#ff0d0d"/>
</g>
<path d="M117,27.2V759.4H846.4" fill="none" stroke="#000" stroke-width="2.8"/>
<path d="M117,28.6H845.6" fill="none" stroke="#000" stroke-width="2"/>
<path d="M845.6,28.6V759.4" fill="none" stroke="#1a1a30" stroke-width="1.6"/>
<text class="ser" x="105.8" y="44.1" font-size="44.3" text-anchor="end">45°N</text>
<text class="ser" x="105.8" y="235.3" font-size="44.3" text-anchor="end">35°N</text>
<text class="ser" x="105.8" y="412.7" font-size="44.3" text-anchor="end">25°N</text>
<text class="ser" x="105.8" y="581.3" font-size="44.3" text-anchor="end">15°N</text>
<text class="ser" x="105.8" y="745.0" font-size="44.3" text-anchor="end">5°N</text>
<text class="ser" x="197.8" y="798.8" font-size="42.7" text-anchor="middle">105°E</text>
<text class="ser" x="359.7" y="798.8" font-size="42.7" text-anchor="middle">115°E</text>
<text class="ser" x="521.6" y="798.8" font-size="42.7" text-anchor="middle">125°E</text>
<text class="ser" x="683.5" y="798.8" font-size="42.7" text-anchor="middle">135°E</text>
<text class="ser" x="845.4" y="798.8" font-size="42.7" text-anchor="middle">145°E</text>
<rect x="868" y="27.6" width="46" height="731.2" fill="url(#cb)" stroke="#3a3a3a" stroke-width="1.2"/>
<text class="ser" x="926" y="775.3" font-size="43.8">0</text>
<path d="M905.5,667.2H914" stroke="#333" stroke-width="1.3"/>
<text class="ser" x="926" y="683.9" font-size="43.8">1</text>
<path d="M905.5,575.8H914" stroke="#333" stroke-width="1.3"/>
<text class="ser" x="926" y="592.5" font-size="43.8">2</text>
<path d="M905.5,484.4H914" stroke="#333" stroke-width="1.3"/>
<text class="ser" x="926" y="501.1" font-size="43.8">3</text>
<path d="M905.5,393.0H914" stroke="#333" stroke-width="1.3"/>
<text class="ser" x="926" y="409.7" font-size="43.8">4</text>
<path d="M905.5,301.6H914" stroke="#333" stroke-width="1.3"/>
<text class="ser" x="926" y="318.3" font-size="43.8">5</text>
<path d="M905.5,210.2H914" stroke="#333" stroke-width="1.3"/>
<text class="ser" x="926" y="226.9" font-size="43.8">6</text>
<path d="M905.5,118.8H914" stroke="#333" stroke-width="1.3"/>
<text class="ser" x="926" y="135.5" font-size="43.8">7</text>
<text class="ser" x="926" y="44.1" font-size="43.8">8</text>
<text class="ser" transform="translate(1024.6,419.3) rotate(-90)" font-size="51.4" text-anchor="middle">significant wave height(m)</text>
</g>
<g transform="translate(1161.7,1016.3)">
<g clip-path="url(#mc)">
<g filter="url(#cm)">
<rect x="27" y="-61.4" width="908.6" height="910.8" fill="#202020"/>
<g filter="url(#b0)">
<path d="M62.6,710.1 925.2,710.1 925.2,837.2 62.6,837.2Z" fill="#2d2d2d"/>
<path d="M630.1,732.8 925.2,732.8 925.2,837.2 630.1,837.2Z" fill="#202020"/>
<path d="M493.9,519.4 925.2,519.4 925.2,701 493.9,701Z" fill="#606060"/>
<path d="M471.2,283.3 925.2,283.3 925.2,542.1 471.2,542.1Z" fill="#808080"/>
<path d="M584.7,233.4 925.2,233.4 925.2,301.5 584.7,301.5Z" fill="#595959"/>
<path d="M444,274.2 516.6,274.2 566.5,233.4 607.4,237.9 630.1,301.5 607.4,365 503,378.7 453,346.9Z" fill="#6c6c6c"/>
<path d="M289.6,496.7 380.4,458.1 471.2,415 507.5,428.6 507.5,542.1 289.6,551.2Z" fill="#4c4c4c"/>
<path d="M775.4,174.4 802.6,69.9 902.5,69.9 902.5,237.9 743.6,237.9Z" fill="#404040"/>
<path d="M244.2,542.1 471.2,510.3 507.5,610.2 425.8,701 198.8,710.1Z" fill="#535353"/>
<path d="M85.3,587.5 221.5,623.8 235.1,710.1 85.3,710.1Z" fill="#363636"/>
<path d="M403.1,664.7 480.3,646.5 562,678.3 562,791.8 403.1,791.8Z" fill="#333333"/>
<path d="M543.8,169.8 543.8,110.8 598.3,56.3 675.5,29.1 752.7,-7.2 902.5,-7.2 902.5,88.1 798.1,119.9 789,174.4 752.7,219.8 698.2,242.5 643.7,247 589.2,224.3Z" fill="#161616"/>
<path d="M652.8,38.2 752.7,-7.2 902.5,-7.2 902.5,88.1 789,124.4 734.5,169.8 675.5,133.5Z" fill="#404040"/>
<path d="M380.4,92.6 525.7,92.6 566.5,169.8 566.5,233.4 516.6,278.8 444,278.8 421.3,201.6 380.4,169.8Z" fill="#464646"/>
<path d="M380.4,92.6 489.4,92.6 489.4,169.8 457.6,183.4 425.8,174.4 380.4,169.8Z" fill="#131313"/>
<path d="M198.8,451.3 257.8,437.7 289.6,474 280.5,519.4 244.2,546.6 198.8,514.8Z" fill="#202020"/>
<path d="M280.5,442.2 362.2,396.8 453,351.4 471.2,419.5 380.4,462.6 298.7,501.2Z" fill="#606060"/>
<path d="M257.8,519.4 298.7,528.5 303.2,610.2 257.8,664.7 221.5,646.5Z" fill="#333333"/>
</g>
<g filter="url(#b1)">
<ellipse cx="148.9" cy="655.6" rx="27.2" ry="40.9" fill="#202020"/>
<ellipse cx="503" cy="197.1" rx="31.8" ry="27.2" fill="#606060"/>
<ellipse cx="362.2" cy="610.2" rx="90.8" ry="54.5" fill="#5c5c5c"/>
<ellipse cx="439.4" cy="428.6" rx="18.2" ry="31.8" fill="#797979"/>
<ellipse cx="562" cy="496.7" rx="45.4" ry="59" fill="#939393"/>
<ellipse cx="779.9" cy="437.7" rx="131.7" ry="122.6" fill="#8c8c8c"/>
<ellipse cx="782.2" cy="435.4" rx="106.7" ry="99.9" fill="#999999"/>
<ellipse cx="784.4" cy="430.9" rx="68.1" ry="63.6" fill="#b2b2b2"/>
<ellipse cx="837.6" cy="448.6" rx="22.7" ry="36.3" fill="#c2c2c2"/>
<ellipse cx="784.4" cy="387.7" rx="43.1" ry="18.2" fill="#bcbcbc"/>
<ellipse cx="781.7" cy="426.3" rx="28.1" ry="25.4" fill="#838383"/>
<ellipse cx="564.3" cy="496.7" rx="36.3" ry="54.5" fill="#999999"/>
<ellipse cx="512" cy="378.7" rx="127.1" ry="113.5" fill="#8f8f8f"/>
<ellipse cx="513" cy="378.7" rx="107.1" ry="95.3" fill="#9f9f9f"/>
<ellipse cx="514.3" cy="377.7" rx="89" ry="78.1" fill="#b2b2b2"/>
<ellipse cx="516.6" cy="371.8" rx="71.7" ry="68.1" fill="#cfcfcf"/>
<ellipse cx="511.6" cy="376.4" rx="68.1" ry="34.5" fill="#fcfcfc" transform="rotate(10 511.6 376.4)"/>
<ellipse cx="543.8" cy="405.9" rx="22.7" ry="20.4" fill="#f2f2f2"/>
<ellipse cx="466.7" cy="378.7" rx="27.2" ry="20.4" fill="#f9f9f9"/>
<ellipse cx="498.4" cy="401.4" rx="13.6" ry="11.8" fill="#b9b9b9"/>
</g>
</g>
<path d="M108,20 723,20 722.7,30.7 713,38.4 700.5,46.7 685.2,56.5 678.2,59.9 664.3,68.3 651.1,74.5 639.2,68.3 630.9,62.7 623.2,73.2 619.7,76.6 612.8,74.5 614.2,81.5 605.8,85.7 598.1,92.6 600.2,102.4 596.8,110.7 584.9,117.7 572.4,126.1 561.3,132.3 559.9,139.3 569.6,146.9 578,155.3 584.9,166.4 590.5,177.6 594.7,190.1 596.1,201.2 591.9,211 586.3,217.9 579.4,217.2 575.2,220.7 569.6,218.6 565.4,223.5 561.3,221.4 557.1,224.9 552.9,222.8 545.9,227.7 541.8,220.7 545.9,209.6 548,198.5 541.8,191.5 541.1,185.2 548.7,183.1 545.9,172 537.6,166.4 527.8,165 518.1,162.3 516,160.2 522.3,149.7 529.2,151.8 523.7,147.6 529.2,133 513.9,130.9 500,128.8 498.3,127.8 488.6,132 477.5,139 469.1,144.5 459.4,148.7 463.5,143.2 469.1,136.9 462.1,134.8 469.1,127.8 476.1,115.3 470.5,106.3 458,109.7 446.8,119.5 435.7,129.2 421.8,141.8 403,143.9 403,155.7 414.8,158.5 421.8,166.8 425.9,175.9 438.5,175.2 445.4,162.6 455.2,157.8 464.9,159.2 476.1,166.1 485.8,172.4 483,179.4 474.7,181.4 463.5,184.9 452.4,189.1 449.6,197.5 444,198.8 441.3,203.7 435.7,210 427.3,221.1 438.5,226.7 443.3,231.6 448.2,240.6 451,253.1 453.8,264.3 469.5,277 458.3,281.1 470.9,292.3 445.8,303.4 458.3,304.1 473.6,311.1 465.3,315.9 470.9,320.1 462.5,324.3 468.1,328.5 462.5,332.6 465.3,336.8 459.7,341 451.4,342.4 455.6,345.2 450,353.5 445.8,361.9 440.2,367.5 433.3,366.1 437.5,371.6 431.9,380 434.7,388.3 429.1,385.6 427.7,392.5 423.5,391.1 422.1,398.1 416.6,396.7 418,402.3 411,403.6 406.8,407.8 405.4,403.6 401.3,414.8 395.7,413.4 397.1,420.4 390.1,421.7 384.5,424.5 385.9,428.7 377.6,430.1 372,434.3 365.1,432.9 362.3,437.1 353.9,434.3 347,444 340,435.7 339.2,437.6 332.3,429.2 333.6,440.4 328.1,443.2 325.3,439 323.9,447.3 318.3,448.7 314.2,447.3 311.4,452.9 305.8,451.5 303,455.7 297.5,457.1 291.9,458.5 284.9,461.3 284.2,473.8 281.4,476.6 278,475.9 275.9,469.6 274.5,461.3 272.4,454.3 266.8,455.7 262.6,452.9 258.5,455.7 254.3,448.7 250.1,452.9 243.2,455.7 236.2,461.3 230.6,465.4 225.1,465.4 222.3,472.4 216.7,478 212.5,483.5 209.7,490.5 208.4,497.5 212.5,505.8 218.1,515.6 223.7,523.9 229.2,530.9 236.2,536.4 244.5,542 251.5,549 257.1,555.9 261.3,564.3 264,574 264.5,570 267.3,581.1 269.4,593.7 268.7,603.4 265.9,611.8 264.5,618.7 257.6,625.7 249.2,631.3 240.9,635.4 233.9,638.2 225.6,641 224.2,648 220,653.5 213,657.7 207.5,663.3 200.5,666.8 194.9,666.8 195.6,659.1 197,650.7 193.5,645.9 188,641 182.4,636.8 175.4,635.4 173.3,628.5 168.5,632.6 164.3,624.3 158.7,614.5 151.8,606.9 143.4,602.7 132.3,602 130.9,590.9 123.9,597.8 117,602.7 108,602Z M108,690 117,692.5 121.1,692.5 130.9,695.3 142,699.5 150.4,706.4 158.7,714.8 167.1,723.1 171.3,731.5 172,744 172,767.7 108,768Z M330,752.7 340.5,738.7 351.1,729.9 365.1,725.5 367.7,719.4 373.9,715.9 380.9,705.3 386.2,696.5 391.4,694.8 394.9,698.3 400.2,703.6 405.5,705.3 403.7,712.3 412.5,712.3 407.2,715.9 426.5,721.1 416,726.4 410.7,729.9 417.8,735.2 409,738.7 400.2,740.4 407.2,745.7 398.5,749.2 391.4,748.3 402,756.2 402,768.5 330,768.5Z M394.9,670.2 400.2,663.2 407.2,656.2 416,645.6 423,636.9 428.3,628.1 433.6,626.3 435.3,631.6 430.1,640.4 421.3,649.1 412.5,657.9 405.5,666.7 398.5,672Z M472.2,694.8 475.7,682.5 484.5,673.7 493.2,668.5 500.3,670.2 502,675.5 507.3,673.7 516.1,668.5 519.6,663.2 528.4,659.7 530.1,650.9 535.4,654.4 540.6,663.2 542.4,670.2 547.7,679 546.8,689.5 540.6,705.3 535.4,698.3 530.1,705.3 531.9,712.3 528.4,715.9 521.3,710.6 514.3,708.8 507.3,703.6 507.3,694.8 505.5,686 500.3,680.7 493.2,686 488,684.3 482.7,687.8 477.4,694.8 473.9,700.1Z M473.1,700.9 475.7,699.7 476.6,701.8 474.3,703.2Z M246.5,741 249,738.5 251,742 249,748 246.5,746Z M586,341 592,336 596,338 590,343Z M257.1,493.3 261.3,489.1 266.8,483.5 275.2,481.4 283.5,480.7 293.3,480.5 296.1,483.5 294.7,489.1 290.5,494.7 286.3,500.2 280.7,505.8 272.4,511.4 266.8,510 261.3,507.2 258.5,500.2Z M466,392.5 470.9,393.9 472.3,399.5 469.5,409.2 466.7,417.6 463.9,425.9 459.7,435.7 455.6,444 453.5,447.5 450,442.6 444.4,434.3 440.9,424.5 443.7,416.2 448.6,407.8 454.2,399.5 459.7,394.6Z M451.3,505.3 461.8,504.6 477.1,506.7 475.7,517.8 481.3,529 472.9,542.9 467.3,554 464.5,563.8 471.5,573.5 477.1,579.1 481.3,576.3 485.4,581.9 491,580.5 498,583.3 503.5,586.1 500.7,593 506.3,598.6 503.5,600 495.2,595.8 489.6,590.2 482.6,593 478.5,587.5 472.9,581.9 467.3,580.5 460.4,584.7 454.8,583.3 450.6,579.1 454.8,572.1 449.2,572.1 443.7,568 439.5,556.8 437.4,545.7 443.7,541.5 446.5,530.4 445.8,517.8 449.9,510.9Z M447.8,590.2 456.2,591.6 464.5,597.2 463.2,605.6 460.4,609.7 456.2,605.6 452,598.6Z M471.5,616.7 481.3,619.5 491,623.6 486.8,629.2 479.9,633.4 472.9,637.6 472.2,626.4Z M491.7,606.9 495.9,608.3 492.4,612.5Z M510.5,605.6 523,604.2 530,612.5 532.8,627.8 527.2,626.4 521.6,623.6 520.2,615.3 514.7,611.1Z M511.9,622.3 520.2,626.4 524.4,640.4 520.2,641.7 514.7,634.8Z M492.4,633.4 495.9,632 493.8,643.1 492.4,652.9 489.6,661.2 484,657.1 480.6,651.5 486.8,643.1Z M502.1,632 504.9,629.2 503.5,637.6 500.7,644.5 499.4,640.4Z M503.5,647.3 510.5,644.5 513.3,648.7 507.7,652.2 503.5,651.5Z M616.5,233.3 626.2,225.7 635.9,218.7 645.7,211.8 649.2,205.9 668,205.6 687.5,206.5 700,206.5 705.6,196.5 709.7,185.3 711.1,177 719.5,174.2 715.3,183.9 720.9,184.6 730.6,178.4 741.7,171.4 753.6,160.6 757.8,150.9 760.6,139.7 764.8,130 760.6,125.8 763.4,114.7 769.7,103.5 777.3,101.4 780.1,109.1 783.6,99.4 787.1,99.4 789.1,106.3 792.6,120.2 796.1,132.8 792.6,145.3 789.1,157.1 780.1,160.6 778.7,173.1 778,187.1 780,182.5 777.9,192.3 773.8,199.2 777.2,205.5 769.6,213.2 764,216.6 762.6,207.6 759.1,208.3 759.1,217.3 751.5,213.2 745.9,224.3 743.1,217.3 739.7,224.3 733.4,227.1 719.5,225 712.5,221.5 709.7,223.6 711.1,232.6 697.2,245.9 693,245.2 686.1,238.9 687.5,225.7 681.9,225 668,224.3 656.8,230.1 645.7,235.4 635.9,239.6Z M642.9,236.1 656.8,237.1 659.6,245.2 649.9,257.7 641.5,259.1 637.3,249.4Z M658.2,236.8 665.2,232 673.5,233.3 677.7,239.6 669.4,250.7 661,248Z M616.5,242.4 624.8,245.2 634.5,253.5 630.4,264.7 624.8,275.8 623.4,284.2 613.7,290.4 603.9,286.2 606.7,275.8 610.9,266.1 612.3,256.3 608.1,252.1 606.7,259.1 598.4,261.2 595.6,253.5 594.2,250.1 603.9,248 610.9,242.4Z M798.9,29 805.2,32.5 814.9,39.5 826,45.1 837.2,49.2 853.9,47.1 853.9,61.8 837.2,67.3 828.8,75.7 820.5,84 816.3,88.2 805.2,82.6 791.2,75 778.7,79.9 770.4,78.5 782.9,91 773.1,95.2 763.4,98.7 760.6,79.9 767.6,72.9 771.7,67.3 769.7,63.2 777.3,60.4 784.3,61.1 787.1,56.9 795.4,42.3 796.8,33.9Z" fill="#a5a5a5" stroke="#050505" stroke-width="2" stroke-linejoin="round"/>
<path d="M108,727 117,727.3 122.5,727.3 125.3,738.5 130.9,749.6 136.5,760.7 108,768Z M637.5,20 644,20 640.8,36Z M117,183.5 122.5,178.5 128,190.5Z M378,323 382,322.5 384.5,327 381,329Z M353,298.5 357,297.5 358.5,301 355,302Z M421.5,314.5 425.5,313 426,318 422,318.5Z M413.5,250 417,249.5 417.5,253.5 414,254Z M213,582 216.5,583 216,589 213,588Z M204,611.5 209,607.5 211,609.5 206,614Z" fill="#fff" stroke="#111" stroke-width="1.2"/>
<path d="M789.1,27.7 791.9,33.9 790.5,42.3 786.4,49.9 784.3,56.2 784.3,60.4 M423.5,270 415.2,283.9 406.8,289.5 391.5,300.6 384.5,306.2 377.6,311.8 374.8,321.5 381.8,327.1 387.3,325.7 385.9,329.9 M377.6,311.8 365.1,304.8 358.1,299.9 351.1,299.2 353.9,304.8 348.4,307.6 M418,318.7 423.5,311.8 427,317.3 418,318.7 M397.1,279.7 402.6,281.1 399.9,283.2 397.1,279.7 M279.4,423 289.1,421.6 300.2,421.6 304.4,426.5 323.9,427.1 329.5,437.6 M204.2,458.5 220.9,475.2 M211.6,570 213.7,583.9 214.4,595.1 213.7,606.2 207.5,610.4 199.1,615.9 196.3,618.7 M190.7,604.8 196.3,618.7 201.9,631.3 207.5,642.4 213,653.5 M226.9,628.5 225.6,641 M206.1,638.2 218.6,639.6 M200,544.8 205.6,551.7 209.7,560.1 212.5,567.1 213.2,581 213.9,600.1" fill="none" stroke="#111" stroke-width="1.4"/>
<text class="ser" x="183.3" y="130.3" font-size="43.3" fill="#0b0b0b">2019-8-9</text>
<text class="ser" x="183.3" y="176.8" font-size="42.8" fill="#0b0b0b">25 m/s</text>
<path d="M320,166.5H356" stroke="#111" stroke-width="2" fill="none"/><path d="M358.5,166.5L344,158.5Q348,166.5 344,174.5Z" fill="#111"/>
<path d="M137,43l-4.9-3.4m1.3,1.3l-1.3-1.3l1.7,.7M156,43l-5.2-3.2m1.4,1.3l-1.4-1.3l1.7,.7M175,43l-5.2-3m1.4,1.2l-1.4-1.2l1.7,.6M195,43l-4.9-2.6m1.3,1l-1.3-1l1.6,.5M214,43l-4.3-2.1m1.2,.9l-1.2-.9l1.4,.4M234,43l-3.4-1.7m.9,.7l-.9-.7l1.1,.3M253,43l-2.1-1.3M272,43l1.2,.4M292,43l1.2,.4M311,43l2.2,1.8M330,43l3.2,3.3m-.8-1.2l.8,1.2l-1.2-.8M350,43l4,4.6m-.9-1.6l.9,1.6l-1.5-1.2M369,43l4.6,5.6m-1-2l1,2l-1.7-1.4M389,43l4.5,5.7m-1-2l1,2l-1.7-1.5M408,43l4.1,4.8m-.9-1.7l.9,1.7l-1.5-1.2M427,43l3.6,3.7m-.9-1.3l.9,1.3l-1.3-.9M447,43l3,2.6m-.7-.9l.7,.9l-1-.6M466,43l2.2,1.5M486,43l1.4,.4M505,43l1.2,.4M524,43l-.3-1.4M544,43l-1.1-2M563,43l-1.7-2.4M583,43l-2.1-2.6m.5,.9l-.5-.9l.8,.7M602,43l-2.3-2.6m.5,.9l-.5-.9l.8,.6M621,43l-2.2-2.3m.5,.8l-.5-.8l.8,.6M641,43l-2-1.9M660,43l-1.5-1.3M680,43l1.2,.4M699,43l1.2,.4M718,43l.8,1.5M738,43l2,2.8m-.4-1l.4,1l-.8-.7M757,43l3,3.8m-.7-1.3l.7,1.3l-1.1-1M776,43l3.6,4.5m-.8-1.6l.8,1.6l-1.3-1.2M796,43l1.9,2.4M815,43l1.7,2.4M835,43l2.7,4.4m-.5-1.5l.5,1.5l-1.1-1.2M137,65l-4.5-4.2m1.1,1.5l-1.1-1.5l1.6,1M156,65l-4.8-4.2m1.2,1.5l-1.2-1.5l1.7,1M175,65l-4.8-4.1m1.2,1.5l-1.2-1.5l1.7,1M195,65l-4.5-3.9m1.1,1.4l-1.1-1.4l1.6,.9M214,65l-3.9-3.6m1,1.3l-1-1.3l1.4,.8M234,65l-3.1-3.2m.7,1.2l-.7-1.2l1.1,.8M253,65l-2.1-3m.4,1l-.4-1l.8,.8M272,65l-.8-2.8M292,65l1.2,.4M311,65l1.4,.7M330,65l2.3,2.4m-.6-.9l.6,.9l-.8-.6M350,65l3.1,4m-.7-1.4l.7,1.4l-1.1-1M369,65l3.6,5.2m-.8-1.8l.8,1.8l-1.4-1.4M389,65l3.8,6.1m-.8-2l.8,2l-1.5-1.6M408,65l3.6,5m-.8-1.7l.8,1.7l-1.4-1.3M427,65l3.2,3.9m-.7-1.4l.7,1.4l-1.2-1M447,65l2.7,2.8m-.6-1l.6,1l-1-.7M466,65l1.9,1.7M486,65l1.1,.6M505,65l1.2,.4M524,65l-.7-1.4M544,65l-1.5-2.2M563,65l-2.2-2.8m.5,1l-.5-1l.8,.7M583,65l-2.7-3.2m.6,1.1l-.6-1.1l1,.8M602,65l-2.9-3.4m.7,1.2l-.7-1.2l1.1,.8M621,65l-2.9-3.3m.7,1.2l-.7-1.2l1.1,.8M641,65l-2.8-3.1m.7,1.1l-.7-1.1l1,.8M660,65l-2.4-2.6m.6,.9l-.6-.9l.9,.7M680,65l-3.7-4.1m.9,1.5l-.9-1.5l1.3,1M699,65l-2.5-2.8m.6,1l-.6-1l.9,.7M718,65l-1.2-1.4M738,65l1.2,.4M757,65l.9,1.1M776,65l.8,1M796,65l.9,1.4M815,65l.8,1.5M835,65l.4,1.5M137,87l-4-4.5m.9,1.6l-.9-1.6l1.5,1.1M156,87l-4.2-4.7m1,1.7l-1-1.7l1.5,1.2M175,87l-4.2-4.8m1,1.7l-1-1.7l1.5,1.2M195,87l-4-4.7m.9,1.6l-.9-1.6l1.5,1.2M214,87l-3.5-4.5m.8,1.6l-.8-1.6l1.3,1.2M234,87l-2.9-4.3m.6,1.4l-.6-1.4l1.1,1.1M253,87l-2.2-4.1m.4,1.3l-.4-1.3l.9,1.1M272,87l-1.5-3.9m.2,1.3l-.2-1.3l.7,1.1M292,87l-.5-2.1M311,87l1.2,.4M330,87l1.3,1.6M350,87l2,3.3m-.4-1.1l.4,1.1l-.8-.9M369,87l2.4,4.8m-.5-1.6l.5,1.6l-1-1.3M389,87l2.7,5.8m-.5-1.9l.5,1.9l-1.1-1.6M408,87l2.8,4.9m-.6-1.6l.6,1.6l-1.1-1.3M427,87l2.6,4m-.6-1.3l.6,1.3l-1-1M447,87l2.1,3m-.5-1l.5,1l-.8-.8M466,87l1.4,2M486,87l1.2,.4M505,87l1.2,.4M524,87l-1.4-1.2M544,87l-2.2-2.1M563,87l-2.9-2.9m.7,1l-.7-1l1,.7M583,87l-3.4-3.4m.8,1.2l-.8-1.2l1.2,.8M602,87l-3.7-3.8m.9,1.3l-.9-1.3l1.3,.9M621,87l-7.6-7.9m1.8,2.8l-1.8-2.8l2.7,1.9M641,87l-7.3-7.7m1.8,2.7l-1.8-2.7l2.6,1.9M660,87l-6.6-7.2m1.6,2.5l-1.6-2.5l2.4,1.8M680,87l-5.7-6.3m1.3,2.2l-1.3-2.2l2.1,1.6M699,87l-4.5-5.2m1,1.8l-1-1.8l1.6,1.3M718,87l-3.3-3.9m.8,1.4l-.8-1.4l1.2,1M738,87l-2.1-2.6m.5,.9l-.5-.9l.8,.7M757,87l-1.1-1.3M776,87l1.2,.4M796,87l1.2,.4M815,87l1.2,.4M835,87l-.8,1.6M137,110l-3.4-4.5m.8,1.5l-.8-1.5l1.3,1.2M156,110l-3.6-4.8m.8,1.7l-.8-1.7l1.4,1.2M175,110l-3.6-5m.8,1.7l-.8-1.7l1.4,1.3M195,110l-3.4-5.1m.7,1.7l-.7-1.7l1.3,1.3M214,110l-3.1-5m.6,1.7l-.6-1.7l1.2,1.3M234,110l-2.6-4.8m.5,1.6l-.5-1.6l1.1,1.3M253,110l-2.1-4.5m.4,1.5l-.4-1.5l.9,1.2M272,110l-1.8-4.1m.3,1.3l-.3-1.3l.8,1.1M292,110l-1.4-2.9M311,110l1.2,.4M330,110l1.2,.4M350,110l.7,2.8M369,110l1.1,4.4m-.1-1.4l.1,1.4l-.6-1.2M389,110l1.6,4.9m-.2-1.6l.2,1.6l-.8-1.4M408,110l2,4.6m-.3-1.5l.3,1.5l-.9-1.3M427,110l1.8,4m-.3-1.3l.3,1.3l-.8-1.1M447,110l1.3,3.2m-.2-1l.2,1l-.6-.9M466,110l1.2,4.7m-.1-1.5l.1,1.5l-.6-1.3M486,110l-.3,1.4M505,110l-1.3,.3M524,110l-2.3-.7M544,110l-3.2-1.7m.9,.7l-.9-.7l1,.3M563,110l-3.9-2.6m1,1l-1-1l1.3,.5M583,110l-4.5-3.3m1.2,1.2l-1.2-1.2l1.5,.7M602,110l-9.6-7.7m2.4,2.8l-2.4-2.8l3.3,1.7M621,110l-9.8-8.3m2.5,3.1l-2.5-3.1l3.4,1.9M641,110l-9.5-8.6m2.4,3.1l-2.4-3.1l3.3,2M660,110l-8.9-8.5m2.2,3l-2.2-3l3.1,2M680,110l-7.9-7.9m1.9,2.8l-1.9-2.8l2.8,1.9M699,110l-6.7-7.1m1.6,2.5l-1.6-2.5l2.4,1.7M718,110l-5.5-6m1.3,2.1l-1.3-2.1l2,1.5M738,110l-4.3-4.8m1,1.7l-1-1.7l1.5,1.2M757,110l-3.2-3.5m.8,1.2l-.8-1.2l1.2,.9M776,110l-1.2-1.1M796,110l-2-1.2M815,110l-1.9-.3M835,110l-2.2,.3M137,133l-2.7-4m.6,1.4l-.6-1.4l1,1M156,133l-2.9-4.4m.6,1.5l-.6-1.5l1.1,1.2M175,133l-3-4.7m.6,1.6l-.6-1.6l1.2,1.3M195,133l-2.8-4.9m.6,1.6l-.6-1.6l1.1,1.3M214,133l-2.6-4.8m.5,1.6l-.5-1.6l1,1.3M234,133l-2.2-4.6m.4,1.5l-.4-1.5l.9,1.3M253,133l-1.8-4.3m.3,1.4l-.3-1.4l.8,1.2M272,133l-1.6-3.6m.3,1.2l-.3-1.2l.7,1M292,133l-1.5-2.7M311,133l-1.4-1.2M330,133l1.2,.4M350,133l-.4,2.4M369,133l.5,3.6m.1-1.1l-.1,1.1l-.4-1.1M389,133l1.1,4.2m-.1-1.3l.1,1.3l-.6-1.2M408,133l1.3,4.3m-.1-1.4l.1,1.4l-.6-1.2M427,133l1,4.1m-.1-1.3l.1,1.3l-.5-1.2M447,133l.9,7.1m.1-2.2l-.1,2.2l-.7-2.1M466,133l-.4,2.9M486,133l-1.4,2M505,133l-4.8,2.1m1.6-.4l-1.6,.4l1.3-.9M524,133l-6.8,.1m2,.4l-2-.4l2-.4M544,133l-4.3-1m1.2,.5l-1.2-.5l1.4,0M563,133l-10.2-3.8m2.8,1.7l-2.8-1.7l3.3,.6M583,133l-11.3-5.5m3.1,2.3l-3.1-2.3l3.7,1M602,133l-11.9-6.9m3.2,2.7l-3.2-2.7l4,1.4M621,133l-12.1-7.9m3.2,3.1l-3.2-3.1l4.1,1.7M641,133l-11.8-8.6m3,3.2l-3-3.2l4,1.9M660,133l-11.1-8.8m2.8,3.3l-2.8-3.3l3.8,2M680,133l-10.1-8.6m2.5,3.2l-2.5-3.2l3.5,2M699,133l-8.9-8.1m2.2,2.9l-2.2-2.9l3.1,1.9M718,133l-7.5-7.3m1.8,2.6l-1.8-2.6l2.7,1.7M738,133l-6.2-6.2m1.5,2.2l-1.5-2.2l2.2,1.5M757,133l-5.1-5m1.2,1.8l-1.2-1.8l1.8,1.2M776,133l-2.1-1.9M796,133l-1.8-1.3M815,133l-3.3-1.6m.9,.7l-.9-.7l1.1,.3M835,133l-3.4-.8m1,.4l-1-.4l1.1,0M137,156l-2.1-3.1m.4,1.1l-.4-1.1l.8,.8M156,156l-2.3-3.6m.5,1.2l-.5-1.2l.9,1M175,156l-2.3-4m.5,1.3l-.5-1.3l.9,1.1M195,156l-2.2-4.2m.4,1.4l-.4-1.4l.9,1.1M214,156l-2-4.3m.4,1.4l-.4-1.4l.9,1.2M234,156l-1.7-4.1m.3,1.3l-.3-1.3l.8,1.1M253,156l-1.4-3.7m.2,1.2l-.2-1.2l.6,1M272,156l-1.1-3m.2,1l-.2-1l.5,.8M292,156l-.8-2.1M311,156l1.2,.4M330,156l1.2,.4M350,156l.1,2M369,156l.5,3.1M389,156l.7,3.9m0-1.2l0,1.2l-.4-1.1M408,156l1.2,8.5m.1-2.6l-.1,2.6l-.9-2.5M427,156l.3,8.6m.4-2.6l-.4,2.6l-.6-2.6M447,156l-1.1,8.1m.8-2.4l-.8,2.4l-.1-2.5M466,156l-2.9,7.1m1.3-2l-1.3,2l.5-2.3M486,156l-5,5.7m1.8-1.4l-1.8,1.4l1.2-2M505,156l-7.2,4m2.4-.8l-2.4,.8l1.9-1.6M524,156l-4.7,1m1.5,0l-1.5,0l1.3-.6M544,156l-5.6,0m1.7,.3l-1.7-.3l1.7-.3M563,156l-6.3-1m1.8,.7l-1.8-.7l2-.1M583,156l-13.7-3.8m3.9,1.9l-3.9-1.9l4.3,.4M602,156l-14.3-5.5m4,2.5l-4-2.5l4.6,.8M621,156l-14.4-6.8m3.9,2.9l-3.9-2.9l4.7,1.2M641,156l-14-7.7m3.8,3.1l-3.8-3.1l4.6,1.5M660,156l-13.3-8.3m3.5,3.2l-3.5-3.2l4.4,1.7M680,156l-12.2-8.5m3.2,3.2l-3.2-3.2l4.1,1.8M699,156l-10.8-8.2m2.8,3.1l-2.8-3.1l3.7,1.9M718,156l-9.4-7.7m2.4,2.8l-2.4-2.8l3.3,1.8M738,156l-8-6.9m2,2.5l-2-2.5l2.8,1.6M757,156l-3.4-2.9m.8,1.1l-.8-1.1l1.2,.7M776,156l-2.8-2.4m.7,.9l-.7-.9l1,.5M796,156l-4.8-3.6m1.2,1.3l-1.2-1.3l1.7,.8M815,156l-4.4-2.5m1.2,1l-1.2-1l1.5,.5M835,156l-4.3-1.5m1.2,.7l-1.2-.7l1.4,.2M137,177l-1.4-2M156,177l-1.7-2.6M175,177l-1.8-3m.4,1l-.4-1l.7,.8M195,177l-1.7-3.2m.3,1.1l-.3-1.1l.7,.9M214,177l-1.5-3.3m.3,1.1l-.3-1.1l.7,.9M234,177l-1.3-3.2m.2,1l-.2-1l.6,.9M253,177l-1-2.9M272,177l-.7-2.3M292,177l-.4-1.4M311,177l1.2,.4M330,177l1.2,.4M350,177l.4,2.1M369,177l.5,3.2M389,177l.4,4m.1-1.2l-.1,1.2l-.3-1.2M408,177l0,4.5m.3-1.4l-.3,1.4l-.3-1.4M427,177l-.7,4.8m.5-1.4l-.5,1.4l-.1-1.5M447,177l-1.6,4.7m.7-1.3l-.7,1.3l.2-1.5M466,177l-2.6,4.4m1-1.2l-1,1.2l.5-1.5M486,177l-7.5,7.6m2.7-1.9l-2.7,1.9l1.8-2.7M505,177l-9.8,6m3.3-1.3l-3.3,1.3l2.6-2.4M524,177l-12,4.2m3.8-.6l-3.8,.6l3.3-1.9M544,177l-13.8,2.2m4.3,.1l-4.3-.1l4-1.4M563,177l-7.6,.1m2.3,.4l-2.3-.4l2.3-.5M583,177l-8.1-.9m2.4,.7l-2.4-.7l2.5-.2M602,177l-16.6-3.6m4.8,2l-4.8-2l5.2,.1M621,177l-16.6-5.1m4.7,2.5l-4.7-2.5l5.3,.6M641,177l-16.1-6.3m4.5,2.8l-4.5-2.8l5.2,1M660,177l-15.2-7.1m4.2,3l-4.2-3l5,1.3M680,177l-14-7.6m3.8,3.1l-3.8-3.1l4.6,1.5M699,177l-12.6-7.7m3.3,3l-3.3-3l4.2,1.6M718,177l-11.1-7.5m2.9,2.9l-2.9-2.9l3.7,1.6M738,177l-4.8-3.5m1.2,1.3l-1.2-1.3l1.6,.8M757,177l-4-3.1m1,1.1l-1-1.1l1.4,.7M776,177l-3.4-2.6m.9,1l-.9-1l1.2,.6M796,177l-5.9-4.1m1.5,1.6l-1.5-1.6l2,.9M815,177l-5.2-3m1.4,1.2l-1.4-1.2l1.7,.6M835,177l-4.9-1.9m1.4,.9l-1.4-.9l1.6,.3M137,201l1.2,.4M156,201l-1.1-1.2M175,201l-1.2-1.6M195,201l-1.2-1.9M214,201l-1.1-2.1M234,201l-.9-2M253,201l-.6-1.8M272,201l-.3-1.3M292,201l1.2,.4M311,201l1.2,.4M330,201l.4,1.5M350,201l.4,2.5M369,201l.3,3.6m.1-1.1l-.1,1.1l-.3-1.1M389,201l-.1,4.5m.3-1.3l-.3,1.3l-.2-1.3M408,201l-.7,5.1m.5-1.5l-.5,1.5l-.1-1.6M427,201l-1.6,5.5m.8-1.6l-.8,1.6l.2-1.8M447,201l-5.5,11.3m2.3-3.1l-2.3,3.1l1-3.7M466,201l-7.9,10.8m3-2.8l-3,2.8l1.8-3.7M486,201l-10.5,9.9m3.7-2.4l-3.7,2.4l2.6-3.6M505,201l-12.9,8.4m4.4-1.8l-4.4,1.8l3.4-3.3M524,201l-15.1,6.6m4.9-1.1l-4.9,1.1l4.1-2.8M544,201l-16.8,4.6m5.3-.4l-5.3,.4l4.8-2.3M563,201l-9,1.3m2.8,.1l-2.8-.1l2.6-.9M583,201l-9.4,.3m2.8,.4l-2.8-.4l2.8-.6M602,201l-19.1-1.3m5.7,1.5l-5.7-1.5l5.8-.7M621,201l-18.9-2.9m5.5,1.9l-5.5-1.9l5.8-.2M641,201l-18.3-4.2m5.2,2.3l-5.2-2.3l5.7,.2M660,201l-17.2-5.3m4.9,2.6l-4.9-2.6l5.5,.6M680,201l-15.9-6.1m4.4,2.7l-4.4-2.7l5.1,.9M699,201l-14.4-6.5m3.9,2.8l-3.9-2.8l4.7,1.1M718,201l-6.4-3.3m1.7,1.3l-1.7-1.3l2.1,.6M738,201l-5.5-3.2m1.5,1.3l-1.5-1.3l1.8,.6M757,201l-4.7-2.9m1.3,1.1l-1.3-1.1l1.6,.6M776,201l-8.1-5.1m2.1,2l-2.1-2l2.7,1.1M796,201l-6.9-4.2m1.8,1.7l-1.8-1.7l2.3,.9M815,201l-6.1-3.2m1.6,1.3l-1.6-1.3l2,.6M835,201l-5.5-2.2m1.5,1l-1.5-1l1.8,.3M137,222l1.2,.4M156,222l1.2,.4M175,222l1.2,.4M195,222l1.2,.4M214,222l1.2,.4M234,222l1.2,.4M253,222l1.2,.4M272,222l1.2,.4M292,222l1.2,.4M311,222l.3,1.2M330,222l.4,2.2M350,222l.3,3.2m.1-1l-.1,1l-.3-.9M369,222l0,4.2m.2-1.3l-.2,1.3l-.2-1.3M389,222l-.6,5.2m.5-1.5l-.5,1.5l-.1-1.6M408,222l-1.4,5.9m.8-1.7l-.8,1.7l.1-1.9M427,222l-2.6,6.4m1.1-1.8l-1.1,1.8l.4-2.1M447,222l-7.8,13.3m3.1-3.5l-3.1,3.5l1.6-4.4M466,222l-10.6,13m3.9-3.3l-3.9,3.3l2.4-4.5M486,222l-13.5,12m4.7-2.8l-4.7,2.8l3.3-4.4M505,222l-16,10.6m5.4-2.3l-5.4,2.3l4.2-4.1M524,222l-18.2,8.7m6-1.6l-6,1.6l5-3.7M544,222l-9.9,3.4m3.2-.4l-3.2,.4l2.8-1.6M563,222l-20.9,4.7m6.5-.2l-6.5,.2l6-2.6M583,222l-21.3,2.6m6.6,.4l-6.6-.4l6.3-2M602,222l-21.3,.8m6.4,1l-6.4-1l6.3-1.4M621,222l-20.8-.9m6.2,1.4l-6.2-1.4l6.3-.9M641,222l-9.9-1.1m2.9,.9l-2.9-.9l3-.2M660,222l-9.3-1.7m2.7,1l-2.7-1l2.9,0M680,222l-8.6-2.1m2.5,1.1l-2.5-1.1l2.7,.1M699,222l-7.9-2.4m2.2,1.2l-2.2-1.2l2.5,.3M718,222l-7.1-2.6m2,1.2l-2-1.2l2.3,.4M738,222l-6.3-2.6m1.7,1.2l-1.7-1.2l2,.4M757,222l-11-5.1m3,2.2l-3-2.2l3.6,.9M776,222l-9.4-4.7m2.6,2l-2.6-2l3.1,.9M796,222l-8.1-4.1m2.2,1.7l-2.2-1.7l2.7,.8M815,222l-7.1-3.3m1.9,1.4l-1.9-1.4l2.3,.6M835,222l-6.3-2.3m1.8,1.1l-1.8-1.1l2,.3M137,245l-.1,1.9M156,245l-.4,1.5M175,245l-.6,1.1M195,245l1.2,.4M214,245l1.2,.4M234,245l1.2,.4M253,245l1.2,.4M272,245l1.2,.4M292,245l.2,1.5M311,245l.3,2.2M330,245l.3,3.1M350,245l.1,4m.2-1.2l-.2,1.2l-.3-1.2M369,245l-.3,5.1m.4-1.5l-.4,1.5l-.2-1.5M389,245l-1.1,6.1m.7-1.8l-.7,1.8l0-1.9M408,245l-2.1,6.9m1-2l-1,2l.2-2.2M427,245l-3.5,7.5m1.5-2.1l-1.5,2.1l.6-2.5M447,245l-5.1,7.8m2-2.1l-2,2.1l1.1-2.6M466,245l-13.6,15.4m5-3.8l-5,3.8l3.2-5.4M486,245l-16.9,14.3m5.9-3.3l-5.9,3.3l4.2-5.3M505,245l-19.7,12.6m6.6-2.7l-6.6,2.7l5.2-4.9M524,245l-21.9,10.5m7.2-1.9l-7.2,1.9l6-4.4M544,245l-23.2,8.3m7.4-1.2l-7.4,1.2l6.5-3.8M563,245l-23.8,6.1m7.5-.5l-7.5,.5l6.8-3.2M583,245l-23.8,4.1m7.4,.1l-7.4-.1l6.9-2.6M602,245l-23.5,2.5m7.2,.6l-7.2-.6l6.9-2.1M621,245l-11.4,.5m3.4,.5l-3.4-.5l3.4-.8M641,245l-10.9-.1m3.2,.7l-3.2-.7l3.3-.6M660,245l-20.4-1.3m6.1,1.6l-6.1-1.6l6.2-.8M680,245l-19-2.2m5.6,1.7l-5.6-1.7l5.8-.4M699,245l-17.5-2.9m5.1,1.9l-5.1-1.9l5.4-.1M718,245l-15.9-3.4m4.6,1.9l-4.6-1.9l5,.1M738,245l-14.3-3.8m4.1,1.9l-4.1-1.9l4.5,.3M757,245l-12.8-4m3.6,1.9l-3.6-1.9l4.1,.5M776,245l-11.4-3.9m3.2,1.8l-3.2-1.8l3.6,.5M796,245l-10-3.7m2.8,1.7l-2.8-1.7l3.2,.5M815,245l-8.8-3.2m2.5,1.5l-2.5-1.5l2.8,.5M835,245l-7.8-2.5m2.2,1.2l-2.2-1.2l2.5,.3M137,268l.1,3M156,268l-.3,2.7M175,268l-.5,2.4M195,268l-.6,2.1M214,268l-.6,1.9M234,268l-.5,1.8M253,268l-.3,1.9M272,268l0,2.1M292,268l.2,2.5M311,268l.3,3.2M330,268l.3,4m.1-1.2l-.1,1.2l-.3-1.2M350,268l0,4.9m.3-1.5l-.3,1.5l-.3-1.5M369,268l-.5,6m.5-1.8l-.5,1.8l-.2-1.8M389,268l-1.3,7.1m.8-2.1l-.8,2.1l0-2.2M408,268l-2.6,8.1m1.2-2.3l-1.2,2.3l.3-2.6M427,268l-4.2,8.9m1.8-2.4l-1.8,2.4l.8-2.9M447,268l-6.2,9.2m2.4-2.4l-2.4,2.4l1.3-3.1M466,268l-16.7,18.1m6-4.5l-6,4.5l4-6.4M486,268l-20.7,16.6m7.1-3.8l-7.1,3.8l5.3-6.2M505,268l-23.8,14.3m8-2.9l-8,2.9l6.3-5.6M524,268l-25.7,11.4m8.4-1.9l-8.4,1.9l7.1-4.9M544,268l-26.6,8.7m8.5-1.1l-8.5,1.1l7.5-4.1M563,268l-26.6,6.5m8.4-.4l-8.4,.4l7.6-3.5M583,268l-26.2,4.8m8.1,0l-8.1,0l7.6-2.9M602,268l-25.4,3.5m7.8,.4l-7.8-.4l7.4-2.5M621,268l-12.2,1.2m3.7,.3l-3.7-.3l3.6-1.1M641,268l-23.3,1.5m7.1,.9l-7.1-.9l6.9-1.8M660,268l-22.1,.7m6.7,1l-6.7-1l6.6-1.5M680,268l-20.7-.1m6.2,1.2l-6.2-1.2l6.2-1.2M699,268l-19.2-.8m5.7,1.3l-5.7-1.3l5.8-.9M718,268l-17.8-1.4m5.2,1.4l-5.2-1.4l5.4-.6M738,268l-16.3-2m4.8,1.5l-4.8-1.5l5-.3M757,268l-14.8-2.5m4.3,1.6l-4.3-1.6l4.6-.1M776,268l-13.5-2.9m3.9,1.6l-3.9-1.6l4.2,.1M796,268l-12.2-3.1m3.5,1.6l-3.5-1.6l3.8,.2M815,268l-11-3.1m3.1,1.6l-3.1-1.6l3.5,.3M835,268l-9.7-2.7m2.8,1.4l-2.8-1.4l3.1,.3M137,289l.1,3.7m.2-1.1l-.2,1.1l-.2-1.1M156,289l-.3,3.5m.3-1l-.3,1l-.1-1.1M175,289l-.5,3.3m.3-1l-.3,1l0-1M195,289l-.6,3.1M214,289l-.6,2.9M234,289l-.5,2.8M253,289l-.3,2.9M272,289l-.1,3.1M292,289l.2,3.4m.1-1l-.1,1l-.2-1M311,289l.3,4m.1-1.2l-.1,1.2l-.3-1.2M330,289l.3,4.8m.2-1.5l-.2,1.5l-.4-1.4M350,289l.1,5.7m.3-1.7l-.3,1.7l-.4-1.7M369,289l-.4,6.9m.5-2l-.5,2l-.3-2.1M389,289l-1.3,8.1m.8-2.3l-.8,2.3l-.1-2.5M408,289l-2.6,9.3m1.3-2.6l-1.3,2.6l.3-2.9M427,289l-4.5,10.3m1.9-2.8l-1.9,2.8l.8-3.3M447,289l-6.9,10.9m2.7-2.9l-2.7,2.9l1.4-3.7M466,289l-9.6,10.7m3.5-2.7l-3.5,2.7l2.3-3.7M486,289l-24.3,19m8.4-4.3l-8.4,4.3l6.2-7.1M505,289l-27.8,15m9.2-2.9l-9.2,2.9l7.5-6.1M524,289l-29.2,10.8m9.4-1.6l-9.4,1.6l8.2-4.9M544,289l-29.1,7.6m9.2-.6l-9.2,.6l8.3-3.9M563,289l-28.2,5.5m8.8,0l-8.8,0l8.2-3.3M583,289l-27.1,4.3m8.4,.3l-8.4-.3l7.9-2.8M602,289l-25.9,3.6m8,.4l-8-.4l7.6-2.5M621,289l-24.7,3.1m7.6,.5l-7.6-.5l7.2-2.3M641,289l-23.4,2.7m7.2,.5l-7.2-.5l6.9-2.1M660,289l-22.2,2.3m6.8,.6l-6.8-.6l6.5-1.9M680,289l-20.9,1.8m6.4,.7l-6.4-.7l6.2-1.7M699,289l-19.6,1.2m6,.8l-6-.8l5.8-1.5M718,289l-18.4,.5m5.5,.9l-5.5-.9l5.5-1.2M738,289l-17.1-.3m5.1,1.1l-5.1-1.1l5.2-.9M757,289l-15.9-1.1m4.7,1.2l-4.7-1.2l4.8-.6M776,289l-14.7-1.9m4.3,1.4l-4.3-1.4l4.5-.3M796,289l-13.4-2.7m3.9,1.6l-3.9-1.6l4.2,0M815,289l-12.1-3.2m3.5,1.6l-3.5-1.6l3.8,.3M835,289l-10.9-3.3m3.1,1.6l-3.1-1.6l3.5,.4M137,309l.1,4.1m.2-1.2l-.2,1.2l-.3-1.2M156,309l-.3,4.1m.3-1.2l-.3,1.2l-.1-1.2M175,309l-.6,3.9m.4-1.1l-.4,1.1l0-1.2M195,309l-.7,3.8m.4-1.1l-.4,1.1l0-1.2M214,309l-.7,3.7m.4-1.1l-.4,1.1l0-1.1M234,309l-.6,3.6m.4-1l-.4,1l0-1.1M253,309l-.4,3.6m.3-1.1l-.3,1.1l-.1-1.1M272,309l-.1,3.8m.2-1.1l-.2,1.1l-.2-1.1M292,309l.2,4.1m.2-1.2l-.2,1.2l-.3-1.2M311,309l.4,4.6m.1-1.4l-.1,1.4l-.4-1.4M330,309l.5,5.4m.2-1.6l-.2,1.6l-.5-1.6M350,309l.4,6.3m.2-1.9l-.2,1.9l-.5-1.9M369,309l0,7.5m.4-2.3l-.4,2.3l-.4-2.2M389,309l-.7,8.8m.7-2.6l-.7,2.6l-.3-2.7M408,309l-2,10.3m1.2-3l-1.2,3l0-3.2M427,309l-3.9,11.7m1.8-3.3l-1.8,3.3l.5-3.7M447,309l-6.7,12.8m2.7-3.4l-2.7,3.4l1.3-4.2M466,309l-10.3,12.7m3.8-3.2l-3.8,3.2l2.4-4.4M486,309l-27.8,21.6m9.6-4.9l-9.6,4.9l7.1-8.1M505,309l-32,14.7m10.4-2.6l-10.4,2.6l8.8-6.2M524,309l-32.2,8.3m10.1-.7l-10.1,.7l9.2-4.3M544,309l-30.2,4.5m9.3,.4l-9.3-.4l8.8-3.1M563,309l-27.9,2.9m8.5,.7l-8.5-.7l8.2-2.5M583,309l-25.9,2.6m7.9,.7l-7.9-.7l7.6-2.2M602,309l-24.2,2.7m7.4,.6l-7.4-.6l7.1-2.2M621,309l-22.8,3m7,.4l-7-.4l6.7-2.2M641,309l-21.5,3.2m6.6,.3l-6.6-.3l6.3-2.2M660,309l-20.2,3.3m6.3,.2l-6.3-.2l5.9-2.1M680,309l-19.1,3.2m5.9,.1l-5.9-.1l5.5-2M699,309l-18,2.9m5.6,.2l-5.6-.2l5.2-1.9M718,309l-17.1,2.2m5.3,.3l-5.3-.3l5-1.6M738,309l-16.2,1.3m4.9,.5l-4.9-.5l4.8-1.3M757,309l-15.4,.2m4.6,.8l-4.6-.8l4.6-.9M776,309l-14.4-1.1m4.3,1.2l-4.3-1.2l4.4-.5M796,309l-13.3-2.4m3.9,1.5l-3.9-1.5l4.1,0M815,309l-12.1-3.5m3.4,1.7l-3.4-1.7l3.8,.4M835,309l-10.9-4.1m3,1.9l-3-1.9l3.5,.6M137,331l-.1,4.2m.3-1.3l-.3,1.3l-.2-1.3M156,331l-.5,4.3m.4-1.3l-.4,1.3l-.1-1.3M175,331l-.8,4.3m.5-1.2l-.5,1.2l0-1.3M195,331l-.9,4.2m.5-1.2l-.5,1.2l0-1.3M214,331l-.8,4.2m.5-1.2l-.5,1.2l0-1.3M234,331l-.7,4.2m.4-1.2l-.4,1.2l0-1.3M253,331l-.4,4.2m.4-1.2l-.4,1.2l-.1-1.3M272,331l-.1,4.3m.3-1.3l-.3,1.3l-.2-1.3M292,331l.3,4.6m.2-1.4l-.2,1.4l-.3-1.4M311,331l.6,5.1m.1-1.6l-.1,1.6l-.5-1.5M330,331l.9,5.8m.1-1.8l-.1,1.8l-.6-1.7M350,331l1,6.7m.1-2.1l-.1,2.1l-.7-2M369,331l.8,7.9m.2-2.4l-.2,2.4l-.7-2.3M389,331l.4,9.4m.4-2.8l-.4,2.8l-.7-2.8M408,331l-.5,11.1m.8-3.3l-.8,3.3l-.5-3.4M427,331l-2.1,13.2m1.4-3.8l-1.4,3.8l-.1-4.1M447,331l-4.9,15.3m2.3-4.3l-2.3,4.3l.6-4.9M466,331l-19.5,32.8m7.7-8.7l-7.7,8.7l4-10.9M486,331l-32.8,27m11.4-6.2l-11.4,6.2l8.3-10M505,331l-39,12m12.4-1.4l-12.4,1.4l11-5.8M524,331l-34.8,1.3m10.5,1.6l-10.5-1.6l10.4-2.4M544,331l-29.1-1.8m8.6,2.2l-8.6-2.2l8.8-1.1M563,331l-25.1-1.7m7.4,1.9l-7.4-1.9l7.6-.9M583,331l-22.5-.4m6.7,1.4l-6.7-1.4l6.8-1.2M602,331l-20.5,1m6.2,.9l-6.2-.9l6.1-1.5M621,331l-19,2.3m5.8,.4l-5.8-.4l5.6-1.8M641,331l-17.7,3.3m5.5,0l-5.5,0l5.1-2M660,331l-16.5,4.1m5.2-.3l-5.2,.3l4.7-2.2M680,331l-15.6,4.5m4.9-.5l-4.9,.5l4.4-2.2M699,331l-14.9,4.5m4.7-.5l-4.7,.5l4.2-2.2M718,331l-14.4,4.1m4.6-.4l-4.6,.4l4.1-2.1M738,331l-14.1,3.2m4.4-.1l-4.4,.1l4.1-1.8M757,331l-13.9,1.6m4.3,.3l-4.3-.3l4.1-1.3M776,331l-13.5-.3m4,.9l-4-.9l4.1-.7M796,331l-12.7-2.4m3.7,1.5l-3.7-1.5l4,0M815,331l-11.6-4.3m3.2,1.9l-3.2-1.9l3.7,.6M835,331l-10.3-5.5m2.8,2.2l-2.8-2.2l3.4,1.1M137,351l-.3,4.1m.3-1.2l-.3,1.2l-.1-1.2M156,351l-.7,4.3m.4-1.2l-.4,1.2l0-1.3M175,351l-.9,4.4m.5-1.3l-.5,1.3l0-1.4M195,351l-1,4.4m.6-1.3l-.6,1.3l.1-1.4M214,351l-1,4.4m.5-1.3l-.5,1.3l0-1.4M234,351l-.8,4.4m.5-1.3l-.5,1.3l0-1.4M253,351l-.5,4.5m.4-1.3l-.4,1.3l-.1-1.4M272,351l0,4.6m.3-1.4l-.3,1.4l-.2-1.4M292,351l.4,4.9m.2-1.5l-.2,1.5l-.4-1.4M311,351l.9,5.3m0-1.6l0,1.6l-.6-1.5M330,351l1.3,5.9m-.1-1.8l.1,1.8l-.7-1.7M350,351l1.6,6.8m-.1-2.1l.1,2.1l-.9-1.9M369,351l1.8,7.9m-.1-2.5l.1,2.5l-1-2.3M389,351l1.9,9.4m0-2.9l0,2.9l-1.1-2.7M408,351l1.6,11.3m.2-3.5l-.2,3.5l-1.1-3.3M427,351l.9,13.8m.5-4.2l-.5,4.2l-1.1-4.1M447,351l-.6,17.1m1.2-5.1l-1.2,5.1l-.8-5.2M466,351l-10,43.1m5.5-12.4l-5.5,12.4l.5-13.5M486,351l-25.5,30.4m9.4-7.7l-9.4,7.7l5.9-10.6M505,351l-37.4,1.7m11.3,1.6l-11.3-1.6l11.1-2.6M524,351l-32.6-12.9m9.1,5.7l-9.1-5.7l10.5,2M544,351l-24-10.4m6.6,4.5l-6.6-4.5l7.8,1.7M563,351l-19.9-6.8m5.6,3.2l-5.6-3.2l6.4,.9M583,351l-17.6-3.6m5.1,2.1l-5.1-2.1l5.5,.1M602,351l-16-.9m4.7,1.2l-4.7-1.2l4.8-.6M621,351l-14.7,1.3m4.5,.4l-4.5-.4l4.3-1.2M641,351l-13.6,3.2m4.3-.2l-4.3,.2l3.9-1.7M660,351l-12.6,4.6m4.1-.7l-4.1,.7l3.5-2.1M680,351l-11.9,5.6m3.9-1l-3.9,1l3.3-2.4M699,351l-11.6,6.2m3.8-1.2l-3.8,1.2l3.1-2.5M718,351l-11.7,6.1m3.9-1.2l-3.9,1.2l3.2-2.5M738,351l-12.3,5.2m4-.9l-4,.9l3.4-2.3M757,351l-13,3.3m4.1-.3l-4.1,.3l3.7-1.7M776,351l-13.4,.5m4,.6l-4-.6l4-.9M796,351l-13-2.7m3.7,1.5l-3.7-1.5l4,.1M815,351l-11.8-5.5m3.2,2.3l-3.2-2.3l3.8,1M835,351l-10.1-7.4m2.6,2.8l-2.6-2.8l3.5,1.6M137,371l-.5,3.7m.4-1.1l-.4,1.1l-.1-1.1M156,371l-.9,4m.5-1.1l-.5,1.1l0-1.2M175,371l-1.1,4.2m.6-1.2l-.6,1.2l.1-1.3M195,371l-1.2,4.3m.6-1.2l-.6,1.2l.1-1.4M214,371l-1.1,4.4m.6-1.3l-.6,1.3l.1-1.4M234,371l-.8,4.5m.5-1.3l-.5,1.3l0-1.4M253,371l-.5,4.5m.4-1.3l-.4,1.3l-.1-1.4M272,371l0,4.7m.3-1.4l-.3,1.4l-.3-1.4M292,371l.6,4.9m.1-1.5l-.1,1.5l-.5-1.4M311,371l1.2,5.2m-.1-1.6l.1,1.6l-.7-1.5M330,371l1.8,5.8m-.2-1.8l.2,1.8l-.9-1.6M350,371l2.4,6.5m-.3-2.1l.3,2.1l-1.1-1.8M369,371l2.9,7.5m-.4-2.4l.4,2.4l-1.3-2.1M389,371l3.4,8.8m-.5-2.8l.5,2.8l-1.5-2.4M408,371l4,10.5m-.6-3.4l.6,3.4l-1.8-2.9M427,371l4.6,12.8m-.7-4.1l.7,4.1l-2.1-3.6M447,371l11.3,32m-1.6-10.2l1.6,10.2l-5.2-8.9M466,371l16.3,42.5m-2.5-13.7l2.5,13.7l-7.3-11.8M486,371l6.6,18m-.9-5.8l.9,5.8l-3-5M505,371l-5.2-10.8m1,3.6l-1-3.6l2.2,3M524,371l-14-28.3m2.6,9.3l-2.6-9.3l5.8,7.7M544,371l-13.1-17.4m2.9,6l-2.9-6l4.9,4.5M563,371l-12.3-10.9m3.1,4l-3.1-4l4.3,2.6M583,371l-11.6-6.2m3.1,2.5l-3.1-2.5l3.8,1.2M602,371l-10.9-2.6m3.1,1.4l-3.1-1.4l3.4,.1M621,371l-10.2,.4m3.1,.5l-3.1-.5l3-.7M641,371l-9.4,2.9m3-.3l-3,.3l2.7-1.4M660,371l-8.7,5m2.9-1l-2.9,1l2.3-2M680,371l-8.3,6.7m2.9-1.5l-2.9,1.5l2.1-2.5M699,371l-8.4,7.9m3-1.9l-3,1.9l2.1-2.9M718,371l-9.2,8.5m3.2-2l-3.2,2l2.3-3.1M738,371l-10.8,8m3.7-1.8l-3.7,1.8l2.8-3M757,371l-13,5.8m4.2-1l-4.2,1l3.6-2.5M776,371l-14.7,1.7m4.5,.3l-4.5-.3l4.3-1.4M796,371l-14.7-3.3m4.2,1.8l-4.2-1.8l4.6,.1M815,371l-13-7.5m3.5,3l-3.5-3l4.3,1.5M835,371l-10.6-10.1m2.6,3.6l-2.6-3.6l3.8,2.4M137,391l-.8,3.2m.4-.9l-.4,.9l.1-1M156,391l-1.1,3.5m.5-1l-.5,1l.1-1.1M175,391l-1.3,3.8m.6-1.1l-.6,1.1l.2-1.2M195,391l-1.3,4m.6-1.1l-.6,1.1l.2-1.3M214,391l-1.2,4.2m.6-1.2l-.6,1.2l.1-1.3M234,391l-.9,4.3m.5-1.2l-.5,1.2l0-1.3M253,391l-.4,4.4m.4-1.3l-.4,1.3l-.1-1.3M272,391l.1,4.5m.2-1.4l-.2,1.4l-.3-1.4M292,391l.8,4.7m0-1.5l0,1.5l-.5-1.4M311,391l1.5,5m-.2-1.6l.2,1.6l-.7-1.4M330,391l2.3,5.4m-.4-1.7l.4,1.7l-1-1.5M350,391l3.1,6m-.6-2l.6,2l-1.3-1.6M369,391l3.9,6.7m-.8-2.2l.8,2.2l-1.6-1.8M389,391l4.8,7.7m-1-2.6l1,2.6l-1.9-2M408,391l6,8.8m-1.3-3l1.3,3l-2.3-2.3M427,391l7.5,10.2m-1.7-3.5l1.7,3.5l-2.8-2.6M447,391l20.3,23m-4.8-8.1l4.8,8.1l-7.4-5.7M466,391l29.9,22.3m-7.7-8.4l7.7,8.4l-10.2-5M486,391l38.4,5.3m-11.2-3.8l11.2,3.8l-11.8,.6M505,391l26.8-23.3m-9.4,5.5l9.4-5.5l-6.7,8.5M524,391l7.3-24.9m-3.6,7.1l3.6-7.1l-.8,7.9M544,391l-.9-18.2m-.8,5.5l.8-5.5l1.3,5.4M563,391l-4.1-12.4m.5,3.9l-.5-3.9l1.9,3.5M583,391l-5.4-7.6m1.2,2.6l-1.2-2.6l2.1,2M602,391l-5.8-3.7m1.5,1.4l-1.5-1.4l2,.8M621,391l-5.7-.3m1.7,.4l-1.7-.4l1.7-.2M641,391l-5.3,2.6m1.7-.5l-1.7,.5l1.4-1.1M660,391l-4.8,5.2m1.7-1.3l-1.7,1.3l1.1-1.8M680,391l-4.5,7.6m1.8-2l-1.8,2l.9-2.5M699,391l-4.7,9.7m2-2.6l-2,2.6l.9-3.2M718,391l-6,11.3m2.4-3.1l-2.4,3.1l1.1-3.7M738,391l-8.9,12m3.3-3.1l-3.3,3.1l2-4.1M757,391l-13.6,10m4.6-2.2l-4.6,2.2l3.5-3.8M776,391l-16,2.8m5,.1l-5-.1l4.6-1.8M796,391l-18-4.9m5.1,2.5l-5.1-2.5l5.7,.5M815,391l-15.1-11.1m3.9,4.2l-3.9-4.2l5.2,2.5M835,391l-11.2-14m2.6,4.8l-2.6-4.8l4.2,3.6M137,411l-1,2.5M156,411l-1.3,2.9M175,411l-1.4,3.3m.6-.9l-.6,.9l.2-1.1M195,411l-1.4,3.5m.6-1l-.6,1l.2-1.1M214,411l-1.2,3.8m.6-1.1l-.6,1.1l.2-1.2M234,411l-.9,3.9m.5-1.1l-.5,1.1l0-1.2M253,411l-.4,4.1m.3-1.2l-.3,1.2l-.1-1.3M272,411l.3,4.2m.2-1.3l-.2,1.3l-.3-1.3M292,411l1,4.4m0-1.4l0,1.4l-.5-1.3M311,411l1.8,4.6m-.3-1.5l.3,1.5l-.8-1.3M330,411l2.7,4.9m-.5-1.6l.5,1.6l-1.1-1.3M350,411l3.7,5.2m-.8-1.8l.8,1.8l-1.4-1.4M369,411l4.7,5.7m-1.1-2l1.1,2l-1.7-1.4M389,411l5.9,6.3m-1.4-2.2l1.4,2.2l-2.1-1.5M408,411l14.5,13.7m-3.6-4.9l3.6,4.9l-5.1-3.3M427,411l18.1,14.4m-4.6-5.4l4.6,5.4l-6.2-3.3M447,411l11.4,7m-3-2.7l3,2.7l-3.8-1.4M466,411l14.1,4.8m-4-2.2l4,2.2l-4.5-.6M486,411l30.9-.9m-9.3-1.5l9.3,1.5l-9.2,2M505,411l25-12.6m-8.2,2.4l8.2-2.4l-6.8,5.2M524,411l14.7-16.9m-5.4,4.2l5.4-4.2l-3.5,5.9M544,411l7-15.2m-3,4.2l3-4.2l-1.2,5M563,411l2.5-11.6m-1.4,3.3l1.4-3.3l-.1,3.6M583,411l.1-7.8m-.5,2.3l.5-2.3l.4,2.3M602,411l-1.1-4.2m.1,1.3l-.1-1.3l.6,1.2M621,411l-1.4-.8M641,411l-1.2,2.3M660,411l-.8,5.2m.5-1.5l-.5,1.5l-.1-1.6M680,411l-.3,8.1m.6-2.4l-.6,2.4l-.4-2.4M699,411l-.2,11m.7-3.3l-.7,3.3l-.6-3.3M718,411l-1.2,14.1m1.1-4.2l-1.1,4.2l-.5-4.3M738,411l-3.9,15.3m2.1-4.4l-2.1,4.4l.3-4.8M757,411l-5.8,7.9m2.2-2l-2.2,2l1.3-2.7M776,411l-7.9,0m2.4,.4l-2.4-.4l2.4-.5M796,411l-10.1-7.9m2.6,3l-2.6-3l3.5,1.8M815,411l-12.4-15.7m2.8,5.4l-2.8-5.4l4.6,4M835,411l-10.5-19.4m2.1,6.4l-2.1-6.4l4.3,5.2M137,432l-1.2,1.8M156,432l-1.5,2.3M175,432l-1.6,2.7M195,432l-1.5,3m.6-.8l-.6,.8l.3-1M214,432l-1.3,3.3m.6-.9l-.6,.9l.2-1.1M234,432l-.9,3.5m.5-1l-.5,1l.1-1.1M253,432l-.3,3.7m.3-1.1l-.3,1.1l-.1-1.1M272,432l.4,3.9m.1-1.2l-.1,1.2l-.3-1.1M292,432l1.2,4m-.1-1.3l.1,1.3l-.6-1.1M311,432l2.1,4.1m-.4-1.4l.4,1.4l-.9-1.1M330,432l3.1,4.2m-.7-1.5l.7,1.5l-1.2-1.1M350,432l4.1,4.4m-1-1.6l1,1.6l-1.5-1.1M369,432l5.3,4.6m-1.3-1.7l1.3,1.7l-1.8-1.1M389,432l13,9.6m-3.4-3.6l3.4,3.6l-4.5-2.1M408,432l15.8,9.7m-4.2-3.8l4.2,3.8l-5.3-2M427,432l18.9,9.2m-5.1-3.8l5.1,3.8l-6.2-1.7M447,432l11.1,3.8m-3.1-1.8l3.1,1.8l-3.5-.5M466,432l24.9,3.5m-7.3-2.5l7.3,2.5l-7.7,.4M486,432l25.2-2.7m-7.7-.6l7.7,.6l-7.4,2.2M505,432l21.9-8.7m-7.1,1.4l7.1-1.4l-6.1,3.9M524,432l16.3-12m-5.6,2.7l5.6-2.7l-4.2,4.5M544,432l10.9-12m-4,3l4-3l-2.6,4.2M563,432l6.9-10.1m-2.7,2.6l2.7-2.6l-1.5,3.4M583,432l4.4-7.3m-1.7,1.9l1.7-1.9l-.9,2.4M602,432l3-4.2m-1.1,1.1l1.1-1.1l-.7,1.4M621,432l2.5-1.2M641,432l2.6,1.9m-.7-.7l.7,.7l-.9-.4M660,432l3.2,4.8m-.7-1.6l.7,1.6l-1.2-1.3M680,432l4.2,7.9m-.8-2.6l.8,2.6l-1.7-2.1M699,432l5.2,11.2m-.9-3.6l.9,3.6l-2.2-3.1M718,432l5.9,15.3m-.9-4.9l.9,4.9l-2.6-4.2M738,432l4.8,12.6m-.7-4.1l.7,4.1l-2.2-3.5M757,432l2.8,5m-.6-1.7l.6,1.7l-1.1-1.4M776,432l.6-2.9M796,432l-1.8-11m-.1,3.4l.1-3.4l1.2,3.2M815,432l-4.4-18.9m.3,5.9l-.3-5.9l2.4,5.4M835,432l-6.5-25.3m.5,8l-.5-8l3.4,7.2M137,452l-1.5,1.1M156,452l-1.7,1.6M175,452l-1.8,2.1M195,452l-1.7,2.5M214,452l-1.4,2.8M234,452l-.9,3.1m.4-.9l-.4,.9l.1-1M253,452l-.6,6.5m.5-1.9l-.5,1.9l-.2-2M272,452l.5,3.4m.1-1.1l-.1,1.1l-.3-1M292,452l1.4,3.5m-.2-1.1l.2,1.1l-.6-1M311,452l2.3,3.6m-.5-1.2l.5,1.2l-.9-.9M330,452l6.8,7.2m-1.6-2.5l1.6,2.5l-2.4-1.8M350,452l9,7.2m-2.3-2.7l2.3,2.7l-3.1-1.6M369,452l11.3,7.1m-3-2.8l3,2.8l-3.8-1.5M389,452l13.7,6.9m-3.7-2.8l3.7,2.8l-4.5-1.3M408,452l16.2,6.3m-4.5-2.8l4.5,2.8l-5.2-1M427,452l18.7,5.3m-5.3-2.6l5.3,2.6l-5.9-.5M447,452l20.9,3.4m-6.1-2.2l6.1,2.2l-6.5,.2M466,452l22.3,.2m-6.7-1.3l6.7,1.3l-6.7,1.2M486,452l22-3.7m-6.8-.1l6.8,.1l-6.4,2.4M505,452l19.9-7.3m-6.4,1.1l6.4-1.1l-5.6,3.3M524,452l16.5-9.5m-5.5,1.9l5.5-1.9l-4.4,3.8M544,452l12.8-9.9m-4.4,2.2l4.4-2.2l-3.3,3.7M563,452l9.8-8.8m-3.4,2.1l3.4-2.1l-2.4,3.2M583,452l7.6-6.8m-2.7,1.6l2.7-1.6l-1.9,2.5M602,452l6.3-4.3m-2.1,.9l2.1-.9l-1.6,1.6M621,452l5.8-1.6m-1.8,.1l1.8-.1l-1.7,.8M641,452l6.1,1.1m-1.8-.7l1.8,.7l-1.9,0M660,452l7,3.9m-1.9-1.6l1.9,1.6l-2.3-.8M680,452l8.4,6.7m-2.2-2.5l2.2,2.5l-2.9-1.5M699,452l10.5,9.7m-2.6-3.5l2.6,3.5l-3.7-2.3M718,452l13.5,13.1m-3.3-4.7l3.3,4.7l-4.8-3.2M738,452l13.6,9.7m-3.5-3.7l3.5,3.7l-4.6-2.1M757,452l11.6,2.1m-3.4-1.3l3.4,1.3l-3.6,0M776,452l9.3-5.9m-3.1,1.2l3.1-1.2l-2.4,2.3M796,452l6.6-14m-2.8,3.8l2.8-3.8l-1.2,4.6M815,452l3.8-22m-2.4,6.4l2.4-6.4l.1,6.8M835,452l.9-28.6m-1.9,8.5l1.9-8.5l1.4,8.6M137,470l-1.6,.4M156,470l-1.8,1M175,470l-1.9,1.4M195,470l-1.7,1.9M214,470l-1.4,2.3M234,470l-1.7,5.2m.8-1.4l-.8,1.4l.2-1.6M253,470l-.4,5.6m.4-1.7l-.4,1.7l-.2-1.7M272,470l1.3,5.9m0-1.8l0,1.8l-.7-1.7M292,470l3.1,6.1m-.6-2l.6,2l-1.3-1.6M311,470l5.2,6.1m-1.2-2.1l1.2,2.1l-1.9-1.5M330,470l7.4,6m-1.9-2.2l1.9,2.2l-2.5-1.4M350,470l9.6,5.7m-2.6-2.3l2.6,2.3l-3.2-1.2M369,470l11.9,5.3m-3.3-2.3l3.3,2.3l-3.9-.9M389,470l14.1,4.8m-4-2.2l4,2.2l-4.5-.6M408,470l16.3,3.9m-4.7-2.1l4.7,2.1l-5.1-.2M427,470l18.3,2.6m-5.3-1.8l5.3,1.8l-5.6,.3M447,470l19.9,.8m-5.9-1.4l5.9,1.4l-6,.9M466,470l20.7-1.6m-6.3-.7l6.3,.7l-6.1,1.7M486,470l20.3-4.5m-6.4,.2l6.4-.2l-5.8,2.5M505,470l18.8-6.9m-6,1l6-1l-5.3,3.1M524,470l16.5-8.5m-5.4,1.6l5.4-1.6l-4.5,3.5M544,470l13.9-8.8m-4.7,1.9l4.7-1.9l-3.7,3.4M563,470l11.6-8.1m-3.9,1.8l3.9-1.8l-3,3.1M583,470l9.8-6.6m-3.3,1.4l3.3-1.4l-2.6,2.5M602,470l8.8-4.6m-2.9,.9l2.9-.9l-2.4,1.9M621,470l8.5-2.3m-2.7,.2l2.7-.2l-2.4,1.2M641,470l8.9,.1m-2.7-.5l2.7,.5l-2.7,.5M660,470l10,2.5m-2.9-1.3l2.9,1.3l-3.1-.2M680,470l11.8,4.8m-3.3-2.1l3.3,2.1l-3.8-.8M699,470l14.5,6.9m-3.9-2.9l3.9,2.9l-4.7-1.3M718,470l18.4,8.7m-5-3.7l5,3.7l-6-1.6M738,470l21.6,6.8m-6.1-3.3l6.1,3.3l-6.9-.8M757,470l19.5-.7m-5.9-.9l5.9,.9l-5.8,1.3M776,470l17.1-8.6m-5.6,1.6l5.6-1.6l-4.6,3.6M796,470l14.3-16.6m-5.2,4.2l5.2-4.2l-3.3,5.8M815,470l11.3-24.5m-4.8,6.7l4.8-6.7l-2,8M835,470l7.5-27.7m-3.8,7.9l3.8-7.9l-.7,8.7M137,490l-1.7-.3M156,490l-1.8,.2M175,490l-1.8,.8M195,490l-1.6,1.2M214,490l-2.4,3.3m.9-.9l-.9,.9l.5-1.1M234,490l-1.3,4m.6-1.1l-.6,1.1l.2-1.3M253,490l.2,4.5m.2-1.4l-.2,1.4l-.3-1.3M272,490l1,2.4M292,490l1.9,2.5M311,490l6,5m-1.5-1.8l1.5,1.8l-2.1-1.1M330,490l8.2,4.7m-2.2-1.9l2.2,1.9l-2.7-1M350,490l10.4,4.3m-2.9-1.9l2.9,1.9l-3.4-.7M369,490l12.5,3.7m-3.6-1.8l3.6,1.8l-4-.4M389,490l14.6,2.9m-4.2-1.7l4.2,1.7l-4.5,0M408,490l16.5,1.8m-4.9-1.5l4.9,1.5l-5.1,.4M427,490l18.1,.4m-5.4-1.2l5.4,1.2l-5.5,.9M447,490l19.3-1.3m-5.9-.7l5.9,.7l-5.7,1.5M466,490l19.8-3.1m-6.1-.2l6.1,.2l-5.8,2.1M486,490l19.5-5.2m-6.1,.5l6.1-.5l-5.5,2.7M505,490l18.4-7m-5.9,1.1l5.9-1.1l-5.1,3.1M524,490l16.7-8.1m-5.5,1.5l5.5-1.5l-4.6,3.4M544,490l14.9-8.4m-5,1.7l5-1.7l-4,3.4M563,490l13.2-8m-4.4,1.6l4.4-1.6l-3.5,3.1M583,490l11.9-6.8m-4,1.4l4-1.4l-3.2,2.7M602,490l11.2-5.2m-3.6,.9l3.6-.9l-3.1,2.2M621,490l11.1-3.3m-3.5,.4l3.5-.4l-3.1,1.6M641,490l11.6-1.4m-3.6-.3l3.6,.3l-3.4,1.1M660,490l12.8,.6m-3.8-.9l3.8,.9l-3.9,.6M680,490l14.7,2.2m-4.3-1.5l4.3,1.5l-4.5,.2M699,490l17.4,3.4m-5-2l5,2l-5.4,0M718,490l21,3.6m-6.1-2.3l6.1,2.3l-6.5,.1M738,490l25.6,1.9m-7.6-2l7.6,2l-7.8,.9M757,490l27.9-3.7m-8.6-.5l8.6,.5l-8.2,2.7M776,490l25.4-11.5m-8.3,2l8.3-2l-7,4.9M796,490l22.5-19.3m-7.9,4.5l7.9-4.5l-5.7,7.1M815,490l17.8-24.7m-6.7,6.4l6.7-6.4l-3.9,8.4M835,490l12.1-24.4m-5,6.6l5-6.6l-2.2,8M137,510l-1.6-.9M156,510l-1.6-.4M175,510l-1.5,.1M195,510l-1.3,.5M214,510l-.8,1M234,510l-.4,2.7M253,510l1.2,3.3m-.2-1l.2,1l-.6-.9M272,510l1.5,1.8M292,510l5.1,3.8m-1.3-1.4l1.3,1.4l-1.7-.9M311,510l7.2,3.8m-2-1.5l2,1.5l-2.4-.7M330,510l9.4,3.5m-2.6-1.6l2.6,1.6l-3-.5M350,510l11.6,3m-3.3-1.6l3.3,1.6l-3.6-.2M369,510l13.7,2.3m-4-1.5l4,1.5l-4.2,.1M389,510l15.6,1.3m-4.6-1.3l4.6,1.3l-4.7,.5M408,510l17.2,.1m-5.2-1l5.2,1l-5.2,.9M427,510l18.5-1.3m-5.6-.7l5.6,.7l-5.5,1.4M447,510l19.4-2.8m-6-.3l6,.3l-5.7,1.9M466,510l9.9-2.2m-3.1,.1l3.1-.1l-2.8,1.2M486,510l19.6-6m-6.2,.7l6.2-.7l-5.5,2.9M505,510l18.7-7.4m-6,1.2l6-1.2l-5.2,3.3M524,510l17.5-8.3m-5.7,1.5l5.7-1.5l-4.8,3.5M544,510l16.2-8.6m-5.3,1.7l5.3-1.7l-4.4,3.5M563,510l14.9-8.3m-4.9,1.6l4.9-1.6l-4,3.3M583,510l14-7.5m-4.6,1.4l4.6-1.4l-3.8,3M602,510l13.5-6.2m-4.4,1.1l4.4-1.1l-3.7,2.6M621,510l13.5-4.7m-4.3,.6l4.3-.6l-3.8,2.2M641,510l14-3.1m-4.4,.1l4.4-.1l-4,1.7M660,510l15.2-1.7m-4.7-.4l4.7,.4l-4.5,1.4M680,510l16.9-.5m-5.1-.8l5.1,.8l-5.1,1.1M699,510l19.2,0m-5.8-1.1l5.8,1.1l-5.8,1.1M718,510l22-.4m-6.6-1.1l6.6,1.1l-6.6,1.4M738,510l24.8-2.5m-7.6-.7l7.6,.7l-7.3,2.2M757,510l26.8-6.5m-8.4,.4l8.4-.4l-7.7,3.5M776,510l26.5-12m-8.6,2.1l8.6-2.1l-7.3,5.1M796,510l23.4-17m-8,3.8l8-3.8l-6.1,6.4M815,510l18.9-20m-6.8,4.9l6.8-4.9l-4.5,7.1M835,510l14.4-21m-5.5,5.5l5.5-5.5l-3.1,7.1M137,528l-1.2-1.5M156,528l-1.2-1.1M175,528l-1.1-.6M195,528l1.2,.4M214,528l1.2,.4M234,528l1.1,1.4M253,528l2.8,2m-.7-.8l.7,.8l-.9-.4M272,528l4.7,2.4m-1.3-1l1.3,1l-1.5-.5M292,528l6.8,2.6m-1.9-1.2l1.9,1.2l-2.2-.4M311,528l9,2.6m-2.5-1.3l2.5,1.3l-2.8-.3M330,528l11.2,2.3m-3.2-1.3l3.2,1.3l-3.5-.1M350,528l13.3,1.8m-3.9-1.3l3.9,1.3l-4.1,.2M369,528l15.3,1m-4.5-1.2l4.5,1.2l-4.6,.6M389,528l17,0m-5.1-1l5.1,1l-5.1,1M408,528l18.5-1.2m-5.6-.7l5.6,.7l-5.5,1.4M427,528l19.6-2.5m-6-.4l6,.4l-5.7,1.9M447,528l10.2-2m-3.2,0l3.2,0l-2.9,1.2M466,528l10.3-2.7m-3.2,.2l3.2-.2l-2.9,1.4M486,528l20.4-6.7m-6.5,.8l6.5-.8l-5.7,3.2M505,528l19.7-7.9m-6.4,1.2l6.4-1.2l-5.5,3.5M524,528l18.7-8.7m-6.1,1.6l6.1-1.6l-5.1,3.7M544,528l17.6-9.1m-5.8,1.7l5.8-1.7l-4.8,3.7M563,528l16.6-8.9m-5.5,1.7l5.5-1.7l-4.5,3.6M583,528l15.8-8.3m-5.2,1.6l5.2-1.6l-4.3,3.4M602,528l15.4-7.3m-5,1.3l5-1.3l-4.2,3.1M621,528l15.4-6.1m-5,.9l5-.9l-4.3,2.7M641,528l15.9-4.8m-5.1,.5l5.1-.5l-4.5,2.3M660,528l16.9-3.6m-5.3,.1l5.3-.1l-4.9,2.1M680,528l18.4-2.8m-5.7-.2l5.7,.2l-5.4,1.9M699,528l20.2-2.5m-6.2-.4l6.2,.4l-5.9,1.9M718,528l22.1-3.1m-6.8-.3l6.8,.3l-6.5,2.2M738,528l23.8-4.8m-7.4,.1l7.4-.1l-6.9,2.8M757,528l24.7-7.6m-7.9,.9l7.9-.9l-7,3.7M776,528l24.2-11.1m-7.9,2l7.9-2l-6.6,4.7M796,528l22.1-14.5m-7.4,3.1l7.4-3.1l-5.8,5.6M815,528l18.8-16.9m-6.6,4l6.6-4l-4.7,6.1M835,528l15.2-18.1m-5.6,4.6l5.6-4.6l-3.5,6.3M137,547l-.7-2M156,547l-.6-1.7M175,547l-.3-1.2M195,547l1.2,.4M214,547l1.2,.4M234,547l1.6,0M253,547l5,.6m-1.5-.5l1.5,.5l-1.5,.1M272,547l7,1m-2-.7l2,.7l-2.2,.1M292,547l9.2,1.3m-2.7-.9l2.7,.9l-2.8,.1M311,547l11.4,1.3m-3.4-1l3.4,1l-3.5,.3M330,547l13.6,1m-4-1.1l4,1.1l-4.1,.5M350,547l15.7,.5m-4.7-1l4.7,1l-4.7,.7M369,547l17.5-.2m-5.3-.9l5.3,.9l-5.2,1.1M389,547l19.1-1.2m-5.8-.7l5.8,.7l-5.7,1.4M408,547l20.4-2.3m-6.3-.5l6.3,.5l-6,1.9M427,547l21.3-3.6m-6.6-.1l6.6,.1l-6.2,2.3M447,547l10.9-2.5m-3.4,.1l3.4-.1l-3.1,1.4M466,547l10.9-3.1m-3.5,.3l3.5-.3l-3.1,1.6M486,547l21.6-7.4m-6.9,1l6.9-1l-6.1,3.5M505,547l21-8.4m-6.8,1.3l6.8-1.3l-5.8,3.7M524,547l20.1-9.1m-6.5,1.6l6.5-1.6l-5.5,3.9M544,547l19-9.5m-6.2,1.8l6.2-1.8l-5.2,3.9M563,547l18.1-9.4m-6,1.8l6-1.8l-4.9,3.9M583,547l17.3-9m-5.7,1.7l5.7-1.7l-4.7,3.7M602,547l16.9-8.2m-5.5,1.5l5.5-1.5l-4.6,3.4M621,547l16.8-7.2m-5.5,1.2l5.5-1.2l-4.6,3.1M641,547l17.2-6.2m-5.5,.9l5.5-.9l-4.8,2.8M660,547l17.9-5.2m-5.7,.5l5.7-.5l-5.1,2.6M680,547l19-4.5m-6,.3l6-.3l-5.4,2.4M699,547l20.3-4.3m-6.3,.1l6.3-.1l-5.8,2.5M718,547l21.6-4.7m-6.8,.2l6.8-.2l-6.2,2.7M738,547l22.6-5.9m-7.1,.5l7.1-.5l-6.4,3.1M757,547l23-7.8m-7.3,1l7.3-1l-6.4,3.7M776,547l22.3-10.2m-7.3,1.8l7.3-1.8l-6.1,4.3M796,547l20.6-12.5m-6.9,2.6l6.9-2.6l-5.5,4.9M815,547l18.1-14.3m-6.2,3.3l6.2-3.3l-4.6,5.3M835,547l15-15.3m-5.4,3.7l5.4-3.7l-3.6,5.5M137,567l.2-2.5M156,567l.4-2.2M175,567l.8-1.9M195,567l1.4-1.5M214,567l2.1-1.2M234,567l3-.8M253,567l4-.5m-1.2-.1l1.2,.1l-1.2,.4M272,567l10.1-.6m-3.1-.4l3.1,.4l-3,.8M292,567l12.4-.3m-3.7-.6l3.7,.6l-3.7,.8M311,567l14.6-.2m-4.4-.8l4.4,.8l-4.4,.9M330,567l16.8-.4m-5.1-.8l5.1,.8l-5,1.1M350,567l18.8-.8m-5.7-.8l5.7,.8l-5.6,1.3M369,567l20.5-1.5m-6.2-.7l6.2,.7l-6.1,1.6M389,567l21.9-2.3m-6.7-.5l6.7,.5l-6.4,1.9M408,567l22.9-3.4m-7.1-.3l7.1,.3l-6.7,2.3M427,567l23.6-4.5m-7.3,0l7.3,0l-6.8,2.7M447,567l11.9-2.9m-3.7,.2l3.7-.2l-3.4,1.5M466,567l11.8-3.4m-3.7,.4l3.7-.4l-3.3,1.7M486,567l23.1-7.9m-7.4,1.1l7.4-1.1l-6.5,3.7M505,567l22.4-8.8m-7.2,1.4l7.2-1.4l-6.2,3.9M524,567l21.5-9.4m-7,1.6l7-1.6l-5.9,4M544,567l20.3-9.7m-6.7,1.8l6.7-1.8l-5.5,4.1M563,567l19.3-9.7m-6.3,1.8l6.3-1.8l-5.2,4M583,567l18.4-9.4m-6,1.8l6-1.8l-5,3.9M602,567l17.8-8.8m-5.8,1.6l5.8-1.6l-4.8,3.6M621,567l17.5-8m-5.7,1.4l5.7-1.4l-4.8,3.4M641,567l17.6-7.1m-5.7,1.1l5.7-1.1l-4.9,3.1M660,567l18-6.2m-5.8,.8l5.8-.8l-5,2.9M680,567l18.7-5.6m-5.9,.6l5.9-.6l-5.3,2.7M699,567l19.5-5.3m-6.1,.5l6.1-.5l-5.5,2.7M718,567l20.2-5.5m-6.4,.5l6.4-.5l-5.8,2.8M738,567l20.7-6.2m-6.6,.7l6.6-.7l-5.9,3M757,567l20.7-7.3m-6.6,1l6.6-1l-5.8,3.4M776,567l20-8.8m-6.5,1.5l6.5-1.5l-5.5,3.8M796,567l18.6-10.3m-6.2,2l6.2-2l-5,4.2M815,567l16.5-11.5m-5.6,2.5l5.6-2.5l-4.3,4.4M835,567l13.9-12.3m-4.9,2.9l4.9-2.9l-3.5,4.5M137,585l1-2.8M156,585l1.4-2.7M175,585l1.9-2.4M195,585l2.5-2.1m-.9,.5l.9-.5l-.6,.8M214,585l3.3-1.8m-1.1,.4l1.1-.4l-.9,.7M234,585l4.3-1.5m-1.4,.2l1.4-.2l-1.2,.7M253,585l5.4-1.2m-1.7,.1l1.7-.1l-1.5,.7M272,585l13-2m-4-.2l4,.2l-3.8,1.3M292,585l15.3-1.6m-4.7-.4l4.7,.4l-4.5,1.4M311,585l17.6-1.5m-5.4-.5l5.4,.5l-5.2,1.5M330,585l19.7-1.6m-6-.6l6,.6l-5.8,1.6M350,585l21.6-1.9m-6.6-.7l6.6,.7l-6.4,1.8M369,585l23.2-2.4m-7.1-.6l7.1,.6l-6.8,2M389,585l24.4-3.1m-7.5-.5l7.5,.5l-7.1,2.3M408,585l25.2-4m-7.8-.2l7.8,.2l-7.3,2.6M427,585l25.6-5m-8,.1l8-.1l-7.4,3M447,585l25.5-6.1m-8,.4l8-.4l-7.3,3.3M466,585l25.1-7.1m-7.9,.7l7.9-.7l-7.1,3.6M486,585l12.2-4m-3.9,.5l3.9-.5l-3.4,1.9M505,585l23.3-8.8m-7.5,1.3l7.5-1.3l-6.5,4M524,585l22.2-9.3m-7.2,1.5l7.2-1.5l-6.1,4.1M544,585l21-9.6m-6.9,1.7l6.9-1.7l-5.8,4.1M563,585l19.8-9.6m-6.5,1.8l6.5-1.8l-5.4,4M583,585l18.7-9.4m-6.1,1.7l6.1-1.7l-5.1,3.9M602,585l17.9-8.8m-5.9,1.6l5.9-1.6l-4.9,3.7M621,585l17.3-8.1m-5.7,1.5l5.7-1.5l-4.7,3.4M641,585l17.1-7.3m-5.6,1.2l5.6-1.2l-4.7,3.2M660,585l17.2-6.6m-5.5,1l5.5-1l-4.8,3M680,585l17.5-5.9m-5.6,.8l5.6-.8l-4.9,2.8M699,585l18-5.5m-5.7,.6l5.7-.6l-5.1,2.7M718,585l18.4-5.4m-5.8,.6l5.8-.6l-5.2,2.7M738,585l18.6-5.7m-5.9,.7l5.9-.7l-5.2,2.8M757,585l18.4-6.4m-5.9,.9l5.9-.9l-5.1,3M776,585l17.7-7.3m-5.7,1.2l5.7-1.2l-4.9,3.2M796,585l16.3-8.1m-5.4,1.5l5.4-1.5l-4.4,3.4M815,585l14.5-8.8m-4.9,1.8l4.9-1.8l-3.8,3.5M835,585l12.4-9.5m-4.2,2.1l4.2-2.1l-3.2,3.5M137,604l3.5-6m-1.4,1.6l1.4-1.6l-.7,2M156,604l2.2-2.9m-.8,.7l.8-.7l-.5,1M175,604l2.8-2.8m-1,.7l1-.7l-.7,1M195,604l3.5-2.6m-1.2,.6l1.2-.6l-.9,1M214,604l4.4-2.3m-1.4,.4l1.4-.4l-1.2,.9M234,604l5.4-2m-1.7,.3l1.7-.3l-1.5,.9M253,604l6.5-1.7m-2.1,.2l2.1-.2l-1.9,.9M272,604l15.3-3m-4.8,0l4.8,0l-4.4,1.8M292,604l17.6-2.6m-5.4-.2l5.4,.2l-5.1,1.8M311,604l19.9-2.4m-6.1-.4l6.1,.4l-5.8,1.9M330,604l21.9-2.4m-6.7-.5l6.7,.5l-6.4,2M350,604l23.7-2.5m-7.3-.6l7.3,.6l-7,2.1M369,604l25.1-2.9m-7.7-.6l7.7,.6l-7.4,2.3M389,604l26.2-3.5m-8-.4l8,.4l-7.6,2.5M408,604l26.7-4.2m-8.3-.3l8.3,.3l-7.8,2.8M427,604l26.9-5m-8.3,0l8.3,0l-7.8,3M447,604l26.6-6m-8.3,.3l8.3-.3l-7.6,3.3M466,604l25.9-6.9m-8.2,.6l8.2-.6l-7.4,3.5M486,604l24.9-7.7m-7.9,.9l7.9-.9l-7,3.7M505,604l23.6-8.4m-7.6,1.2l7.6-1.2l-6.6,3.9M524,604l22.2-8.9m-7.2,1.4l7.2-1.4l-6.2,3.9M544,604l20.8-9.1m-6.8,1.6l6.8-1.6l-5.7,3.9M563,604l19.5-9.2m-6.4,1.6l6.4-1.6l-5.3,3.9M583,604l18.4-9m-6,1.6l6-1.6l-5,3.7M602,604l17.3-8.5m-5.7,1.6l5.7-1.6l-4.7,3.5M621,604l16.6-7.9m-5.4,1.4l5.4-1.4l-4.5,3.3M641,604l16.1-7.2m-5.2,1.3l5.2-1.3l-4.4,3.1M660,604l15.9-6.5m-5.2,1l5.2-1l-4.4,2.9M680,604l16-5.8m-5.1,.8l5.1-.8l-4.5,2.7M699,604l16.1-5.3m-5.1,.7l5.1-.7l-4.5,2.5M718,604l16.3-5m-5.2,.6l5.2-.6l-4.6,2.4M738,604l16.3-5m-5.2,.6l5.2-.6l-4.6,2.4M757,604l15.9-5.2m-5.1,.6l5.1-.6l-4.5,2.5M776,604l15.2-5.5m-4.9,.8l4.9-.8l-4.2,2.5M796,604l14-5.9m-4.5,1l4.5-1l-3.9,2.6M815,604l12.5-6.4m-4.1,1.2l4.1-1.2l-3.4,2.6M835,604l10.7-6.9m-3.6,1.4l3.6-1.4l-2.8,2.7M137,622l4.5-5.8m-1.7,1.5l1.7-1.5l-1,2M156,622l5.4-5.8m-2,1.4l2-1.4l-1.3,2.1M175,622l3.3-2.8m-1.2,.7l1.2-.7l-.8,1M195,622l4.1-2.7m-1.4,.6l1.4-.6l-1.1,1M214,622l5-2.5m-1.6,.5l1.6-.5l-1.4,1M234,622l6-2.3m-1.9,.3l1.9-.3l-1.7,1M253,622l7.1-2m-2.2,.2l2.2-.2l-2,1M272,622l16.5-3.5m-5.1,.1l5.1-.1l-4.7,2M292,622l18.7-3.1m-5.8-.1l5.8,.1l-5.4,2M311,622l20.9-2.8m-6.4-.4l6.4,.4l-6.1,2M330,622l22.8-2.6m-7-.5l7,.5l-6.7,2.1M350,622l24.5-2.6m-7.5-.6l7.5,.6l-7.2,2.2M369,622l25.7-2.8m-7.9-.6l7.9,.6l-7.6,2.3M389,622l26.6-3.2m-8.2-.6l8.2,.6l-7.8,2.5M408,622l27-3.7m-8.3-.4l8.3,.4l-7.9,2.7M427,622l26.9-4.4m-8.3-.2l8.3,.2l-7.8,2.9M447,622l26.4-5.2m-8.2,.1l8.2-.1l-7.6,3.1M466,622l25.5-6m-8,.3l8-.3l-7.3,3.2M486,622l12.2-3.4m-3.8,.3l3.8-.3l-3.5,1.7M505,622l22.9-7.4m-7.3,.9l7.3-.9l-6.4,3.5M524,622l10.7-4m-3.4,.6l3.4-.6l-3,1.8M544,622l19.8-8.2m-6.4,1.3l6.4-1.3l-5.5,3.6M563,622l18.3-8.3m-6,1.5l6-1.5l-5,3.5M583,622l17-8.2m-5.6,1.5l5.6-1.5l-4.6,3.4M602,622l15.9-7.9m-5.2,1.5l5.2-1.5l-4.3,3.3M621,622l15.1-7.4m-5,1.4l5-1.4l-4.1,3.1M641,622l14.6-6.8m-4.8,1.2l4.8-1.2l-4,2.9M660,622l14.3-6.1m-4.6,1l4.6-1l-3.9,2.7M680,622l14.1-5.5m-4.6,.8l4.6-.8l-3.9,2.5M699,622l14.1-4.9m-4.5,.7l4.5-.7l-4,2.3M718,622l14.1-4.4m-4.5,.5l4.5-.5l-4,2.1M738,622l13.9-4.1m-4.4,.4l4.4-.4l-3.9,2M757,622l13.5-3.9m-4.3,.4l4.3-.4l-3.8,2M776,622l12.9-3.9m-4.1,.4l4.1-.4l-3.6,1.9M796,622l12-4.1m-3.8,.5l3.8-.5l-3.4,1.9M815,622l10.7-4.3m-3.5,.7l3.5-.7l-3,1.9M835,622l9.2-4.5m-3,.8l3-.8l-2.5,1.9M137,641l4.7-5m-1.7,1.2l1.7-1.2l-1.1,1.8M156,641l5.6-5.3m-2,1.3l2-1.3l-1.4,1.9M175,641l6.8-5.3m-2.3,1.2l2.3-1.2l-1.7,2M195,641l4.1-2.6m-1.4,.5l1.4-.5l-1.1,1M214,641l5-2.4m-1.6,.4l1.6-.4l-1.4,1M234,641l11.9-4.4m-3.8,.6l3.8-.6l-3.3,2M253,641l14-3.9m-4.4,.4l4.4-.4l-4,2M272,641l16.1-3.3m-5,.1l5-.1l-4.7,1.9M292,641l18.3-2.8m-5.6-.2l5.6,.2l-5.3,1.9M311,641l20.3-2.4m-6.2-.4l6.2,.4l-5.9,1.9M330,641l22.1-2.1m-6.7-.6l6.7,.6l-6.5,1.9M350,641l23.6-2m-7.2-.7l7.2,.7l-7,1.9M369,641l24.7-2m-7.5-.8l7.5,.8l-7.3,2M389,641l25.3-2.2m-7.7-.8l7.7,.8l-7.5,2.1M408,641l25.6-2.6m-7.8-.7l7.8,.7l-7.5,2.2M427,641l12.7-1.6m-3.9-.3l3.9,.3l-3.7,1.2M447,641l24.7-3.8m-7.6-.3l7.6,.3l-7.2,2.5M466,641l23.7-4.5m-7.4,0l7.4,0l-6.9,2.7M486,641l22.4-5.2m-7,.3l7-.3l-6.4,2.8M505,641l20.9-5.8m-6.6,.6l6.6-.6l-5.9,2.9M524,641l19.3-6.4m-6.2,.8l6.2-.8l-5.4,3M544,641l17.7-6.8m-5.7,1l5.7-1l-4.9,3M563,641l16.2-7m-5.3,1.2l5.3-1.2l-4.5,3M583,641l14.9-7m-4.9,1.3l4.9-1.3l-4.1,3M602,641l13.7-6.9m-4.5,1.3l4.5-1.3l-3.7,2.9M621,641l12.9-6.6m-4.2,1.2l4.2-1.2l-3.5,2.7M641,641l12.3-6.1m-4,1.1l4-1.1l-3.4,2.5M660,641l12-5.5m-3.9,1l3.9-1l-3.3,2.3M680,641l11.8-4.9m-3.8,.8l3.8-.8l-3.3,2.1M699,641l11.8-4.3m-3.8,.6l3.8-.6l-3.3,2M718,641l11.8-3.7m-3.7,.4l3.7-.4l-3.3,1.8M738,641l11.7-3.2m-3.7,.3l3.7-.3l-3.3,1.6M757,641l11.4-2.9m-3.6,.2l3.6-.2l-3.3,1.5M776,641l10.9-2.6m-3.4,.2l3.4-.2l-3.1,1.4M796,641l10.2-2.5m-3.2,.2l3.2-.2l-2.9,1.3M815,641l9.2-2.5m-2.9,.2l2.9-.2l-2.6,1.3M835,641l7.9-2.5m-2.5,.3l2.5-.3l-2.2,1.2M137,659l4.3-3.9m-1.5,.9l1.5-.9l-1.1,1.4M156,659l5-4.3m-1.8,1l1.8-1l-1.3,1.6M175,659l6-4.4m-2.1,1l2.1-1l-1.6,1.7M195,659l7.3-4.3m-2.4,.9l2.4-.9l-2,1.7M214,659l8.9-4.1m-2.9,.7l2.9-.7l-2.4,1.7M234,659l10.6-3.7m-3.4,.5l3.4-.5l-3,1.7M253,659l12.5-3.2m-3.9,.2l3.9-.2l-3.6,1.7M272,659l14.5-2.6m-4.5,0l4.5,0l-4.2,1.6M292,659l16.4-2.1m-5-.3l5,.3l-4.8,1.6M311,659l18.2-1.6m-5.6-.6l5.6,.6l-5.4,1.5M330,659l19.8-1.1m-6-.8l6,.8l-5.9,1.5M350,659l21.1-.8m-6.4-1l6.4,1l-6.3,1.4M369,659l22.1-.7m-6.7-1.1l6.7,1.1l-6.6,1.5M389,659l22.6-.7m-6.8-1.1l6.8,1.1l-6.7,1.5M408,659l11.3-.5m-3.4-.5l3.4,.5l-3.4,.8M427,659l22.4-1.3m-6.8-.9l6.8,.9l-6.6,1.7M447,659l21.7-1.8m-6.6-.7l6.6,.7l-6.4,1.8M466,659l20.6-2.4m-6.3-.4l6.3,.4l-6,1.9M486,659l19.3-3.1m-6-.2l6,.2l-5.6,2M505,659l17.8-3.8m-5.6,.1l5.6-.1l-5.1,2.1M524,659l16.2-4.4m-5.1,.4l5.1-.4l-4.6,2.2M544,659l14.7-4.9m-4.7,.6l4.7-.6l-4.1,2.3M563,659l13.3-5.3m-4.3,.8l4.3-.8l-3.7,2.3M583,659l12-5.5m-3.9,1l3.9-1l-3.3,2.3M602,659l11-5.6m-3.6,1l3.6-1l-3,2.3M621,659l10.2-5.4m-3.4,1l3.4-1l-2.8,2.2M641,659l9.7-5.1m-3.2,1l3.2-1l-2.6,2.1M660,659l9.5-4.7m-3.1,.9l3.1-.9l-2.6,2M680,659l9.4-4.2m-3.1,.7l3.1-.7l-2.6,1.8M699,659l9.4-3.6m-3,.5l3-.5l-2.6,1.6M718,659l9.5-3m-3,.4l3-.4l-2.7,1.5M738,659l9.6-2.5m-3,.2l3-.2l-2.7,1.3M757,659l9.5-2m-3,0l3,0l-2.7,1.1M776,659l9.2-1.5m-2.8-.1l2.8,.1l-2.7,1M796,659l8.7-1.2m-2.7-.1l2.7,.1l-2.5,.9M815,659l7.9-1m-2.4-.1l2.4,.1l-2.3,.7M835,659l6.9-.9m-2.1-.1l2.1,.1l-2,.7M137,677l3.4-2.6m-1.2,.6l1.2-.6l-.9,1M156,677l4-3m-1.4,.7l1.4-.7l-1,1.1M175,677l4.8-3.3m-1.6,.7l1.6-.7l-1.2,1.3M195,677l5.8-3.3m-1.9,.7l1.9-.7l-1.6,1.3M214,677l7.1-3.1m-2.3,.5l2.3-.5l-2,1.3M234,677l8.6-2.8m-2.7,.3l2.7-.3l-2.4,1.3M253,677l10.3-2.3m-3.2,.1l3.2-.1l-2.9,1.3M272,677l12-1.7m-3.7-.2l3.7,.2l-3.5,1.2M292,677l13.7-1.1m-4.2-.5l4.2,.5l-4,1.1M311,677l15.2-.4m-4.6-.7l4.6,.7l-4.5,1M330,677l16.6,.1m-5-1l5,1l-5,.9M350,677l17.7,.6m-5.3-1.2l5.3,1.2l-5.4,.8M369,677l18.5,.9m-5.5-1.3l5.5,1.3l-5.6,.8M389,677l18.9,1m-5.6-1.4l5.6,1.4l-5.7,.8M408,677l18.9,1m-5.6-1.4l5.6,1.4l-5.7,.8M427,677l18.5,.7m-5.5-1.3l5.5,1.3l-5.6,.8M447,677l17.8,.3m-5.3-1.1l5.3,1.1l-5.4,.9M466,677l16.8-.2m-5-.9l5,.9l-5,1M486,677l7.7-.4m-2.3-.3l2.3,.3l-2.3,.6M505,677l7-.8m-2.2-.2l2.2,.2l-2.1,.6M524,677l6.3-1.1m-2,0l2,0l-1.8,.7M544,677l5.6-1.4m-1.8,.1l1.8-.1l-1.6,.7M563,677l9.9-3.4m-3.2,.5l3.2-.5l-2.8,1.6M583,677l8.8-3.8m-2.8,.6l2.8-.6l-2.4,1.6M602,677l7.9-4m-2.6,.8l2.6-.8l-2.1,1.7M621,677l7.3-4.1m-2.4,.8l2.4-.8l-1.9,1.7M641,677l6.9-4m-2.3,.8l2.3-.8l-1.9,1.6M660,677l6.8-3.8m-2.3,.8l2.3-.8l-1.8,1.5M680,677l6.9-3.4m-2.3,.6l2.3-.6l-1.9,1.4M699,677l7.1-2.9m-2.3,.5l2.3-.5l-2,1.3M718,677l7.4-2.4m-2.4,.3l2.4-.3l-2.1,1.1M738,677l7.6-1.8m-2.4,.1l2.4-.1l-2.2,1M757,677l7.7-1.2m-2.4-.1l2.4,.1l-2.2,.8M776,677l7.6-.7m-2.3-.2l2.3,.2l-2.2,.6M796,677l7.3-.2m-2.2-.3l2.2,.3l-2.2,.5M815,677l6.8,.1m-2-.4l2,.4l-2,.3M835,677l6,.4m-1.8-.5l1.8,.5l-1.8,.2M137,696l2.5-1.3M156,696l2.8-1.8m-.9,.4l.9-.4l-.7,.7M175,696l3.3-2.1m-1.1,.4l1.1-.4l-.9,.8M195,696l4.2-2.2m-1.4,.4l1.4-.4l-1.1,.9M214,696l5.2-2.1m-1.7,.3l1.7-.3l-1.4,.9M234,696l6.4-1.8m-2,.2l2-.2l-1.8,.9M253,696l7.8-1.4m-2.4,0l2.4,0l-2.3,.9M272,696l9.3-.8m-2.8-.3l2.8,.3l-2.7,.8M292,696l10.7-.1m-3.2-.6l3.2,.6l-3.2,.6M311,696l12,.6m-3.6-.9l3.6,.9l-3.6,.5M330,696l13.2,1.2m-3.9-1.1l3.9,1.1l-4,.4M350,696l14.2,1.8m-4.1-1.3l4.1,1.3l-4.3,.3M369,696l14.8,2.2m-4.3-1.5l4.3,1.5l-4.6,.2M389,696l7.5,1.3m-2.2-.8l2.2,.8l-2.3,0M408,696l15,2.6m-4.3-1.6l4.3,1.6l-4.6,.1M427,696l14.6,2.6m-4.2-1.6l4.2,1.6l-4.5,.1M447,696l13.8,2.3m-4-1.5l4,1.5l-4.3,.1M466,696l12.8,1.8m-3.7-1.3l3.7,1.3l-3.9,.2M486,696l11.6,1.3m-3.4-1l3.4,1l-3.5,.3M505,696l10.3,.6m-3-.8l3,.8l-3.1,.4M524,696l4.5-.1m-1.3-.2l1.3,.2l-1.3,.3M544,696l3.8-.4m-1.2-.1l1.2,.1l-1.1,.3M563,696l6.5-1.5m-2,.1l2-.1l-1.9,.8M583,696l5.6-2.1m-1.8,.3l1.8-.3l-1.5,.9M602,696l4.9-2.6m-1.6,.5l1.6-.5l-1.3,1M621,696l4.4-2.9m-1.5,.6l1.5-.6l-1.2,1.1M641,696l4.3-3m-1.5,.6l1.5-.6l-1.1,1.1M660,696l4.4-2.9m-1.5,.6l1.5-.6l-1.1,1.1M680,696l4.7-2.7m-1.6,.6l1.6-.6l-1.2,1.1M699,696l5-2.4m-1.6,.4l1.6-.4l-1.4,1M718,696l5.5-1.9m-1.8,.3l1.8-.3l-1.5,.9M738,696l5.9-1.4m-1.8,.1l1.8-.1l-1.7,.7M757,696l6.2-.8m-1.9-.1l1.9,.1l-1.8,.6M776,696l6.3-.2m-1.9-.3l1.9,.3l-1.9,.4M796,696l6.3,.4m-1.9-.5l1.9,.5l-1.9,.2M815,696l5.9,.9m-1.7-.6l1.7,.6l-1.8,.1M835,696l5.4,1.3m-1.5-.7l1.5,.7l-1.7-.1M137,714l1.2,.4M156,714l1.2,.4M175,714l2.1-1.1M195,714l2.7-1.3M214,714l3.5-1.3m-1.1,.2l1.1-.2l-1,.6M234,714l4.5-1.1m-1.4,.1l1.4-.1l-1.3,.6M253,714l5.6-.7m-1.7-.1l1.7,.1l-1.6,.5M272,714l6.8-.2m-2.1-.3l2.1,.3l-2,.4M292,714l8,.5m-2.4-.6l2.4,.6l-2.4,.3M311,714l9.2,1.2m-2.7-.9l2.7,.9l-2.8,.2M330,714l10.2,1.9m-2.9-1.2l2.9,1.2l-3.2,0M350,714l10.9,2.6m-3.1-1.4l3.1,1.4l-3.4-.1M369,714l11.4,3.2m-3.3-1.6l3.3,1.6l-3.6-.3M389,714l5.8,1.8m-1.6-.9l1.6,.9l-1.8-.2M408,714l5.7,1.9m-1.6-.9l1.6,.9l-1.8-.3M427,714l11,3.9m-3.1-1.8l3.1,1.8l-3.5-.5M447,714l10.3,3.8m-2.9-1.7l2.9,1.7l-3.3-.6M466,714l9.3,3.5m-2.6-1.6l2.6,1.6l-3-.5M486,714l8.1,3m-2.3-1.4l2.3,1.4l-2.6-.4M505,714l6.9,2.3m-1.9-1.1l1.9,1.1l-2.2-.3M524,714l5.7,1.6m-1.6-.8l1.6,.8l-1.8-.2M544,714l4.5,.8m-1.3-.5l1.3,.5l-1.4,0M563,714l3.5,.1m-1.1-.2l1.1,.2l-1.1,.2M583,714l2.7-.7M602,714l2.2-1.3M621,714l2-1.8M641,714l2-2.1M660,714l2.3-2.2M680,714l2.7-2.2m-.9,.5l.9-.5l-.7,.8M699,714l3.3-2m-1.1,.4l1.1-.4l-.9,.8M718,714l3.9-1.6m-1.3,.3l1.3-.3l-1.1,.7M738,714l4.5-1.1m-1.4,.1l1.4-.1l-1.3,.6M757,714l5-.5m-1.5-.1l1.5,.1l-1.5,.4M776,714l5.3,.1m-1.6-.3l1.6,.3l-1.6,.3M796,714l5.4,.7m-1.6-.5l1.6,.5l-1.7,.1M815,714l5.3,1.3m-1.5-.7l1.5,.7l-1.7-.1M835,714l4.9,1.8m-1.4-.8l1.4,.8l-1.6-.3M137,731l1.2,.4M156,731l1.2,.4M175,731l1.3-.5M195,731l1.7-.8M214,731l2.3-.9M234,731l3.1-.8M253,731l4-.5m-1.2-.1l1.2,.1l-1.2,.4M272,731l5.1,0m-1.5-.3l1.5,.3l-1.5,.3M292,731l6.1,.6m-1.8-.5l1.8,.5l-1.9,.2M311,731l7.1,1.3m-2.1-.8l2.1,.8l-2.2,0M330,731l7.9,2.1m-2.3-1.1l2.3,1.1l-2.5-.2M350,731l4.3,1.4m-1.2-.7l1.2,.7l-1.4-.2M369,731l4.5,1.7m-1.2-.8l1.2,.8l-1.4-.3M389,731l4.5,2m-1.2-.9l1.2,.9l-1.5-.3M408,731l4.4,2.2m-1.2-.9l1.2,.9l-1.5-.4M427,731l8.4,4.6m-2.3-1.9l2.3,1.9l-2.8-.9M447,731l7.6,4.6m-2-1.8l2,1.8l-2.6-.9M466,731l6.7,4.4m-1.8-1.7l1.8,1.7l-2.3-.9M486,731l5.6,4m-1.4-1.5l1.4,1.5l-1.9-.9M505,731l4.4,3.5m-1.1-1.3l1.1,1.3l-1.5-.8M524,731l3.3,2.8m-.8-1l.8,1l-1.1-.6M544,731l2.2,2M563,731l1.3,1.2M583,731l1.2,.4M602,731l1.2,.4M621,731l1.2,.4M641,731l.4-1.4M660,731l.8-1.7M680,731l1.4-1.9M699,731l2.1-1.8M718,731l2.9-1.5m-.9,.3l.9-.3l-.8,.6M738,731l3.6-1.1m-1.1,.1l1.1-.1l-1,.5M757,731l4.2-.6m-1.3-.1l1.3,.1l-1.2,.4M776,731l4.7,0m-1.4-.3l1.4,.3l-1.4,.3M796,731l4.9,.7m-1.4-.5l1.4,.5l-1.5,.1M815,731l5,1.3m-1.4-.7l1.4,.7l-1.6-.1M835,731l4.7,1.9m-1.3-.9l1.3,.9l-1.5-.3M137,748l1.2,.4M156,748l1.2,.4M175,748l1.2,.4M195,748l1.2,.4M214,748l1.3-.7M234,748l2-.7M253,748l2.8-.5M272,748l3.7-.1m-1.1-.2l1.1,.2l-1.1,.2M292,748l4.6,.4m-1.4-.4l1.4,.4l-1.4,.1M311,748l5.4,1.1m-1.6-.6l1.6,.6l-1.7,0M330,748l6.2,1.8m-1.7-.9l1.7,.9l-2-.2M350,748l3.4,1.3m-.9-.6l.9,.6l-1.1-.2M369,748l3.5,1.6m-1-.7l1,.7l-1.1-.3M389,748l3.5,2m-.9-.8l.9,.8l-1.2-.4M408,748l6.8,4.4m-1.8-1.7l1.8,1.7l-2.3-.9M427,748l6.3,4.8m-1.6-1.8l1.6,1.8l-2.2-1.1M447,748l5.5,4.9m-1.4-1.8l1.4,1.8l-1.9-1.2M466,748l4.6,4.9m-1.1-1.7l1.1,1.7l-1.7-1.2M486,748l3.5,4.6m-.8-1.6l.8,1.6l-1.3-1.2M505,748l2.4,4.1m-.5-1.4l.5,1.4l-1-1.1M524,748l1.4,3.5m-.2-1.1l.2,1.1l-.6-1M544,748l.4,2.8M563,748l-.4,2M583,748l-.9,1.1M602,748l-1.2,.3M621,748l-1.2-.4M641,748l-.9-1M660,748l-.4-1.4M680,748l.3-1.7M699,748l1.2-1.8M718,748l2.1-1.6M738,748l2.9-1.3m-1,.2l1-.2l-.8,.6M757,748l3.7-.9m-1.2,.1l1.2-.1l-1.1,.5M776,748l4.3-.3m-1.3-.2l1.3,.2l-1.3,.3M796,748l4.7,.4m-1.4-.4l1.4,.4l-1.4,.2M815,748l4.8,1.1m-1.4-.6l1.4,.6l-1.5,0M835,748l4.7,1.7m-1.3-.8l1.3,.8l-1.5-.3" fill="none" stroke="#050505" stroke-width="1.55" stroke-linecap="round" stroke-linejoin="round"/>
<path d="M612.7,542.1 609.4,534.6 606.6,527.6 602.4,519.2 595.4,509.5 587.1,499.7 578.7,490 574.6,480.3 567.6,470.5 559.2,460.8 550.9,451 542.5,442.7 534.2,434.3 528.6,424.6 523,413.4 517.5,402.3 511.9,391.1 503.5,380 466.7,337.8 455.3,319.6 447.6,301.5 444.4,278.8 446.2,256.1 442.6,239.2 437.8,225.3 439.2,211.4 439.9,204.4 437.8,194.7 435.7,186.3 433.6,182.4 428,181.4" fill="none" stroke="#000" stroke-width="5.2" stroke-linejoin="round" stroke-linecap="butt"/>
<path d="M436.4,185.6 438.5,175.2 442.6,165.4 446.8,161.3 452.4,158.5 458,157.1 463.5,158.5 470.5,162.6 477.5,167.5 486.1,172.7" fill="none" stroke="#000" stroke-width="5.2" stroke-linejoin="round" stroke-linecap="butt"/>
<path d="M846.1,531.8 834.9,530.4 826.6,526.2 818.2,517.8 809.9,508.1 802.9,498.4 795.9,487.2 787.6,471.9 779.2,458 772.3,448.8 772,445.2 782,443.5 788.1,440.2 787.6,433.5 776.4,431.5 768.1,427.3 759.7,420.4 748.6,412 737.5,405.1 727.7,398.1 723.5,388.4 719.4,380 670.9,337.8 657.3,319.6 650.5,301.5 646,274.2 643.7,247 646,224.3 648.2,201.6" fill="none" stroke="#000" stroke-width="5.2" stroke-linejoin="round" stroke-linecap="butt"/>
<circle cx="428.3" cy="181.3" r="6" fill="#000"/>
<path d="M493.9,357.4 496.5,365 504.6,365.2 498.2,370.1 500.5,377.8 493.9,373.2 487.2,377.8 489.6,370.1 483.1,365.2 491.2,365Z" fill="#ff0d0d"/>
<path d="M779,431.8 781.6,439.5 789.7,439.6 783.3,444.5 785.6,452.3 779,447.6 772.4,452.3 774.7,444.5 768.2,439.6 776.3,439.5Z" fill="#ff0d0d"/>
</g>
<path d="M117,27.2V759.4H846.4" fill="none" stroke="#000" stroke-width="2.8"/>
<path d="M117,28.6H845.6" fill="none" stroke="#000" stroke-width="2"/>
<path d="M845.6,28.6V759.4" fill="none" stroke="#1a1a30" stroke-width="1.6"/>
<text class="ser" x="105.8" y="44.1" font-size="44.3" text-anchor="end">45°N</text>
<text class="ser" x="105.8" y="235.3" font-size="44.3" text-anchor="end">35°N</text>
<text class="ser" x="105.8" y="412.7" font-size="44.3" text-anchor="end">25°N</text>
<text class="ser" x="105.8" y="581.3" font-size="44.3" text-anchor="end">15°N</text>
<text class="ser" x="105.8" y="745.0" font-size="44.3" text-anchor="end">5°N</text>
<text class="ser" x="197.8" y="798.8" font-size="42.7" text-anchor="middle">105°E</text>
<text class="ser" x="359.7" y="798.8" font-size="42.7" text-anchor="middle">115°E</text>
<text class="ser" x="521.6" y="798.8" font-size="42.7" text-anchor="middle">125°E</text>
<text class="ser" x="683.5" y="798.8" font-size="42.7" text-anchor="middle">135°E</text>
<text class="ser" x="845.4" y="798.8" font-size="42.7" text-anchor="middle">145°E</text>
<rect x="868" y="27.6" width="46" height="731.2" fill="url(#cb)" stroke="#3a3a3a" stroke-width="1.2"/>
<text class="ser" x="926" y="775.3" font-size="43.8">0</text>
<path d="M905.5,667.2H914" stroke="#333" stroke-width="1.3"/>
<text class="ser" x="926" y="683.9" font-size="43.8">1</text>
<path d="M905.5,575.8H914" stroke="#333" stroke-width="1.3"/>
<text class="ser" x="926" y="592.5" font-size="43.8">2</text>
<path d="M905.5,484.4H914" stroke="#333" stroke-width="1.3"/>
<text class="ser" x="926" y="501.1" font-size="43.8">3</text>
<path d="M905.5,393.0H914" stroke="#333" stroke-width="1.3"/>
<text class="ser" x="926" y="409.7" font-size="43.8">4</text>
<path d="M905.5,301.6H914" stroke="#333" stroke-width="1.3"/>
<text class="ser" x="926" y="318.3" font-size="43.8">5</text>
<path d="M905.5,210.2H914" stroke="#333" stroke-width="1.3"/>
<text class="ser" x="926" y="226.9" font-size="43.8">6</text>
<path d="M905.5,118.8H914" stroke="#333" stroke-width="1.3"/>
<text class="ser" x="926" y="135.5" font-size="43.8">7</text>
<text class="ser" x="926" y="44.1" font-size="43.8">8</text>
<text class="ser" transform="translate(1024.6,419.3) rotate(-90)" font-size="51.4" text-anchor="middle">significant wave height(m)</text>
</g>
<g transform="translate(6.5,2034.4)">
<g clip-path="url(#mc)">
<g filter="url(#cm)">
<rect x="27" y="-61.4" width="908.6" height="910.8" fill="#262626"/>
<g filter="url(#b0)">
<path d="M62.6,710.1 925.2,710.1 925.2,837.2 62.6,837.2Z" fill="#3d3d3d"/>
<path d="M552.9,696.4 925.2,696.4 925.2,837.2 552.9,837.2Z" fill="#292929"/>
<path d="M493.9,519.4 925.2,519.4 925.2,701 493.9,701Z" fill="#666666"/>
<path d="M471.2,265.2 925.2,265.2 925.2,542.1 471.2,542.1Z" fill="#808080"/>
<path d="M584.7,233.4 925.2,233.4 925.2,283.3 584.7,283.3Z" fill="#707070"/>
<path d="M444,274.2 516.6,274.2 566.5,233.4 607.4,237.9 630.1,301.5 607.4,365 503,378.7 453,346.9Z" fill="#868686"/>
<path d="M289.6,496.7 380.4,458.1 471.2,415 507.5,428.6 507.5,542.1 289.6,551.2Z" fill="#595959"/>
<path d="M775.4,174.4 802.6,69.9 902.5,69.9 902.5,237.9 743.6,237.9Z" fill="#505050"/>
<path d="M244.2,542.1 471.2,510.3 507.5,610.2 425.8,701 198.8,710.1Z" fill="#5c5c5c"/>
<path d="M85.3,587.5 221.5,623.8 235.1,710.1 85.3,710.1Z" fill="#464646"/>
<path d="M403.1,664.7 480.3,646.5 562,678.3 562,791.8 403.1,791.8Z" fill="#333333"/>
<path d="M543.8,169.8 543.8,110.8 598.3,56.3 675.5,29.1 752.7,-7.2 902.5,-7.2 902.5,88.1 798.1,119.9 789,174.4 752.7,219.8 698.2,242.5 643.7,247 589.2,224.3Z" fill="#262626"/>
<path d="M652.8,38.2 752.7,-7.2 902.5,-7.2 902.5,88.1 789,124.4 734.5,169.8 675.5,133.5Z" fill="#494949"/>
<path d="M380.4,92.6 525.7,92.6 566.5,169.8 566.5,233.4 516.6,278.8 444,278.8 421.3,201.6 380.4,169.8Z" fill="#565656"/>
<path d="M380.4,92.6 489.4,92.6 489.4,169.8 457.6,183.4 425.8,174.4 380.4,169.8Z" fill="#131313"/>
<path d="M198.8,451.3 257.8,437.7 289.6,474 280.5,519.4 244.2,546.6 198.8,514.8Z" fill="#262626"/>
<path d="M280.5,442.2 362.2,396.8 453,351.4 471.2,419.5 380.4,462.6 298.7,501.2Z" fill="#565656"/>
<path d="M257.8,519.4 298.7,528.5 303.2,610.2 257.8,664.7 221.5,646.5Z" fill="#404040"/>
</g>
<g filter="url(#b1)">
<ellipse cx="153.4" cy="646.5" rx="31.8" ry="36.3" fill="#202020"/>
<ellipse cx="652.8" cy="739.6" rx="54.5" ry="18.2" fill="#202020"/>
<ellipse cx="530.2" cy="319.6" rx="97.6" ry="45.4" fill="#939393" transform="rotate(40 530.2 319.6)"/>
<ellipse cx="524.8" cy="310.6" rx="72.6" ry="35.4" fill="#a3a3a3" transform="rotate(40 524.8 310.6)"/>
<ellipse cx="491.2" cy="304.7" rx="19.1" ry="25" fill="#c9c9c9"/>
<ellipse cx="507.5" cy="424" rx="47.7" ry="36.3" fill="#969696"/>
<ellipse cx="702.7" cy="324.2" rx="43.1" ry="31.8" fill="#9c9c9c"/>
<ellipse cx="353.2" cy="605.6" rx="104.4" ry="27.2" fill="#8c8c8c" transform="rotate(-32 353.2 605.6)"/>
<ellipse cx="786.7" cy="428.6" rx="147.5" ry="138.5" fill="#8c8c8c"/>
<ellipse cx="787.6" cy="428.6" rx="124.8" ry="115.8" fill="#9c9c9c"/>
<ellipse cx="789" cy="428.6" rx="102.1" ry="95.3" fill="#afafaf"/>
<ellipse cx="790.3" cy="428.6" rx="81.7" ry="78.1" fill="#c9c9c9"/>
<ellipse cx="793.5" cy="426.3" rx="68.1" ry="67.2" fill="#dfdfdf"/>
<ellipse cx="811.7" cy="383.2" rx="28.1" ry="26.3" fill="#f2f2f2"/>
<ellipse cx="781.7" cy="430.9" rx="19.1" ry="17.3" fill="#acacac"/>
<ellipse cx="783.5" cy="430.9" rx="10" ry="9.1" fill="#808080"/>
</g>
</g>
<path d="M108,20 723,20 722.7,30.7 713,38.4 700.5,46.7 685.2,56.5 678.2,59.9 664.3,68.3 651.1,74.5 639.2,68.3 630.9,62.7 623.2,73.2 619.7,76.6 612.8,74.5 614.2,81.5 605.8,85.7 598.1,92.6 600.2,102.4 596.8,110.7 584.9,117.7 572.4,126.1 561.3,132.3 559.9,139.3 569.6,146.9 578,155.3 584.9,166.4 590.5,177.6 594.7,190.1 596.1,201.2 591.9,211 586.3,217.9 579.4,217.2 575.2,220.7 569.6,218.6 565.4,223.5 561.3,221.4 557.1,224.9 552.9,222.8 545.9,227.7 541.8,220.7 545.9,209.6 548,198.5 541.8,191.5 541.1,185.2 548.7,183.1 545.9,172 537.6,166.4 527.8,165 518.1,162.3 516,160.2 522.3,149.7 529.2,151.8 523.7,147.6 529.2,133 513.9,130.9 500,128.8 498.3,127.8 488.6,132 477.5,139 469.1,144.5 459.4,148.7 463.5,143.2 469.1,136.9 462.1,134.8 469.1,127.8 476.1,115.3 470.5,106.3 458,109.7 446.8,119.5 435.7,129.2 421.8,141.8 403,143.9 403,155.7 414.8,158.5 421.8,166.8 425.9,175.9 438.5,175.2 445.4,162.6 455.2,157.8 464.9,159.2 476.1,166.1 485.8,172.4 483,179.4 474.7,181.4 463.5,184.9 452.4,189.1 449.6,197.5 444,198.8 441.3,203.7 435.7,210 427.3,221.1 438.5,226.7 443.3,231.6 448.2,240.6 451,253.1 453.8,264.3 469.5,277 458.3,281.1 470.9,292.3 445.8,303.4 458.3,304.1 473.6,311.1 465.3,315.9 470.9,320.1 462.5,324.3 468.1,328.5 462.5,332.6 465.3,336.8 459.7,341 451.4,342.4 455.6,345.2 450,353.5 445.8,361.9 440.2,367.5 433.3,366.1 437.5,371.6 431.9,380 434.7,388.3 429.1,385.6 427.7,392.5 423.5,391.1 422.1,398.1 416.6,396.7 418,402.3 411,403.6 406.8,407.8 405.4,403.6 401.3,414.8 395.7,413.4 397.1,420.4 390.1,421.7 384.5,424.5 385.9,428.7 377.6,430.1 372,434.3 365.1,432.9 362.3,437.1 353.9,434.3 347,444 340,435.7 339.2,437.6 332.3,429.2 333.6,440.4 328.1,443.2 325.3,439 323.9,447.3 318.3,448.7 314.2,447.3 311.4,452.9 305.8,451.5 303,455.7 297.5,457.1 291.9,458.5 284.9,461.3 284.2,473.8 281.4,476.6 278,475.9 275.9,469.6 274.5,461.3 272.4,454.3 266.8,455.7 262.6,452.9 258.5,455.7 254.3,448.7 250.1,452.9 243.2,455.7 236.2,461.3 230.6,465.4 225.1,465.4 222.3,472.4 216.7,478 212.5,483.5 209.7,490.5 208.4,497.5 212.5,505.8 218.1,515.6 223.7,523.9 229.2,530.9 236.2,536.4 244.5,542 251.5,549 257.1,555.9 261.3,564.3 264,574 264.5,570 267.3,581.1 269.4,593.7 268.7,603.4 265.9,611.8 264.5,618.7 257.6,625.7 249.2,631.3 240.9,635.4 233.9,638.2 225.6,641 224.2,648 220,653.5 213,657.7 207.5,663.3 200.5,666.8 194.9,666.8 195.6,659.1 197,650.7 193.5,645.9 188,641 182.4,636.8 175.4,635.4 173.3,628.5 168.5,632.6 164.3,624.3 158.7,614.5 151.8,606.9 143.4,602.7 132.3,602 130.9,590.9 123.9,597.8 117,602.7 108,602Z M108,690 117,692.5 121.1,692.5 130.9,695.3 142,699.5 150.4,706.4 158.7,714.8 167.1,723.1 171.3,731.5 172,744 172,767.7 108,768Z M330,752.7 340.5,738.7 351.1,729.9 365.1,725.5 367.7,719.4 373.9,715.9 380.9,705.3 386.2,696.5 391.4,694.8 394.9,698.3 400.2,703.6 405.5,705.3 403.7,712.3 412.5,712.3 407.2,715.9 426.5,721.1 416,726.4 410.7,729.9 417.8,735.2 409,738.7 400.2,740.4 407.2,745.7 398.5,749.2 391.4,748.3 402,756.2 402,768.5 330,768.5Z M394.9,670.2 400.2,663.2 407.2,656.2 416,645.6 423,636.9 428.3,628.1 433.6,626.3 435.3,631.6 430.1,640.4 421.3,649.1 412.5,657.9 405.5,666.7 398.5,672Z M472.2,694.8 475.7,682.5 484.5,673.7 493.2,668.5 500.3,670.2 502,675.5 507.3,673.7 516.1,668.5 519.6,663.2 528.4,659.7 530.1,650.9 535.4,654.4 540.6,663.2 542.4,670.2 547.7,679 546.8,689.5 540.6,705.3 535.4,698.3 530.1,705.3 531.9,712.3 528.4,715.9 521.3,710.6 514.3,708.8 507.3,703.6 507.3,694.8 505.5,686 500.3,680.7 493.2,686 488,684.3 482.7,687.8 477.4,694.8 473.9,700.1Z M473.1,700.9 475.7,699.7 476.6,701.8 474.3,703.2Z M246.5,741 249,738.5 251,742 249,748 246.5,746Z M586,341 592,336 596,338 590,343Z M257.1,493.3 261.3,489.1 266.8,483.5 275.2,481.4 283.5,480.7 293.3,480.5 296.1,483.5 294.7,489.1 290.5,494.7 286.3,500.2 280.7,505.8 272.4,511.4 266.8,510 261.3,507.2 258.5,500.2Z M466,392.5 470.9,393.9 472.3,399.5 469.5,409.2 466.7,417.6 463.9,425.9 459.7,435.7 455.6,444 453.5,447.5 450,442.6 444.4,434.3 440.9,424.5 443.7,416.2 448.6,407.8 454.2,399.5 459.7,394.6Z M451.3,505.3 461.8,504.6 477.1,506.7 475.7,517.8 481.3,529 472.9,542.9 467.3,554 464.5,563.8 471.5,573.5 477.1,579.1 481.3,576.3 485.4,581.9 491,580.5 498,583.3 503.5,586.1 500.7,593 506.3,598.6 503.5,600 495.2,595.8 489.6,590.2 482.6,593 478.5,587.5 472.9,581.9 467.3,580.5 460.4,584.7 454.8,583.3 450.6,579.1 454.8,572.1 449.2,572.1 443.7,568 439.5,556.8 437.4,545.7 443.7,541.5 446.5,530.4 445.8,517.8 449.9,510.9Z M447.8,590.2 456.2,591.6 464.5,597.2 463.2,605.6 460.4,609.7 456.2,605.6 452,598.6Z M471.5,616.7 481.3,619.5 491,623.6 486.8,629.2 479.9,633.4 472.9,637.6 472.2,626.4Z M491.7,606.9 495.9,608.3 492.4,612.5Z M510.5,605.6 523,604.2 530,612.5 532.8,627.8 527.2,626.4 521.6,623.6 520.2,615.3 514.7,611.1Z M511.9,622.3 520.2,626.4 524.4,640.4 520.2,641.7 514.7,634.8Z M492.4,633.4 495.9,632 493.8,643.1 492.4,652.9 489.6,661.2 484,657.1 480.6,651.5 486.8,643.1Z M502.1,632 504.9,629.2 503.5,637.6 500.7,644.5 499.4,640.4Z M503.5,647.3 510.5,644.5 513.3,648.7 507.7,652.2 503.5,651.5Z M616.5,233.3 626.2,225.7 635.9,218.7 645.7,211.8 649.2,205.9 668,205.6 687.5,206.5 700,206.5 705.6,196.5 709.7,185.3 711.1,177 719.5,174.2 715.3,183.9 720.9,184.6 730.6,178.4 741.7,171.4 753.6,160.6 757.8,150.9 760.6,139.7 764.8,130 760.6,125.8 763.4,114.7 769.7,103.5 777.3,101.4 780.1,109.1 783.6,99.4 787.1,99.4 789.1,106.3 792.6,120.2 796.1,132.8 792.6,145.3 789.1,157.1 780.1,160.6 778.7,173.1 778,187.1 780,182.5 777.9,192.3 773.8,199.2 777.2,205.5 769.6,213.2 764,216.6 762.6,207.6 759.1,208.3 759.1,217.3 751.5,213.2 745.9,224.3 743.1,217.3 739.7,224.3 733.4,227.1 719.5,225 712.5,221.5 709.7,223.6 711.1,232.6 697.2,245.9 693,245.2 686.1,238.9 687.5,225.7 681.9,225 668,224.3 656.8,230.1 645.7,235.4 635.9,239.6Z M642.9,236.1 656.8,237.1 659.6,245.2 649.9,257.7 641.5,259.1 637.3,249.4Z M658.2,236.8 665.2,232 673.5,233.3 677.7,239.6 669.4,250.7 661,248Z M616.5,242.4 624.8,245.2 634.5,253.5 630.4,264.7 624.8,275.8 623.4,284.2 613.7,290.4 603.9,286.2 606.7,275.8 610.9,266.1 612.3,256.3 608.1,252.1 606.7,259.1 598.4,261.2 595.6,253.5 594.2,250.1 603.9,248 610.9,242.4Z M798.9,29 805.2,32.5 814.9,39.5 826,45.1 837.2,49.2 853.9,47.1 853.9,61.8 837.2,67.3 828.8,75.7 820.5,84 816.3,88.2 805.2,82.6 791.2,75 778.7,79.9 770.4,78.5 782.9,91 773.1,95.2 763.4,98.7 760.6,79.9 767.6,72.9 771.7,67.3 769.7,63.2 777.3,60.4 784.3,61.1 787.1,56.9 795.4,42.3 796.8,33.9Z" fill="#a5a5a5" stroke="#050505" stroke-width="2" stroke-linejoin="round"/>
<path d="M108,727 117,727.3 122.5,727.3 125.3,738.5 130.9,749.6 136.5,760.7 108,768Z M637.5,20 644,20 640.8,36Z M117,183.5 122.5,178.5 128,190.5Z M378,323 382,322.5 384.5,327 381,329Z M353,298.5 357,297.5 358.5,301 355,302Z M421.5,314.5 425.5,313 426,318 422,318.5Z M413.5,250 417,249.5 417.5,253.5 414,254Z M213,582 216.5,583 216,589 213,588Z M204,611.5 209,607.5 211,609.5 206,614Z" fill="#fff" stroke="#111" stroke-width="1.2"/>
<path d="M789.1,27.7 791.9,33.9 790.5,42.3 786.4,49.9 784.3,56.2 784.3,60.4 M423.5,270 415.2,283.9 406.8,289.5 391.5,300.6 384.5,306.2 377.6,311.8 374.8,321.5 381.8,327.1 387.3,325.7 385.9,329.9 M377.6,311.8 365.1,304.8 358.1,299.9 351.1,299.2 353.9,304.8 348.4,307.6 M418,318.7 423.5,311.8 427,317.3 418,318.7 M397.1,279.7 402.6,281.1 399.9,283.2 397.1,279.7 M279.4,423 289.1,421.6 300.2,421.6 304.4,426.5 323.9,427.1 329.5,437.6 M204.2,458.5 220.9,475.2 M211.6,570 213.7,583.9 214.4,595.1 213.7,606.2 207.5,610.4 199.1,615.9 196.3,618.7 M190.7,604.8 196.3,618.7 201.9,631.3 207.5,642.4 213,653.5 M226.9,628.5 225.6,641 M206.1,638.2 218.6,639.6 M200,544.8 205.6,551.7 209.7,560.1 212.5,567.1 213.2,581 213.9,600.1" fill="none" stroke="#111" stroke-width="1.4"/>
<text class="ser" x="183.3" y="130.3" font-size="43.3" fill="#0b0b0b">2019-8-10</text>
<text class="ser" x="183.3" y="176.8" font-size="42.8" fill="#0b0b0b">25 m/s</text>
<path d="M320,166.5H356" stroke="#111" stroke-width="2" fill="none"/><path d="M358.5,166.5L344,158.5Q348,166.5 344,174.5Z" fill="#111"/>
<path d="M137,43l-3.6-3.5m.9,1.3l-.9-1.3l1.3,.9M156,43l-2.9-2.9m.7,1l-.7-1l1,.7M175,43l-1.9-2.3M195,43l-.8-1.8M214,43l.5-1.5M234,43l1.9-1.3M253,43l3.3-1.3m-1.1,.2l1.1-.2l-.9,.6M272,43l4.8-1.6m-1.5,.2l1.5-.2l-1.3,.8M292,43l5.8-1.1m-1.8,0l1.8,0l-1.7,.7M311,43l6.3-.3m-1.9-.3l1.9,.3l-1.9,.4M330,43l6.5,.5m-1.9-.5l1.9,.5l-2,.2M350,43l6.3,1.2m-1.8-.7l1.8,.7l-2,0M369,43l5.8,1.6m-1.7-.8l1.7,.8l-1.8-.1M389,43l4.7,1.2m-1.3-.6l1.3,.6l-1.5-.1M408,43l3.3,0m-1-.2l1,.2l-1,.2M427,43l2-1.1M447,43l.8-2.1M466,43l-.4-2.9M486,43l-1.3-3.5m.2,1.1l-.2-1.1l.6,1M505,43l-2.1-3.9m.4,1.3l-.4-1.3l.9,1M524,43l-2.7-4m.6,1.3l-.6-1.3l1,1M544,43l-3-3.9m.7,1.3l-.7-1.3l1.1,1M563,43l-3.1-3.5m.7,1.2l-.7-1.2l1.1,.9M583,43l-2.9-3m.7,1.1l-.7-1.1l1,.7M602,43l-2.6-2.4m.6,.9l-.6-.9l.9,.6M621,43l-2.1-1.7M641,43l-1.6-1M660,43l1.2,.4M680,43l1.2,.4M699,43l1.2,.4M718,43l-.1,1.5M738,43l-.2,1.5M757,43l-.7,1.1M776,43l-1.6,.3M796,43l-1.5-.4M815,43l-2.3-1.1M835,43l-6.3-3.9m1.7,1.5l-1.7-1.5l2.1,.8M137,65l-2.9-4m.6,1.4l-.6-1.4l1.1,1M156,65l-2.2-3.5m.5,1.2l-.5-1.2l.9,.9M175,65l-1.3-2.9M195,65l-.3-2.4M214,65l.8-2M234,65l2-1.8M253,65l3.1-1.8m-1,.4l1-.4l-.8,.7M272,65l4.1-2.1m-1.3,.4l1.3-.4l-1.1,.9M292,65l4.7-.9m-1.5,0l1.5,0l-1.4,.6M311,65l5.1,.2m-1.5-.3l1.5,.3l-1.5,.2M330,65l5.1,1.2m-1.5-.7l1.5,.7l-1.6-.1M350,65l4.8,2m-1.3-.9l1.3,.9l-1.6-.3M369,65l4.3,2.6m-1.1-1l1.1,1l-1.4-.5M389,65l3.4,2.9m-.9-1.1l.9,1.1l-1.2-.7M408,65l2.3,1.4M427,65l1.2,.4M447,65l1.2,.4M466,65l-1.2-2.1M486,65l-2.2-2.9m.5,1l-.5-1l.8,.7M505,65l-3-3.4m.7,1.2l-.7-1.2l1.1,.9M524,65l-3.6-3.8m.9,1.3l-.9-1.3l1.3,.9M544,65l-3.9-3.8m1,1.4l-1-1.4l1.4,.9M563,65l-4-3.7m1,1.3l-1-1.3l1.4,.9M583,65l-3.9-3.3m1,1.2l-1-1.2l1.4,.8M602,65l-3.6-2.8m.9,1l-.9-1l1.2,.6M621,65l-3.1-2.2m.8,.8l-.8-.8l1.1,.5M641,65l-2.6-1.5M660,65l-2.1-.8M680,65l-3.1-.4M699,65l-2.4,.6M718,65l-2,1.3M738,65l-1.9,1.6M757,65l-2.3,1.5M776,65l-1.5,.5M796,65l-2.1,.1M815,65l-2.8-.5M835,65l-3.5-1.2m1,.6l-1-.6l1.1,.2M137,87l-2.2-4m.4,1.3l-.4-1.3l.9,1.1M156,87l-1.6-3.6m.3,1.2l-.3-1.2l.7,1M175,87l-.8-3.1m.1,1l-.1-1l.4,.9M195,87l.1-2.6M214,87l1-2.2M234,87l1.9-1.8M253,87l2.6-1.7M272,87l3-1.9m-1,.4l1-.4l-.8,.7M292,87l3.4-.5m-1.1,0l1.1,0l-1,.4M311,87l3.6,.8m-1-.4l1,.4l-1.1,0M330,87l3.5,2m-.9-.8l.9,.8l-1.2-.4M350,87l3.1,3m-.8-1.1l.8,1.1l-1.1-.7M369,87l2.5,3.7m-.5-1.3l.5,1.3l-1-1M389,87l1.7,4.1m-.3-1.3l.3,1.3l-.7-1.1M408,87l.9,2.7M427,87l-.1,1.3M447,87l1.2,.4M466,87l-2.2-1M486,87l-3.2-1.9m.8,.8l-.8-.8l1.1,.4M505,87l-4-2.6m1,1l-1-1l1.3,.6M524,87l-4.5-3.1m1.2,1.2l-1.2-1.2l1.5,.7M544,87l-4.9-3.4m1.3,1.3l-1.3-1.3l1.7,.7M563,87l-5-3.4m1.3,1.3l-1.3-1.3l1.7,.7M583,87l-4.8-3.2m1.3,1.2l-1.3-1.2l1.6,.7M602,87l-4.5-2.8m1.2,1.1l-1.2-1.1l1.5,.6M621,87l-8.1-4.6m2.2,1.8l-2.2-1.8l2.7,.9M641,87l-7.1-3.3m1.9,1.4l-1.9-1.4l2.3,.6M660,87l-6-2m1.7,.9l-1.7-.9l1.9,.3M680,87l-4.9-.7m1.4,.5l-1.4-.5l1.5-.1M699,87l-4.1,.4m1.3,.1l-1.3-.1l1.2-.4M718,87l-3.6,1.3m1.1-.2l-1.1,.2l1-.6M738,87l-3.4,1.9m1.1-.4l-1.1,.4l.9-.8M757,87l-3.6,2.1m1.2-.4l-1.2,.4l1-.8M776,87l-2.1,1M796,87l-5,1.4m1.6-.1l-1.6,.1l1.4-.7M815,87l-3.1,.3M835,87l-7.5-.6m2.2,.6l-2.2-.6l2.3-.2M137,110l-1.6-3.7m.3,1.2l-.3-1.2l.7,1M156,110l-1.1-3.3m.1,1.1l-.1-1.1l.5,.9M175,110l-.4-2.9M195,110l.3-2.4M214,110l1.1-1.9M234,110l1.7-1.5M253,110l2.1-1.1M272,110l2-.8M292,110l1.9,.1M311,110l1.9,1.6M330,110l1.6,3m-.3-1l.3,1l-.7-.8M350,110l1.2,4.1m-.1-1.3l.1,1.3l-.6-1.2M369,110l.5,5m.1-1.5l-.1,1.5l-.4-1.5M389,110l0,4.8m.3-1.5l-.3,1.5l-.3-1.5M408,110l-.6,3.8m.4-1.1l-.4,1.1l0-1.2M427,110l-1.4,2.7M447,110l-2.5,1.6M466,110l-6.9,.9m2.1,.1l-2.1-.1l2-.7M486,110l-4.4-.6m1.3,.4l-1.3-.4l1.3-.1M505,110l-5.1-1.4m1.5,.7l-1.5-.7l1.6,.1M524,110l-5.6-2.1m1.6,.9l-1.6-.9l1.8,.3M544,110l-5.9-2.5m1.6,1.1l-1.6-1.1l1.9,.4M563,110l-6-2.7m1.6,1.2l-1.6-1.2l2,.5M583,110l-5.9-2.7m1.6,1.1l-1.6-1.1l1.9,.5M602,110l-11-5m3,2.1l-3-2.1l3.6,.9M621,110l-10.1-4.2m2.8,1.8l-2.8-1.8l3.3,.7M641,110l-8.9-3.1m2.5,1.4l-2.5-1.4l2.9,.4M660,110l-7.7-1.9m2.2,1l-2.2-1l2.4,.1M680,110l-6.6-.6m2,.6l-2-.6l2-.2M699,110l-5.7,.6m1.7,.2l-1.7-.2l1.7-.5M718,110l-5,1.6m1.6-.2l-1.6,.2l1.4-.8M738,110l-4.7,2.4m1.5-.5l-1.5,.5l1.3-1M757,110l-4.7,2.9m1.6-.6l-1.6,.6l1.2-1.2M776,110l-2.5,1.5M796,110l-5.7,2.9m1.9-.5l-1.9,.5l1.6-1.2M815,110l-6.6,2.3m2.1-.3l-2.1,.3l1.9-1.1M835,110l-7.7,1.4m2.4,0l-2.4,0l2.2-.9M137,133l-1.1-3M156,133l-.7-2.8M175,133l-.1-2.4M195,133l.5-2M214,133l1-1.4M234,133l1.5-.9M253,133l1.7-.2M272,133l1.6,.4M292,133l1.1,1.3M311,133l.4,2.5M330,133l-.1,3.9m.2-1.2l-.2,1.2l-.2-1.2M350,133l-.5,5.1m.5-1.5l-.5,1.5l-.1-1.6M369,133l-.7,5.7m.5-1.7l-.5,1.7l-.1-1.7M389,133l-1.1,5.5m.6-1.6l-.6,1.6l0-1.7M408,133l-1.8,4.9m.8-1.4l-.8,1.4l.3-1.6M427,133l-2.7,4m1-1.1l-1,1.1l.6-1.4M447,133l-7.4,6m2.6-1.4l-2.6,1.4l1.9-2.2M466,133l-4.7,1.9m1.5-.3l-1.5,.3l1.3-.8M486,133l-5.6,.9m1.7,.1l-1.7-.1l1.6-.6M505,133l-12.5-.1m3.7,.8l-3.7-.8l3.8-.7M524,133l-13.4-1.7m3.9,1.3l-3.9-1.3l4.1-.3M544,133l-7-1.4m2,.8l-2-.8l2.2,0M563,133l-13.9-3.6m4,1.9l-4-1.9l4.4,.3M583,133l-13.5-3.9m3.8,1.9l-3.8-1.9l4.3,.4M602,133l-12.7-3.7m3.6,1.8l-3.6-1.8l4,.4M621,133l-11.7-3.2m3.3,1.6l-3.3-1.6l3.7,.3M641,133l-10.5-2.4m3,1.3l-3-1.3l3.3,.1M660,133l-9.2-1.4m2.7,.9l-2.7-.9l2.8-.1M680,133l-8-.2m2.4,.5l-2.4-.5l2.4-.4M699,133l-6.9,1m2.1,.1l-2.1-.1l2-.7M718,133l-6.2,2.1m2-.3l-2,.3l1.7-1M738,133l-5.7,3m1.9-.6l-1.9,.6l1.5-1.2M757,133l-5.5,3.7m1.9-.8l-1.9,.8l1.4-1.4M776,133l-2.9,2.1m1-.5l-1,.5l.7-.8M796,133l-3.1,2.1m1-.5l-1,.5l.8-.8M815,133l-6.9,3.9m2.3-.8l-2.3,.8l1.8-1.6M835,133l-7.7,3.3m2.5-.5l-2.5,.5l2.1-1.4M137,156l-.7-2.1M156,156l-.4-2M175,156l0-1.8M195,156l.5-1.4M214,156l1-.8M234,156l1.3-.2M253,156l1.5,.6M272,156l1.5,1.5M292,156l1.1,2.5M311,156l.6,3.6m0-1.1l0,1.1l-.4-1.1M330,156l0,4.8m.3-1.4l-.3,1.4l-.3-1.4M350,156l-.5,5.7m.5-1.7l-.5,1.7l-.2-1.8M369,156l-1.2,6.3m.7-1.8l-.7,1.8l0-2M389,156l-1.9,6.4m.9-1.8l-.9,1.8l.2-2M408,156l-5.7,12m2.4-3.3l-2.4,3.3l1-3.9M427,156l-7.7,10.6m2.9-2.7l-2.9,2.7l1.7-3.6M447,156l-9.8,8.8m3.4-2.1l-3.4,2.1l2.4-3.2M466,156l-11.8,6.7m3.9-1.3l-3.9,1.3l3.2-2.7M486,156l-13.4,4.6m4.3-.6l-4.3,.6l3.8-2.1M505,156l-14.7,2.6m4.5,.1l-4.5-.1l4.2-1.6M524,156l-7.7,.5m2.3,.3l-2.3-.3l2.3-.6M544,156l-7.9-.2m2.3,.5l-2.3-.5l2.4-.4M563,156l-7.8-.7m2.3,.7l-2.3-.7l2.4-.2M583,156l-15-2m4.4,1.4l-4.4-1.4l4.6-.3M602,156l-14.1-2.1m4.1,1.4l-4.1-1.4l4.3-.2M621,156l-12.9-1.9m3.8,1.3l-3.8-1.3l4-.2M641,156l-11.6-1.4m3.4,1.1l-3.4-1.1l3.5-.3M660,156l-10.2-.5m3,.7l-3-.7l3.1-.4M680,156l-9,.5m2.7,.4l-2.7-.4l2.7-.6M699,156l-7.9,1.5m2.5,0l-2.5,0l2.3-.9M718,156l-7,2.6m2.3-.4l-2.3,.4l2-1.2M738,156l-6.4,3.6m2.1-.7l-2.1,.7l1.7-1.4M757,156l-3.1,2.2m1-.5l-1,.5l.8-.8M776,156l-3.1,2.5m1.1-.6l-1.1,.6l.8-.9M796,156l-6.5,5.2m2.2-1.2l-2.2,1.2l1.7-1.9M815,156l-7,5.2m2.4-1.2l-2.4,1.2l1.8-2M835,156l-7.6,4.8m2.6-1l-2.6,1l2-1.9M137,177l-.5-1.2M156,177l-.3-1.2M175,177l1.2,.4M195,177l1.2,.4M214,177l1.2,.4M234,177l1.2,.5M253,177l1.3,1.3M272,177l1.3,2.2M292,177l1.1,3.3m-.1-1l.1,1l-.5-.9M311,177l.6,4.4m.1-1.4l-.1,1.4l-.4-1.3M330,177l0,5.5m.3-1.7l-.3,1.7l-.3-1.6M350,177l-.7,6.4m.6-1.9l-.6,1.9l-.2-2M369,177l-1.6,7m.9-2l-.9,2l.1-2.2M389,177l-2.6,7.2m1.2-2l-1.2,2l.4-2.3M408,177l-3.7,7.1m1.5-1.9l-1.5,1.9l.7-2.3M427,177l-4.9,6.5m1.8-1.7l-1.8,1.7l1.1-2.2M447,177l-6,5.6m2.1-1.3l-2.1,1.3l1.5-2M466,177l-7,4.6m2.4-1l-2.4,1l1.8-1.8M486,177l-15.6,7.1m5.1-1.2l-5.1,1.2l4.3-3M505,177l-16.6,5.1m5.3-.6l-5.3,.6l4.7-2.5M524,177l-17.1,3.3m5.3,0l-5.3,0l5-2M544,177l-17.1,1.7m5.2,.5l-5.2-.5l5-1.5M563,177l-8.3,.3m2.5,.4l-2.5-.4l2.5-.6M583,177l-7.9-.1m2.4,.5l-2.4-.5l2.4-.4M602,177l-14.7-.5m4.4,1l-4.4-1l4.4-.7M621,177l-13.4-.5m4,.9l-4-.9l4-.6M641,177l-12-.2m3.6,.7l-3.6-.7l3.6-.6M660,177l-10.6,.4m3.2,.5l-3.2-.5l3.2-.7M680,177l-9.3,1.2m2.9,.2l-2.9-.2l2.7-.9M699,177l-8.3,2.2m2.6-.2l-2.6,.2l2.4-1.1M718,177l-7.4,3.1m2.4-.5l-2.4,.5l2.1-1.4M738,177l-3.5,2m1.2-.4l-1.2,.4l.9-.8M757,177l-3.3,2.4m1.1-.5l-1.1,.5l.9-.9M776,177l-3.3,2.7m1.1-.6l-1.1,.6l.8-1M796,177l-6.8,5.9m2.4-1.4l-2.4,1.4l1.7-2.1M815,177l-7.2,6m2.5-1.4l-2.5,1.4l1.8-2.2M835,177l-7.7,5.8m2.6-1.3l-2.6,1.3l2-2.2M137,201l1.2,.4M156,201l1.2,.4M175,201l1.2,.4M195,201l1.2,.4M214,201l1.2,.4M234,201l1,1M253,201l1.1,1.8M272,201l1.1,2.8M292,201l.9,3.9m-.1-1.2l.1,1.2l-.5-1.1M311,201l.5,5m.1-1.5l-.1,1.5l-.4-1.5M330,201l-.1,6.1m.4-1.8l-.4,1.8l-.3-1.8M350,201l-.9,7.1m.7-2.1l-.7,2.1l-.1-2.2M369,201l-2,7.8m1-2.2l-1,2.2l.1-2.5M389,201l-3.2,8.2m1.4-2.3l-1.4,2.3l.5-2.6M408,201l-4.6,8.2m1.8-2.2l-1.8,2.2l.9-2.7M427,201l-6,7.7m2.2-2l-2.2,2l1.4-2.6M447,201l-14.5,13.6m5.1-3.3l-5.1,3.3l3.6-4.9M466,201l-16.4,11.5m5.6-2.5l-5.6,2.5l4.3-4.4M486,201l-17.7,9.2m5.8-1.8l-5.8,1.8l4.8-3.8M505,201l-18.4,7.1m5.9-1.1l-5.9,1.1l5.1-3.2M524,201l-18.4,5.1m5.8-.5l-5.8,.5l5.2-2.6M544,201l-18,3.6m5.6-.1l-5.6,.1l5.2-2.1M563,201l-8.6,1.2m2.7,.1l-2.7-.1l2.5-.9M583,201l-8.1,.8m2.5,.2l-2.5-.2l2.4-.7M602,201l-15,1.1m4.6,.5l-4.6-.5l4.4-1.2M621,201l-13.6,1m4.1,.5l-4.1-.5l4-1.1M641,201l-12.2,1.1m3.7,.4l-3.7-.4l3.6-1M660,201l-10.8,1.5m3.3,.2l-3.3-.2l3.2-1.1M680,201l-9.5,2.1m3-.1l-3,.1l2.7-1.2M699,201l-8.5,2.9m2.7-.4l-2.7,.4l2.4-1.3M718,201l-3.9,1.8m1.3-.3l-1.3,.3l1.1-.8M738,201l-3.6,2.2m1.2-.5l-1.2,.5l1-.9M757,201l-3.5,2.6m1.2-.6l-1.2,.6l.9-1M776,201l-7.2,5.6m2.5-1.3l-2.5,1.3l1.8-2.1M796,201l-7.4,6m2.6-1.4l-2.6,1.4l1.9-2.2M815,201l-7.6,6.3m2.7-1.5l-2.7,1.5l1.9-2.3M835,201l-8,6.3m2.8-1.4l-2.8,1.4l2-2.3M137,222l1.2,.4M156,222l1.2,.4M175,222l1.2,.4M195,222l1.2,.4M214,222l1.2,.4M234,222l.8,1.4M253,222l.9,2.1M272,222l1,3m-.1-1l.1,1l-.5-.9M292,222l.8,4.1m0-1.3l0,1.3l-.5-1.2M311,222l.5,5.3m.2-1.6l-.2,1.6l-.4-1.6M330,222l-.1,6.5m.4-1.9l-.4,1.9l-.3-1.9M350,222l-1,7.6m.7-2.2l-.7,2.2l-.1-2.3M369,222l-2.2,8.5m1.1-2.4l-1.1,2.4l.2-2.7M389,222l-3.6,9.1m1.6-2.5l-1.6,2.5l.6-2.9M408,222l-5.3,9.2m2.1-2.4l-2.1,2.4l1.1-3M427,222l-7,8.7m2.6-2.2l-2.6,2.2l1.6-3M447,222l-16.9,15.3m5.9-3.6l-5.9,3.6l4.2-5.6M466,222l-18.8,12.8m6.4-2.8l-6.4,2.8l4.9-4.9M486,222l-19.6,10.1m6.5-1.9l-6.5,1.9l5.3-4.2M505,222l-19.6,7.9m6.3-1.2l-6.3,1.2l5.4-3.5M524,222l-19.2,6.1m6.1-.7l-6.1,.7l5.4-2.9M544,222l-9.2,2.4m2.9-.2l-2.9,.2l2.6-1.2M563,222l-17.5,3.7m5.4-.1l-5.4,.1l5-2.1M583,222l-16.3,3m5.1,0l-5.1,0l4.7-1.8M602,222l-15,2.5m4.6,.1l-4.6-.1l4.4-1.6M621,222l-13.6,2.3m4.2,.1l-4.2-.1l4-1.5M641,222l-6.1,1.2m1.9,0l-1.9,0l1.8-.7M660,222l-5.5,1.3m1.7-.1l-1.7,.1l1.6-.7M680,222l-4.9,1.5m1.6-.2l-1.6,.2l1.4-.7M699,222l-4.5,1.8m1.5-.3l-1.5,.3l1.3-.8M718,222l-4.2,2.1m1.4-.4l-1.4,.4l1.1-.9M738,222l-4,2.3m1.3-.5l-1.3,.5l1.1-.9M757,222l-8,5.2m2.7-1.1l-2.7,1.1l2.1-2M776,222l-8.1,5.6m2.8-1.2l-2.8,1.2l2.1-2.1M796,222l-8.4,5.8m2.9-1.3l-2.9,1.3l2.2-2.2M815,222l-8.7,6m3-1.3l-3,1.3l2.3-2.3M835,222l-9,6m3-1.3l-3,1.3l2.4-2.3M137,245l-.7,1.2M156,245l1.2,.4M175,245l1.2,.4M195,245l1.2,.4M214,245l1.2,.4M234,245l.5,1.6M253,245l.8,2.2M272,245l.9,3.1M292,245l.8,4.1m0-1.3l0,1.3l-.5-1.2M311,245l.5,5.3m.1-1.6l-.1,1.6l-.5-1.6M330,245l0,6.5m.4-2l-.4,2l-.4-2M350,245l-.8,7.8m.7-2.3l-.7,2.3l-.2-2.4M369,245l-2.1,9m1.1-2.6l-1.1,2.6l.1-2.8M389,245l-3.7,9.9m1.7-2.8l-1.7,2.8l.5-3.2M408,245l-5.8,10.3m2.3-2.8l-2.3,2.8l1.1-3.4M427,245l-8.1,9.8m3-2.5l-3,2.5l1.9-3.4M447,245l-9.9,8.3m3.4-1.9l-3.4,1.9l2.5-3.1M466,245l-21.4,12.7m7.2-2.6l-7.2,2.6l5.7-5M486,245l-21.3,9.5m6.9-1.6l-6.9,1.6l5.9-4.1M505,245l-20.5,7.3m6.6-1l-6.6,1l5.7-3.4M524,245l-19.4,6m6.2-.7l-6.2,.7l5.5-2.9M544,245l-18.4,5.1m5.8-.5l-5.8,.5l5.2-2.6M563,245l-17.2,4.5m5.4-.4l-5.4,.4l4.9-2.3M583,245l-16.1,4m5-.3l-5,.3l4.6-2.1M602,245l-14.8,3.7m4.7-.3l-4.7,.3l4.2-2M621,245l-6.8,1.8m2.1-.1l-2.1,.1l1.9-.9M641,245l-6.2,1.8m2-.2l-2,.2l1.8-.9M660,245l-11.4,3.7m3.6-.5l-3.6,.5l3.2-1.8M680,245l-10.6,4m3.4-.6l-3.4,.6l2.9-1.8M699,245l-10,4.3m3.2-.7l-3.2,.7l2.7-1.8M718,245l-9.6,4.6m3.1-.8l-3.1,.8l2.6-1.9M738,245l-9.5,4.9m3.1-.9l-3.1,.9l2.6-2M757,245l-9.7,5.1m3.2-1l-3.2,1l2.6-2.1M776,245l-9.9,5.2m3.3-1l-3.3,1l2.7-2.1M796,245l-10.3,5.2m3.4-1l-3.4,1l2.8-2.2M815,245l-10.7,5.1m3.5-.9l-3.5,.9l2.9-2.2M835,245l-10.9,5.1m3.5-.9l-3.5,.9l3-2.1M137,268l-.9,1.6M156,268l-.9,1.3M175,268l-.7,1.1M195,268l1.2,.4M214,268l0,1.2M234,268l.3,1.6M253,268l.6,2.1M272,268l.8,2.9M292,268l.8,3.9m0-1.2l0,1.2l-.5-1.1M311,268l.7,5m.1-1.5l-.1,1.5l-.5-1.5M330,268l.4,6.3m.3-1.9l-.3,1.9l-.5-1.9M350,268l-.3,7.8m.5-2.3l-.5,2.3l-.4-2.3M369,268l-1.3,9.3m.9-2.7l-.9,2.7l-.1-2.9M389,268l-3,10.8m1.5-3.1l-1.5,3.1l.3-3.4M408,268l-5.5,11.9m2.3-3.3l-2.3,3.3l1-3.9M427,268l-9.1,11.6m3.4-3l-3.4,3l2.1-4M447,268l-12.1,8.7m4.1-1.9l-4.1,1.9l3.1-3.3M466,268l-24.7,10.1m8-1.6l-8,1.6l6.8-4.4M486,268l-22.3,6.4m7.1-.6l-7.1,.6l6.3-3.2M505,268l-20.1,5.1m6.3-.4l-6.3,.4l5.8-2.7M524,268l-18.5,4.8m5.8-.4l-5.8,.4l5.3-2.5M544,268l-17.3,4.7m5.5-.4l-5.5,.4l4.9-2.4M563,268l-16.2,4.7m5.1-.5l-5.1,.5l4.6-2.3M583,268l-15.1,4.7m4.8-.5l-4.8,.5l4.3-2.3M602,268l-14.1,4.7m4.5-.6l-4.5,.6l3.9-2.2M621,268l-6.5,2.3m2.1-.3l-2.1,.3l1.8-1.1M641,268l-12.1,4.8m3.9-.7l-3.9,.7l3.4-2.1M660,268l-11.4,4.9m3.7-.8l-3.7,.8l3.1-2.1M680,268l-10.9,5m3.6-.9l-3.6,.9l3-2.1M699,268l-10.7,5.1m3.5-.9l-3.5,.9l2.9-2.1M718,268l-10.8,5.1m3.5-.9l-3.5,.9l2.9-2.2M738,268l-11.1,5.1m3.6-.9l-3.6,.9l3-2.2M757,268l-11.5,4.9m3.7-.8l-3.7,.8l3.2-2.1M776,268l-12,4.6m3.9-.7l-3.9,.7l3.4-2.1M796,268l-12.5,4.2m4-.5l-4,.5l3.5-2M815,268l-12.8,3.8m4.1-.4l-4.1,.4l3.6-1.9M835,268l-13,3.4m4.1-.3l-4.1,.3l3.7-1.8M137,289l-1.2,1.8M156,289l-1.2,1.5M175,289l-1,1.3M195,289l-.7,1.1M214,289l-.3,1.2M234,289l.1,1.4M253,289l.5,1.8M272,289l.8,2.5M292,289l1,3.4m-.1-1.1l.1,1.1l-.5-.9M311,289l1.1,4.4m-.1-1.4l.1,1.4l-.6-1.3M330,289l1,5.7m0-1.8l0,1.8l-.6-1.7M350,289l.7,7.2m.2-2.2l-.2,2.2l-.6-2.1M369,289l.1,9m.5-2.7l-.5,2.7l-.5-2.7M389,289l-.9,11.1m.9-3.3l-.9,3.3l-.3-3.4M408,289l-3,13.7m1.7-3.9l-1.7,3.9l.1-4.3M427,289l-6.7,12.9m2.8-3.5l-2.8,3.5l1.3-4.2M447,289l-9.7,7m3.3-1.6l-3.3,1.6l2.5-2.7M466,289l-12.5,1.1m3.8,.4l-3.8-.4l3.7-1M486,289l-20.4,.2m6.1,1.1l-6.1-1.1l6.1-1.2M505,289l-17.4,1.5m5.3,.5l-5.3-.5l5.1-1.5M524,289l-15.9,2.9m4.9,0l-4.9,0l4.6-1.8M544,289l-14.8,3.9m4.7-.3l-4.7,.3l4.2-2M563,289l-13.9,4.6m4.4-.6l-4.4,.6l3.9-2.2M583,289l-13,5m4.2-.8l-4.2,.8l3.6-2.2M602,289l-12.1,5.3m3.9-.9l-3.9,.9l3.3-2.3M621,289l-11.3,5.6m3.7-1l-3.7,1l3.1-2.3M641,289l-10.6,5.8m3.5-1.1l-3.5,1.1l2.9-2.3M660,289l-10.1,5.9m3.4-1.2l-3.4,1.2l2.7-2.4M680,289l-10,6m3.3-1.2l-3.3,1.2l2.7-2.4M699,289l-10.2,6m3.4-1.2l-3.4,1.2l2.7-2.4M718,289l-10.7,5.8m3.5-1.1l-3.5,1.1l2.9-2.3M738,289l-11.5,5.4m3.7-1l-3.7,1l3.1-2.3M757,289l-12.4,4.7m4-.7l-4,.7l3.4-2.1M776,289l-13.2,3.8m4.2-.4l-4.2,.4l3.7-1.9M796,289l-13.9,2.8m4.3-.1l-4.3,.1l4-1.6M815,289l-14.2,1.9m4.4,.2l-4.4-.2l4.2-1.4M835,289l-14.3,1.1m4.4,.5l-4.4-.5l4.2-1.2M137,309l-1.5,1.9M156,309l-1.4,1.5M175,309l-1.2,1.3M195,309l-.9,1.1M214,309l1.2,.4M234,309l1.2,.4M253,309l.5,1.5M272,309l.9,2M292,309l1.2,2.7M311,309l1.5,3.7m-.2-1.2l.2,1.2l-.7-1M330,309l1.7,4.8m-.2-1.5l.2,1.5l-.8-1.4M350,309l1.8,6.2m-.2-2l.2,2l-.9-1.8M369,309l1.8,8m-.1-2.5l.1,2.5l-1-2.3M389,309l1.9,10.1m0-3.1l0,3.1l-1.1-2.9M408,309l2.2,13.2m.1-4.1l-.1,4.1l-1.4-3.8M427,309l.2,9.8m.5-2.9l-.5,2.9l-.6-2.9M447,309l-2.7,4m1-1l-1,1l.6-1.4M466,309l-5.5-1.8m1.5,.9l-1.5-.9l1.8,.2M486,309l-13-5.9m3.6,2.5l-3.6-2.5l4.2,1M505,309l-12.3-1.5m3.6,1.2l-3.6-1.2l3.8-.2M524,309l-11.8,1.2m3.6,.3l-3.6-.3l3.5-1M544,309l-11.4,3m3.6-.3l-3.6,.3l3.2-1.6M563,309l-10.8,4.3m3.5-.7l-3.5,.7l3-1.9M583,309l-10.1,5.2m3.3-1l-3.3,1l2.7-2.1M602,309l-9.3,5.8m3.1-1.2l-3.1,1.2l2.5-2.3M621,309l-8.6,6.3m2.9-1.4l-2.9,1.4l2.2-2.4M641,309l-8.1,6.6m2.8-1.5l-2.8,1.5l2-2.5M660,309l-7.8,6.9m2.7-1.6l-2.7,1.6l1.9-2.5M680,309l-7.8,7.1m2.8-1.7l-2.8,1.7l2-2.6M699,309l-8.4,7m2.9-1.6l-2.9,1.6l2.1-2.6M718,309l-9.4,6.7m3.2-1.5l-3.2,1.5l2.4-2.5M738,309l-10.8,5.9m3.6-1.2l-3.6,1.2l2.9-2.4M757,309l-12.3,4.7m3.9-.7l-3.9,.7l3.4-2.1M776,309l-13.6,3m4.3-.1l-4.3,.1l3.9-1.7M796,309l-14.5,1.3m4.4,.4l-4.4-.4l4.3-1.2M815,309l-14.9-.4m4.5,1l-4.5-1l4.5-.7M835,309l-14.8-1.6m4.4,1.3l-4.4-1.3l4.5-.4M137,331l-1.8,1.8M156,331l-1.7,1.5M175,331l-1.5,1.2M195,331l-1.1,1M214,331l1.2,.4M234,331l1.2,.4M253,331l1.2,.4M272,331l1,1.4M292,331l1.6,1.9M311,331l2,2.6m-.5-.9l.5,.9l-.8-.7M330,331l2.5,3.6m-.5-1.2l.5,1.2l-.9-.9M350,331l2.9,4.7m-.6-1.6l.6,1.6l-1.1-1.2M369,331l3.5,6m-.7-2l.7,2l-1.4-1.6M389,331l4.5,7.4m-.9-2.5l.9,2.5l-1.8-2M408,331l6.4,8.4m-1.4-2.9l1.4,2.9l-2.4-2.2M427,331l7.7,6.2m-2-2.3l2,2.3l-2.7-1.4M447,331l5,.5m-1.5-.4l1.5,.4l-1.5,.1M466,331l4.5-10.2m-1.9,2.8l1.9-2.8l-.8,3.3M486,331l-2.8-6.7m.4,2.2l-.4-2.2l1.2,1.8M505,331l-5.6-2.7m1.5,1.1l-1.5-1.1l1.8,.5M524,331l-6.8,.2m2,.3l-2-.3l2-.5M544,331l-7.1,2.4m2.3-.3l-2.3,.3l2-1.1M563,331l-6.9,4.1m2.3-.8l-2.3,.8l1.8-1.6M583,331l-6.5,5.3m2.2-1.2l-2.2,1.2l1.6-2M602,331l-5.8,6.3m2.1-1.5l-2.1,1.5l1.4-2.2M621,331l-5.2,7m2-1.8l-2,1.8l1.2-2.4M641,331l-4.8,7.6m1.9-2l-1.9,2l1-2.6M660,331l-4.6,8.1m1.8-2.2l-1.8,2.2l.9-2.7M680,331l-4.9,8.5m2-2.3l-2,2.3l1-2.8M699,331l-5.9,8.6m2.3-2.2l-2.3,2.2l1.3-2.9M718,331l-7.6,8.2m2.7-2l-2.7,2l1.8-2.9M738,331l-9.8,7.2m3.3-1.6l-3.3,1.6l2.5-2.7M757,331l-12.2,5.2m4-.9l-4,.9l3.4-2.3M776,331l-14.3,2.5m4.4,.1l-4.4-.1l4.2-1.6M796,331l-15.6-.5m4.7,1.1l-4.7-1.1l4.7-.7M815,331l-15.9-3.3m4.6,1.9l-4.6-1.9l5,.1M835,331l-15.5-5.2m4.4,2.4l-4.4-2.4l4.9,.7M137,351l-2,1.6M156,351l-1.9,1.3M175,351l-1.6,1.1M195,351l-1.2,.8M214,351l1.2,.4M234,351l1.2,.4M253,351l1.2,.4M272,351l1.2,.8M292,351l1.9,1.1M311,351l2.5,1.6M330,351l3.1,2.3m-.8-.9l.8,.9l-1.1-.5M350,351l3.8,3m-1-1.1l1,1.1l-1.3-.7M369,351l4.5,3.8m-1.1-1.4l1.1,1.4l-1.6-.9M389,351l5.6,4.4m-1.4-1.7l1.4,1.7l-1.9-1M408,351l6.9,4.4m-1.8-1.7l1.8,1.7l-2.3-.9M427,351l8.1,2.6m-2.3-1.3l2.3,1.3l-2.6-.3M447,351l7.4-.6m-2.2-.2l2.2,.2l-2.2,.6M466,351l8.6-5m-2.9,1l2.9-1l-2.3,2M486,351l2.9-4.5m-1.1,1.2l1.1-1.2l-.6,1.5M505,351l-.6-2.2M524,351l-2.5,.2M544,351l-3.3,2.3m1.1-.5l-1.1,.5l.9-.9M563,351l-3.5,4.1m1.3-1l-1.3,1l.8-1.4M583,351l-3.2,5.5m1.3-1.5l-1.3,1.5l.7-1.8M602,351l-2.7,6.7m1.2-1.9l-1.2,1.9l.4-2.2M621,351l-2.2,7.7m1.1-2.2l-1.1,2.2l.2-2.4M641,351l-1.8,8.6m1-2.5l-1,2.5l0-2.7M660,351l-1.7,9.4m1-2.7l-1,2.7l0-2.9M680,351l-2.2,10.1m1.2-2.9l-1.2,2.9l.1-3.2M699,351l-3.5,10.6m1.7-3l-1.7,3l.5-3.4M718,351l-5.9,10.5m2.4-2.8l-2.4,2.8l1.2-3.5M738,351l-9.2,9.5m3.3-2.3l-3.3,2.3l2.2-3.4M757,351l-13.1,6.9m4.3-1.3l-4.3,1.3l3.5-2.8M776,351l-16.4,2.6m5.1,.1l-5.1-.1l4.8-1.7M796,351l-18.1-2.3m5.3,1.7l-5.3-1.7l5.5-.3M815,351l-17.9-6.6m5,3l-5-3l5.7,1M835,351l-16.7-9.3m4.5,3.8l-4.5-3.8l5.5,1.8M137,371l-2.2,1.4M156,371l-2,1.2M175,371l-1.7,.9M195,371l-1.2,.7M214,371l1.2,.4M234,371l1.2,.4M253,371l1.2,.4M272,371l1.5,.3M292,371l2.2,.4M311,371l2.9,.6M330,371l3.7,1m-1-.5l1,.5l-1.2-.1M350,371l4.4,1.4m-1.2-.7l1.2,.7l-1.4-.2M369,371l5.1,1.8m-1.4-.8l1.4,.8l-1.6-.3M389,371l5.9,2m-1.7-1l1.7,1l-1.9-.3M408,371l6.7,1.8m-1.9-.9l1.9,.9l-2.1-.2M427,371l7,.8m-2-.6l2,.6l-2.1,.2M447,371l12.5-1.2m-3.8-.4l3.8,.4l-3.7,1.1M466,371l9.3-2.9m-2.9,.4l2.9-.4l-2.6,1.4M486,371l5.6-2.8m-1.8,.5l1.8-.5l-1.5,1.2M505,371l2.7-1.5M524,371l1.2,.4M544,371l-.1,2.4M563,371l-.5,4.2m.4-1.2l-.4,1.2l-.1-1.3M583,371l-.3,5.7m.4-1.7l-.4,1.7l-.2-1.7M602,371l.1,7.1m.4-2.1l-.4,2.1l-.4-2.1M621,371l.6,8.4m.3-2.5l-.3,2.5l-.7-2.5M641,371l1.1,9.5m.2-2.9l-.2,2.9l-.9-2.8M660,371l1.2,10.7m.3-3.3l-.3,3.3l-1-3.1M680,371l.7,11.9m.5-3.6l-.5,3.6l-.9-3.5M699,371l-.8,13m1-3.9l-1,3.9l-.5-3.9M718,371l-3.7,13.8m1.9-3.9l-1.9,3.9l.3-4.3M738,371l-8.4,13.4m3.3-3.5l-3.3,3.5l1.8-4.5M757,371l-14.7,10.4m5-2.3l-5,2.3l3.8-4M776,371l-20.4,3.8m6.3,0l-6.3,0l5.9-2.3M796,371l-22.4-4.7m6.5,2.7l-6.5-2.7l7,.1M815,371l-20.9-11.2m5.6,4.5l-5.6-4.5l6.9,2.2M835,371l-18.2-14.5m4.6,5.4l-4.6-5.4l6.3,3.3M137,391l-2.3,1.2M156,391l-2.1,1M175,391l-1.7,.8M195,391l-1.2,.6M214,391l1.2,.4M234,391l1.2,.4M253,391l1.2,.4M272,391l1.7-.2M292,391l2.5-.3M311,391l3.3-.2m-1-.1l1,.1l-1,.3M330,391l4.1-.1m-1.2-.2l1.2,.2l-1.2,.3M350,391l4.8,0m-1.4-.3l1.4,.3l-1.4,.3M369,391l5.5,.2m-1.6-.4l1.6,.4l-1.7,.3M389,391l6.1,.2m-1.8-.4l1.8,.4l-1.8,.3M408,391l6.5,.1m-1.9-.4l1.9,.4l-1.9,.4M427,391l6.4-.5m-2-.2l2,.2l-1.9,.5M447,391l11.7-2m-3.6-.1l3.6,.1l-3.4,1.3M466,391l9.7-2.6m-3,.2l3-.2l-2.7,1.3M486,391l7.2-2.2m-2.3,.2l2.3-.2l-2,1.1M505,391l5-1m-1.6,0l1.6,0l-1.5,.6M524,391l3.5,.6m-1-.4l1,.4l-1.1,0M544,391l2.5,2.5m-.6-.9l.6,.9l-.9-.6M563,391l2.1,4.2m-.4-1.4l.4,1.4l-.9-1.2M583,391l2.2,5.9m-.3-1.9l.3,1.9l-1-1.6M602,391l2.7,7.5m-.4-2.4l.4,2.4l-1.2-2.1M621,391l3.3,8.9m-.5-2.9l.5,2.9l-1.5-2.5M641,391l3.9,10.3m-.6-3.3l.6,3.3l-1.7-2.9M660,391l4.2,11.8m-.6-3.8l.6,3.8l-1.9-3.3M680,391l4.1,13.5m-.5-4.3l.5,4.3l-2-3.8M699,391l3,15.5m0-4.8l0,4.8l-1.8-4.5M718,391l.2,17.6m.9-5.3l-.9,5.3l-1.1-5.3M738,391l-5.6,19.4m2.8-5.5l-2.8,5.5l.6-6.1M757,391l-15.9,17.7m5.8-4.4l-5.8,4.4l3.8-6.2M776,391l-24.4,5.6m7.7-.3l-7.7,.3l7-3.1M796,391l-29.4-9.3m8.3,4.5l-8.3-4.5l9.3,1.1M815,391l-23.9-18.6m6.1,6.9l-6.1-6.9l8.2,4.2M835,391l-18.6-21.3m4.4,7.4l-4.4-7.4l6.8,5.3M137,411l-2.3,1M156,411l-2.1,.9M175,411l-1.7,.7M195,411l-1.1,.5M214,411l1.2,.4M234,411l1.2,.4M253,411l1.2,.4M272,411l2-.5M292,411l2.9-.8M311,411l3.7-.9m-1.2,.1l1.2-.1l-1.1,.5M330,411l4.5-1m-1.4,.1l1.4-.1l-1.3,.6M350,411l5.2-1.1m-1.6,0l1.6,0l-1.5,.6M369,411l5.8-1.1m-1.8,0l1.8,0l-1.7,.7M389,411l6.2-1.2m-1.9,0l1.9,0l-1.8,.7M408,411l12.9-2.4m-4,0l4,0l-3.7,1.5M427,411l12.6-2.8m-4,.1l4-.1l-3.6,1.6M447,411l5.8-1.5m-1.8,.1l1.8-.1l-1.7,.8M466,411l5.1-1.5m-1.6,.2l1.6-.2l-1.4,.7M486,411l8.4-2.2m-2.6,.2l2.6-.2l-2.4,1.1M505,411l6.7-1m-2.1-.1l2.1,.1l-2,.7M524,411l5.4,.7m-1.6-.5l1.6,.5l-1.7,.1M544,411l4.6,2.5m-1.2-1l1.2,1l-1.5-.5M563,411l4.3,4.3m-1.1-1.5l1.1,1.5l-1.5-1M583,411l4.5,6m-1-2.1l1,2.1l-1.7-1.5M602,411l5,7.6m-1.1-2.6l1.1,2.6l-1.9-2M621,411l5.7,9.2m-1.2-3.1l1.2,3.1l-2.2-2.4M641,411l6.6,10.7m-1.4-3.6l1.4,3.6l-2.6-2.8M660,411l7.4,12.4m-1.5-4.1l1.5,4.1l-2.9-3.3M680,411l7.9,14.4m-1.6-4.8l1.6,4.8l-3.2-3.9M699,411l7.9,17m-1.4-5.6l1.4,5.6l-3.3-4.7M718,411l6.8,20.6m-.9-6.6l.9,6.6l-3.2-5.8M738,411l2.8,26m.6-8l-.6,8l-2.3-7.6M757,411l-3.4,15.4m1.9-4.4l-1.9,4.4l.1-4.8M776,411l-9.5,0m2.8,.5l-2.8-.5l2.8-.5M796,411l-15.7-15.4m3.8,5.5l-3.8-5.5l5.6,3.7M815,411l-21.9-30.2m4.9,10.3l-4.9-10.3l8.3,7.8M835,411l-15.7-29.2m3,9.6l-3-9.6l6.4,7.9M137,432l-2.3,.8M156,432l-2,.8M175,432l-1.6,.7M195,432l1.2,.4M214,432l1.2,.4M234,432l1.2,.4M253,432l1.4-.4M272,432l2.3-.8M292,432l3.2-1.2m-1,.2l1-.2l-.9,.5M311,432l4.1-1.5m-1.3,.2l1.3-.2l-1.1,.7M330,432l4.9-1.8m-1.6,.3l1.6-.3l-1.4,.8M350,432l5.6-2.1m-1.8,.3l1.8-.3l-1.6,.9M369,432l6.1-2.2m-2,.3l2-.3l-1.7,1M389,432l12.9-4.6m-4.1,.6l4.1-.6l-3.6,2.1M408,432l13.2-4.6m-4.2,.6l4.2-.6l-3.7,2.1M427,432l12.8-4.5m-4.1,.6l4.1-.6l-3.6,2.1M447,432l6-2.1m-1.9,.3l1.9-.3l-1.7,1M466,432l10.7-3.7m-3.4,.5l3.4-.5l-3,1.7M486,432l9.3-2.6m-2.9,.3l2.9-.3l-2.6,1.3M505,432l8-1.2m-2.5-.1l2.5,.1l-2.3,.8M524,432l7,.5m-2.1-.5l2.1,.5l-2.1,.3M544,432l6.3,2.3m-1.8-1.1l1.8,1.1l-2-.3M563,432l6.1,4.1m-1.6-1.6l1.6,1.6l-2.1-.9M583,432l6.4,5.9m-1.6-2.1l1.6,2.1l-2.3-1.4M602,432l7,7.6m-1.7-2.7l1.7,2.7l-2.5-1.9M621,432l8,9.1m-1.9-3.2l1.9,3.2l-2.9-2.3M641,432l9.2,10.7m-2.1-3.7l2.1,3.7l-3.4-2.7M660,432l10.5,12.3m-2.5-4.3l2.5,4.3l-3.9-3.1M680,432l12,14.2m-2.8-4.9l2.8,4.9l-4.4-3.6M699,432l13.6,16.6m-3.1-5.8l3.1,5.8l-5-4.2M718,432l15.5,20.2m-3.5-6.9l3.5,6.9l-5.8-5.2M738,432l17.8,25.4m-3.9-8.6l3.9,8.6l-6.8-6.6M757,432l12.1,10m-3.1-3.7l3.1,3.7l-4.2-2.3M776,432l6-5.7m-2.1,1.4l2.1-1.4l-1.5,2M796,432l-.4-21.2m-1.1,6.4l1.1-6.4l1.3,6.3M815,432l-6.8-36.2m0,11.3l0-11.3l4.1,10.5M835,432l-7.9-35.3m.4,11.1l-.4-11.1l4.4,10.1M137,452l-2.3,.7M156,452l-1.9,.7M175,452l-1.4,.6M195,452l1.2,.4M214,452l1.2,.4M234,452l1.2,.4M253,452l3.6-1.1m-1.2,.1l1.2-.1l-1,.5M272,452l2.8-1M292,452l3.7-1.5m-1.2,.2l1.2-.2l-1,.7M311,452l4.6-2m-1.5,.3l1.5-.3l-1.3,.9M330,452l10.8-4.9m-3.5,.9l3.5-.9l-2.9,2.1M350,452l12.1-5.7m-3.9,1l3.9-1l-3.3,2.4M369,452l13.1-6.2m-4.3,1.1l4.3-1.1l-3.6,2.6M389,452l13.6-6.5m-4.5,1.2l4.5-1.2l-3.7,2.7M408,452l13.8-6.4m-4.5,1.1l4.5-1.1l-3.8,2.7M427,452l13.4-6.1m-4.4,1.1l4.4-1.1l-3.7,2.6M447,452l12.6-5.6m-4.1,1l4.1-1l-3.5,2.4M466,452l11.5-4.7m-3.7,.7l3.7-.7l-3.2,2.1M486,452l10.3-3.4m-3.3,.4l3.3-.4l-2.9,1.6M505,452l9.2-1.8m-2.8,0l2.8,0l-2.6,1.1M524,452l8.3,0m-2.5-.5l2.5,.5l-2.5,.5M544,452l7.8,1.9m-2.2-1l2.2,1l-2.4-.1M563,452l7.7,3.8m-2.1-1.6l2.1,1.6l-2.5-.7M583,452l8.1,5.6m-2.1-2.1l2.1,2.1l-2.7-1.2M602,452l8.9,7.2m-2.2-2.7l2.2,2.7l-3.1-1.7M621,452l10,8.7m-2.5-3.2l2.5,3.2l-3.5-2M641,452l11.5,10.1m-2.9-3.7l2.9,3.7l-4-2.4M660,452l13.3,11.5m-3.3-4.2l3.3,4.2l-4.7-2.7M680,452l15.6,12.8m-3.9-4.7l3.9,4.7l-5.4-3M699,452l18.4,14.3m-4.7-5.3l4.7,5.3l-6.3-3.2M718,452l22.5,15.7m-5.8-6l5.8,6l-7.6-3.4M738,452l29.3,16.6m-7.8-6.6l7.8,6.6l-9.7-3.3M757,452l27.6,4.7m-8-3l8,3l-8.5,.2M776,452l21.5-11.1m-7.1,2.1l7.1-2.1l-5.8,4.5M796,452l15.1-26.7m-6,7.1l6-7.1l-3,8.9M815,452l8.4-41.7m-4.9,12l4.9-12l-.1,13M835,452l1.6-36m-2.5,10.7l2.5-10.7l1.6,10.9M137,470l-2.1,.5M156,470l-1.7,.6M175,470l-1.1,.6M195,470l1.2,.4M214,470l1.2,.4M234,470l2.7-.4M253,470l4.6-1.3m-1.5,.1l1.5-.1l-1.3,.7M272,470l6.6-2.4m-2.1,.3l2.1-.3l-1.8,1.1M292,470l8.5-3.6m-2.8,.6l2.8-.6l-2.4,1.6M311,470l10.3-4.8m-3.4,.9l3.4-.9l-2.8,2M330,470l11.9-5.9m-3.9,1.1l3.9-1.1l-3.2,2.5M350,470l13.2-6.9m-4.4,1.3l4.4-1.3l-3.6,2.8M369,470l14.1-7.6m-4.7,1.5l4.7-1.5l-3.8,3.1M389,470l14.7-8m-4.8,1.6l4.8-1.6l-3.9,3.2M408,470l14.7-7.9m-4.9,1.5l4.9-1.5l-4,3.2M427,470l14.4-7.5m-4.7,1.4l4.7-1.4l-3.9,3.1M447,470l13.6-6.8m-4.5,1.3l4.5-1.3l-3.7,2.8M466,470l12.5-5.7m-4.1,1l4.1-1l-3.4,2.4M486,470l11.3-4.3m-3.6,.6l3.6-.6l-3.2,1.9M505,470l10.3-2.6m-3.2,.2l3.2-.2l-2.9,1.4M524,470l9.5-.7m-2.9-.3l2.9,.3l-2.8,.8M544,470l9.1,1.2m-2.7-.9l2.7,.9l-2.8,.2M563,470l9.1,3.1m-2.5-1.5l2.5,1.5l-2.9-.4M583,470l9.5,4.9m-2.6-2l2.6,2l-3.1-.9M602,470l10.3,6.5m-2.7-2.6l2.7,2.6l-3.5-1.4M621,470l11.6,8m-3-3.1l3,3.1l-3.9-1.7M641,470l13.3,9.2m-3.5-3.5l3.5,3.5l-4.5-2M660,470l15.4,10.2m-4-3.9l4,3.9l-5.2-2.2M680,470l17.9,10.9m-4.8-4.3l4.8,4.3l-6-2.2M699,470l21.1,11.2m-5.7-4.6l5.7,4.6l-7-2.1M718,470l25.4,10.6m-7-4.6l7,4.6l-8.2-1.7M738,470l31.3,7.7m-8.9-4.1l8.9,4.1l-9.8-.5M757,470l37.8-.6m-11.4-2l11.4,2l-11.3,2.3M776,470l35.4-15.7m-11.5,2.7l11.5-2.7l-9.7,6.7M796,470l28.3-30.6m-10.2,7.6l10.2-7.6l-6.7,10.8M815,470l16-34.2m-6.7,9.4l6.7-9.4l-2.8,11.2M835,470l7.8-32.6m-4.2,9.3l4.2-9.3l-.5,10.2M137,490l-1.7,.2M156,490l-1.2,.4M175,490l1.2,.4M195,490l1.2,.4M214,490l2.2,0M234,490l4.2-.7m-1.3,0l1.3,0l-1.2,.5M253,490l6.2-1.7m-2,.2l2-.2l-1.8,.9M272,490l4.2-1.5m-1.3,.2l1.3-.2l-1.2,.7M292,490l5.2-2.1m-1.7,.3l1.7-.3l-1.4,.9M311,490l12.2-5.7m-4,1l4-1l-3.3,2.4M330,490l13.7-7m-4.5,1.3l4.5-1.3l-3.7,2.9M350,490l15-8.2m-5,1.6l5-1.6l-4,3.3M369,490l15.9-9.1m-5.3,1.8l5.3-1.8l-4.2,3.6M389,490l16.3-9.6m-5.4,1.9l5.4-1.9l-4.3,3.8M408,490l16.3-9.6m-5.4,2l5.4-2l-4.3,3.8M427,490l15.9-9.2m-5.3,1.8l5.3-1.8l-4.3,3.7M447,490l15.1-8.4m-5,1.6l5-1.6l-4.1,3.4M466,490l14.1-7.2m-4.6,1.4l4.6-1.4l-3.8,3M486,490l12.9-5.7m-4.2,1l4.2-1l-3.6,2.5M505,490l11.9-3.9m-3.8,.5l3.8-.5l-3.4,1.9M524,490l11.2-2m-3.5,0l3.5,0l-3.2,1.2M544,490l10.7,0m-3.2-.6l3.2,.6l-3.2,.6M563,490l10.7,1.9m-3.1-1.2l3.1,1.2l-3.3,0M583,490l11.2,3.7m-3.1-1.8l3.1,1.8l-3.6-.5M602,490l12,5.3m-3.3-2.3l3.3,2.3l-3.9-.9M621,490l13.3,6.7m-3.6-2.8l3.6,2.8l-4.4-1.2M641,490l15,7.7m-4.1-3.2l4.1,3.2l-4.9-1.5M660,490l17.1,8.3m-4.7-3.5l4.7,3.5l-5.6-1.5M680,490l19.6,8.5m-5.4-3.7l5.4,3.7l-6.4-1.4M699,490l22.6,7.8m-6.3-3.6l6.3,3.6l-7.2-1.1M718,490l26,6m-7.5-3.3l7.5,3.3l-8.1-.3M738,490l29.6,2m-8.8-2.3l8.8,2.3l-9,1.1M757,490l32.1-5m-9.9-.3l9.9,.3l-9.4,3.3M776,490l31.1-14.3m-10.1,2.5l10.1-2.5l-8.5,6.1M796,490l25.5-22.6m-8.9,5.3l8.9-5.3l-6.4,8.2M815,490l18-26.9m-6.9,7l6.9-7l-3.9,9.1M835,490l11.2-27.8m-4.9,7.7l4.9-7.7l-1.8,9M137,510l1.2,.4M156,510l1.2,.4M175,510l1.2,.4M195,510l1.2-.1M214,510l2.2-.4M234,510l6.4-1.5m-2,.1l2-.1l-1.8,.8M253,510l8.6-2.6m-2.7,.3l2.7-.3l-2.4,1.3M272,510l5.4-2m-1.7,.3l1.7-.3l-1.5,.9M292,510l12.9-5.4m-4.2,.9l4.2-.9l-3.5,2.3M311,510l14.7-6.9m-4.8,1.2l4.8-1.2l-4,2.9M330,510l16.4-8.5m-5.4,1.6l5.4-1.6l-4.4,3.5M350,510l17.6-9.8m-5.8,1.9l5.8-1.9l-4.7,3.9M369,510l18.4-10.9m-6.2,2.2l6.2-2.2l-4.9,4.3M389,510l18.8-11.5m-6.3,2.4l6.3-2.4l-5,4.5M408,510l18.8-11.7m-6.3,2.4l6.3-2.4l-5,4.6M427,510l18.3-11.3m-6.1,2.3l6.1-2.3l-4.8,4.4M447,510l17.5-10.4m-5.9,2.1l5.9-2.1l-4.7,4.1M466,510l8.2-4.6m-2.7,.9l2.7-.9l-2.2,1.9M486,510l15.3-7.7m-5,1.4l5-1.4l-4.2,3.2M505,510l14.3-5.9m-4.6,1l4.6-1l-3.9,2.6M524,510l13.5-4m-4.3,.4l4.3-.4l-3.8,2M544,510l13-1.9m-4-.2l4,.2l-3.8,1.3M563,510l12.9,0m-3.9-.7l3.9,.7l-3.9,.7M583,510l13.3,1.8m-3.9-1.3l3.9,1.3l-4.1,.2M602,510l14.1,3.4m-4-1.8l4,1.8l-4.4-.2M621,510l15.3,4.7m-4.3-2.3l4.3,2.3l-4.9-.5M641,510l16.8,5.6m-4.7-2.6l4.7,2.6l-5.4-.7M660,510l18.7,6.1m-5.3-2.9l5.3,2.9l-6-.8M680,510l20.8,5.9m-5.9-3l5.9,3l-6.6-.6M699,510l23.2,4.9m-6.7-2.8l6.7,2.8l-7.2-.1M718,510l25.6,2.7m-7.5-2.3l7.5,2.3l-7.8,.7M738,510l27.5-1m-8.3-1.3l8.3,1.3l-8.2,1.9M757,510l28.2-6.3m-8.8,.3l8.8-.3l-8.1,3.5M776,510l26.8-12.4m-8.8,2.2l8.8-2.2l-7.3,5.2M796,510l23.1-17.9m-7.9,4.1l7.9-4.1l-5.9,6.7M815,510l17.9-21.6m-6.6,5.5l6.6-5.5l-4.1,7.5M835,510l12.6-23.3m-5.1,6.3l5.1-6.3l-2.5,7.7M137,528l1.2,.4M156,528l1.2,.4M175,528l1.4-.6M195,528l2.4-.7M214,528l3.4-1m-1.1,.1l1.1-.1l-1,.5M234,528l9.1-2.8m-2.9,.3l2.9-.3l-2.6,1.4M253,528l11.5-3.9m-3.7,.5l3.7-.5l-3.2,1.8M272,528l13.7-5.3m-4.4,.8l4.4-.8l-3.8,2.4M292,528l15.9-6.9m-5.2,1.2l5.2-1.2l-4.4,3M311,528l17.8-8.6m-5.8,1.6l5.8-1.6l-4.9,3.6M330,528l19.5-10.2m-6.4,1.9l6.4-1.9l-5.3,4.2M350,528l20.7-11.7m-6.9,2.3l6.9-2.3l-5.6,4.7M369,528l21.5-12.8m-7.2,2.6l7.2-2.6l-5.7,5.1M389,528l21.8-13.6m-7.3,2.8l7.3-2.8l-5.8,5.3M408,528l21.7-13.9m-7.3,2.9l7.3-2.9l-5.7,5.4M427,528l21.2-13.6m-7.1,2.9l7.1-2.9l-5.6,5.3M447,528l10.2-6.4m-3.4,1.3l3.4-1.3l-2.7,2.5M466,528l9.7-5.8m-3.2,1.2l3.2-1.2l-2.6,2.3M486,528l18.2-10.1m-6,2l6-2l-4.9,4.1M505,528l17.1-8.3m-5.6,1.5l5.6-1.5l-4.6,3.5M524,528l16.2-6.4m-5.2,1l5.2-1l-4.5,2.8M544,528l15.6-4.4m-4.9,.4l4.9-.4l-4.4,2.2M563,528l15.5-2.4m-4.8-.2l4.8,.2l-4.5,1.6M583,528l15.7-.6m-4.8-.7l4.8,.7l-4.7,1.1M602,528l16.4,1.1m-4.9-1.2l4.9,1.2l-5,.6M621,528l17.4,2.4m-5.1-1.7l5.1,1.7l-5.3,.3M641,528l18.7,3.3m-5.4-2l5.4,2l-5.8,.1M660,528l20.2,3.7m-5.9-2.3l5.9,2.3l-6.3,0M680,528l21.9,3.5m-6.4-2.3l6.4,2.3l-6.8,.2M699,528l23.7,2.5m-7-2.1l7,2.1l-7.2,.6M718,528l25.2,.5m-7.5-1.6l7.5,1.6l-7.6,1.3M738,528l26.1-2.6m-8-.7l8,.7l-7.7,2.3M757,528l26.1-6.5m-8.2,.5l8.2-.5l-7.4,3.4M776,528l24.5-11m-8,1.9l8-1.9l-6.7,4.7M796,528l21.5-15.1m-7.3,3.3l7.3-3.3l-5.6,5.7M815,528l17.5-18.1m-6.3,4.4l6.3-4.4l-4.2,6.4M835,528l13.1-19.7m-5.1,5.2l5.1-5.2l-2.8,6.7M137,547l1-1.3M156,547l1.8-1.3M175,547l2.7-1.3M195,547l3.8-1.5m-1.2,.2l1.2-.2l-1,.7M214,547l4.9-1.8m-1.6,.3l1.6-.3l-1.4,.8M234,547l6.1-2.3m-2,.3l2-.3l-1.7,1M253,547l14.7-5.7m-4.7,.9l4.7-.9l-4.1,2.6M272,547l17.1-7.2m-5.5,1.2l5.5-1.2l-4.7,3.1M292,547l19.3-8.8m-6.3,1.5l6.3-1.5l-5.3,3.7M311,547l21.3-10.5m-7,1.9l7-1.9l-5.8,4.4M330,547l23-12.3m-7.6,2.4l7.6-2.4l-6.2,5M350,547l24.2-13.8m-8,2.8l8-2.8l-6.5,5.5M369,547l24.9-15.1m-8.3,3.1l8.3-3.1l-6.6,5.9M389,547l25.2-15.9m-8.5,3.3l8.5-3.3l-6.7,6.2M408,547l25-16.3m-8.4,3.5l8.4-3.5l-6.6,6.3M427,547l24.4-16.1m-8.2,3.4l8.2-3.4l-6.4,6.2M447,547l11.7-7.7m-4,1.6l4-1.6l-3.1,3M466,547l11.2-7.1m-3.8,1.5l3.8-1.5l-3,2.8M486,547l21.3-12.7m-7.1,2.6l7.1-2.6l-5.7,5M505,547l20.1-11m-6.6,2.1l6.6-2.1l-5.4,4.4M524,547l19.1-9.1m-6.2,1.6l6.2-1.6l-5.2,3.8M544,547l18.4-7.1m-5.9,1.1l5.9-1.1l-5.1,3.2M563,547l18.1-5.1m-5.7,.5l5.7-.5l-5.2,2.6M583,547l18.2-3.2m-5.7-.1l5.7,.1l-5.3,2M602,547l18.7-1.6m-5.7-.6l5.7,.6l-5.5,1.5M621,547l19.4-.2m-5.8-1l5.8,1l-5.8,1.2M641,547l20.5,.8m-6.1-1.4l6.1,1.4l-6.2,.9M660,547l21.6,1.3m-6.4-1.6l6.4,1.6l-6.6,.8M680,547l22.9,1.2m-6.8-1.7l6.8,1.7l-6.9,.9M699,547l24,.4m-7.2-1.5l7.2,1.5l-7.2,1.2M718,547l24.9-1.1m-7.5-1.1l7.5,1.1l-7.4,1.8M738,547l25.2-3.5m-7.7-.4l7.7,.4l-7.4,2.5M757,547l24.6-6.5m-7.8,.5l7.8-.5l-7,3.3M776,547l23-9.7m-7.5,1.6l7.5-1.6l-6.4,4.2M796,547l20.5-12.8m-6.9,2.7l6.9-2.7l-5.4,5M815,547l17-15.1m-6,3.6l6-3.6l-4.2,5.5M835,547l13.2-16.6m-4.9,4.2l4.9-4.2l-3,5.7M137,567l2.1-2.1M156,567l3-2.1m-1,.5l1-.5l-.8,.8M175,567l4.1-2.2m-1.3,.4l1.3-.4l-1.1,.9M195,567l5.2-2.5m-1.7,.4l1.7-.4l-1.4,1M214,567l6.5-2.8m-2.1,.5l2.1-.5l-1.8,1.2M234,567l7.7-3.3m-2.5,.5l2.5-.5l-2.1,1.4M253,567l9-3.9m-2.9,.7l2.9-.7l-2.5,1.7M272,567l20.5-9.3m-6.7,1.6l6.7-1.6l-5.6,4M292,567l22.8-10.9m-7.5,2l7.5-2l-6.2,4.6M311,567l24.8-12.7m-8.1,2.4l8.1-2.4l-6.7,5.2M330,567l26.4-14.4m-8.7,2.8l8.7-2.8l-7.1,5.8M350,567l27.5-15.9m-9.2,3.2l9.2-3.2l-7.3,6.3M369,567l28.2-17.2m-9.4,3.6l9.4-3.6l-7.5,6.8M389,567l28.3-18.1m-9.5,3.8l9.5-3.8l-7.5,7M408,567l28-18.5m-9.5,4l9.5-4l-7.3,7.1M427,567l27.2-18.4m-9.2,4l9.2-4l-7.1,7.1M447,567l13.1-8.9m-4.4,1.9l4.4-1.9l-3.4,3.4M466,567l12.5-8.3m-4.2,1.8l4.2-1.8l-3.3,3.2M486,567l23.8-15.2m-8,3.2l8-3.2l-6.3,5.9M505,567l22.6-13.5m-7.6,2.8l7.6-2.8l-6,5.3M524,567l21.5-11.6m-7.1,2.3l7.1-2.3l-5.8,4.7M544,567l20.7-9.7m-6.8,1.7l6.8-1.7l-5.7,4.1M563,567l20.2-7.7m-6.5,1.2l6.5-1.2l-5.6,3.5M583,567l20.1-5.8m-6.4,.6l6.4-.6l-5.7,2.9M602,567l20.3-4.1m-6.3,.1l6.3-.1l-5.9,2.4M621,567l20.8-2.6m-6.4-.4l6.4,.4l-6.1,2M641,567l21.5-1.5m-6.5-.8l6.5,.8l-6.4,1.7M660,567l22.3-.8m-6.7-1l6.7,1l-6.7,1.5M680,567l23.1-.6m-7-1.1l7,1.1l-6.9,1.5M699,567l23.8-1.1m-7.2-1l7.2,1l-7.1,1.7M718,567l24.1-2.1m-7.4-.7l7.4,.7l-7.1,2M738,567l23.9-3.8m-7.4-.2l7.4,.2l-7,2.5M757,567l23.1-5.9m-7.3,.5l7.3-.5l-6.6,3.1M776,567l21.5-8.2m-6.9,1.2l6.9-1.2l-6,3.7M796,567l19.1-10.4m-6.3,2l6.3-2l-5.1,4.2M815,567l16.1-12.2m-5.5,2.7l5.5-2.7l-4.1,4.6M835,567l12.9-13.5m-4.6,3.3l4.6-3.3l-3.1,4.8M137,585l3-2.6m-1,.6l1-.6l-.7,1M156,585l3.9-2.7m-1.3,.6l1.3-.6l-1,1M175,585l5-2.9m-1.7,.6l1.7-.6l-1.3,1.2M195,585l6.2-3.2m-2,.6l2-.6l-1.7,1.3M214,585l7.5-3.5m-2.4,.6l2.4-.6l-2,1.5M234,585l8.8-4m-2.9,.7l2.9-.7l-2.4,1.7M253,585l10.1-4.6m-3.3,.8l3.3-.8l-2.8,2M272,585l22.6-10.7m-7.4,1.9l7.4-1.9l-6.2,4.5M292,585l24.8-12.3m-8.1,2.3l8.1-2.3l-6.7,5.1M311,585l26.7-14m-8.8,2.7l8.8-2.7l-7.2,5.7M330,585l28.2-15.6m-9.3,3.1l9.3-3.1l-7.6,6.3M350,585l29.2-17.1m-9.7,3.5l9.7-3.5l-7.8,6.8M369,585l29.7-18.3m-10,3.8l10-3.8l-7.9,7.2M389,585l29.7-19.1m-10,4l10-4l-7.8,7.4M408,585l29.2-19.5m-9.9,4.2l9.9-4.2l-7.7,7.5M427,585l28.3-19.4m-9.6,4.2l9.6-4.2l-7.4,7.4M447,585l27.1-18.8m-9.2,4.1l9.2-4.1l-7.1,7.2M466,585l25.8-17.8m-8.8,3.9l8.8-3.9l-6.7,6.8M486,585l12.2-8.2m-4.1,1.8l4.1-1.8l-3.2,3.2M505,585l23.1-14.8m-7.8,3.1l7.8-3.1l-6.1,5.8M524,585l22-13m-7.3,2.6l7.3-2.6l-5.9,5.1M544,585l21.2-11m-7,2.1l7-2.1l-5.7,4.5M563,585l20.6-9.1m-6.7,1.6l6.7-1.6l-5.6,3.9M583,585l20.3-7.2m-6.5,1l6.5-1l-5.7,3.3M602,585l20.3-5.5m-6.4,.5l6.4-.5l-5.8,2.8M621,585l20.6-3.9m-6.4,0l6.4,0l-5.9,2.4M641,585l21-2.7m-6.5-.4l6.5,.4l-6.2,2M660,585l21.6-1.9m-6.6-.7l6.6,.7l-6.4,1.8M680,585l22.1-1.5m-6.7-.8l6.7,.8l-6.6,1.7M699,585l22.5-1.6m-6.8-.8l6.8,.8l-6.7,1.8M718,585l22.6-2.2m-6.9-.6l6.9,.6l-6.6,2M738,585l22.2-3.3m-6.8-.3l6.8,.3l-6.5,2.3M757,585l21.2-4.8m-6.6,.2l6.6-.2l-6.1,2.6M776,585l19.6-6.4m-6.2,.8l6.2-.8l-5.5,3M796,585l17.4-8.1m-5.7,1.4l5.7-1.4l-4.8,3.4M815,585l14.8-9.5m-5,2l5-2l-3.9,3.7M835,585l12.1-10.7m-4.2,2.5l4.2-2.5l-3,3.9M137,604l6.8-5.8m-2.4,1.4l2.4-1.4l-1.7,2.1M156,604l4.3-3.1m-1.5,.7l1.5-.7l-1.1,1.2M175,604l5.4-3.3m-1.8,.7l1.8-.7l-1.4,1.3M195,604l6.6-3.6m-2.2,.7l2.2-.7l-1.8,1.4M214,604l7.9-3.9m-2.6,.7l2.6-.7l-2.1,1.6M234,604l9.1-4.4m-3,.8l3-.8l-2.5,1.8M253,604l10.4-5m-3.4,.9l3.4-.9l-2.8,2.1M272,604l23.1-11.2m-7.6,2.1l7.6-2.1l-6.3,4.7M292,604l25.2-12.7m-8.3,2.4l8.3-2.4l-6.8,5.2M311,604l26.9-14.2m-8.9,2.7l8.9-2.7l-7.3,5.8M330,604l28.2-15.6m-9.4,3.1l9.4-3.1l-7.6,6.3M350,604l29-16.9m-9.7,3.4l9.7-3.4l-7.7,6.7M369,604l29.3-18m-9.8,3.7l9.8-3.7l-7.8,7.1M389,604l29.1-18.7m-9.8,4l9.8-4l-7.7,7.3M408,604l28.5-19m-9.6,4.1l9.6-4.1l-7.5,7.3M427,604l27.4-18.9m-9.3,4.1l9.3-4.1l-7.1,7.2M447,604l26.1-18.4m-8.9,4l8.9-4l-6.8,7M466,604l24.6-17.5m-8.4,3.8l8.4-3.8l-6.4,6.6M486,604l23.1-16.2m-7.8,3.5l7.8-3.5l-6,6.2M505,604l21.7-14.7m-7.3,3.2l7.3-3.2l-5.7,5.6M524,604l20.5-13m-6.9,2.7l6.9-2.7l-5.4,5.1M544,604l19.6-11.2m-6.5,2.2l6.5-2.2l-5.2,4.5M563,604l19-9.3m-6.2,1.7l6.2-1.7l-5.2,3.9M583,604l18.7-7.5m-6,1.2l6-1.2l-5.2,3.3M602,604l18.7-5.8m-5.9,.7l5.9-.7l-5.3,2.8M621,604l18.8-4.3m-5.9,.2l5.9-.2l-5.4,2.4M641,604l19.2-3m-5.9-.2l5.9,.2l-5.6,2M660,604l19.6-2m-6-.5l6,.5l-5.8,1.7M680,604l20-1.5m-6.1-.7l6.1,.7l-5.9,1.6M699,604l20.2-1.3m-6.1-.8l6.1,.8l-6,1.5M718,604l20.1-1.6m-6.1-.7l6.1,.7l-5.9,1.6M738,604l19.6-2.2m-6-.4l6,.4l-5.7,1.8M757,604l18.6-3.2m-5.8-.1l5.8,.1l-5.4,2M776,604l17.2-4.4m-5.4,.3l5.4-.3l-4.9,2.3M796,604l15.4-5.7m-4.9,.8l4.9-.8l-4.3,2.6M815,604l13.2-6.9m-4.4,1.3l4.4-1.3l-3.6,2.8M835,604l10.8-8m-3.7,1.8l3.7-1.8l-2.8,3M137,622l6.7-5.8m-2.3,1.4l2.3-1.4l-1.7,2.1M156,622l8.5-6.2m-2.9,1.4l2.9-1.4l-2.2,2.3M175,622l5.3-3.3m-1.8,.7l1.8-.7l-1.4,1.3M195,622l6.4-3.5m-2.1,.7l2.1-.7l-1.7,1.4M214,622l7.6-3.9m-2.5,.7l2.5-.7l-2,1.6M234,622l8.7-4.3m-2.9,.8l2.9-.8l-2.4,1.8M253,622l9.9-4.8m-3.2,.9l3.2-.9l-2.7,2M272,622l21.9-10.6m-7.2,1.9l7.2-1.9l-6,4.4M292,622l23.7-11.9m-7.8,2.2l7.8-2.2l-6.4,4.9M311,622l25.2-13.1m-8.3,2.5l8.3-2.5l-6.8,5.4M330,622l26.3-14.3m-8.7,2.8l8.7-2.8l-7.1,5.8M350,622l26.9-15.4m-8.9,3.1l8.9-3.1l-7.2,6.1M369,622l26.9-16.2m-9,3.3l9-3.3l-7.2,6.4M389,622l26.5-16.8m-8.9,3.5l8.9-3.5l-7,6.6M408,622l25.7-17.1m-8.7,3.7l8.7-3.7l-6.7,6.6M427,622l24.5-16.9m-8.3,3.7l8.3-3.7l-6.4,6.5M447,622l23.1-16.5m-7.9,3.6l7.9-3.6l-6,6.3M466,622l21.5-15.7m-7.4,3.5l7.4-3.5l-5.6,5.9M486,622l10-7.3m-3.4,1.6l3.4-1.6l-2.6,2.8M505,622l18.6-13.3m-6.3,2.9l6.3-2.9l-4.8,5M524,622l8.7-5.9m-2.9,1.3l2.9-1.3l-2.3,2.3M544,622l16.5-10.2m-5.5,2.1l5.5-2.1l-4.4,4M563,622l15.9-8.5m-5.3,1.6l5.3-1.6l-4.3,3.5M583,622l15.6-6.9m-5.1,1.2l5.1-1.2l-4.3,2.9M602,622l15.6-5.3m-5,.7l5-.7l-4.4,2.5M621,622l15.8-3.8m-5,.2l5-.2l-4.5,2.1M641,622l16.2-2.6m-5-.1l5,.1l-4.7,1.7M660,622l16.6-1.6m-5.1-.5l5.1,.5l-4.9,1.4M680,622l17-.9m-5.1-.7l5.1,.7l-5,1.2M699,622l17.2-.5m-5.2-.8l5.2,.8l-5.1,1.1M718,622l17.1-.5m-5.2-.8l5.2,.8l-5.1,1.1M738,622l16.7-.9m-5.1-.7l5.1,.7l-5,1.2M757,622l16-1.5m-4.9-.4l4.9,.4l-4.7,1.4M776,622l14.8-2.4m-4.6-.1l4.6,.1l-4.3,1.6M796,622l13.3-3.4m-4.2,.3l4.2-.3l-3.8,1.8M815,622l11.5-4.5m-3.7,.7l3.7-.7l-3.2,2M835,622l9.5-5.4m-3.2,1.1l3.2-1.1l-2.5,2.2M137,641l5.8-5.3m-2.1,1.3l2.1-1.3l-1.5,1.9M156,641l7.4-5.6m-2.5,1.3l2.5-1.3l-1.9,2.1M175,641l9.2-6m-3.1,1.3l3.1-1.3l-2.4,2.3M195,641l5.6-3.2m-1.9,.6l1.9-.6l-1.5,1.3M214,641l6.7-3.4m-2.2,.7l2.2-.7l-1.8,1.4M234,641l15.4-7.5m-5.1,1.4l5.1-1.4l-4.2,3.1M253,641l17.5-8.2m-5.7,1.5l5.7-1.5l-4.8,3.5M272,641l19.3-9.1m-6.3,1.6l6.3-1.6l-5.3,3.8M292,641l20.8-10m-6.8,1.8l6.8-1.8l-5.7,4.2M311,641l22.1-11m-7.2,2l7.2-2l-6,4.5M330,641l22.8-11.9m-7.5,2.3l7.5-2.3l-6.2,4.9M350,641l23.2-12.7m-7.7,2.5l7.7-2.5l-6.2,5.1M369,641l23.1-13.3m-7.7,2.7l7.7-2.7l-6.2,5.3M389,641l22.5-13.7m-7.5,2.8l7.5-2.8l-6,5.4M408,641l21.5-13.9m-7.3,2.9l7.3-2.9l-5.7,5.4M427,641l10.1-6.9m-3.4,1.5l3.4-1.5l-2.6,2.6M447,641l18.8-13.4m-6.4,3l6.4-3l-4.9,5.1M466,641l17.3-12.8m-5.9,2.9l5.9-2.9l-4.5,4.8M486,641l15.8-11.9m-5.4,2.7l5.4-2.7l-4.1,4.5M505,641l14.5-10.9m-5,2.4l5-2.4l-3.7,4.1M524,641l13.4-9.7m-4.6,2.2l4.6-2.2l-3.5,3.7M544,641l12.6-8.4m-4.3,1.8l4.3-1.8l-3.3,3.2M563,641l12.1-7.1m-4,1.4l4-1.4l-3.2,2.8M583,641l11.9-5.7m-3.9,1l3.9-1l-3.3,2.4M602,641l12.1-4.3m-3.9,.6l3.9-.6l-3.4,2M621,641l12.4-3.1m-3.9,.2l3.9-.2l-3.5,1.6M641,641l12.9-1.9m-4-.2l4,.2l-3.8,1.3M660,641l13.4-1m-4.1-.5l4.1,.5l-4,1.1M680,641l13.9-.2m-4.2-.7l4.2,.7l-4.2,.9M699,641l14.2,.2m-4.3-.9l4.3,.9l-4.3,.7M718,641l14.3,.4m-4.3-.9l4.3,.9l-4.3,.7M738,641l14.1,.3m-4.2-.9l4.2,.9l-4.2,.7M757,641l13.6-.1m-4.1-.7l4.1,.7l-4.1,.8M776,641l12.7-.8m-3.8-.5l3.8,.5l-3.8,.9M796,641l11.4-1.5m-3.5-.2l3.5,.2l-3.3,1.1M815,641l10-2.4m-3.1,.2l3.1-.2l-2.8,1.3M835,641l8.3-3.3m-2.7,.5l2.7-.5l-2.3,1.5M137,659l4.6-4.6m-1.6,1.1l1.6-1.1l-1.1,1.6M156,659l5.9-4.8m-2,1.1l2-1.1l-1.5,1.8M175,659l7.4-5m-2.5,1.1l2.5-1.1l-1.9,1.9M195,659l9.1-5.3m-3,1.1l3-1.1l-2.4,2.1M214,659l10.9-5.6m-3.6,1.1l3.6-1.1l-3,2.3M234,659l12.7-6m-4.2,1.1l4.2-1.1l-3.5,2.5M253,659l14.4-6.5m-4.7,1.1l4.7-1.1l-4,2.8M272,659l15.9-7m-5.2,1.2l5.2-1.2l-4.4,3M292,659l17.2-7.6m-5.6,1.3l5.6-1.3l-4.7,3.3M311,659l18.1-8.2m-5.9,1.4l5.9-1.4l-5,3.5M330,659l18.6-8.8m-6.1,1.6l6.1-1.6l-5.1,3.7M350,659l18.7-9.4m-6.2,1.7l6.2-1.7l-5.1,3.9M369,659l18.4-9.8m-6.1,1.9l6.1-1.9l-5,4M389,659l17.8-10.1m-5.9,2l5.9-2l-4.8,4M408,659l8.4-5.1m-2.8,1.1l2.8-1.1l-2.2,2M427,659l15.5-10.1m-5.2,2.2l5.2-2.2l-4.1,3.9M447,659l14.1-9.9m-4.8,2.2l4.8-2.2l-3.7,3.8M466,659l12.6-9.5m-4.3,2.1l4.3-2.1l-3.2,3.6M486,659l11.3-8.9m-3.9,2l3.9-2l-2.9,3.3M505,659l10.1-8.2m-3.5,1.9l3.5-1.9l-2.6,3M524,659l9.2-7.4m-3.2,1.7l3.2-1.7l-2.3,2.7M544,659l8.6-6.5m-2.9,1.4l2.9-1.4l-2.2,2.4M563,659l8.3-5.5m-2.8,1.2l2.8-1.2l-2.2,2.1M583,659l8.3-4.4m-2.7,.9l2.7-.9l-2.2,1.8M602,659l8.6-3.4m-2.8,.5l2.8-.5l-2.4,1.5M621,659l9.1-2.3m-2.9,.2l2.9-.2l-2.6,1.2M641,659l9.8-1.3m-3-.2l3,.2l-2.9,1M660,659l10.5-.5m-3.2-.5l3.2,.5l-3.1,.7M680,659l11.1,.2m-3.3-.7l3.3,.7l-3.4,.6M699,659l11.7,.7m-3.5-.9l3.5,.9l-3.5,.4M718,659l11.9,1m-3.5-1l3.5,1l-3.6,.4M738,659l11.9,1m-3.5-1l3.5,1l-3.6,.4M757,659l11.6,.8m-3.4-.9l3.4,.9l-3.5,.4M776,659l10.9,.4m-3.3-.8l3.3,.8l-3.3,.5M796,659l10-.1m-3-.5l3,.5l-3,.6M815,659l8.8-.9m-2.7-.2l2.7,.2l-2.6,.8M835,659l7.4-1.6m-2.3,.1l2.3-.1l-2.1,.9M137,677l3.2-3.8m-1.2,1l1.2-1l-.7,1.3M156,677l4.2-4m-1.5,1l1.5-1l-1,1.4M175,677l5.5-4.1m-1.9,.9l1.9-.9l-1.4,1.6M195,677l6.9-4.2m-2.3,.9l2.3-.9l-1.8,1.7M214,677l8.4-4.3m-2.8,.8l2.8-.8l-2.3,1.8M234,677l9.9-4.5m-3.2,.8l3.2-.8l-2.7,1.9M253,677l11.3-4.6m-3.6,.7l3.6-.7l-3.1,2M272,677l12.5-4.8m-4,.7l4-.7l-3.5,2.2M292,677l13.4-5.1m-4.3,.8l4.3-.8l-3.7,2.3M311,677l14.1-5.4m-4.5,.8l4.5-.8l-3.9,2.4M330,677l14.4-5.7m-4.7,.9l4.7-.9l-4,2.5M350,677l14.4-6m-4.6,1l4.6-1l-4,2.6M369,677l13.9-6.2m-4.5,1.1l4.5-1.1l-3.8,2.7M389,677l13.1-6.4m-4.3,1.2l4.3-1.2l-3.6,2.7M408,677l12.1-6.5m-4,1.3l4-1.3l-3.3,2.6M427,677l10.9-6.5m-3.6,1.3l3.6-1.3l-2.9,2.6M447,677l9.6-6.4m-3.2,1.4l3.2-1.4l-2.5,2.5M466,677l8.2-6.3m-2.8,1.4l2.8-1.4l-2.1,2.4M486,677l3.5-3m-1.2,.7l1.2-.7l-.9,1.1M505,677l3-2.8m-1.1,.7l1.1-.7l-.8,1M524,677l2.7-2.6m-1,.6l1-.6l-.7,.9M544,677l2.5-2.3m-.9,.6l.9-.6l-.6,.8M563,677l4.9-4.1m-1.7,.9l1.7-.9l-1.2,1.5M583,677l5.1-3.4m-1.7,.7l1.7-.7l-1.4,1.3M602,677l5.7-2.6m-1.8,.5l1.8-.5l-1.5,1.1M621,677l6.4-1.9m-2,.2l2-.2l-1.8,.9M641,677l7.2-1.1m-2.2-.1l2.2,.1l-2.1,.7M660,677l8.1-.3m-2.5-.4l2.5,.4l-2.4,.6M680,677l8.9,.3m-2.7-.6l2.7,.6l-2.7,.4M699,677l9.6,.8m-2.8-.8l2.8,.8l-2.9,.3M718,677l10.1,1.2m-3-.9l3,.9l-3.1,.2M738,677l10.2,1.4m-3-1l3,1l-3.2,.2M757,677l10.1,1.3m-3-1l3,1l-3.1,.2M776,677l9.7,1.1m-2.8-.9l2.8,.9l-3,.2M796,677l8.9,.7m-2.6-.7l2.6,.7l-2.7,.3M815,677l8,.2m-2.4-.5l2.4,.5l-2.4,.4M835,677l6.8-.5m-2.1-.3l2.1,.3l-2,.5M137,696l2-3.4m-.8,.9l.8-.9l-.4,1.1M156,696l2.8-3.5m-1,.9l1-.9l-.6,1.2M175,696l3.8-3.5m-1.3,.8l1.3-.8l-.9,1.3M195,696l4.9-3.5m-1.7,.8l1.7-.8l-1.3,1.3M214,696l6.1-3.4m-2,.7l2-.7l-1.6,1.4M234,696l7.3-3.2m-2.4,.6l2.4-.6l-2,1.4M253,696l8.4-3.1m-2.7,.5l2.7-.5l-2.4,1.4M272,696l9.4-3.1m-3,.4l3-.4l-2.7,1.5M292,696l10.2-3m-3.2,.3l3.2-.3l-2.9,1.5M311,696l10.6-3m-3.4,.3l3.4-.3l-3,1.5M330,696l10.7-3m-3.4,.3l3.4-.3l-3,1.5M350,696l10.5-3.1m-3.3,.3l3.3-.3l-3,1.5M369,696l10-3.2m-3.2,.4l3.2-.4l-2.8,1.5M389,696l4.6-1.6m-1.5,.2l1.5-.2l-1.3,.8M408,696l8.2-3.4m-2.6,.5l2.6-.5l-2.3,1.5M427,696l7-3.5m-2.3,.6l2.3-.6l-1.9,1.4M447,696l5.8-3.5m-1.9,.7l1.9-.7l-1.5,1.4M466,696l4.6-3.6m-1.6,.8l1.6-.8l-1.2,1.3M486,696l3.6-3.6m-1.3,.9l1.3-.9l-.9,1.3M505,696l2.8-3.6m-1,.9l1-.9l-.6,1.2M524,696l1.1-1.8M544,696l1-1.7M563,696l2.2-3.1m-.8,.8l.8-.8l-.5,1.1M583,696l2.6-2.8m-1,.7l1-.7l-.6,1M602,696l3.3-2.3m-1.1,.5l1.1-.5l-.9,.9M621,696l4.2-1.8m-1.4,.3l1.4-.3l-1.2,.8M641,696l5.3-1.2m-1.6,.1l1.6-.1l-1.5,.7M660,696l6.3-.6m-1.9-.2l1.9,.2l-1.9,.5M680,696l7.3,0m-2.2-.4l2.2,.4l-2.2,.4M699,696l8.1,.5m-2.4-.6l2.4,.6l-2.5,.3M718,696l8.7,.9m-2.6-.8l2.6,.8l-2.7,.2M738,696l9,1.2m-2.6-.9l2.6,.9l-2.8,.2M757,696l9.1,1.3m-2.6-.9l2.6,.9l-2.8,.1M776,696l8.8,1.3m-2.6-.9l2.6,.9l-2.7,.1M796,696l8.2,1.1m-2.4-.8l2.4,.8l-2.5,.1M815,696l7.4,.8m-2.2-.6l2.2,.6l-2.3,.2M835,696l6.4,.3m-1.9-.4l1.9,.4l-1.9,.3M137,714l.5-1.6M156,714l.8-1.6M175,714l2.4-3.2m-.9,.8l.9-.8l-.5,1.1M195,714l3.3-3.1m-1.2,.7l1.2-.7l-.8,1.1M214,714l4.3-2.8m-1.4,.6l1.4-.6l-1.1,1.1M234,714l5.3-2.5m-1.7,.5l1.7-.5l-1.4,1.1M253,714l6.2-2.2m-2,.3l2-.3l-1.7,1M272,714l7-1.9m-2.2,.2l2.2-.2l-2,1M292,714l7.5-1.6m-2.3,0l2.3,0l-2.2,.9M311,714l7.8-1.3m-2.4-.1l2.4,.1l-2.3,.8M330,714l7.8-1.1m-2.4-.1l2.4,.1l-2.3,.8M350,714l7.5-1m-2.3-.1l2.3,.1l-2.2,.7M369,714l6.9-.9m-2.1-.1l2.1,.1l-2,.7M389,714l3.1-.5M408,714l2.6-.5M427,714l4-1.1m-1.3,.1l1.3-.1l-1.1,.6M447,714l2.9-1.4m-.9,.2l.9-.2l-.8,.6M466,714l1.9-1.6M486,714l1-1.9M505,714l.3-2.1M524,714l0-2.4M544,714l0-2.5M563,714l.3-2.6M583,714l.9-2.5M602,714l1.7-2.4M621,714l2.7-2.1m-.9,.5l.9-.5l-.7,.8M641,714l3.9-1.7m-1.3,.3l1.3-.3l-1.1,.7M660,714l5-1.2m-1.6,.1l1.6-.1l-1.4,.7M680,714l6.1-.7m-1.9-.1l1.9,.1l-1.8,.6M699,714l7.1-.2m-2.1-.3l2.1,.3l-2.1,.5M718,714l7.8,.3m-2.3-.5l2.3,.5l-2.4,.4M738,714l8.2,.7m-2.4-.7l2.4,.7l-2.5,.3M757,714l8.4,.9m-2.5-.8l2.5,.8l-2.6,.2M776,714l8.2,1.1m-2.4-.8l2.4,.8l-2.5,.1M796,714l7.8,1.1m-2.3-.8l2.3,.8l-2.4,.1M815,714l7.1,.9m-2.1-.7l2.1,.7l-2.2,.1M835,714l6.2,.6m-1.8-.5l1.8,.5l-1.9,.2M137,731l.2-1.6M156,731l.4-1.7M175,731l1.4-3.3m-.6,.9l.6-.9l-.2,1.1M195,731l2.1-3.1m-.8,.8l.8-.8l-.5,1.1M214,731l3-2.8m-1.1,.7l1.1-.7l-.7,1M234,731l3.8-2.4m-1.3,.5l1.3-.5l-1,.9M253,731l4.6-1.9m-1.5,.3l1.5-.3l-1.3,.8M272,731l5.2-1.4m-1.6,.1l1.6-.1l-1.5,.7M292,731l5.7-.9m-1.8-.1l1.8,.1l-1.6,.6M311,731l5.9-.4m-1.8-.2l1.8,.2l-1.7,.5M330,731l5.8,0m-1.7-.3l1.7,.3l-1.7,.3M350,731l2.7,.1M369,731l2.4,.2M389,731l2,.2M408,731l1.5,.2M427,731l2.1,.2M447,731l1.2,.4M466,731l1.2,.4M486,731l1.2,.4M505,731l-1.2-1.3M524,731l-1.4-1.8M544,731l-1.3-2.1M563,731l-.9-2.4M583,731l-.2-2.6M602,731l.7-2.7M621,731l1.8-2.6M641,731l3.1-2.3m-1.1,.5l1.1-.5l-.8,.9M660,731l4.3-2m-1.4,.4l1.4-.4l-1.2,.8M680,731l5.5-1.6m-1.7,.2l1.7-.2l-1.6,.8M699,731l6.5-1.1m-2-.1l2,.1l-1.9,.7M718,731l7.3-.6m-2.2-.2l2.2,.2l-2.1,.6M738,731l7.8-.1m-2.3-.4l2.3,.4l-2.3,.5M757,731l8,.3m-2.4-.5l2.4,.5l-2.4,.4M776,731l7.9,.6m-2.3-.6l2.3,.6l-2.4,.3M796,731l7.5,.7m-2.2-.6l2.2,.6l-2.3,.2M815,731l6.9,.7m-2-.6l2,.6l-2.1,.2M835,731l6.1,.6m-1.8-.5l1.8,.5l-1.9,.2M137,748l-.1-1.7M156,748l0-1.8M175,748l.6-3.6m-.4,1l.4-1l0,1.1M195,748l1.2-3.4m-.6,1l.6-1l-.2,1.1M214,748l1.9-3.1m-.7,.8l.7-.8l-.4,1M234,748l2.6-2.6m-.9,.6l.9-.6l-.6,.9M253,748l3.3-2.1m-1.1,.4l1.1-.4l-.9,.8M272,748l3.9-1.4m-1.2,.2l1.2-.2l-1.1,.6M292,748l4.2-.8m-1.3,0l1.3,0l-1.2,.5M311,748l4.4-.2m-1.3-.2l1.3,.2l-1.3,.3M330,748l4.2,.4m-1.3-.3l1.3,.3l-1.3,.1M350,748l1.9,.4M369,748l1.6,.5M389,748l1.3,.6M408,748l1.6,1.2M427,748l.6,1.1M447,748l1.2,.4M466,748l1.2,.4M486,748l-1.8-.2M505,748l-2.2-.8M524,748l-2.4-1.4M544,748l-2.2-2M563,748l-1.7-2.5M583,748l-.9-2.9M602,748l.1-3.1M621,748l1.3-3.2m-.6,.9l.6-.9l-.2,1M641,748l2.6-3.1m-1,.8l1-.8l-.6,1.1M660,748l3.9-2.9m-1.3,.6l1.3-.6l-1,1.1M680,748l5.1-2.5m-1.7,.5l1.7-.5l-1.4,1M699,748l6.1-2.1m-2,.3l2-.3l-1.7,1M718,748l7-1.6m-2.2,.1l2.2-.1l-2,.9M738,748l7.5-1m-2.3-.1l2.3,.1l-2.2,.7M757,748l7.8-.6m-2.4-.3l2.4,.3l-2.3,.6M776,748l7.7-.1m-2.3-.4l2.3,.4l-2.3,.5M796,748l7.4,.2m-2.2-.5l2.2,.5l-2.2,.4M815,748l6.8,.3m-2-.5l2,.5l-2,.3M835,748l6,.4m-1.8-.4l1.8,.4l-1.8,.2" fill="none" stroke="#050505" stroke-width="1.55" stroke-linecap="round" stroke-linejoin="round"/>
<path d="M612.7,542.1 609.4,534.6 606.6,527.6 602.4,519.2 595.4,509.5 587.1,499.7 578.7,490 574.6,480.3 567.6,470.5 559.2,460.8 550.9,451 542.5,442.7 534.2,434.3 528.6,424.6 523,413.4 517.5,402.3 511.9,391.1 503.5,380 466.7,337.8 455.3,319.6 447.6,301.5 444.4,278.8 446.2,256.1 442.6,239.2 437.8,225.3 439.2,211.4 439.9,204.4 437.8,194.7 435.7,186.3 433.6,182.4 428,181.4" fill="none" stroke="#000" stroke-width="5.2" stroke-linejoin="round" stroke-linecap="butt"/>
<path d="M436.4,185.6 438.5,175.2 442.6,165.4 446.8,161.3 452.4,158.5 458,157.1 463.5,158.5 470.5,162.6 477.5,167.5 486.1,172.7" fill="none" stroke="#000" stroke-width="5.2" stroke-linejoin="round" stroke-linecap="butt"/>
<path d="M846.1,531.8 834.9,530.4 826.6,526.2 818.2,517.8 809.9,508.1 802.9,498.4 795.9,487.2 787.6,471.9 779.2,458 772.3,448.8 772,445.2 782,443.5 788.1,440.2 787.6,433.5 776.4,431.5 768.1,427.3 759.7,420.4 748.6,412 737.5,405.1 727.7,398.1 723.5,388.4 719.4,380 670.9,337.8 657.3,319.6 650.5,301.5 646,274.2 643.7,247 646,224.3 648.2,201.6" fill="none" stroke="#000" stroke-width="5.2" stroke-linejoin="round" stroke-linecap="butt"/>
<circle cx="428.3" cy="181.3" r="6" fill="#000"/>
<path d="M444,297.9 446.6,305.5 454.7,305.7 448.2,310.6 450.6,318.3 444,313.7 437.3,318.3 439.7,310.6 433.2,305.7 441.3,305.5Z" fill="#ff0d0d"/>
<path d="M779,419.6 781.6,427.2 789.7,427.4 783.3,432.2 785.6,440 779,435.4 772.4,440 774.7,432.2 768.2,427.4 776.3,427.2Z" fill="#ff0d0d"/>
</g>
<path d="M117,27.2V759.4H846.4" fill="none" stroke="#000" stroke-width="2.8"/>
<path d="M117,28.6H845.6" fill="none" stroke="#000" stroke-width="2"/>
<path d="M845.6,28.6V759.4" fill="none" stroke="#1a1a30" stroke-width="1.6"/>
<text class="ser" x="105.8" y="44.1" font-size="44.3" text-anchor="end">45°N</text>
<text class="ser" x="105.8" y="235.3" font-size="44.3" text-anchor="end">35°N</text>
<text class="ser" x="105.8" y="412.7" font-size="44.3" text-anchor="end">25°N</text>
<text class="ser" x="105.8" y="581.3" font-size="44.3" text-anchor="end">15°N</text>
<text class="ser" x="105.8" y="745.0" font-size="44.3" text-anchor="end">5°N</text>
<text class="ser" x="197.8" y="798.8" font-size="42.7" text-anchor="middle">105°E</text>
<text class="ser" x="359.7" y="798.8" font-size="42.7" text-anchor="middle">115°E</text>
<text class="ser" x="521.6" y="798.8" font-size="42.7" text-anchor="middle">125°E</text>
<text class="ser" x="683.5" y="798.8" font-size="42.7" text-anchor="middle">135°E</text>
<text class="ser" x="845.4" y="798.8" font-size="42.7" text-anchor="middle">145°E</text>
<rect x="868" y="27.6" width="46" height="731.2" fill="url(#cb)" stroke="#3a3a3a" stroke-width="1.2"/>
<text class="ser" x="926" y="775.3" font-size="43.8">0</text>
<path d="M905.5,667.2H914" stroke="#333" stroke-width="1.3"/>
<text class="ser" x="926" y="683.9" font-size="43.8">1</text>
<path d="M905.5,575.8H914" stroke="#333" stroke-width="1.3"/>
<text class="ser" x="926" y="592.5" font-size="43.8">2</text>
<path d="M905.5,484.4H914" stroke="#333" stroke-width="1.3"/>
<text class="ser" x="926" y="501.1" font-size="43.8">3</text>
<path d="M905.5,393.0H914" stroke="#333" stroke-width="1.3"/>
<text class="ser" x="926" y="409.7" font-size="43.8">4</text>
<path d="M905.5,301.6H914" stroke="#333" stroke-width="1.3"/>
<text class="ser" x="926" y="318.3" font-size="43.8">5</text>
<path d="M905.5,210.2H914" stroke="#333" stroke-width="1.3"/>
<text class="ser" x="926" y="226.9" font-size="43.8">6</text>
<path d="M905.5,118.8H914" stroke="#333" stroke-width="1.3"/>
<text class="ser" x="926" y="135.5" font-size="43.8">7</text>
<text class="ser" x="926" y="44.1" font-size="43.8">8</text>
<text class="ser" transform="translate(1024.6,419.3) rotate(-90)" font-size="51.4" text-anchor="middle">significant wave height(m)</text>
</g>
<g transform="translate(1158,2034.5)">
<g clip-path="url(#mc)">
<g filter="url(#cm)">
<rect x="27" y="-61.4" width="908.6" height="910.8" fill="#2d2d2d"/>
<g filter="url(#b0)">
<path d="M62.6,701 925.2,701 925.2,837.2 62.6,837.2Z" fill="#393939"/>
<path d="M552.9,687.4 925.2,687.4 925.2,837.2 552.9,837.2Z" fill="#292929"/>
<path d="M493.9,519.4 925.2,519.4 925.2,701 493.9,701Z" fill="#606060"/>
<path d="M471.2,247 925.2,247 925.2,542.1 471.2,542.1Z" fill="#7c7c7c"/>
<path d="M584.7,224.3 925.2,224.3 925.2,265.2 584.7,265.2Z" fill="#666666"/>
<path d="M444,274.2 516.6,274.2 566.5,233.4 607.4,237.9 630.1,301.5 607.4,365 503,378.7 453,346.9Z" fill="#797979"/>
<path d="M289.6,496.7 380.4,458.1 471.2,415 507.5,428.6 507.5,542.1 289.6,551.2Z" fill="#636363"/>
<path d="M775.4,174.4 802.6,69.9 902.5,69.9 902.5,237.9 743.6,237.9Z" fill="#595959"/>
<path d="M244.2,542.1 471.2,510.3 507.5,610.2 425.8,701 198.8,710.1Z" fill="#636363"/>
<path d="M85.3,587.5 221.5,623.8 235.1,710.1 85.3,710.1Z" fill="#494949"/>
<path d="M403.1,664.7 480.3,646.5 562,678.3 562,791.8 403.1,791.8Z" fill="#2d2d2d"/>
<path d="M543.8,169.8 543.8,110.8 598.3,56.3 675.5,29.1 752.7,-7.2 902.5,-7.2 902.5,88.1 798.1,119.9 789,174.4 752.7,219.8 698.2,242.5 643.7,247 589.2,224.3Z" fill="#333333"/>
<path d="M652.8,38.2 752.7,-7.2 902.5,-7.2 902.5,88.1 789,124.4 734.5,169.8 675.5,133.5Z" fill="#505050"/>
<path d="M380.4,92.6 525.7,92.6 566.5,169.8 566.5,233.4 516.6,278.8 444,278.8 421.3,201.6 380.4,169.8Z" fill="#666666"/>
<path d="M380.4,92.6 489.4,92.6 489.4,169.8 457.6,183.4 425.8,174.4 380.4,169.8Z" fill="#1d1d1d"/>
<path d="M198.8,451.3 257.8,437.7 289.6,474 280.5,519.4 244.2,546.6 198.8,514.8Z" fill="#202020"/>
<path d="M280.5,442.2 362.2,396.8 453,351.4 471.2,419.5 380.4,462.6 298.7,501.2Z" fill="#5c5c5c"/>
<path d="M257.8,519.4 298.7,528.5 303.2,610.2 257.8,664.7 221.5,646.5Z" fill="#404040"/>
</g>
<g filter="url(#b1)">
<ellipse cx="148.9" cy="664.7" rx="27.2" ry="36.3" fill="#202020"/>
<ellipse cx="698.2" cy="739.6" rx="90.8" ry="18.2" fill="#262626"/>
<ellipse cx="519.8" cy="262.9" rx="56.7" ry="28.1" fill="#999999" transform="rotate(35 519.8 262.9)"/>
<ellipse cx="517" cy="254.7" rx="17.3" ry="15.4" fill="#b6b6b6"/>
<ellipse cx="795.8" cy="256.1" rx="20.4" ry="47.7" fill="#969696"/>
<ellipse cx="380.4" cy="528.5" rx="77.2" ry="20.4" fill="#969696" transform="rotate(-50 380.4 528.5)"/>
<ellipse cx="382.7" cy="523.9" rx="11.3" ry="5.4" fill="#cfcfcf" transform="rotate(-50 382.7 523.9)"/>
<ellipse cx="783.5" cy="425" rx="156.6" ry="147.5" fill="#8c8c8c"/>
<ellipse cx="784" cy="425" rx="133.9" ry="124.8" fill="#9c9c9c"/>
<ellipse cx="784.4" cy="424.5" rx="109" ry="103.5" fill="#afafaf"/>
<ellipse cx="784.4" cy="424.5" rx="88.5" ry="84.4" fill="#c9c9c9"/>
<ellipse cx="785.4" cy="419.5" rx="72.6" ry="70.8" fill="#dfdfdf"/>
<ellipse cx="784.4" cy="377.3" rx="63.6" ry="32.7" fill="#fcfcfc"/>
<ellipse cx="765.4" cy="434" rx="23.6" ry="20.9" fill="#999999"/>
<ellipse cx="763.6" cy="435.4" rx="12.7" ry="11.3" fill="#6c6c6c"/>
</g>
</g>
<path d="M108,20 723,20 722.7,30.7 713,38.4 700.5,46.7 685.2,56.5 678.2,59.9 664.3,68.3 651.1,74.5 639.2,68.3 630.9,62.7 623.2,73.2 619.7,76.6 612.8,74.5 614.2,81.5 605.8,85.7 598.1,92.6 600.2,102.4 596.8,110.7 584.9,117.7 572.4,126.1 561.3,132.3 559.9,139.3 569.6,146.9 578,155.3 584.9,166.4 590.5,177.6 594.7,190.1 596.1,201.2 591.9,211 586.3,217.9 579.4,217.2 575.2,220.7 569.6,218.6 565.4,223.5 561.3,221.4 557.1,224.9 552.9,222.8 545.9,227.7 541.8,220.7 545.9,209.6 548,198.5 541.8,191.5 541.1,185.2 548.7,183.1 545.9,172 537.6,166.4 527.8,165 518.1,162.3 516,160.2 522.3,149.7 529.2,151.8 523.7,147.6 529.2,133 513.9,130.9 500,128.8 498.3,127.8 488.6,132 477.5,139 469.1,144.5 459.4,148.7 463.5,143.2 469.1,136.9 462.1,134.8 469.1,127.8 476.1,115.3 470.5,106.3 458,109.7 446.8,119.5 435.7,129.2 421.8,141.8 403,143.9 403,155.7 414.8,158.5 421.8,166.8 425.9,175.9 438.5,175.2 445.4,162.6 455.2,157.8 464.9,159.2 476.1,166.1 485.8,172.4 483,179.4 474.7,181.4 463.5,184.9 452.4,189.1 449.6,197.5 444,198.8 441.3,203.7 435.7,210 427.3,221.1 438.5,226.7 443.3,231.6 448.2,240.6 451,253.1 453.8,264.3 469.5,277 458.3,281.1 470.9,292.3 445.8,303.4 458.3,304.1 473.6,311.1 465.3,315.9 470.9,320.1 462.5,324.3 468.1,328.5 462.5,332.6 465.3,336.8 459.7,341 451.4,342.4 455.6,345.2 450,353.5 445.8,361.9 440.2,367.5 433.3,366.1 437.5,371.6 431.9,380 434.7,388.3 429.1,385.6 427.7,392.5 423.5,391.1 422.1,398.1 416.6,396.7 418,402.3 411,403.6 406.8,407.8 405.4,403.6 401.3,414.8 395.7,413.4 397.1,420.4 390.1,421.7 384.5,424.5 385.9,428.7 377.6,430.1 372,434.3 365.1,432.9 362.3,437.1 353.9,434.3 347,444 340,435.7 339.2,437.6 332.3,429.2 333.6,440.4 328.1,443.2 325.3,439 323.9,447.3 318.3,448.7 314.2,447.3 311.4,452.9 305.8,451.5 303,455.7 297.5,457.1 291.9,458.5 284.9,461.3 284.2,473.8 281.4,476.6 278,475.9 275.9,469.6 274.5,461.3 272.4,454.3 266.8,455.7 262.6,452.9 258.5,455.7 254.3,448.7 250.1,452.9 243.2,455.7 236.2,461.3 230.6,465.4 225.1,465.4 222.3,472.4 216.7,478 212.5,483.5 209.7,490.5 208.4,497.5 212.5,505.8 218.1,515.6 223.7,523.9 229.2,530.9 236.2,536.4 244.5,542 251.5,549 257.1,555.9 261.3,564.3 264,574 264.5,570 267.3,581.1 269.4,593.7 268.7,603.4 265.9,611.8 264.5,618.7 257.6,625.7 249.2,631.3 240.9,635.4 233.9,638.2 225.6,641 224.2,648 220,653.5 213,657.7 207.5,663.3 200.5,666.8 194.9,666.8 195.6,659.1 197,650.7 193.5,645.9 188,641 182.4,636.8 175.4,635.4 173.3,628.5 168.5,632.6 164.3,624.3 158.7,614.5 151.8,606.9 143.4,602.7 132.3,602 130.9,590.9 123.9,597.8 117,602.7 108,602Z M108,690 117,692.5 121.1,692.5 130.9,695.3 142,699.5 150.4,706.4 158.7,714.8 167.1,723.1 171.3,731.5 172,744 172,767.7 108,768Z M330,752.7 340.5,738.7 351.1,729.9 365.1,725.5 367.7,719.4 373.9,715.9 380.9,705.3 386.2,696.5 391.4,694.8 394.9,698.3 400.2,703.6 405.5,705.3 403.7,712.3 412.5,712.3 407.2,715.9 426.5,721.1 416,726.4 410.7,729.9 417.8,735.2 409,738.7 400.2,740.4 407.2,745.7 398.5,749.2 391.4,748.3 402,756.2 402,768.5 330,768.5Z M394.9,670.2 400.2,663.2 407.2,656.2 416,645.6 423,636.9 428.3,628.1 433.6,626.3 435.3,631.6 430.1,640.4 421.3,649.1 412.5,657.9 405.5,666.7 398.5,672Z M472.2,694.8 475.7,682.5 484.5,673.7 493.2,668.5 500.3,670.2 502,675.5 507.3,673.7 516.1,668.5 519.6,663.2 528.4,659.7 530.1,650.9 535.4,654.4 540.6,663.2 542.4,670.2 547.7,679 546.8,689.5 540.6,705.3 535.4,698.3 530.1,705.3 531.9,712.3 528.4,715.9 521.3,710.6 514.3,708.8 507.3,703.6 507.3,694.8 505.5,686 500.3,680.7 493.2,686 488,684.3 482.7,687.8 477.4,694.8 473.9,700.1Z M473.1,700.9 475.7,699.7 476.6,701.8 474.3,703.2Z M246.5,741 249,738.5 251,742 249,748 246.5,746Z M586,341 592,336 596,338 590,343Z M257.1,493.3 261.3,489.1 266.8,483.5 275.2,481.4 283.5,480.7 293.3,480.5 296.1,483.5 294.7,489.1 290.5,494.7 286.3,500.2 280.7,505.8 272.4,511.4 266.8,510 261.3,507.2 258.5,500.2Z M466,392.5 470.9,393.9 472.3,399.5 469.5,409.2 466.7,417.6 463.9,425.9 459.7,435.7 455.6,444 453.5,447.5 450,442.6 444.4,434.3 440.9,424.5 443.7,416.2 448.6,407.8 454.2,399.5 459.7,394.6Z M451.3,505.3 461.8,504.6 477.1,506.7 475.7,517.8 481.3,529 472.9,542.9 467.3,554 464.5,563.8 471.5,573.5 477.1,579.1 481.3,576.3 485.4,581.9 491,580.5 498,583.3 503.5,586.1 500.7,593 506.3,598.6 503.5,600 495.2,595.8 489.6,590.2 482.6,593 478.5,587.5 472.9,581.9 467.3,580.5 460.4,584.7 454.8,583.3 450.6,579.1 454.8,572.1 449.2,572.1 443.7,568 439.5,556.8 437.4,545.7 443.7,541.5 446.5,530.4 445.8,517.8 449.9,510.9Z M447.8,590.2 456.2,591.6 464.5,597.2 463.2,605.6 460.4,609.7 456.2,605.6 452,598.6Z M471.5,616.7 481.3,619.5 491,623.6 486.8,629.2 479.9,633.4 472.9,637.6 472.2,626.4Z M491.7,606.9 495.9,608.3 492.4,612.5Z M510.5,605.6 523,604.2 530,612.5 532.8,627.8 527.2,626.4 521.6,623.6 520.2,615.3 514.7,611.1Z M511.9,622.3 520.2,626.4 524.4,640.4 520.2,641.7 514.7,634.8Z M492.4,633.4 495.9,632 493.8,643.1 492.4,652.9 489.6,661.2 484,657.1 480.6,651.5 486.8,643.1Z M502.1,632 504.9,629.2 503.5,637.6 500.7,644.5 499.4,640.4Z M503.5,647.3 510.5,644.5 513.3,648.7 507.7,652.2 503.5,651.5Z M616.5,233.3 626.2,225.7 635.9,218.7 645.7,211.8 649.2,205.9 668,205.6 687.5,206.5 700,206.5 705.6,196.5 709.7,185.3 711.1,177 719.5,174.2 715.3,183.9 720.9,184.6 730.6,178.4 741.7,171.4 753.6,160.6 757.8,150.9 760.6,139.7 764.8,130 760.6,125.8 763.4,114.7 769.7,103.5 777.3,101.4 780.1,109.1 783.6,99.4 787.1,99.4 789.1,106.3 792.6,120.2 796.1,132.8 792.6,145.3 789.1,157.1 780.1,160.6 778.7,173.1 778,187.1 780,182.5 777.9,192.3 773.8,199.2 777.2,205.5 769.6,213.2 764,216.6 762.6,207.6 759.1,208.3 759.1,217.3 751.5,213.2 745.9,224.3 743.1,217.3 739.7,224.3 733.4,227.1 719.5,225 712.5,221.5 709.7,223.6 711.1,232.6 697.2,245.9 693,245.2 686.1,238.9 687.5,225.7 681.9,225 668,224.3 656.8,230.1 645.7,235.4 635.9,239.6Z M642.9,236.1 656.8,237.1 659.6,245.2 649.9,257.7 641.5,259.1 637.3,249.4Z M658.2,236.8 665.2,232 673.5,233.3 677.7,239.6 669.4,250.7 661,248Z M616.5,242.4 624.8,245.2 634.5,253.5 630.4,264.7 624.8,275.8 623.4,284.2 613.7,290.4 603.9,286.2 606.7,275.8 610.9,266.1 612.3,256.3 608.1,252.1 606.7,259.1 598.4,261.2 595.6,253.5 594.2,250.1 603.9,248 610.9,242.4Z M798.9,29 805.2,32.5 814.9,39.5 826,45.1 837.2,49.2 853.9,47.1 853.9,61.8 837.2,67.3 828.8,75.7 820.5,84 816.3,88.2 805.2,82.6 791.2,75 778.7,79.9 770.4,78.5 782.9,91 773.1,95.2 763.4,98.7 760.6,79.9 767.6,72.9 771.7,67.3 769.7,63.2 777.3,60.4 784.3,61.1 787.1,56.9 795.4,42.3 796.8,33.9Z" fill="#a5a5a5" stroke="#050505" stroke-width="2" stroke-linejoin="round"/>
<path d="M108,727 117,727.3 122.5,727.3 125.3,738.5 130.9,749.6 136.5,760.7 108,768Z M637.5,20 644,20 640.8,36Z M117,183.5 122.5,178.5 128,190.5Z M378,323 382,322.5 384.5,327 381,329Z M353,298.5 357,297.5 358.5,301 355,302Z M421.5,314.5 425.5,313 426,318 422,318.5Z M413.5,250 417,249.5 417.5,253.5 414,254Z M213,582 216.5,583 216,589 213,588Z M204,611.5 209,607.5 211,609.5 206,614Z" fill="#fff" stroke="#111" stroke-width="1.2"/>
<path d="M789.1,27.7 791.9,33.9 790.5,42.3 786.4,49.9 784.3,56.2 784.3,60.4 M423.5,270 415.2,283.9 406.8,289.5 391.5,300.6 384.5,306.2 377.6,311.8 374.8,321.5 381.8,327.1 387.3,325.7 385.9,329.9 M377.6,311.8 365.1,304.8 358.1,299.9 351.1,299.2 353.9,304.8 348.4,307.6 M418,318.7 423.5,311.8 427,317.3 418,318.7 M397.1,279.7 402.6,281.1 399.9,283.2 397.1,279.7 M279.4,423 289.1,421.6 300.2,421.6 304.4,426.5 323.9,427.1 329.5,437.6 M204.2,458.5 220.9,475.2 M211.6,570 213.7,583.9 214.4,595.1 213.7,606.2 207.5,610.4 199.1,615.9 196.3,618.7 M190.7,604.8 196.3,618.7 201.9,631.3 207.5,642.4 213,653.5 M226.9,628.5 225.6,641 M206.1,638.2 218.6,639.6 M200,544.8 205.6,551.7 209.7,560.1 212.5,567.1 213.2,581 213.9,600.1" fill="none" stroke="#111" stroke-width="1.4"/>
<text class="ser" x="183.3" y="130.3" font-size="43.3" fill="#0b0b0b">2019-8-11</text>
<text class="ser" x="183.3" y="176.8" font-size="42.8" fill="#0b0b0b">25 m/s</text>
<path d="M320,166.5H356" stroke="#111" stroke-width="2" fill="none"/><path d="M358.5,166.5L344,158.5Q348,166.5 344,174.5Z" fill="#111"/>
<path d="M137,43l1.2,.4M156,43l2.1,1.1M175,43l3.2,1.2m-.9-.6l.9,.6l-1-.2M195,43l4.2,1.2m-1.2-.6l1.2,.6l-1.3-.1M214,43l5,.9m-1.5-.6l1.5,.6l-1.6,0M234,43l5.7,.4m-1.7-.4l1.7,.4l-1.7,.2M253,43l6.2-.4m-1.9-.2l1.9,.2l-1.8,.5M272,43l6.6-1.3m-2.1,0l2.1,0l-1.9,.8M292,43l6.6-1.5m-2,.1l2-.1l-1.9,.8M311,43l5.9-1m-1.8,0l1.8,0l-1.7,.6M330,43l5-.5m-1.5-.1l1.5,.1l-1.5,.4M350,43l3.8,0m-1.1-.2l1.1,.2l-1.1,.2M369,43l2.5,.5M389,43l1.2,.4M408,43l1.2,.4M427,43l-2.2-.9M447,43l-3.3-1.3m.9,.6l-.9-.6l1,.2M466,43l-4-1.4m1.1,.6l-1.1-.6l1.3,.2M486,43l-4.4-1.2m1.2,.6l-1.2-.6l1.4,.1M505,43l-4.5-.9m1.3,.5l-1.3-.5l1.4,0M524,43l-4.3-.5m1.3,.4l-1.3-.4l1.3-.1M544,43l-4,.1m1.2,.2l-1.2-.2l1.2-.3M563,43l-3.5,.7m1.1,0l-1.1,0l1-.4M583,43l-2.9,1.3M602,43l-2.3,1.8M621,43l-1.9,2.2M641,43l-1.5,2.5M660,43l-1.3,2.5M680,43l-1.3,2.3M699,43l-1.5,2M718,43l-3.9,2.9m1.3-.6l-1.3,.6l1-1.1M738,43l-5.1,1.5m1.6-.2l-1.6,.2l1.4-.7M757,43l-6.5,0m1.9,.4l-1.9-.4l1.9-.4M776,43l-8-1.7m2.3,1l-2.3-1l2.5,.1M796,43l-4.7-1.7m1.3,.8l-1.3-.8l1.5,.2M815,43l-5.3-2.5m1.5,1l-1.5-1l1.7,.4M835,43l-11.6-6.2m3.1,2.5l-3.1-2.5l3.8,1.2M137,65l1.3,.9M156,65l2.3,1.4M175,65l3.3,1.7m-.9-.7l.9,.7l-1.1-.3M195,65l4.1,1.8m-1.1-.8l1.1,.8l-1.3-.3M214,65l4.7,1.7m-1.3-.8l1.3,.8l-1.5-.2M234,65l5.1,1.3m-1.5-.7l1.5,.7l-1.6-.1M253,65l5.3,.5m-1.6-.5l1.6,.5l-1.6,.1M272,65l5.3-.4m-1.6-.2l1.6,.2l-1.6,.4M292,65l4.8,.1m-1.4-.3l1.4,.3l-1.4,.2M311,65l4,.7m-1.2-.4l1.2,.4l-1.2,0M330,65l2.9,1.3m-.8-.6l.8,.6l-1-.2M350,65l1.7,1.8M369,65l.4,2.3M389,65l-.9,2.7M408,65l-2.4,1.5M427,65l-3.6,.6m1.1,0l-1.1,0l1-.4M447,65l-4.5,0m1.3,.3l-1.3-.3l1.4-.2M466,65l-5.1-.4m1.5,.4l-1.5-.4l1.6-.2M486,65l-5.5-.5m1.6,.5l-1.6-.5l1.7-.2M505,65l-5.5-.4m1.6,.4l-1.6-.4l1.7-.2M524,65l-5.4-.1m1.6,.3l-1.6-.3l1.6-.3M544,65l-5,.4m1.5,.2l-1.5-.2l1.5-.4M563,65l-4.4,1m1.4,0l-1.4,0l1.3-.5M583,65l-3.8,1.6m1.2-.3l-1.2,.3l1-.7M602,65l-3.2,2.2m1.1-.5l-1.1,.5l.8-.8M621,65l-2.6,2.7m.9-.7l-.9,.7l.6-1M641,65l-2.2,3.1m.8-.8l-.8,.8l.5-1M660,65l-1.9,3.3m.8-.9l-.8,.9l.4-1.1M680,65l-3.7,6.6m1.5-1.8l-1.5,1.8l.7-2.2M699,65l-4,6.2m1.5-1.6l-1.5,1.6l.8-2.1M718,65l-4.6,5.5m1.7-1.4l-1.7,1.4l1.1-1.9M738,65l-5.6,4.4m1.9-1l-1.9,1l1.4-1.6M757,65l-6.7,3m2.2-.5l-2.2,.5l1.8-1.3M776,65l-4,.7m1.2,0l-1.2,0l1.2-.4M796,65l-4.6-.1m1.4,.3l-1.4-.3l1.4-.2M815,65l-5.1-.9m1.5,.6l-1.5-.6l1.6,0M835,65l-5.5-1.7m1.6,.8l-1.6-.8l1.7,.2M137,87l1.5,1.1M156,87l2.3,1.6M175,87l3.1,2.1m-.8-.8l.8,.8l-1.1-.4M195,87l3.8,2.3m-1-.9l1,.9l-1.3-.5M214,87l4.2,2.4m-1.1-1l1.1,1l-1.4-.5M234,87l4.4,2.2m-1.2-.9l1.2,.9l-1.4-.4M253,87l4.2,1.7m-1.2-.7l1.2,.7l-1.3-.3M272,87l3.5,.9m-1-.5l1,.5l-1.1-.1M292,87l2.9,1.6m-.8-.6l.8,.6l-1-.3M311,87l2,2.3M330,87l.8,3M350,87l-.4,3.6m.3-1.1l-.3,1.1l-.1-1.1M369,87l-1.7,4.1m.8-1.1l-.8,1.1l.3-1.3M389,87l-3,4.4m1.2-1.1l-1.2,1.1l.7-1.5M408,87l-4,3.1m1.4-.7l-1.4,.7l1-1.1M427,87l-5,2m1.6-.3l-1.6,.3l1.4-.9M447,87l-5.8,1.2m1.8,0l-1.8,0l1.7-.7M466,87l-6.3,.6m1.9,.2l-1.9-.2l1.9-.5M486,87l-6.6,.3m2,.3l-2-.3l2-.5M505,87l-6.5,.2m2,.3l-2-.3l2-.4M524,87l-6.3,.4m1.9,.2l-1.9-.2l1.9-.5M544,87l-5.8,.7m1.8,.1l-1.8-.1l1.7-.5M563,87l-5.2,1.2m1.6-.1l-1.6,.1l1.5-.7M583,87l-4.5,1.8m1.5-.3l-1.5,.3l1.3-.8M602,87l-3.8,2.4m1.3-.5l-1.3,.5l1-.9M621,87l-6.4,6m2.3-1.4l-2.3,1.4l1.6-2.2M641,87l-5.4,7m2-1.8l-2,1.8l1.2-2.4M660,87l-4.7,7.7m1.9-2l-1.9,2l1-2.6M680,87l-4.4,8.1m1.8-2.2l-1.8,2.2l.9-2.7M699,87l-4.5,8m1.8-2.2l-1.8,2.2l.9-2.7M718,87l-5,7.6m1.9-2l-1.9,2l1.1-2.6M738,87l-5.8,6.8m2.1-1.7l-2.1,1.7l1.3-2.4M757,87l-6.8,5.6m2.4-1.3l-2.4,1.3l1.7-2.1M776,87l-3.9,2.1m1.3-.4l-1.3,.4l1.1-.9M796,87l-8.9,2.6m2.8-.3l-2.8,.3l2.5-1.3M815,87l-4.9,.5m1.5,.1l-1.5-.1l1.4-.4M835,87l-10.4-.6m3.1,.8l-3.1-.8l3.1-.4M137,110l1.5,1.2M156,110l2.2,1.8M175,110l2.8,2.3m-.7-.9l.7,.9l-1-.5M195,110l3.3,2.7m-.8-1l.8,1l-1.1-.6M214,110l3.5,3m-.9-1.1l.9,1.1l-1.2-.7M234,110l3.5,3.1m-.9-1.1l.9,1.1l-1.2-.7M253,110l3,3m-.7-1.1l.7,1.1l-1.1-.7M272,110l2,2.7m-.4-.9l.4,.9l-.7-.7M292,110l.8,3M311,110l-.2,3.8m.3-1.1l-.3,1.1l-.2-1.2M330,110l-1.4,4.6m.7-1.3l-.7,1.3l.2-1.5M350,110l-2.7,5.3m1.1-1.4l-1.1,1.4l.5-1.7M369,110l-4,5.8m1.5-1.5l-1.5,1.5l.9-2M389,110l-4.9,5.4m1.8-1.3l-1.8,1.3l1.2-1.9M408,110l-5.6,4.3m1.9-1l-1.9,1l1.4-1.6M427,110l-6.4,3.3m2.1-.6l-2.1,.6l1.7-1.4M447,110l-7,2.4m2.2-.3l-2.2,.3l2-1.1M466,110l-15,3.3m4.7-.1l-4.7,.1l4.3-1.8M486,110l-7.6,1.1m2.4,.1l-2.4-.1l2.2-.8M505,110l-7.5,.8m2.3,.2l-2.3-.2l2.2-.7M524,110l-7.2,.8m2.2,.2l-2.2-.2l2.1-.7M544,110l-6.6,1m2,.1l-2-.1l1.9-.7M563,110l-5.9,1.4m1.9-.1l-1.9,.1l1.7-.8M583,110l-5.1,1.9m1.7-.3l-1.7,.3l1.4-.9M602,110l-8.7,5.1m2.9-1l-2.9,1l2.3-2M621,110l-7.4,6.4m2.6-1.5l-2.6,1.5l1.8-2.3M641,110l-6.2,7.5m2.3-1.9l-2.3,1.9l1.4-2.6M660,110l-5.4,8.5m2.1-2.2l-2.1,2.2l1.1-2.8M680,110l-5,9.1m2-2.5l-2,2.5l1-3M699,110l-4.9,9.4m2-2.5l-2,2.5l.9-3.1M718,110l-5.2,9.3m2.1-2.5l-2.1,2.5l1-3.1M738,110l-5.8,8.8m2.3-2.3l-2.3,2.3l1.3-3M757,110l-6.7,8m2.5-2l-2.5,2l1.5-2.8M776,110l-3.8,3.4m1.3-.8l-1.3,.8l.9-1.2M796,110l-8.5,5.3m2.9-1.1l-2.9,1.1l2.2-2.1M815,110l-9.3,3.7m3-.6l-3,.6l2.6-1.6M835,110l-9.7,2.1m3-.1l-3,.1l2.8-1.2M137,133l1.3,1.1M156,133l1.9,1.7M175,133l2.4,2.3m-.6-.8l.6,.8l-.9-.6M195,133l2.8,2.9m-.7-1l.7,1l-1-.7M214,133l2.9,3.4m-.7-1.2l.7,1.2l-1.1-.9M234,133l2.7,3.7m-.6-1.3l.6,1.3l-1-1M253,133l2.1,4m-.4-1.3l.4,1.3l-.9-1.1M272,133l1.1,4.2m-.1-1.3l.1,1.3l-.6-1.2M292,133l-.3,4.5m.4-1.3l-.4,1.3l-.2-1.4M311,133l-2,5.1m.9-1.4l-.9,1.4l.3-1.6M330,133l-3.3,5.9m1.3-1.6l-1.3,1.6l.7-2M350,133l-4.5,6.6m1.7-1.7l-1.7,1.7l1-2.3M369,133l-5.2,6.7m2-1.7l-2,1.7l1.2-2.3M389,133l-6,6.2m2.1-1.5l-2.1,1.5l1.4-2.2M408,133l-6.8,5.4m2.3-1.2l-2.3,1.2l1.7-2M427,133l-7.5,4.4m2.5-.9l-2.5,.9l2-1.8M447,133l-16.3,6.9m5.3-1.1l-5.3,1.1l4.5-3M466,133l-8.5,2.5m2.7-.3l-2.7,.3l2.4-1.2M486,133l-8.6,1.8m2.7-.1l-2.7,.1l2.5-1M505,133l-16.7,2.7m5.2,.1l-5.2-.1l4.9-1.8M524,133l-15.8,2.3m4.9,.2l-4.9-.2l4.6-1.6M544,133l-7.2,1.2m2.2,.1l-2.2-.1l2.1-.8M563,133l-12.8,2.9m4-.1l-4,.1l3.7-1.6M583,133l-11.1,3.8m3.6-.5l-3.6,.5l3.1-1.8M602,133l-9.4,5m3.1-1l-3.1,1l2.5-2M621,133l-7.9,6.3m2.7-1.4l-2.7,1.4l2-2.3M641,133l-6.7,7.5m2.4-1.9l-2.4,1.9l1.6-2.6M660,133l-5.8,8.6m2.2-2.3l-2.2,2.3l1.2-2.9M680,133l-5.3,9.5m2.1-2.5l-2.1,2.5l1-3.1M699,133l-5.1,10.1m2.1-2.7l-2.1,2.7l1-3.3M718,133l-5.3,10.3m2.2-2.8l-2.2,2.8l1-3.4M738,133l-5.8,10.1m2.3-2.7l-2.3,2.7l1.2-3.3M757,133l-6.6,9.5m2.5-2.5l-2.5,2.5l1.4-3.2M776,133l-3.7,4.3m1.4-1.1l-1.4,1.1l.9-1.5M796,133l-4.1,3.6m1.4-.9l-1.4,.9l1-1.3M815,133l-8.9,5.8m3-1.2l-3,1.2l2.3-2.2M835,133l-9.3,4.2m3-.7l-3,.7l2.6-1.8M137,156l1,.9M156,156l1.5,1.5M175,156l1.9,2.1M195,156l2.2,2.8m-.5-1l.5,1l-.8-.7M214,156l2.2,3.4m-.5-1.2l.5,1.2l-.9-.9M234,156l2,4m-.4-1.3l.4,1.3l-.8-1.1M253,156l1.5,4.6m-.2-1.5l.2,1.5l-.7-1.3M272,156l.6,5.1m.1-1.6l-.1,1.6l-.5-1.5M292,156l-.6,5.7m.5-1.7l-.5,1.7l-.1-1.7M311,156l-1.9,6.3m.9-1.8l-.9,1.8l.2-2M330,156l-3.2,6.9m1.4-1.9l-1.4,1.9l.6-2.3M350,156l-4.4,7.3m1.8-1.9l-1.8,1.9l.9-2.5M369,156l-5.5,7.4m2.1-1.9l-2.1,1.9l1.2-2.5M389,156l-6.6,7m2.4-1.7l-2.4,1.7l1.6-2.5M408,156l-15.1,12.7m5.2-2.9l-5.2,2.9l3.8-4.7M427,156l-16.8,10.8m5.7-2.3l-5.7,2.3l4.4-4.2M447,156l-18.1,8.6m5.9-1.6l-5.9,1.6l4.9-3.6M466,156l-18.8,6.5m6-.9l-6,.9l5.3-3M486,156l-18.7,4.7m5.9-.3l-5.9,.3l5.4-2.5M505,156l-18,3.4m5.6,0l-5.6,0l5.2-2M524,156l-8.4,1.3m2.6,.1l-2.6-.1l2.4-.9M544,156l-7.6,1.2m2.4,.1l-2.4-.1l2.2-.8M563,156l-6.7,1.4m2.1,0l-2.1,0l1.9-.8M583,156l-11.5,3.5m3.7-.4l-3.7,.4l3.3-1.7M602,156l-9.7,4.5m3.2-.8l-3.2,.8l2.6-1.9M621,156l-8,5.7m2.7-1.2l-2.7,1.2l2.1-2.2M641,156l-6.7,7m2.4-1.7l-2.4,1.7l1.6-2.5M660,156l-5.7,8.2m2.2-2.1l-2.2,2.1l1.2-2.8M680,156l-5.2,9.2m2.1-2.5l-2.1,2.5l1-3.1M699,156l-5,10m2.1-2.7l-2.1,2.7l.9-3.3M718,156l-5.3,10.4m2.2-2.8l-2.2,2.8l1-3.4M738,156l-5.9,10.5m2.4-2.8l-2.4,2.8l1.2-3.5M757,156l-3.3,5.1m1.3-1.3l-1.3,1.3l.7-1.7M776,156l-3.7,4.7m1.4-1.2l-1.4,1.2l.8-1.6M796,156l-8.2,8.4m2.9-2l-2.9,2l2-3M815,156l-8.8,7m3-1.6l-3,1.6l2.2-2.6M835,156l-9.2,5.5m3.1-1.1l-3.1,1.1l2.4-2.2M137,177l1.2,.4M156,177l1.1,1.1M175,177l1.4,1.7M195,177l1.7,2.4M214,177l1.7,3.2m-.3-1.1l.3,1.1l-.7-.9M234,177l1.5,3.9m-.2-1.3l.2,1.3l-.7-1.1M253,177l1,4.7m0-1.5l0,1.5l-.6-1.3M272,177l.3,5.4m.2-1.6l-.2,1.6l-.4-1.6M292,177l-.7,6.1m.6-1.8l-.6,1.8l-.1-1.9M311,177l-1.8,6.9m.9-2l-.9,2l.2-2.2M330,177l-3.1,7.5m1.3-2.1l-1.3,2.1l.5-2.4M350,177l-4.3,7.9m1.7-2.1l-1.7,2.1l.8-2.6M369,177l-5.6,8m2.1-2.1l-2.1,2.1l1.2-2.7M389,177l-6.8,7.8m2.5-2l-2.5,2l1.6-2.7M408,177l-8,7.2m2.8-1.7l-2.8,1.7l2-2.6M427,177l-9.1,6.3m3.1-1.4l-3.1,1.4l2.4-2.4M447,177l-9.8,5.1m3.2-1l-3.2,1l2.7-2.1M466,177l-10.2,3.8m3.3-.6l-3.3,.6l2.8-1.7M486,177l-20.1,5.3m6.3-.4l-6.3,.4l5.7-2.7M505,177l-19,3.5m5.9,0l-5.9,0l5.5-2.1M524,177l-17.5,2.5m5.4,.3l-5.4-.3l5.1-1.7M544,177l-15.6,2m4.8,.3l-4.8-.3l4.6-1.5M563,177l-6.7,1m2.1,.1l-2.1-.1l2-.7M583,177l-5.7,1.3m1.8-.1l-1.8,.1l1.6-.7M602,177l-9.4,3.6m3-.5l-3,.5l2.6-1.6M621,177l-7.7,4.8m2.6-1l-2.6,1l2-1.9M641,177l-6.4,6m2.3-1.4l-2.3,1.4l1.6-2.2M660,177l-5.5,7.3m2.1-1.9l-2.1,1.9l1.2-2.5M680,177l-5,8.5m2-2.3l-2,2.3l1-2.8M699,177l-4.9,9.4m2-2.5l-2,2.5l.9-3.1M718,177l-5.2,10m2.1-2.7l-2.1,2.7l1-3.3M738,177l-2.9,5.1m1.2-1.4l-1.2,1.4l.6-1.7M757,177l-3.4,5.1m1.3-1.3l-1.3,1.3l.7-1.7M776,177l-3.8,4.8m1.4-1.2l-1.4,1.2l.9-1.7M796,177l-8.5,8.7m3.1-2.1l-3.1,2.1l2.1-3.1M815,177l-9.2,7.5m3.2-1.7l-3.2,1.7l2.3-2.8M835,177l-9.5,6.1m3.2-1.3l-3.2,1.3l2.5-2.4M137,201l1.2,.4M156,201l1.2,.4M175,201l.9,1.1M195,201l1.1,1.8M214,201l1.2,2.6M234,201l1.1,3.4m-.1-1.1l.1,1.1l-.5-1M253,201l.7,4.3m0-1.3l0,1.3l-.5-1.3M272,201l.1,5.2m.3-1.6l-.3,1.6l-.3-1.6M292,201l-.7,6.1m.5-1.8l-.5,1.8l-.1-1.9M311,201l-1.6,6.9m.9-2l-.9,2l.1-2.2M330,201l-2.7,7.7m1.3-2.1l-1.3,2.1l.4-2.5M350,201l-4,8.3m1.7-2.3l-1.7,2.3l.7-2.7M369,201l-5.3,8.6m2.1-2.3l-2.1,2.3l1.1-2.9M389,201l-6.7,8.7m2.5-2.2l-2.5,2.2l1.5-3M408,201l-8.2,8.2m2.9-2l-2.9,2l2-2.9M427,201l-9.6,7.3m3.3-1.6l-3.3,1.6l2.5-2.7M447,201l-21.3,11.6m7.1-2.3l-7.1,2.3l5.7-4.7M466,201l-22,8.2m7.1-1.2l-7.1,1.2l6.1-3.7M486,201l-21.4,5.1m6.7-.3l-6.7,.3l6.1-2.8M505,201l-19.8,3m6.1,.2l-6.1-.2l5.8-2M524,201l-17.7,1.6m5.4,.5l-5.4-.5l5.2-1.5M544,201l-15.4,1m4.7,.6l-4.7-.6l4.5-1.2M563,201l-6.5,.5m2,.2l-2-.2l1.9-.5M583,201l-5.5,.8m1.7,.1l-1.7-.1l1.6-.5M602,201l-9,2.4m2.8-.2l-2.8,.2l2.6-1.2M621,201l-7.4,3.5m2.4-.6l-2.4,.6l2-1.5M641,201l-6.2,4.8m2.1-1.1l-2.1,1.1l1.6-1.8M660,201l-5.5,6.1m2-1.5l-2,1.5l1.3-2.1M680,201l-5.1,7.3m2-1.9l-2,1.9l1.1-2.5M699,201l-5.3,8.3m2.1-2.2l-2.1,2.2l1.1-2.8M718,201l-2.9,4.5m1.1-1.2l-1.1,1.2l.6-1.5M738,201l-3.3,4.7m1.3-1.2l-1.3,1.2l.7-1.6M757,201l-3.8,4.7m1.4-1.2l-1.4,1.2l.9-1.6M776,201l-8.6,9.1m3.1-2.2l-3.1,2.2l2.1-3.2M796,201l-9.6,8.3m3.4-1.9l-3.4,1.9l2.4-3M815,201l-10.4,7.2m3.5-1.6l-3.5,1.6l2.7-2.8M835,201l-10.8,6m3.6-1.2l-3.6,1.2l2.9-2.4M137,222l1.2,.4M156,222l1.2,.4M175,222l1.2,.4M195,222l.7,1.1M214,222l.8,1.8M234,222l.8,2.7M253,222l.5,3.7m0-1.1l0,1.1l-.4-1.1M272,222l.1,4.6m.2-1.4l-.2,1.4l-.3-1.4M292,222l-.5,5.6m.5-1.7l-.5,1.7l-.2-1.7M311,222l-1.3,6.6m.8-1.9l-.8,1.9l0-2.1M330,222l-2.3,7.5m1.1-2.1l-1.1,2.1l.2-2.4M350,222l-3.3,8.3m1.5-2.3l-1.5,2.3l.5-2.7M369,222l-4.6,9m1.9-2.4l-1.9,2.4l.9-3M389,222l-6.1,9.4m2.4-2.5l-2.4,2.5l1.3-3.2M408,222l-8,9.4m2.9-2.4l-2.9,2.4l1.9-3.3M427,222l-10,8.5m3.5-2l-3.5,2l2.5-3.1M447,222l-23.3,13m7.7-2.6l-7.7,2.6l6.3-5.2M466,222l-24.1,7.9m7.7-1l-7.7,1l6.8-3.7M486,222l-22.5,3.8m7,.1l-7-.1l6.5-2.4M505,222l-19.9,1.3m6.1,.7l-6.1-.7l5.9-1.5M524,222l-17.2,.1m5.2,1l-5.2-1l5.2-1M544,222l-7.4-.2m2.2,.5l-2.2-.5l2.2-.4M563,222l-12.4-.1m3.7,.7l-3.7-.7l3.7-.7M583,222l-10.4,.4m3.1,.5l-3.1-.5l3.1-.7M602,222l-8.6,1.3m2.7,.1l-2.7-.1l2.5-.9M621,222l-7.3,2.4m2.3-.3l-2.3,.3l2-1.1M641,222l-3.2,1.8m1.1-.4l-1.1,.4l.8-.7M660,222l-2.9,2.5m1-.6l-1,.6l.7-.9M680,222l-2.9,3.1m1.1-.8l-1.1,.8l.7-1.1M699,222l-3.2,3.6m1.2-.9l-1.2,.9l.7-1.3M718,222l-3.6,4m1.3-1l-1.3,1l.8-1.4M738,222l-4.1,4.2m1.5-1l-1.5,1l1-1.5M757,222l-9.4,8.5m3.3-2l-3.3,2l2.3-3.1M776,222l-10.6,8.1m3.6-1.8l-3.6,1.8l2.7-3M796,222l-11.6,7.5m3.9-1.6l-3.9,1.6l3.1-2.9M815,222l-12.4,6.5m4.1-1.2l-4.1,1.2l3.4-2.6M835,222l-12.9,5.2m4.2-.8l-4.2,.8l3.6-2.3M137,245l1.2,.4M156,245l1.2,.4M175,245l1.2,.4M195,245l1.2,.4M214,245l1.2,.4M234,245l.6,1.8M253,245l.5,2.7M272,245l.2,3.8m.1-1.1l-.1,1.1l-.3-1.1M292,245l-.2,4.8m.3-1.4l-.3,1.4l-.2-1.5M311,245l-.8,5.9m.6-1.7l-.6,1.7l-.1-1.8M330,245l-1.5,7m.8-2l-.8,2l0-2.2M350,245l-2.3,8m1.2-2.3l-1.2,2.3l.2-2.5M369,245l-3.4,9.1m1.5-2.5l-1.5,2.5l.5-2.9M389,245l-4.7,10.1m2-2.8l-2,2.8l.8-3.3M408,245l-6.7,10.9m2.6-2.9l-2.6,2.9l1.4-3.7M427,245l-9.9,10.8m3.6-2.7l-3.6,2.7l2.4-3.8M447,245l-13.5,7.6m4.5-1.5l-4.5,1.5l3.6-3.1M466,245l-27.3,5.3m8.5,0l-8.5,0l7.9-3.1M486,245l-22.9,0m6.9,1.3l-6.9-1.3l6.9-1.3M505,245l-18.8-1.7m5.5,1.6l-5.5-1.6l5.7-.6M524,245l-15.7-2m4.6,1.5l-4.6-1.5l4.8-.3M544,245l-13.2-1.8m3.9,1.3l-3.9-1.3l4.1-.2M563,245l-11.1-1.3m3.3,1l-3.3-1l3.4-.2M583,245l-9.3-.6m2.8,.7l-2.8-.7l2.8-.4M602,245l-7.9,.4m2.4,.3l-2.4-.3l2.4-.6M621,245l-3.5,.7m1.1,0l-1.1,0l1-.4M641,245l-3.2,1.3m1-.2l-1,.2l.9-.6M660,245l-6.3,3.9m2.1-.8l-2.1,.8l1.7-1.5M680,245l-6.7,5.1m2.3-1.1l-2.3,1.1l1.7-1.9M699,245l-7.5,6m2.6-1.4l-2.6,1.4l1.9-2.2M718,245l-8.7,6.8m3-1.5l-3,1.5l2.2-2.5M738,245l-10.1,7.2m3.5-1.6l-3.5,1.6l2.6-2.7M757,245l-11.6,7.2m3.9-1.5l-3.9,1.5l3.1-2.8M776,245l-13,6.8m4.3-1.3l-4.3,1.3l3.5-2.8M796,245l-14.2,6.1m4.6-1l-4.6,1l3.9-2.6M815,245l-15,5.1m4.8-.7l-4.8,.7l4.2-2.4M835,245l-15.4,3.9m4.8-.3l-4.8,.3l4.4-2M137,268l-1.1-1.4M156,268l-.7-1.3M175,268l1.2,.4M195,268l1.2,.4M214,268l1.2,.4M234,268l1.2,.4M253,268l.6,1.7M272,268l.5,2.7M292,268l.3,3.8m.1-1.1l-.1,1.1l-.3-1.1M311,268l-.1,4.9m.3-1.5l-.3,1.5l-.3-1.5M330,268l-.5,6m.5-1.8l-.5,1.8l-.2-1.8M350,268l-1,7.2m.7-2.1l-.7,2.1l-.1-2.2M369,268l-1.5,8.5m.9-2.5l-.9,2.5l0-2.6M389,268l-2.1,10m1.2-2.9l-1.2,2.9l.1-3.1M408,268l-3,12.1m1.6-3.5l-1.6,3.5l.2-3.8M427,268l-5.1,10.7m2.1-2.9l-2.1,2.9l.9-3.5M447,268l-7.2,5.4m2.5-1.2l-2.5,1.2l1.9-2M466,268l-18.3,0m5.5,1l-5.5-1l5.5-1M486,268l-18.9-7.2m5.3,3.3l-5.3-3.3l6.1,1.1M505,268l-14.8-5.4m4.1,2.5l-4.1-2.5l4.8,.8M524,268l-12.3-4.1m3.4,1.9l-3.4-1.9l3.9,.5M544,268l-10.3-3.1m2.9,1.5l-2.9-1.5l3.3,.3M563,268l-8.7-2.1m2.5,1.1l-2.5-1.1l2.7,.1M583,268l-7.3-1.2m2.1,.8l-2.1-.8l2.3-.1M602,268l-6.2-.2m1.9,.4l-1.9-.4l1.9-.3M621,268l-2.8,.5M641,268l-5.4,2.1m1.7-.3l-1.7,.3l1.5-.9M660,268l-5.7,3.2m1.9-.6l-1.9,.6l1.5-1.3M680,268l-6.6,4.3m2.2-.9l-2.2,.9l1.7-1.7M699,268l-7.8,5.2m2.6-1.1l-2.6,1.1l2.1-2M718,268l-9.5,5.7m3.2-1.2l-3.2,1.2l2.5-2.3M738,268l-11.3,6m3.7-1.1l-3.7,1.1l3.1-2.4M757,268l-13.2,5.8m4.3-1l-4.3,1l3.6-2.5M776,268l-14.8,5.2m4.7-.7l-4.7,.7l4.1-2.4M796,268l-16.1,4.3m5.1-.4l-5.1,.4l4.6-2.2M815,268l-17,3.2m5.3,0l-5.3,0l4.9-1.9M835,268l-17.3,1.9m5.3,.4l-5.3-.4l5.1-1.6M137,289l-1.4-1.7M156,289l-1-1.7M175,289l-.5-1.6M195,289l0-1.2M214,289l1.2,.4M234,289l1.2,.4M253,289l1.2,.4M272,289l.9,1.6M292,289l.8,2.6M311,289l.7,3.7m0-1.1l0,1.1l-.4-1.1M330,289l.6,4.8m.1-1.5l-.1,1.5l-.5-1.4M350,289l.5,6m.2-1.8l-.2,1.8l-.5-1.8M369,289l.5,7.2m.3-2.2l-.3,2.2l-.6-2.1M389,289l.8,8.6m.2-2.6l-.2,2.6l-.7-2.5M408,289l1.9,10.2m0-3.2l0,3.2l-1.2-3M427,289l1.6,8.1m0-2.5l0,2.5l-.9-2.3M447,289l-.5,3M466,289l-2.4-2.3m.6,.8l-.6-.8l.8,.6M486,289l-7.9-11.2m1.7,3.8l-1.7-3.8l3,2.9M505,289l-8.2-7.3m2,2.7l-2-2.7l2.9,1.7M524,289l-7.5-5m1.9,1.9l-1.9-1.9l2.5,1.1M544,289l-6.5-3.5m1.7,1.4l-1.7-1.4l2.1,.7M563,289l-5.4-2.3m1.5,1l-1.5-1l1.8,.4M583,289l-4.4-1.3m1.3,.6l-1.3-.6l1.4,.1M602,289l-3.7-.2m1.1,.3l-1.1-.3l1.1-.1M621,289l-3.3,.9m1-.1l-1,.1l.9-.4M641,289l-3.4,2m1.1-.4l-1.1,.4l.9-.8M660,289l-4,3.1m1.4-.7l-1.4,.7l1-1.2M680,289l-5.2,4.1m1.8-.9l-1.8,.9l1.3-1.5M699,289l-6.9,4.8m2.4-1.1l-2.4,1.1l1.8-1.8M718,289l-9,5.2m3-1.1l-3,1.1l2.4-2.1M738,289l-11.4,5.2m3.7-.9l-3.7,.9l3.1-2.2M757,289l-13.7,4.6m4.4-.6l-4.4,.6l3.8-2.2M776,289l-15.6,3.6m4.9-.2l-4.9,.2l4.5-2M796,289l-17.1,2.3m5.3,.3l-5.3-.3l5-1.7M815,289l-18,.9m5.5,.7l-5.5-.7l5.4-1.3M835,289l-18.3-.4m5.5,1.2l-5.5-1.2l5.5-.9M137,309l-1.6-1.8M156,309l-1.1-1.9M175,309l-.6-1.9M195,309l-.1-1.7M214,309l.4-1.3M234,309l1.2,.4M253,309l1.2,.4M272,309l1.3,.6M292,309l1.4,1.5M311,309l1.5,2.5M330,309l1.6,3.5m-.3-1.1l.3,1.1l-.7-1M350,309l1.7,4.5m-.3-1.5l.3,1.5l-.8-1.3M369,309l2.1,5.5m-.3-1.8l.3,1.8l-.9-1.5M389,309l2.8,6.4m-.5-2.1l.5,2.1l-1.2-1.7M408,309l4.3,6.7m-.9-2.3l.9,2.3l-1.7-1.8M427,309l6.7,5.4m-1.7-2l1.7,2l-2.3-1.2M447,309l5.8,.7m-1.7-.5l1.7,.5l-1.8,.1M466,309l3.7-4.2m-1.3,1l1.3-1l-.9,1.5M486,309l.6-8.3m-.7,2.5l.7-2.5l.3,2.5M505,309l-2.1-6.3m.3,2l-.3-2l1,1.8M524,309l-2.8-4.5m.6,1.5l-.6-1.5l1.1,1.2M544,309l-2.7-3.1m.6,1.1l-.6-1.1l1,.8M563,309l-2.1-1.8M583,309l-1.5-.8M602,309l1.2,.4M621,309l-.9,1.4M641,309l-1.2,2.5M660,309l-2.1,3.6m.8-1l-.8,1l.4-1.2M680,309l-3.6,4.6m1.3-1.2l-1.3,1.2l.8-1.6M699,309l-5.7,5.3m2-1.3l-2,1.3l1.4-1.9M718,309l-8.4,5.5m2.8-1.2l-2.8,1.2l2.2-2.1M738,309l-11.4,5.1m3.7-.9l-3.7,.9l3.1-2.2M757,309l-14.2,4m4.5-.4l-4.5,.4l4-2M776,309l-16.6,2.4m5.1,.2l-5.1-.2l4.8-1.7M796,309l-18.2,.5m5.5,.9l-5.5-.9l5.4-1.2M815,309l-19.1-1.4m5.6,1.5l-5.6-1.5l5.8-.7M835,309l-19.1-3m5.6,2l-5.6-2l5.9-.2M137,331l-1.7-1.8M156,331l-1.2-1.9M175,331l-.6-2M195,331l0-2M214,331l.5-1.7M234,331l1-1.4M253,331l1.4-.9M272,331l1.8-.3M292,331l2,.4M311,331l2.3,1.2M330,331l2.5,2m-.6-.8l.6,.8l-.9-.5M350,331l2.8,2.8m-.7-1l.7,1l-1-.7M369,331l3.3,3.5m-.8-1.2l.8,1.2l-1.2-.9M389,331l3.9,4m-1-1.4l1,1.4l-1.4-1M408,331l4.9,3.8m-1.2-1.4l1.2,1.4l-1.7-.9M427,331l5.7,2.7m-1.6-1.1l1.6,1.1l-1.9-.5M447,331l5.6,.4m-1.7-.4l1.7,.4l-1.7,.2M466,331l8.3-3.1m-2.7,.4l2.7-.4l-2.3,1.4M486,331l4.8-4.4m-1.7,1l1.7-1l-1.2,1.6M505,331l2.3-3.9m-.9,1l.9-1l-.5,1.3M524,331l1.2-2.9M544,331l.8-1.7M563,331l1.2,.4M583,331l1.3,.4M602,331l1.5,1.5M621,331l1.5,2.6M641,331l1,3.8m-.1-1.2l.1,1.2l-.5-1.1M660,331l-.1,4.9m.3-1.5l-.3,1.5l-.2-1.5M680,331l-2,6m.9-1.7l-.9,1.7l.3-1.9M699,331l-4.7,6.8m1.8-1.8l-1.8,1.8l1-2.3M718,331l-8.1,6.9m2.8-1.6l-2.8,1.6l2-2.5M738,331l-12,6.2m4-1.2l-4,1.2l3.3-2.5M757,331l-15.8,4.3m5-.4l-5,.4l4.5-2.2M776,331l-18.8,1.6m5.7,.6l-5.7-.6l5.6-1.5M796,331l-20.6-1.5m6.1,1.6l-6.1-1.6l6.3-.7M815,331l-21.1-4.2m6.1,2.5l-6.1-2.5l6.6,.1M835,331l-20.6-6.2m5.8,3l-5.8-3l6.5,.7M137,351l-1.7-1.5M156,351l-1.1-1.8M175,351l-.5-1.9M195,351l.1-2M214,351l.7-1.9M234,351l1.3-1.7M253,351l1.8-1.4M272,351l2.2-1M292,351l2.6-.4M311,351l2.9,.2M330,351l3.2,.8m-.9-.4l.9,.4l-1-.1M350,351l3.6,1.4m-1-.6l1,.6l-1.2-.2M369,351l4,1.9m-1.1-.8l1.1,.8l-1.3-.3M389,351l4.5,2.2m-1.2-.9l1.2,.9l-1.5-.4M408,351l5,2.1m-1.4-.9l1.4,.9l-1.6-.3M427,351l5.3,1.5m-1.5-.7l1.5,.7l-1.7-.1M447,351l5.1,.4m-1.5-.4l1.5,.4l-1.5,.2M466,351l8.6-1m-2.6-.2l2.6,.2l-2.5,.8M486,351l6.6-1.9m-2.1,.2l2.1-.2l-1.9,.9M505,351l4.9-1.7m-1.6,.2l1.6-.2l-1.4,.8M524,351l3.8-1m-1.2,.1l1.2-.1l-1.1,.5M544,351l3.4-.1m-1-.2l1,.2l-1,.2M563,351l3.4,.9m-1-.5l1,.5l-1.1-.1M583,351l3.5,2m-.9-.8l.9,.8l-1.2-.4M602,351l3.6,3m-.9-1.1l.9,1.1l-1.3-.7M621,351l3.5,4.2m-.8-1.5l.8,1.5l-1.3-1.1M641,351l2.9,5.5m-.5-1.8l.5,1.8l-1.2-1.5M660,351l1.6,6.8m-.1-2.1l.1,2.1l-.9-1.9M680,351l-.5,8.1m.6-2.4l-.6,2.4l-.3-2.5M699,351l-3.7,9.2m1.6-2.6l-1.6,2.6l.6-3M718,351l-8,9.6m2.9-2.4l-2.9,2.4l1.9-3.3M738,351l-13.2,8.7m4.5-1.9l-4.5,1.9l3.5-3.4M757,351l-18.5,5.8m5.9-.7l-5.9,.7l5.2-2.8M776,351l-22.4,1.3m6.8,.9l-6.8-.9l6.6-1.7M796,351l-24.1-3.6m7,2.4l-7-2.4l7.4-.3M815,351l-23.8-7.5m6.7,3.6l-6.7-3.6l7.6,.9M835,351l-22.4-9.9m6.2,4.2l-6.2-4.2l7.3,1.7M137,371l-1.6-1.2M156,371l-1-1.5M175,371l-.3-1.7M195,371l.4-1.8M214,371l1-1.9M234,371l1.6-1.9M253,371l2.2-1.7M272,371l2.7-1.5M292,371l3.1-1.1m-1,.2l1-.2l-.9,.5M311,371l3.5-.7m-1.1,0l1.1,0l-1,.4M330,371l3.9-.3m-1.2-.1l1.2,.1l-1.1,.3M350,371l4.2,.1m-1.3-.3l1.3,.3l-1.3,.2M369,371l4.6,.5m-1.3-.4l1.3,.4l-1.4,.1M389,371l4.9,.8m-1.4-.5l1.4,.5l-1.5,0M408,371l5.1,.8m-1.5-.5l1.5,.5l-1.6,0M427,371l5.2,.7m-1.5-.5l1.5,.5l-1.6,.1M447,371l9.9,.5m-3-.7l3,.7l-3,.4M466,371l8.9-.1m-2.7-.5l2.7,.5l-2.7,.5M486,371l7.7-.3m-2.3-.3l2.3,.3l-2.3,.5M505,371l6.5,0m-2-.4l2,.4l-2,.4M524,371l5.7,.8m-1.7-.6l1.7,.6l-1.8,.1M544,371l5.3,1.7m-1.5-.8l1.5,.8l-1.7-.2M563,371l5.3,2.7m-1.4-1.1l1.4,1.1l-1.7-.5M583,371l5.4,3.7m-1.4-1.4l1.4,1.4l-1.8-.8M602,371l5.4,4.8m-1.4-1.8l1.4,1.8l-1.9-1.1M621,371l5.3,6m-1.2-2.1l1.2,2.1l-1.9-1.5M641,371l4.8,7.4m-1-2.5l1,2.5l-1.9-2M660,371l3.6,9m-.6-2.9l.6,2.9l-1.6-2.5M680,371l1.5,10.8m.2-3.3l-.2,3.3l-1.1-3.2M699,371l-1.9,12.6m1.3-3.7l-1.3,3.7l-.1-3.9M718,371l-7,13.8m2.9-3.7l-2.9,3.7l1.3-4.5M738,371l-14.1,13.3m5-3.2l-5,3.2l3.5-4.8M757,371l-22,9.3m7.1-1.5l-7.1,1.5l6.1-4.1M776,371l-27.8,1.6m8.4,1.1l-8.4-1.1l8.2-2.1M796,371l-28.9-6.6m8.3,3.6l-8.3-3.6l9,.3M815,371l-26.8-12.1m7.3,5.1l-7.3-5.1l8.7,2.1M835,371l-23.8-14.5m6.3,5.7l-6.3-5.7l8,3M137,391l-1.4-.7M156,391l-.8-1M175,391l-.1-1.3M195,391l.6-1.5M214,391l1.3-1.7M234,391l2-1.8M253,391l2.6-1.8M272,391l3.1-1.8m-1,.4l1-.4l-.8,.7M292,391l3.6-1.6m-1.2,.3l1.2-.3l-1,.7M311,391l4-1.4m-1.3,.2l1.3-.2l-1.1,.7M330,391l4.4-1.2m-1.4,.1l1.4-.1l-1.3,.6M350,391l4.7-.9m-1.5,0l1.5,0l-1.4,.5M369,391l5-.6m-1.5-.1l1.5,.1l-1.5,.5M389,391l5.2-.3m-1.6-.2l1.6,.2l-1.5,.4M408,391l5.3-.1m-1.6-.3l1.6,.3l-1.6,.3M427,391l5.3,0m-1.6-.3l1.6,.3l-1.6,.3M447,391l10.1,.1m-3-.6l3,.6l-3,.6M466,391l9.4,.2m-2.8-.6l2.8,.6l-2.8,.5M486,391l8.5,.7m-2.5-.7l2.5,.7l-2.6,.3M505,391l7.7,1.4m-2.2-.8l2.2,.8l-2.4,0M524,391l7.1,2.3m-2-1.1l2,1.1l-2.3-.3M544,391l6.8,3.3m-1.9-1.4l1.9,1.4l-2.2-.6M563,391l6.8,4.3m-1.8-1.7l1.8,1.7l-2.3-.9M583,391l7,5.4m-1.8-2l1.8,2l-2.4-1.2M602,391l7.1,6.6m-1.8-2.4l1.8,2.4l-2.5-1.6M621,391l7.2,7.9m-1.7-2.8l1.7,2.8l-2.6-2M641,391l6.9,9.4m-1.5-3.2l1.5,3.2l-2.6-2.4M660,391l6.1,11.3m-1.2-3.7l1.2,3.7l-2.5-3M680,391l4.5,13.5m-.6-4.3l.6,4.3l-2.1-3.8M699,391l1.5,16.3m.5-5l-.5,5l-1.4-4.8M718,391l-3.7,19.2m2.2-5.6l-2.2,5.6l0-6M738,391l-12.7,21m5-5.6l-5,5.6l2.6-7M757,391l-26.2,16.9m8.8-3.6l-8.8,3.6l6.9-6.6M776,391l-33.5,1.4m10.1,1.5l-10.1-1.5l10-2.3M796,391l-35-12.8m9.8,5.8l-9.8-5.8l11.2,1.9M815,391l-28.7-19.3m7.5,7.4l-7.5-7.4l9.7,4.1M835,391l-23.7-20.4m5.9,7.5l-5.9-7.5l8.3,4.8M137,411l1.2,.4M156,411l1.2,.4M175,411l1.2,.4M195,411l.9-1.1M214,411l1.6-1.4M234,411l2.3-1.6M253,411l2.9-1.8m-1,.4l1-.4l-.8,.7M272,411l3.5-1.9m-1.2,.4l1.2-.4l-.9,.8M292,411l4-2m-1.3,.4l1.3-.4l-1.1,.8M311,411l4.5-2m-1.5,.3l1.5-.3l-1.2,.8M330,411l4.9-1.9m-1.6,.3l1.6-.3l-1.3,.8M350,411l5.2-1.7m-1.7,.2l1.7-.2l-1.5,.8M369,411l5.4-1.5m-1.7,.2l1.7-.2l-1.5,.8M389,411l5.6-1.3m-1.7,.1l1.7-.1l-1.6,.7M408,411l11.2-1.8m-3.5-.1l3.5,.1l-3.2,1.2M427,411l11-1.1m-3.4-.3l3.4,.3l-3.2,1M447,411l5.2-.3m-1.6-.2l1.6,.2l-1.6,.4M466,411l4.9,.1m-1.5-.3l1.5,.3l-1.5,.2M486,411l9.1,1.2m-2.7-.9l2.7,.9l-2.8,.2M505,411l8.5,2.3m-2.4-1.2l2.4,1.2l-2.7-.2M524,411l8.1,3.4m-2.2-1.5l2.2,1.5l-2.6-.6M544,411l8,4.6m-2.1-1.8l2.1,1.8l-2.7-.9M563,411l8.1,5.8m-2.1-2.2l2.1,2.2l-2.8-1.3M583,411l8.3,7m-2.1-2.6l2.1,2.6l-2.9-1.6M602,411l8.7,8.2m-2.1-2.9l2.1,2.9l-3.1-2M621,411l9,9.5m-2.2-3.4l2.2,3.4l-3.2-2.3M641,411l9.1,11m-2.1-3.8l2.1,3.8l-3.4-2.8M660,411l9,12.9m-2-4.4l2,4.4l-3.4-3.4M680,411l8.4,15.5m-1.6-5.1l1.6,5.1l-3.4-4.2M699,411l6.9,19m-1-6.1l1,6.1l-3.2-5.3M718,411l3.8,24m.2-7.4l-.2,7.4l-2.5-7M738,411l-3.1,27.3m2.5-8l-2.5,8l-.6-8.4M757,411l-10.3,11.5m3.7-2.9l-3.7,2.9l2.4-4M776,411l-17.5-4.4m5,2.3l-5-2.3l5.5,.3M796,411l-24.6-20.1m6.2,7.4l-6.2-7.4l8.5,4.6M815,411l-26.1-29.9m6.1,10.5l-6.1-10.5l9.5,7.5M835,411l-20.4-27m4.6,9.3l-4.6-9.3l7.6,6.9M137,432l1.2,.4M156,432l1.2,.4M175,432l1.2,.4M195,432l1.3-.6M214,432l2-1M234,432l2.7-1.4M253,432l3.4-1.7m-1.1,.3l1.1-.3l-.9,.7M272,432l3.9-2m-1.3,.4l1.3-.4l-1.1,.8M292,432l4.5-2.2m-1.5,.4l1.5-.4l-1.2,.9M311,432l4.9-2.4m-1.6,.4l1.6-.4l-1.3,1M330,432l5.3-2.5m-1.7,.4l1.7-.4l-1.5,1.1M350,432l5.6-2.5m-1.8,.4l1.8-.4l-1.5,1.1M369,432l5.8-2.3m-1.9,.4l1.9-.4l-1.6,1M389,432l11.8-4.1m-3.8,.6l3.8-.6l-3.3,1.9M408,432l11.7-3.3m-3.7,.3l3.7-.3l-3.3,1.7M427,432l11.5-2.2m-3.6,0l3.6,0l-3.3,1.3M447,432l5.5-.6m-1.7-.1l1.7,.1l-1.6,.5M466,432l10.3,0m-3.1-.6l3.1,.6l-3.1,.6M486,432l9.7,1.4m-2.8-1l2.8,1l-3,.1M505,432l9.3,2.8m-2.6-1.4l2.6,1.4l-2.9-.3M524,432l9,4.2m-2.5-1.8l2.5,1.8l-2.9-.8M544,432l9,5.6m-2.4-2.2l2.4,2.2l-3-1.2M563,432l9.2,6.9m-2.4-2.6l2.4,2.6l-3.1-1.6M583,432l9.6,8.1m-2.4-3l2.4,3l-3.3-1.9M602,432l10.2,9.3m-2.5-3.4l2.5,3.4l-3.6-2.2M621,432l10.8,10.6m-2.6-3.8l2.6,3.8l-3.8-2.5M641,432l11.5,11.9m-2.8-4.2l2.8,4.2l-4.1-2.9M660,432l12.1,13.6m-2.9-4.8l2.9,4.8l-4.4-3.4M680,432l12.8,15.9m-2.9-5.5l2.9,5.5l-4.7-4M699,432l13.6,19.1m-3-6.5l3,6.5l-5.2-5M718,432l14.8,24m-3.1-8.1l3.1,8.1l-5.8-6.4M738,432l13.3,22m-2.7-7.4l2.7,7.4l-5.2-5.8M757,432l6.3,6m-1.5-2.1l1.5,2.1l-2.2-1.4M776,432l-.9-10.2m-.3,3.1l.3-3.1l.9,3M796,432l-8.1-26.1m.9,8.3l-.9-8.3l3.9,7.4M815,432l-14.4-39.4m2.1,12.6l-2.1-12.6l6.6,11M835,432l-13.2-31.9m2.1,10.3l-2.1-10.3l5.8,8.8M137,452l1.2,.4M156,452l1.2,.4M175,452l1.2,.4M195,452l1.7-.2M214,452l2.5-.7M234,452l3.2-1.1m-1,.2l1-.2l-.9,.5M253,452l7.8-3.2m-2.5,.5l2.5-.5l-2.1,1.4M272,452l4.5-2.1m-1.5,.4l1.5-.4l-1.2,.9M292,452l5-2.5m-1.6,.5l1.6-.5l-1.4,1M311,452l5.5-2.8m-1.8,.5l1.8-.5l-1.5,1.2M330,452l11.7-6.1m-3.9,1.2l3.9-1.2l-3.2,2.5M350,452l12.2-6.3m-4,1.2l4-1.2l-3.3,2.6M369,452l12.5-6.2m-4.1,1.1l4.1-1.1l-3.4,2.6M389,452l12.6-5.7m-4.1,1l4.1-1l-3.4,2.4M408,452l12.4-4.8m-4,.7l4-.7l-3.5,2.1M427,452l12.1-3.5m-3.8,.4l3.8-.4l-3.4,1.7M447,452l11.5-2.1m-3.6,0l3.6,0l-3.3,1.3M466,452l10.9-.5m-3.3-.5l3.3,.5l-3.2,.8M486,452l10.4,1.2m-3-.9l3,.9l-3.2,.2M505,452l9.9,2.9m-2.8-1.4l2.8,1.4l-3.2-.3M524,452l9.8,4.6m-2.7-1.9l2.7,1.9l-3.2-.8M544,452l9.8,6.2m-2.6-2.4l2.6,2.4l-3.3-1.3M563,452l10.2,7.6m-2.6-2.9l2.6,2.9l-3.5-1.7M583,452l10.8,8.9m-2.7-3.3l2.7,3.3l-3.7-2M602,452l11.6,10m-2.9-3.7l2.9,3.7l-4-2.3M621,452l12.5,11m-3.1-4l3.1,4l-4.4-2.6M641,452l13.7,12.1m-3.4-4.4l3.4,4.4l-4.8-2.9M660,452l15,13.3m-3.7-4.8l3.7,4.8l-5.3-3.1M680,452l16.7,14.7m-4.2-5.4l4.2,5.4l-5.9-3.4M699,452l19.2,16.3m-4.8-6l4.8,6l-6.7-3.8M718,452l23.5,18.1m-6-6.8l6,6.8l-8.1-4.1M738,452l29.7,16.6m-8-6.7l8,6.7l-9.9-3.3M757,452l22.9,.4m-6.8-1.4l6.8,1.4l-6.9,1.2M776,452l15.7-15.9m-5.6,3.9l5.6-3.9l-3.8,5.7M796,452l8.5-31.8m-4.4,9l4.4-9l-.7,10M815,452l.6-38.9m-2.4,11.6l2.4-11.6l2,11.7M835,452l-4.5-32.4m-.5,10l.5-10l3.2,9.5M137,470l0,1.2M156,470l1.2,.4M175,470l1.5,.5M195,470l2.3,.1M214,470l3.1-.5M234,470l7.7-2m-2.4,.2l2.4-.2l-2.2,1M253,470l9-3.2m-2.9,.4l2.9-.4l-2.5,1.5M272,470l10.2-4.4m-3.3,.7l3.3-.7l-2.8,1.9M292,470l11.3-5.5m-3.7,1l3.7-1l-3.1,2.3M311,470l12.2-6.4m-4,1.2l4-1.2l-3.3,2.6M330,470l12.9-7.2m-4.3,1.4l4.3-1.4l-3.5,2.9M350,470l13.4-7.6m-4.4,1.5l4.4-1.5l-3.6,3M369,470l13.6-7.6m-4.5,1.5l4.5-1.5l-3.6,3.1M389,470l13.6-7.2m-4.5,1.4l4.5-1.4l-3.7,2.9M408,470l13.3-6.3m-4.4,1.1l4.4-1.1l-3.6,2.6M427,470l12.9-4.9m-4.2,.7l4.2-.7l-3.6,2.2M447,470l12.4-3.2m-3.9,.3l3.9-.3l-3.5,1.7M466,470l11.7-1.5m-3.6-.2l3.6,.2l-3.4,1.1M486,470l11.2,.5m-3.3-.8l3.3,.8l-3.4,.5M505,470l10.8,2.5m-3.1-1.4l3.1,1.4l-3.4-.1M524,470l10.6,4.4m-2.9-1.9l2.9,1.9l-3.4-.7M544,470l10.8,6.1m-2.9-2.4l2.9,2.4l-3.6-1.2M563,470l11.2,7.6m-2.9-2.9l2.9,2.9l-3.8-1.7M583,470l11.9,8.9m-3.1-3.4l3.1,3.4l-4.1-2M602,470l12.8,10m-3.3-3.7l3.3,3.7l-4.4-2.3M621,470l14,10.9m-3.6-4.1l3.6,4.1l-4.8-2.5M641,470l15.4,11.6m-4-4.4l4,4.4l-5.3-2.6M660,470l17.1,12.2m-4.4-4.6l4.4,4.6l-5.8-2.7M680,470l19.2,12.6m-5.1-4.9l5.1,4.9l-6.5-2.7M699,470l22.2,12.6m-5.9-5.1l5.9,5.1l-7.4-2.5M718,470l26.6,11.5m-7.3-5l7.3,5l-8.6-1.9M738,470l32.7,7.1m-9.4-4l9.4,4l-10.2-.3M757,470l37.9-4.6m-11.6-.8l11.6,.8l-11.1,3.5M776,470l30.8-20.8m-10.4,4.5l10.4-4.5l-8.1,8M796,470l20.3-32.5m-7.9,8.6l7.9-8.6l-4.2,10.9M815,470l8.7-32.8m-4.5,9.3l4.5-9.3l-.8,10.3M835,470l1.8-29.8m-2.2,8.8l2.2-8.8l1.2,9M137,490l.7,1.3M156,490l1.5,1M175,490l2.3,.6M195,490l3.2,.1M214,490l7.9-.9m-2.4-.2l2.4,.2l-2.3,.7M234,490l9.5-2.2m-3,.1l3-.1l-2.7,1.2M253,490l10.9-3.6m-3.5,.5l3.5-.5l-3.1,1.7M272,490l6.1-2.5m-2,.4l2-.4l-1.7,1.1M292,490l6.6-3.2m-2.2,.6l2.2-.6l-1.8,1.3M311,490l14.1-7.7m-4.7,1.5l4.7-1.5l-3.8,3.1M330,490l14.7-8.7m-4.9,1.8l4.9-1.8l-3.9,3.5M350,490l15.1-9.4m-5.1,2l5.1-2l-4,3.7M369,490l15.3-9.6m-5.1,2l5.1-2l-4,3.8M389,490l15.2-9.3m-5.1,1.9l5.1-1.9l-4,3.7M408,490l14.9-8.4m-4.9,1.7l4.9-1.7l-4,3.4M427,490l14.4-7m-4.7,1.3l4.7-1.3l-3.9,2.9M447,490l13.9-5.2m-4.5,.8l4.5-.8l-3.9,2.3M466,490l13.2-3.2m-4.1,.2l4.1-.2l-3.8,1.7M486,490l12.6-1.1m-3.8-.4l3.8,.4l-3.7,1M505,490l12.2,1.1m-3.6-1l3.6,1l-3.7,.4M524,490l12,3.2m-3.4-1.7l3.4,1.7l-3.8-.3M544,490l12.2,5.1m-3.4-2.2l3.4,2.2l-3.9-.8M563,490l12.6,6.8m-3.4-2.8l3.4,2.8l-4.2-1.3M583,490l13.4,8.1m-3.6-3.2l3.6,3.2l-4.5-1.7M602,490l14.4,9.1m-3.8-3.6l3.8,3.6l-4.8-1.9M621,490l15.6,9.9m-4.1-3.9l4.1,3.9l-5.3-2.1M641,490l17.1,10.3m-4.5-4.1l4.5,4.1l-5.7-2.1M660,490l18.9,10.3m-5.1-4.2l5.1,4.2l-6.3-2M680,490l21,9.9m-5.7-4.2l5.7,4.2l-6.9-1.8M699,490l23.6,8.7m-6.6-3.9l6.6,3.9l-7.6-1.3M718,490l26.7,6m-7.7-3.3l7.7,3.3l-8.3-.3M738,490l29.7,.8m-8.9-1.9l8.9,1.9l-9,1.4M757,490l30.8-7.5m-9.7,.5l9.7-.5l-8.8,4M776,490l27.5-17.1m-9.2,3.6l9.2-3.6l-7.3,6.7M796,490l20.2-23.9m-7.4,6l7.4-6l-4.7,8.3M815,490l12.3-26.3m-5.2,7.2l5.2-7.2l-2.2,8.6M835,490l6.1-25.7m-3.3,7.4l3.3-7.4l-.4,8.1M137,510l1.6,1.1M156,510l2.5,.8M175,510l3.4,.4m-1-.3l1,.3l-1,.1M195,510l4.3-.2m-1.3-.2l1.3,.2l-1.3,.3M214,510l5.2-.8m-1.6,0l1.6,0l-1.5,.5M234,510l11.9-3.2m-3.8,.3l3.8-.3l-3.4,1.6M253,510l13.4-4.8m-4.3,.7l4.3-.7l-3.7,2.2M272,510l7.4-3.2m-2.4,.6l2.4-.6l-2,1.4M292,510l15.8-8.1m-5.2,1.5l5.2-1.5l-4.3,3.3M311,510l16.7-9.7m-5.6,2l5.6-2l-4.5,3.9M330,510l17.3-11m-5.8,2.3l5.8-2.3l-4.6,4.3M350,510l17.7-11.9m-6,2.6l6-2.6l-4.6,4.6M369,510l17.8-12.3m-6,2.7l6-2.7l-4.6,4.7M389,510l17.6-12.2m-6,2.6l6-2.6l-4.6,4.7M408,510l17.2-11.4m-5.8,2.4l5.8-2.4l-4.5,4.4M427,510l16.7-10m-5.6,2.1l5.6-2.1l-4.4,4M447,510l16.1-8.2m-5.3,1.5l5.3-1.5l-4.4,3.4M466,510l7.7-3m-2.5,.5l2.5-.5l-2.1,1.3M486,510l14.8-3.7m-4.6,.3l4.6-.3l-4.2,2M505,510l14.3-1.4m-4.4-.4l4.4,.4l-4.2,1.2M524,510l14.2,.9m-4.2-1.1l4.2,1.1l-4.3,.5M544,510l14.3,3m-4.1-1.7l4.1,1.7l-4.5-.1M563,510l14.8,4.7m-4.2-2.3l4.2,2.3l-4.7-.6M583,510l15.5,6.2m-4.3-2.7l4.3,2.7l-5-1M602,510l16.5,7.2m-4.5-3.1l4.5,3.1l-5.3-1.2M621,510l17.6,7.9m-4.8-3.4l4.8,3.4l-5.7-1.4M641,510l19,8.1m-5.2-3.5l5.2,3.5l-6.2-1.3M660,510l20.6,7.8m-5.7-3.5l5.7,3.5l-6.6-1.2M680,510l22.3,6.9m-6.3-3.4l6.3,3.4l-7.1-.8M699,510l24.2,5.2m-7-2.9l7,2.9l-7.5-.2M718,510l25.9,2.2m-7.7-2.1l7.7,2.1l-7.9,.8M738,510l27-2.3m-8.2-.8l8.2,.8l-8,2.2M757,510l26.6-8.2m-8.5,.9l8.5-.9l-7.5,4M776,510l23.9-14.3m-8,2.9l8-2.9l-6.3,5.7M796,510l19.1-19.1m-6.8,4.6l6.8-4.6l-4.6,6.8M815,510l13.6-21.6m-5.3,5.7l5.3-5.7l-2.8,7.2M835,510l8.6-22m-3.8,6.1l3.8-6.1l-1.3,7.1M137,528l2.6,.6M156,528l3.6,.3m-1.1-.3l1.1,.3l-1.1,.1M175,528l4.6-.2m-1.4-.2l1.4,.2l-1.4,.3M195,528l5.5-.8m-1.7-.1l1.7,.1l-1.6,.6M214,528l6.5-1.5m-2,.1l2-.1l-1.9,.8M234,528l14.6-4.7m-4.7,.6l4.7-.6l-4.1,2.3M253,528l16.2-6.6m-5.2,1l5.2-1l-4.5,2.9M272,528l17.6-8.5m-5.8,1.5l5.8-1.5l-4.8,3.5M292,528l18.7-10.4m-6.2,2l6.2-2l-5,4.2M311,528l19.6-12.2m-6.6,2.5l6.6-2.5l-5.2,4.8M330,528l20.2-13.7m-6.8,3l6.8-3l-5.3,5.3M350,528l20.5-14.8m-7,3.3l7-3.3l-5.3,5.6M369,528l20.6-15.4m-7.1,3.5l7.1-3.5l-5.3,5.8M389,528l20.4-15.4m-7,3.5l7-3.5l-5.2,5.8M408,528l19.9-14.8m-6.8,3.3l6.8-3.3l-5.1,5.6M427,528l19.3-13.5m-6.6,2.9l6.6-2.9l-5,5.1M447,528l9.3-5.8m-3.1,1.2l3.1-1.2l-2.5,2.3M466,528l9-4.7m-3,.9l3-.9l-2.4,1.9M486,528l17.5-7m-5.6,1.1l5.6-1.1l-4.8,3.1M505,528l17-4.6m-5.4,.4l5.4-.4l-4.8,2.3M524,528l16.8-2.2m-5.2-.3l5.2,.3l-4.9,1.6M544,528l16.9,0m-5.1-1l5.1,1l-5.1,1M563,528l17.3,1.9m-5.1-1.5l5.1,1.5l-5.3,.4M583,528l17.9,3.4m-5.2-2l5.2,2l-5.6,0M602,528l18.8,4.6m-5.4-2.4l5.4,2.4l-5.9-.3M621,528l19.8,5.3m-5.7-2.7l5.7,2.7l-6.3-.4M641,528l21,5.5m-6-2.8l6,2.8l-6.6-.4M660,528l22.3,5.1m-6.4-2.8l6.4,2.8l-7-.3M680,528l23.5,4.1m-6.8-2.6l6.8,2.6l-7.3,.1M699,528l24.7,2.3m-7.3-2.1l7.3,2.1l-7.5,.7M718,528l25.5-.4m-7.7-1.3l7.7,1.3l-7.6,1.6M738,528l25.6-4.1m-7.9-.2l7.9,.2l-7.5,2.7M757,528l24.6-8.5m-7.9,1.1l7.9-1.1l-6.9,3.9M776,528l22.1-12.9m-7.4,2.6l7.4-2.6l-5.9,5.1M796,528l18.4-16.4m-6.5,3.9l6.5-3.9l-4.6,6M815,528l14.2-18.6m-5.3,4.8l5.3-4.8l-3.2,6.4M835,528l10.1-19.4m-4.1,5.3l4.1-5.3l-1.9,6.4M137,547l3.7-.1m-1.1-.2l1.1,.2l-1.1,.2M156,547l4.7-.5m-1.4-.1l1.4,.1l-1.4,.4M175,547l5.8-1m-1.8,0l1.8,0l-1.7,.6M195,547l6.8-1.7m-2.1,.1l2.1-.1l-1.9,.9M214,547l7.8-2.5m-2.5,.3l2.5-.3l-2.2,1.2M234,547l8.7-3.4m-2.8,.5l2.8-.5l-2.4,1.5M253,547l19.1-8.8m-6.2,1.5l6.2-1.5l-5.2,3.7M272,547l20.5-10.9m-6.8,2.1l6.8-2.1l-5.5,4.4M292,547l21.6-13m-7.2,2.7l7.2-2.7l-5.8,5.1M311,547l22.5-14.9m-7.6,3.2l7.6-3.2l-5.9,5.8M330,547l23.1-16.7m-7.9,3.7l7.9-3.7l-6,6.3M350,547l23.4-18m-8.1,4.1l8.1-4.1l-6,6.7M369,547l23.4-18.7m-8.1,4.3l8.1-4.3l-6,7M389,547l23.2-18.9m-8,4.3l8-4.3l-5.9,7M408,547l22.7-18.4m-7.9,4.2l7.9-4.2l-5.8,6.8M427,547l22-17.2m-7.6,3.9l7.6-3.9l-5.6,6.4M447,547l10.7-7.7m-3.6,1.7l3.6-1.7l-2.8,2.9M466,547l10.3-6.6m-3.5,1.4l3.5-1.4l-2.7,2.6M486,547l20.2-10.7m-6.7,2.1l6.7-2.1l-5.4,4.4M505,547l19.7-8.2m-6.4,1.3l6.4-1.3l-5.4,3.6M524,547l19.5-5.8m-6.2,.6l6.2-.6l-5.5,2.8M544,547l19.5-3.5m-6-.1l6,.1l-5.7,2.2M563,547l19.8-1.4m-6-.7l6,.7l-5.9,1.6M583,547l20.4,.2m-6.1-1.2l6.1,1.2l-6.1,1.1M602,547l21.1,1.5m-6.2-1.7l6.2,1.7l-6.4,.7M621,547l21.9,2.3m-6.5-1.9l6.5,1.9l-6.7,.6M641,547l22.9,2.6m-6.7-2.1l6.7,2.1l-7,.5M660,547l23.8,2.4m-7-2.1l7,2.1l-7.3,.6M680,547l24.6,1.5m-7.3-1.8l7.3,1.8l-7.5,1M699,547l25.1-.1m-7.5-1.4l7.5,1.4l-7.5,1.5M718,547l25.3-2.4m-7.7-.7l7.7,.7l-7.4,2.2M738,547l24.8-5.4m-7.7,.2l7.7-.2l-7.1,3M757,547l23.4-8.7m-7.5,1.3l7.5-1.3l-6.5,3.9M776,547l21.1-12m-7,2.4l7-2.4l-5.7,4.8M796,547l18.1-14.7m-6.3,3.4l6.3-3.4l-4.6,5.4M815,547l14.6-16.6m-5.3,4.1l5.3-4.1l-3.4,5.8M835,547l11.1-17.4m-4.3,4.6l4.3-4.6l-2.3,5.9M137,567l4.6-.9m-1.4,0l1.4,0l-1.3,.5M156,567l5.7-1.4m-1.8,.1l1.8-.1l-1.6,.7M175,567l6.8-1.9m-2.2,.2l2.2-.2l-1.9,1M195,567l7.9-2.6m-2.5,.3l2.5-.3l-2.2,1.2M214,567l9-3.5m-2.9,.5l2.9-.5l-2.5,1.6M234,567l9.9-4.5m-3.2,.8l3.2-.8l-2.7,1.9M253,567l10.7-5.5m-3.5,1l3.5-1l-2.9,2.3M272,567l22.9-13.3m-7.6,2.7l7.6-2.7l-6.1,5.3M292,567l24.1-15.5m-8.1,3.3l8.1-3.3l-6.3,6M311,567l24.9-17.7m-8.5,3.9l8.5-3.9l-6.5,6.7M330,567l25.5-19.5m-8.7,4.4l8.7-4.4l-6.5,7.3M350,567l25.7-20.9m-8.9,4.8l8.9-4.8l-6.5,7.7M369,567l25.6-21.8m-8.9,5.1l8.9-5.1l-6.4,8M389,567l25.3-22.1m-8.8,5.2l8.8-5.2l-6.3,8.1M408,567l24.7-21.7m-8.6,5.1l8.6-5.1l-6.2,7.9M427,567l24-20.6m-8.4,4.8l8.4-4.8l-6,7.5M447,567l11.6-9.5m-4,2.2l4-2.2l-2.9,3.5M466,567l11.3-8.4m-3.9,1.9l3.9-1.9l-2.9,3.2M486,567l21.9-14.3m-7.4,3l7.4-3l-5.8,5.5M505,567l21.6-11.7m-7.1,2.3l7.1-2.3l-5.8,4.7M524,567l21.4-9.2m-6.9,1.5l6.9-1.5l-5.9,4M544,567l21.3-6.8m-6.8,.8l6.8-.8l-6,3.3M563,567l21.6-4.7m-6.7,.2l6.7-.2l-6.2,2.6M583,567l22-2.8m-6.8-.4l6.8,.4l-6.4,2.1M602,567l22.6-1.4m-6.9-.9l6.9,.9l-6.7,1.7M621,567l23.3-.4m-7-1.2l7,1.2l-7,1.5M641,567l23.9,0m-7.2-1.4l7.2,1.4l-7.2,1.4M660,567l24.5,0m-7.3-1.4l7.3,1.4l-7.3,1.4M680,567l24.9-.7m-7.5-1.2l7.5,1.2l-7.4,1.6M699,567l25-1.9m-7.6-.8l7.6,.8l-7.4,2M718,567l24.7-3.7m-7.6-.3l7.6,.3l-7.2,2.5M738,567l23.8-6m-7.5,.4l7.5-.4l-6.8,3.2M757,567l22.3-8.5m-7.2,1.3l7.2-1.3l-6.2,3.8M776,567l20.2-11m-6.7,2.2l6.7-2.2l-5.4,4.5M796,567l17.5-13.1m-6,2.9l6-2.9l-4.5,4.9M815,567l14.5-14.7m-5.2,3.6l5.2-3.6l-3.5,5.2M835,567l11.5-15.3m-4.3,3.9l4.3-3.9l-2.6,5.3M137,585l5.1-1.6m-1.6,.2l1.6-.2l-1.4,.8M156,585l6.2-2m-2,.3l2-.3l-1.8,1M175,585l7.3-2.6m-2.3,.4l2.3-.4l-2.1,1.2M195,585l8.4-3.3m-2.7,.5l2.7-.5l-2.3,1.5M214,585l9.4-4.2m-3.1,.7l3.1-.7l-2.6,1.8M234,585l10.4-5.2m-3.4,1l3.4-1l-2.8,2.1M253,585l11.2-6.2m-3.7,1.2l3.7-1.2l-3,2.5M272,585l23.7-14.8m-8,3.1l8-3.1l-6.3,5.8M292,585l24.8-17m-8.4,3.7l8.4-3.7l-6.5,6.5M311,585l25.5-19.2m-8.8,4.3l8.8-4.3l-6.6,7.2M330,585l25.9-21m-9,4.8l9-4.8l-6.6,7.8M350,585l26-22.5m-9.1,5.3l9.1-5.3l-6.5,8.2M369,585l25.8-23.4m-9.1,5.5l9.1-5.5l-6.4,8.5M389,585l25.4-23.7m-9,5.7l9-5.7l-6.3,8.6M408,585l24.7-23.3m-8.7,5.6l8.7-5.6l-6.1,8.4M427,585l23.9-22.3m-8.4,5.3l8.4-5.3l-5.9,8.1M447,585l23.1-20.7m-8.1,4.9l8.1-4.9l-5.7,7.5M466,585l22.3-18.7m-7.8,4.3l7.8-4.3l-5.6,6.9M486,585l10.9-8.1m-3.7,1.8l3.7-1.8l-2.8,3.1M505,585l21.3-13.7m-7.2,2.9l7.2-2.9l-5.6,5.3M524,585l21.2-11.1m-7,2.1l7-2.1l-5.7,4.5M544,585l21.3-8.7m-6.9,1.4l6.9-1.4l-5.9,3.8M563,585l21.4-6.5m-6.8,.7l6.8-.7l-6.1,3.2M583,585l21.8-4.6m-6.8,.1l6.8-.1l-6.3,2.6M602,585l22.3-3m-6.9-.4l6.9,.4l-6.5,2.2M621,585l22.9-1.9m-7-.7l7,.7l-6.8,1.9M641,585l23.4-1.3m-7.1-.9l7.1,.9l-6.9,1.7M660,585l23.8-1.2m-7.2-1l7.2,1l-7.1,1.7M680,585l23.9-1.6m-7.3-.9l7.3,.9l-7.1,1.8M699,585l23.8-2.6m-7.3-.6l7.3,.6l-7,2.1M718,585l23.3-4m-7.2-.1l7.2,.1l-6.8,2.5M738,585l22.3-5.8m-7,.5l7-.5l-6.4,3M757,585l20.8-7.8m-6.7,1.2l6.7-1.2l-5.8,3.5M776,585l18.8-9.8m-6.2,1.9l6.2-1.9l-5.1,4M796,585l16.4-11.5m-5.6,2.5l5.6-2.5l-4.3,4.4M815,585l13.8-12.8m-4.9,3l4.9-3l-3.4,4.6M835,585l11.2-13.5m-4.1,3.4l4.1-3.4l-2.6,4.7M137,604l10.2-4m-3.3,.6l3.3-.6l-2.8,1.8M156,604l6.2-2.4m-2,.4l2-.4l-1.7,1.1M175,604l7.2-2.9m-2.3,.5l2.3-.5l-2,1.3M195,604l8.2-3.6m-2.7,.6l2.7-.6l-2.3,1.6M214,604l9.2-4.4m-3,.8l3-.8l-2.5,1.9M234,604l10.1-5.4m-3.3,1l3.3-1l-2.7,2.2M253,604l10.8-6.4m-3.6,1.3l3.6-1.3l-2.9,2.5M272,604l22.8-15m-7.7,3.2l7.7-3.2l-6,5.8M292,604l23.7-17.2m-8.1,3.8l8.1-3.8l-6.1,6.5M311,604l24.3-19.3m-8.4,4.4l8.4-4.4l-6.2,7.2M330,604l24.5-21.1m-8.5,4.9l8.5-4.9l-6.1,7.7M350,604l24.4-22.5m-8.6,5.3l8.6-5.3l-6,8.1M369,604l24-23.3m-8.5,5.6l8.5-5.6l-5.9,8.4M389,604l23.4-23.6m-8.4,5.8l8.4-5.8l-5.7,8.4M408,604l22.7-23.3m-8.1,5.7l8.1-5.7l-5.5,8.3M427,604l21.8-22.4m-7.8,5.5l7.8-5.5l-5.3,7.9M447,604l20.9-20.8m-7.5,5.1l7.5-5.1l-5.1,7.4M466,604l20.1-18.9m-7.1,4.5l7.1-4.5l-5,6.8M486,604l19.5-16.6m-6.8,3.9l6.8-3.9l-4.9,6.1M505,604l19.2-14.2m-6.6,3.2l6.6-3.2l-4.9,5.3M524,604l19-11.7m-6.4,2.4l6.4-2.4l-5,4.6M544,604l19.2-9.2m-6.3,1.7l6.3-1.7l-5.2,3.9M563,604l19.5-7m-6.3,1l6.3-1l-5.5,3.2M583,604l20-5.1m-6.3,.4l6.3-.4l-5.7,2.7M602,604l20.5-3.5m-6.3-.1l6.3,.1l-5.9,2.2M621,604l21-2.3m-6.4-.5l6.4,.5l-6.2,1.9M641,604l21.5-1.6m-6.5-.7l6.5,.7l-6.3,1.7M660,604l21.8-1.3m-6.6-.8l6.6,.8l-6.5,1.6M680,604l21.9-1.6m-6.7-.8l6.7,.8l-6.5,1.7M699,604l21.7-2.3m-6.6-.5l6.6,.5l-6.4,1.9M718,604l21.1-3.4m-6.5-.2l6.5,.2l-6.1,2.2M738,604l20.1-4.9m-6.3,.3l6.3-.3l-5.8,2.6M757,604l18.7-6.6m-6,.9l6-.9l-5.2,3M776,604l16.9-8.2m-5.5,1.5l5.5-1.5l-4.6,3.4M796,604l14.8-9.7m-5,2.1l5-2.1l-3.9,3.7M815,604l12.5-10.9m-4.4,2.5l4.4-2.5l-3.1,4M835,604l10.3-11.7m-3.8,2.9l3.8-2.9l-2.4,4.1M137,622l9.3-4.3m-3,.8l3-.8l-2.5,1.8M156,622l11.2-5m-3.6,.9l3.6-.9l-3.1,2.1M175,622l6.5-2.9m-2.1,.5l2.1-.5l-1.8,1.3M195,622l7.5-3.5m-2.4,.6l2.4-.6l-2,1.5M214,622l8.3-4.3m-2.7,.8l2.7-.8l-2.3,1.8M234,622l9.1-5.1m-3,1l3-1l-2.4,2.1M253,622l9.7-6.1m-3.3,1.3l3.3-1.3l-2.6,2.4M272,622l20.4-14.1m-6.9,3.1l6.9-3.1l-5.3,5.4M292,622l21-16.1m-7.2,3.6l7.2-3.6l-5.4,6M311,622l21.3-18m-7.4,4.2l7.4-4.2l-5.4,6.6M330,622l21.3-19.7m-7.5,4.7l7.5-4.7l-5.3,7.1M350,622l21-20.9m-7.5,5.1l7.5-5.1l-5.1,7.5M369,622l20.5-21.7m-7.4,5.4l7.4-5.4l-4.9,7.7M389,622l19.8-22m-7.2,5.5l7.2-5.5l-4.7,7.7M408,622l18.9-21.7m-6.9,5.4l6.9-5.4l-4.4,7.6M427,622l18-20.8m-6.6,5.2l6.6-5.2l-4.2,7.3M447,622l17.1-19.4m-6.2,4.9l6.2-4.9l-4,6.8M466,622l16.4-17.7m-5.9,4.4l5.9-4.4l-3.9,6.2M486,622l7.9-7.8m-2.8,1.9l2.8-1.9l-1.9,2.8M505,622l15.6-13.3m-5.4,3.1l5.4-3.1l-3.9,4.9M524,622l7.8-5.5m-2.6,1.2l2.6-1.2l-2,2.1M544,622l15.8-8.7m-5.2,1.7l5.2-1.7l-4.2,3.5M563,622l16.2-6.6m-5.2,1.1l5.2-1.1l-4.5,2.9M583,622l16.8-4.7m-5.3,.5l5.3-.5l-4.8,2.4M602,622l17.5-3.2m-5.4,0l5.4,0l-5.1,2M621,622l18.2-2m-5.6-.4l5.6,.4l-5.3,1.6M641,622l18.7-1.2m-5.7-.7l5.7,.7l-5.5,1.4M660,622l19.1-.9m-5.8-.8l5.8,.8l-5.7,1.4M680,622l19.2-1m-5.8-.8l5.8,.8l-5.7,1.4M699,622l19-1.5m-5.8-.6l5.8,.6l-5.6,1.5M718,622l18.5-2.4m-5.7-.3l5.7,.3l-5.4,1.8M738,622l17.6-3.6m-5.5,.1l5.5-.1l-5.1,2.1M757,622l16.3-5m-5.2,.6l5.2-.6l-4.6,2.4M776,622l14.7-6.5m-4.8,1.1l4.8-1.1l-4.1,2.8M796,622l13-7.8m-4.3,1.6l4.3-1.6l-3.4,3.1M815,622l11.1-9m-3.8,2.1l3.8-2.1l-2.8,3.3M835,622l9.3-9.9m-3.4,2.4l3.4-2.4l-2.2,3.5M137,641l7.7-4.3m-2.6,.9l2.6-.9l-2.1,1.7M156,641l9.4-4.7m-3.1,.9l3.1-.9l-2.5,2M175,641l11-5.4m-3.6,1l3.6-1l-3,2.3M195,641l6.3-3.2m-2.1,.6l2.1-.6l-1.7,1.3M214,641l7-3.8m-2.3,.7l2.3-.7l-1.9,1.5M234,641l15.2-9m-5.1,1.8l5.1-1.8l-4.1,3.6M253,641l16.2-10.6m-5.5,2.3l5.5-2.3l-4.3,4.1M272,641l16.9-12.3m-5.8,2.7l5.8-2.7l-4.4,4.7M292,641l17.3-14.1m-6,3.2l6-3.2l-4.4,5.2M311,641l17.4-15.7m-6.1,3.7l6.1-3.7l-4.3,5.7M330,641l17.2-17.1m-6.1,4.2l6.1-4.2l-4.2,6.1M350,641l16.7-18.3m-6,4.5l6-4.5l-4,6.4M369,641l16-19m-5.9,4.8l5.9-4.8l-3.7,6.6M389,641l15.2-19.2m-5.6,4.9l5.6-4.9l-3.5,6.6M408,641l14.2-19m-5.4,4.9l5.4-4.9l-3.2,6.5M427,641l6.7-9.1m-2.5,2.4l2.5-2.4l-1.5,3.1M447,641l12.5-17m-4.7,4.4l4.7-4.4l-2.8,5.8M466,641l11.9-15.5m-4.5,4l4.5-4l-2.7,5.3M486,641l11.5-13.7m-4.2,3.5l4.2-3.5l-2.7,4.8M505,641l11.4-11.7m-4.1,2.9l4.1-2.9l-2.7,4.2M524,641l11.5-9.7m-4,2.2l4-2.2l-2.9,3.6M544,641l11.9-7.7m-4,1.6l4-1.6l-3.1,3M563,641l12.6-5.8m-4.1,1l4.1-1l-3.4,2.4M583,641l13.3-4.1m-4.2,.5l4.2-.5l-3.8,2M602,641l14.2-2.6m-4.4,0l4.4,0l-4.1,1.6M621,641l15-1.5m-4.6-.4l4.6,.4l-4.4,1.3M641,641l15.7-.7m-4.7-.7l4.7,.7l-4.7,1.1M660,641l16.2-.3m-4.9-.8l4.9,.8l-4.8,1M680,641l16.4-.3m-4.9-.8l4.9,.8l-4.9,1M699,641l16.4-.7m-5-.7l5,.7l-4.9,1.2M718,641l16-1.5m-4.9-.5l4.9,.5l-4.7,1.3M738,641l15.2-2.5m-4.7-.1l4.7,.1l-4.4,1.6M757,641l14.2-3.7m-4.5,.3l4.5-.3l-4,1.9M776,641l12.9-5m-4.1,.8l4.1-.8l-3.6,2.2M796,641l11.4-6.3m-3.8,1.2l3.8-1.2l-3.1,2.5M815,641l9.8-7.5m-3.4,1.7l3.4-1.7l-2.5,2.8M835,641l8.3-8.5m-3,2.1l3-2.1l-2,3M137,659l5.9-4.2m-2,.9l2-.9l-1.5,1.6M156,659l7.3-4.4m-2.4,.9l2.4-.9l-1.9,1.7M175,659l8.6-4.8m-2.9,.9l2.9-.9l-2.3,1.9M195,659l9.9-5.4m-3.3,1.1l3.3-1.1l-2.7,2.2M214,659l11.1-6.3m-3.7,1.3l3.7-1.3l-3,2.5M234,659l12-7.4m-4,1.5l4-1.5l-3.2,2.9M253,659l12.7-8.6m-4.3,1.9l4.3-1.9l-3.3,3.3M272,659l13.2-10m-4.5,2.3l4.5-2.3l-3.4,3.8M292,659l13.3-11.5m-4.6,2.7l4.6-2.7l-3.3,4.2M311,659l13.2-12.8m-4.7,3.1l4.7-3.1l-3.2,4.6M330,659l12.8-14m-4.6,3.5l4.6-3.5l-3,4.9M350,659l12.1-15m-4.5,3.8l4.5-3.8l-2.8,5.2M369,659l11.3-15.6m-4.3,4l4.3-4l-2.5,5.3M389,659l10.5-15.9m-4,4.2l4-4.2l-2.2,5.4M408,659l4.8-7.9m-1.9,2.1l1.9-2.1l-1,2.6M427,659l8.7-15.2m-3.5,4.1l3.5-4.1l-1.8,5M447,659l8-14.2m-3.2,3.8l3.2-3.8l-1.6,4.7M466,659l7.5-13m-3,3.5l3-3.5l-1.5,4.3M486,659l7.3-11.6m-2.9,3.1l2.9-3.1l-1.5,3.9M505,659l7.4-9.9m-2.8,2.6l2.8-2.6l-1.7,3.4M524,659l7.8-8.3m-2.8,2l2.8-2l-1.9,2.9M544,659l8.4-6.6m-2.9,1.5l2.9-1.5l-2.1,2.4M563,659l9.2-5m-3.1,1l3.1-1l-2.5,2M583,659l10.2-3.5m-3.3,.5l3.3-.5l-2.9,1.6M602,659l11.2-2.2m-3.5,0l3.5,0l-3.2,1.3M621,659l12.2-1.2m-3.7-.3l3.7,.3l-3.6,1M641,659l13.1-.4m-3.9-.6l3.9,.6l-3.9,.9M660,659l13.7,0m-4.1-.8l4.1,.8l-4.1,.8M680,659l14.1,0m-4.2-.8l4.2,.8l-4.2,.8M699,659l14.2-.2m-4.3-.7l4.3,.7l-4.2,.9M718,659l13.9-.8m-4.2-.6l4.2,.6l-4.1,1M738,659l13.4-1.6m-4.1-.3l4.1,.3l-3.9,1.3M757,659l12.5-2.7m-3.9,.1l3.9-.1l-3.6,1.5M776,659l11.4-3.9m-3.6,.5l3.6-.5l-3.2,1.8M796,659l10.1-5.1m-3.3,.9l3.3-.9l-2.8,2.1M815,659l8.8-6.2m-3,1.4l3-1.4l-2.3,2.4M835,659l7.5-7.3m-2.7,1.7l2.7-1.7l-1.8,2.6M137,677l4.1-4.1m-1.5,1l1.5-1l-1,1.5M156,677l5.2-4.1m-1.8,.9l1.8-.9l-1.3,1.5M175,677l6.4-4.2m-2.1,.9l2.1-.9l-1.7,1.6M195,677l7.4-4.5m-2.5,.9l2.5-.9l-2,1.8M214,677l8.3-5m-2.8,1l2.8-1l-2.2,2M234,677l9-5.7m-3,1.2l3-1.2l-2.4,2.2M253,677l9.5-6.6m-3.2,1.4l3.2-1.4l-2.5,2.5M272,677l9.7-7.6m-3.3,1.7l3.3-1.7l-2.5,2.8M292,677l9.6-8.7m-3.4,2.1l3.4-2.1l-2.4,3.2M311,677l9.3-9.8m-3.4,2.4l3.4-2.4l-2.2,3.5M330,677l8.8-10.8m-3.2,2.7l3.2-2.7l-2,3.7M350,677l8.1-11.6m-3.1,3l3.1-3l-1.8,3.9M369,677l7.2-12.2m-2.9,3.2l2.9-3.2l-1.5,4.1M389,677l6.3-12.4m-2.6,3.4l2.6-3.4l-1.2,4.1M408,677l5.5-12.4m-2.3,3.4l2.3-3.4l-.9,4M427,677l4.7-12.1m-2.1,3.4l2.1-3.4l-.7,3.9M447,677l4.2-11.5m-1.9,3.2l1.9-3.2l-.6,3.7M466,677l3.9-10.7m-1.8,3l1.8-3l-.5,3.4M486,677l1.9-4.8m-.8,1.3l.8-1.3l-.3,1.5M505,677l2.1-4.2m-.9,1.1l.9-1.1l-.4,1.4M524,677l2.4-3.5m-.9,.9l.9-.9l-.5,1.2M544,677l2.8-2.9m-1,.7l1-.7l-.7,1M563,677l6.6-4.5m-2.2,1l2.2-1l-1.7,1.7M583,677l7.7-3.2m-2.5,.5l2.5-.5l-2.1,1.4M602,677l8.9-2.1m-2.8,.1l2.8-.1l-2.6,1.2M621,677l10.1-1.2m-3.1-.2l3.1,.2l-3,.9M641,677l11.1-.5m-3.4-.5l3.4,.5l-3.3,.8M660,677l11.9-.1m-3.6-.6l3.6,.6l-3.6,.7M680,677l12.4,.1m-3.7-.7l3.7,.7l-3.7,.7M699,677l12.6-.1m-3.8-.7l3.8,.7l-3.8,.7M718,677l12.4-.5m-3.8-.6l3.8,.6l-3.7,.9M738,677l12-1.2m-3.7-.3l3.7,.3l-3.5,1M757,677l11.3-2m-3.5,0l3.5,0l-3.3,1.2M776,677l10.3-3.1m-3.3,.3l3.3-.3l-2.9,1.5M796,677l9.2-4.2m-3,.7l3-.7l-2.5,1.8M815,677l8-5.3m-2.7,1.1l2.7-1.1l-2.1,2M835,677l6.9-6.3m-2.4,1.5l2.4-1.5l-1.7,2.3M137,696l2.6-4.2m-1,1.1l1-1.1l-.5,1.4M156,696l3.5-3.9m-1.3,1l1.3-1l-.8,1.4M175,696l4.4-3.8m-1.5,.9l1.5-.9l-1.1,1.4M195,696l5.3-3.8m-1.8,.8l1.8-.8l-1.4,1.4M214,696l6-4m-2,.9l2-.9l-1.6,1.5M234,696l6.5-4.3m-2.2,.9l2.2-.9l-1.7,1.7M253,696l6.8-4.8m-2.3,1.1l2.3-1.1l-1.8,1.8M272,696l6.9-5.5m-2.4,1.2l2.4-1.2l-1.7,2M292,696l6.7-6.2m-2.4,1.5l2.4-1.5l-1.6,2.2M311,696l6.2-7m-2.3,1.7l2.3-1.7l-1.5,2.4M330,696l5.6-7.7m-2.1,2l2.1-2l-1.2,2.6M350,696l4.8-8.4m-1.9,2.2l1.9-2.2l-1,2.8M369,696l4-8.9m-1.7,2.5l1.7-2.5l-.7,2.9M389,696l1.5-4.6m-.7,1.3l.7-1.3l-.2,1.5M408,696l2.3-9.4m-1.2,2.7l1.2-2.7l-.2,3M427,696l1.7-9.4m-1,2.7l1-2.7l0,2.9M447,696l1.2-9.1m-.9,2.7l.9-2.7l.1,2.8M466,696l1.1-8.6m-.8,2.5l.8-2.5l.2,2.7M486,696l1.3-8m-.8,2.3l.8-2.3l.1,2.5M505,696l1.7-7.2m-.9,2.1l.9-2.1l-.1,2.3M524,696l1.2-3.1m-.6,.9l.6-.9l-.2,1M544,696l1.8-2.7M563,696l4.7-4.3m-1.7,1l1.7-1l-1.2,1.6M583,696l6-3.4m-2,.7l2-.7l-1.6,1.4M602,696l7.4-2.4m-2.3,.3l2.3-.3l-2.1,1.2M621,696l8.6-1.6m-2.7,0l2.7,0l-2.5,1M641,696l9.7-1m-3-.3l3,.3l-2.9,.8M660,696l10.6-.5m-3.2-.5l3.2,.5l-3.1,.8M680,696l11.2-.2m-3.4-.6l3.4,.6l-3.3,.7M699,696l11.4-.2m-3.4-.6l3.4,.6l-3.4,.7M718,696l11.4-.5m-3.4-.5l3.4,.5l-3.4,.8M738,696l11-1m-3.4-.3l3.4,.3l-3.2,.9M757,696l10.4-1.6m-3.2-.1l3.2,.1l-3,1.1M776,696l9.5-2.5m-3,.2l3-.2l-2.7,1.3M796,696l8.5-3.5m-2.7,.6l2.7-.6l-2.3,1.5M815,696l7.4-4.5m-2.5,.9l2.5-.9l-2,1.8M835,696l6.4-5.5m-2.2,1.3l2.2-1.3l-1.6,2M137,714l.7-2.2M156,714l1.1-2M175,714l2.9-3.7m-1.1,.9l1.1-.9l-.7,1.3M195,714l3.6-3.4m-1.3,.8l1.3-.8l-.9,1.2M214,714l4.2-3.3m-1.4,.7l1.4-.7l-1.1,1.2M234,714l4.6-3.3m-1.6,.7l1.6-.7l-1.2,1.2M253,714l4.8-3.4m-1.6,.8l1.6-.8l-1.2,1.3M272,714l4.7-3.7m-1.6,.8l1.6-.8l-1.2,1.4M292,714l4.4-4.1m-1.6,1l1.6-1l-1.1,1.5M311,714l3.9-4.6m-1.4,1.1l1.4-1.1l-.9,1.6M330,714l3.2-5.1m-1.3,1.3l1.3-1.3l-.7,1.7M350,714l2.5-5.6m-1.1,1.6l1.1-1.6l-.4,1.8M369,714l1.6-6.1m-.8,1.8l.8-1.8l-.1,1.9M389,714l.4-3.3m-.3,1l.3-1l.1,1M408,714l0-3.4m-.2,1l.2-1l.2,1M427,714l-.4-7.1m-.3,2.1l.3-2.1l.5,2.1M447,714l-.7-7.1m-.2,2.2l.2-2.2l.6,2.1M466,714l-.7-7m-.2,2.1l.2-2.1l.6,2.1M486,714l-.4-6.7m-.3,2l.3-2l.5,2M505,714l.2-6.3m-.4,1.9l.4-1.9l.3,1.9M524,714l1.1-5.8m-.7,1.7l.7-1.7l0,1.8M544,714l2.2-5.2m-1,1.4l1-1.4l-.4,1.7M563,714l3.6-4.5m-1.3,1.1l1.3-1.1l-.8,1.5M583,714l5-3.7m-1.7,.8l1.7-.8l-1.3,1.4M602,714l6.4-3m-2.1,.5l2.1-.5l-1.7,1.3M621,714l7.7-2.3m-2.4,.2l2.4-.2l-2.2,1.1M641,714l8.8-1.6m-2.7,0l2.7,0l-2.6,1M660,714l9.8-1.1m-3-.2l3,.2l-2.9,.9M680,714l10.4-.8m-3.2-.4l3.2,.4l-3.1,.8M699,714l10.7-.6m-3.2-.4l3.2,.4l-3.2,.8M718,714l10.6-.7m-3.2-.4l3.2,.4l-3.1,.8M738,714l10.3-1m-3.1-.3l3.1,.3l-3,.9M757,714l9.7-1.5m-3-.1l3,.1l-2.8,1M776,714l8.8-2.1m-2.8,.1l2.8-.1l-2.5,1.1M796,714l7.9-2.9m-2.5,.4l2.5-.4l-2.2,1.3M815,714l6.9-3.8m-2.3,.8l2.3-.8l-1.8,1.5M835,714l5.9-4.7m-2,1.1l2-1.1l-1.5,1.8M137,731l.2-2.3M156,731l.6-2.1M175,731l1.8-3.7m-.8,1l.8-1l-.3,1.2M195,731l2.4-3.3m-.9,.8l.9-.8l-.5,1.1M214,731l3-2.9m-1.1,.7l1.1-.7l-.7,1M234,731l3.3-2.6m-1.1,.6l1.1-.6l-.8,1M253,731l3.4-2.5m-1.2,.5l1.2-.5l-.9,.9M272,731l3.3-2.5m-1.1,.6l1.1-.6l-.8,.9M292,731l3-2.6m-1,.6l1-.6l-.7,.9M311,731l2.4-2.8m-.9,.7l.9-.7l-.6,1M330,731l1.8-3.2m-.7,.9l.7-.9l-.3,1.1M350,731l.5-1.8M369,731l.1-2M389,731l-.3-2.3M408,731l-.6-2.5M427,731l-1.6-5.3m.2,1.7l-.2-1.7l.8,1.5M447,731l-1.8-5.6m.2,1.8l-.2-1.8l.9,1.6M466,731l-1.7-5.8m.2,1.8l-.2-1.8l.8,1.6M486,731l-1.3-5.8m.1,1.8l-.1-1.8l.7,1.7M505,731l-.6-5.7m-.1,1.8l.1-1.8l.5,1.7M524,731l.4-5.5m-.4,1.6l.4-1.6l.2,1.7M544,731l1.6-5.2m-.8,1.5l.8-1.5l-.2,1.6M563,731l3-4.7m-1.2,1.2l1.2-1.2l-.6,1.6M583,731l4.4-4.2m-1.6,1l1.6-1l-1.1,1.5M602,731l5.9-3.6m-2,.7l2-.7l-1.6,1.4M621,731l7.2-2.9m-2.3,.5l2.3-.5l-2,1.3M641,731l8.4-2.3m-2.6,.2l2.6-.2l-2.4,1.2M660,731l9.3-1.8m-2.9,0l2.9,0l-2.7,1.1M680,731l9.9-1.4m-3-.2l3,.2l-2.9,1M699,731l10.2-1.1m-3.1-.3l3.1,.3l-3,.9M718,731l10.1-1m-3.1-.3l3.1,.3l-3,.9M738,731l9.8-1.1m-3-.2l3,.2l-2.9,.9M757,731l9.2-1.4m-2.8-.1l2.8,.1l-2.7,.9M776,731l8.3-1.8m-2.6,.1l2.6-.1l-2.4,1M796,731l7.4-2.5m-2.4,.3l2.4-.3l-2.1,1.2M815,731l6.4-3.2m-2.1,.6l2.1-.6l-1.7,1.3M835,731l5.4-4.1m-1.9,.9l1.9-.9l-1.4,1.5M137,748l-.2-2.4M156,748l.1-2.2M175,748l.9-3.9m-.5,1.1l.5-1.1l-.1,1.2M195,748l1.5-3.3m-.6,.9l.6-.9l-.3,1.1M214,748l2-2.7m-.7,.7l.7-.7l-.4,.9M234,748l2.3-2.3m-.8,.5l.8-.5l-.6,.8M253,748l2.4-1.9M272,748l2.3-1.6M292,748l1.9-1.5M311,748l1.4-1.5M330,748l.8-1.6M350,748l1.2,.4M369,748l-.4-1.2M389,748l-.7-1.4M408,748l-2-3.3m.4,1.1l-.4-1.1l.8,.9M427,748l-2.4-3.8m.5,1.3l-.5-1.3l.9,1M447,748l-2.5-4.3m.5,1.4l-.5-1.4l1,1.1M466,748l-2.3-4.7m.4,1.5l-.4-1.5l1,1.3M486,748l-1.8-5m.2,1.6l-.2-1.6l.8,1.4M505,748l-1-5.2m0,1.6l0-1.6l.6,1.5M524,748l.1-5.3m-.3,1.6l.3-1.6l.3,1.6M544,748l1.3-5.2m-.7,1.5l.7-1.5l-.1,1.6M563,748l2.7-5m-1.1,1.3l1.1-1.3l-.5,1.6M583,748l4.2-4.6m-1.5,1.1l1.5-1.1l-1,1.6M602,748l5.6-4.1m-1.9,.9l1.9-.9l-1.5,1.6M621,748l7-3.6m-2.3,.7l2.3-.7l-1.9,1.5M641,748l8.1-3m-2.6,.4l2.6-.4l-2.3,1.4M660,748l9-2.5m-2.8,.2l2.8-.2l-2.6,1.3M680,748l9.6-2m-3,0l3,0l-2.8,1.1M699,748l9.8-1.6m-3-.1l3,.1l-2.9,1M718,748l9.7-1.3m-3-.2l3,.2l-2.8,.9M738,748l9.3-1.2m-2.9-.2l2.9,.2l-2.7,.9M757,748l8.7-1.3m-2.7-.1l2.7,.1l-2.5,.9M776,748l7.9-1.6m-2.4,0l2.4,0l-2.3,.9M796,748l6.9-2m-2.2,.2l2.2-.2l-2,1M815,748l5.9-2.6m-1.9,.5l1.9-.5l-1.6,1.1M835,748l4.9-3.3m-1.7,.7l1.7-.7l-1.3,1.3" fill="none" stroke="#050505" stroke-width="1.55" stroke-linecap="round" stroke-linejoin="round"/>
<path d="M612.7,542.1 609.4,534.6 606.6,527.6 602.4,519.2 595.4,509.5 587.1,499.7 578.7,490 574.6,480.3 567.6,470.5 559.2,460.8 550.9,451 542.5,442.7 534.2,434.3 528.6,424.6 523,413.4 517.5,402.3 511.9,391.1 503.5,380 466.7,337.8 455.3,319.6 447.6,301.5 444.4,278.8 446.2,256.1 442.6,239.2 437.8,225.3 439.2,211.4 439.9,204.4 437.8,194.7 435.7,186.3 433.6,182.4 428,181.4" fill="none" stroke="#000" stroke-width="5.2" stroke-linejoin="round" stroke-linecap="butt"/>
<path d="M436.4,185.6 438.5,175.2 442.6,165.4 446.8,161.3 452.4,158.5 458,157.1 463.5,158.5 470.5,162.6 477.5,167.5 486.1,172.7" fill="none" stroke="#000" stroke-width="5.2" stroke-linejoin="round" stroke-linecap="butt"/>
<path d="M846.1,531.8 834.9,530.4 826.6,526.2 818.2,517.8 809.9,508.1 802.9,498.4 795.9,487.2 787.6,471.9 779.2,458 772.3,448.8 772,445.2 782,443.5 788.1,440.2 787.6,433.5 776.4,431.5 768.1,427.3 759.7,420.4 748.6,412 737.5,405.1 727.7,398.1 723.5,388.4 719.4,380 670.9,337.8 657.3,319.6 650.5,301.5 646,274.2 643.7,247 646,224.3 648.2,201.6" fill="none" stroke="#000" stroke-width="5.2" stroke-linejoin="round" stroke-linecap="butt"/>
<circle cx="428.3" cy="181.3" r="6" fill="#000"/>
<path d="M448.5,268.4 451.1,276 459.2,276.2 452.8,281.1 455.1,288.8 448.5,284.2 441.8,288.8 444.2,281.1 437.7,276.2 445.8,276Z" fill="#ff0d0d"/>
<path d="M771.7,419.6 774.4,427.2 782.5,427.4 776,432.2 778.4,440 771.7,435.4 765.1,440 767.5,432.2 761,427.4 769.1,427.2Z" fill="#ff0d0d"/>
</g>
<path d="M117,27.2V759.4H846.4" fill="none" stroke="#000" stroke-width="2.8"/>
<path d="M117,28.6H845.6" fill="none" stroke="#000" stroke-width="2"/>
<path d="M845.6,28.6V759.4" fill="none" stroke="#1a1a30" stroke-width="1.6"/>
<text class="ser" x="105.8" y="44.1" font-size="44.3" text-anchor="end">45°N</text>
<text class="ser" x="105.8" y="235.3" font-size="44.3" text-anchor="end">35°N</text>
<text class="ser" x="105.8" y="412.7" font-size="44.3" text-anchor="end">25°N</text>
<text class="ser" x="105.8" y="581.3" font-size="44.3" text-anchor="end">15°N</text>
<text class="ser" x="105.8" y="745.0" font-size="44.3" text-anchor="end">5°N</text>
<text class="ser" x="197.8" y="798.8" font-size="42.7" text-anchor="middle">105°E</text>
<text class="ser" x="359.7" y="798.8" font-size="42.7" text-anchor="middle">115°E</text>
<text class="ser" x="521.6" y="798.8" font-size="42.7" text-anchor="middle">125°E</text>
<text class="ser" x="683.5" y="798.8" font-size="42.7" text-anchor="middle">135°E</text>
<text class="ser" x="845.4" y="798.8" font-size="42.7" text-anchor="middle">145°E</text>
<rect x="868" y="27.6" width="46" height="731.2" fill="url(#cb)" stroke="#3a3a3a" stroke-width="1.2"/>
<text class="ser" x="926" y="775.3" font-size="43.8">0</text>
<path d="M905.5,667.2H914" stroke="#333" stroke-width="1.3"/>
<text class="ser" x="926" y="683.9" font-size="43.8">1</text>
<path d="M905.5,575.8H914" stroke="#333" stroke-width="1.3"/>
<text class="ser" x="926" y="592.5" font-size="43.8">2</text>
<path d="M905.5,484.4H914" stroke="#333" stroke-width="1.3"/>
<text class="ser" x="926" y="501.1" font-size="43.8">3</text>
<path d="M905.5,393.0H914" stroke="#333" stroke-width="1.3"/>
<text class="ser" x="926" y="409.7" font-size="43.8">4</text>
<path d="M905.5,301.6H914" stroke="#333" stroke-width="1.3"/>
<text class="ser" x="926" y="318.3" font-size="43.8">5</text>
<path d="M905.5,210.2H914" stroke="#333" stroke-width="1.3"/>
<text class="ser" x="926" y="226.9" font-size="43.8">6</text>
<path d="M905.5,118.8H914" stroke="#333" stroke-width="1.3"/>
<text class="ser" x="926" y="135.5" font-size="43.8">7</text>
<text class="ser" x="926" y="44.1" font-size="43.8">8</text>
<text class="ser" transform="translate(1024.6,419.3) rotate(-90)" font-size="51.4" text-anchor="middle">significant wave height(m)</text>
</g>
<text class="ser" x="525" y="941.2" font-size="60" text-anchor="middle">(<tspan font-weight="bold">a</tspan>)</text>
<text class="ser" x="1684.1" y="941.2" font-size="60" text-anchor="middle">(<tspan font-weight="bold">b</tspan>)</text>
<text class="ser" x="525" y="1958.7" font-size="60" text-anchor="middle">(<tspan font-weight="bold">c</tspan>)</text>
<text class="ser" x="1684.1" y="1958.7" font-size="60" text-anchor="middle">(<tspan font-weight="bold">d</tspan>)</text>
<text class="ser" x="525" y="2975.2" font-size="60" text-anchor="middle">(<tspan font-weight="bold">e</tspan>)</text>
<text class="ser" x="1684.1" y="2975.2" font-size="60" text-anchor="middle">(<tspan font-weight="bold">f</tspan>)</text>
</svg></body></html>
